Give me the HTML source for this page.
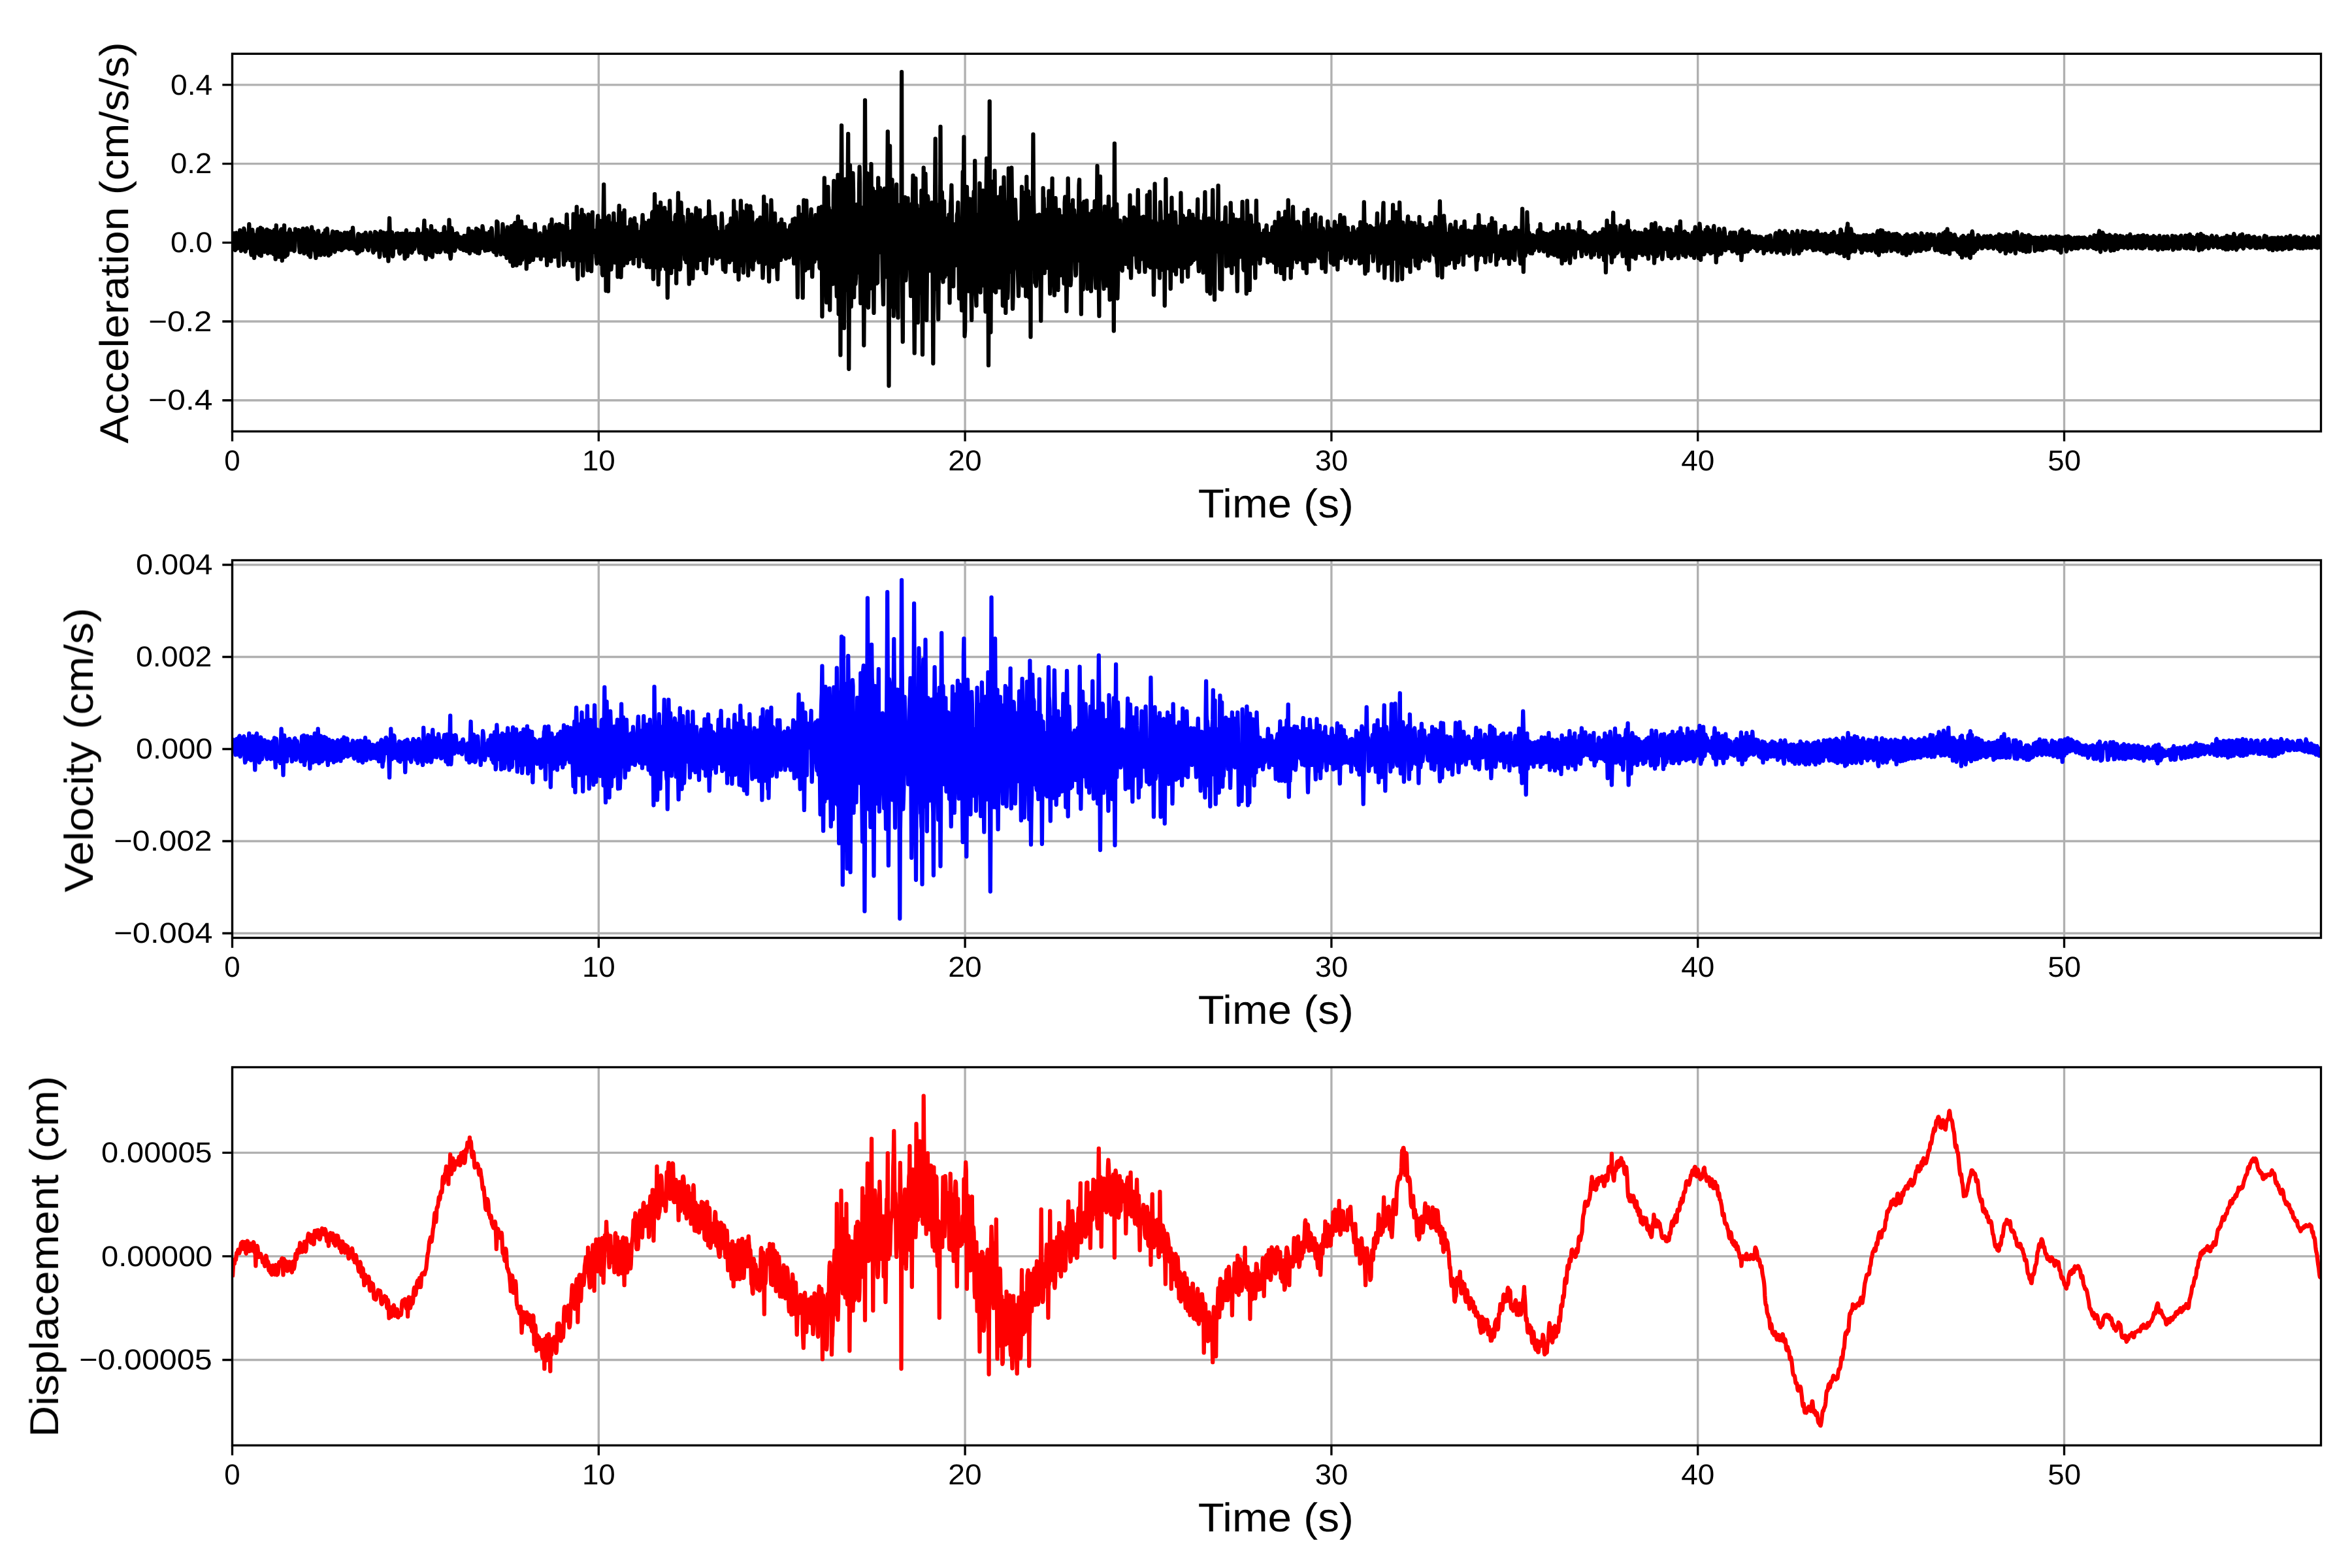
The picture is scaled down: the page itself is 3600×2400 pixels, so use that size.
<!DOCTYPE html>
<html><head><meta charset="utf-8"><title>Acceleration, Velocity, Displacement</title>
<style>html,body{margin:0;padding:0;background:#fff}body{width:3600px;height:2400px;overflow:hidden;font-family:"Liberation Sans",sans-serif}svg{display:block}</style></head>
<body>
<svg width="3600" height="2400" viewBox="0 0 3600 2400">
<rect width="3600" height="2400" fill="#fff"/>
<defs><clipPath id="c0"><rect x="355.5" y="82.3" width="3197.0" height="578.0"/></clipPath><clipPath id="c1"><rect x="355.5" y="857.5" width="3197.0" height="578.0"/></clipPath><clipPath id="c2"><rect x="355.5" y="1633.5" width="3197.0" height="578.8"/></clipPath></defs>
<g><path d="M355.50,82.30V660.30M916.30,82.30V660.30M1477.10,82.30V660.30M2037.90,82.30V660.30M2598.70,82.30V660.30M3159.50,82.30V660.30M355.50,129.86H3552.50M355.50,250.58H3552.50M355.50,371.30H3552.50M355.50,492.02H3552.50M355.50,612.74H3552.50" stroke="#b0b0b0" stroke-width="3.333" fill="none"/><path clip-path="url(#c0)" d="M355.5,376.9 356.1,379.9 356.6,376.3 357.2,365.4 357.7,362.8 358.3,357.2 358.9,363.3 359.4,377.6 360.0,383.0 360.5,381.5 361.1,359.9 361.7,356.3 362.2,365.7 362.8,380.5 363.4,379.1 363.9,376.9 364.5,379.7 365.0,378.0 365.6,364.1 366.2,360.0 366.7,359.6 367.3,352.4 367.8,358.7 368.4,378.7 369.0,384.1 369.5,377.1 370.1,358.3 370.6,357.3 371.2,372.2 371.8,381.0 372.3,380.0 372.9,358.0 373.4,349.7 374.0,351.8 374.6,376.7 375.1,384.0 375.7,384.9 376.2,375.1 376.8,357.3 377.4,365.6 377.9,380.4 378.5,379.2 379.1,364.2 379.6,361.2 380.2,366.3 380.7,362.0 381.3,343.2 381.9,355.2 382.4,362.7 383.0,365.0 383.5,368.4 384.1,386.6 384.7,390.3 385.2,384.3 385.8,354.2 386.3,351.6 386.9,357.2 387.5,362.2 388.0,361.8 388.6,378.9 389.1,394.8 389.7,388.1 390.3,382.1 390.8,386.8 391.4,387.7 392.0,374.6 392.5,359.3 393.1,358.7 393.6,358.4 394.2,354.4 394.8,351.0 395.3,352.4 395.9,370.7 396.4,388.7 397.0,390.1 397.6,385.5 398.1,365.8 398.7,348.7 399.2,383.5 399.8,391.5 400.4,377.4 400.9,353.3 401.5,350.3 402.0,353.2 402.6,366.5 403.2,378.8 403.7,379.9 404.3,383.6 404.9,385.6 405.4,383.3 406.0,380.7 406.5,380.1 407.1,365.6 407.7,352.9 408.2,351.4 408.8,351.3 409.3,381.9 409.9,387.8 410.5,381.4 411.0,373.5 411.6,368.6 412.1,359.2 412.7,353.3 413.3,358.1 413.8,382.8 414.4,386.6 414.9,382.5 415.5,382.9 416.1,384.9 416.6,366.8 417.2,354.3 417.7,363.0 418.3,388.7 418.9,389.1 419.4,364.2 420.0,351.9 420.6,355.1 421.1,380.2 421.7,396.7 422.2,360.1 422.8,345.0 423.4,357.1 423.9,378.5 424.5,387.4 425.0,382.8 425.6,360.2 426.2,359.2 426.7,386.7 427.3,393.1 427.8,391.2 428.4,374.7 429.0,357.2 429.5,353.8 430.1,351.4 430.6,350.9 431.2,354.9 431.8,398.9 432.3,388.0 432.9,383.7 433.5,374.7 434.0,373.9 434.6,367.9 435.1,345.0 435.7,379.7 436.3,393.0 436.8,375.7 437.4,360.0 437.9,357.9 438.5,374.2 439.1,388.2 439.6,390.5 440.2,389.1 440.7,378.1 441.3,356.7 441.9,356.6 442.4,358.3 443.0,353.2 443.5,351.3 444.1,355.4 444.7,375.0 445.2,382.4 445.8,381.3 446.3,375.8 446.9,364.3 447.5,357.5 448.0,358.3 448.6,369.5 449.2,379.1 449.7,383.4 450.3,384.1 450.8,383.4 451.4,376.5 452.0,350.6 452.5,364.3 453.1,365.0 453.6,360.0 454.2,356.7 454.8,359.2 455.3,366.5 455.9,366.0 456.4,356.9 457.0,352.1 457.6,353.5 458.1,377.2 458.7,386.0 459.2,386.1 459.8,382.4 460.4,356.9 460.9,353.5 461.5,360.6 462.1,375.8 462.6,375.6 463.2,364.5 463.7,349.8 464.3,373.3 464.9,376.1 465.4,387.8 466.0,373.6 466.5,366.1 467.1,374.4 467.7,383.3 468.2,385.8 468.8,378.7 469.3,352.8 469.9,349.4 470.5,351.3 471.0,364.6 471.6,384.3 472.1,389.9 472.7,390.2 473.3,381.1 473.8,363.8 474.4,376.6 475.0,393.3 475.5,385.6 476.1,367.2 476.6,353.5 477.2,347.6 477.8,356.9 478.3,364.9 478.9,364.2 479.4,358.6 480.0,354.7 480.6,357.4 481.1,376.8 481.7,383.5 482.2,383.3 482.8,388.2 483.4,394.8 483.9,382.3 484.5,369.0 485.0,386.9 485.6,390.5 486.2,363.2 486.7,353.5 487.3,353.4 487.8,367.3 488.4,380.0 489.0,362.4 489.5,360.1 490.1,377.8 490.7,390.4 491.2,371.4 491.8,374.1 492.3,386.4 492.9,387.8 493.5,382.0 494.0,368.4 494.6,360.1 495.1,357.5 495.7,367.5 496.3,388.3 496.8,389.9 497.4,376.5 497.9,352.5 498.5,353.1 499.1,372.0 499.6,378.4 500.2,356.8 500.7,349.8 501.3,356.1 501.9,372.8 502.4,380.8 503.0,391.1 503.6,379.9 504.1,374.6 504.7,376.4 505.2,386.6 505.8,388.9 506.4,385.3 506.9,365.1 507.5,361.2 508.0,362.8 508.6,357.3 509.2,354.2 509.7,356.8 510.3,366.1 510.8,375.0 511.4,378.8 512.0,384.1 512.5,385.6 513.1,382.8 513.6,361.6 514.2,355.4 514.8,360.1 515.3,375.2 515.9,364.9 516.4,355.0 517.0,366.2 517.6,381.1 518.1,381.4 518.7,373.5 519.3,361.3 519.8,365.3 520.4,375.5 520.9,365.0 521.5,357.5 522.1,358.9 522.6,383.0 523.2,382.2 523.7,382.1 524.3,373.3 524.9,360.4 525.4,373.0 526.0,380.2 526.5,377.8 527.1,362.6 527.7,356.1 528.2,359.6 528.8,367.9 529.3,378.1 529.9,378.6 530.5,372.2 531.0,359.1 531.6,356.4 532.2,357.5 532.7,364.3 533.3,377.2 533.8,380.4 534.4,381.2 535.0,377.6 535.5,373.4 536.1,368.7 536.6,359.3 537.2,354.6 537.8,361.3 538.3,379.7 538.9,380.3 539.4,359.0 540.0,348.7 540.6,355.8 541.1,368.4 541.7,368.3 542.2,372.9 542.8,380.7 543.4,382.6 543.9,380.6 544.5,379.0 545.1,376.9 545.6,374.0 546.2,377.3 546.7,387.8 547.3,364.6 547.9,358.9 548.4,357.9 549.0,363.2 549.5,383.5 550.1,385.2 550.7,377.5 551.2,359.7 551.8,359.8 552.3,366.4 552.9,374.8 553.5,378.2 554.0,381.2 554.6,383.0 555.1,375.3 555.7,361.6 556.3,359.3 556.8,361.8 557.4,373.9 557.9,376.8 558.5,369.3 559.1,362.3 559.6,356.1 560.2,360.4 560.8,375.9 561.3,378.7 561.9,372.4 562.4,375.3 563.0,381.9 563.6,383.0 564.1,379.1 564.7,371.9 565.2,368.6 565.8,363.9 566.4,357.9 566.9,356.0 567.5,357.1 568.0,365.5 568.6,376.8 569.2,366.5 569.7,361.0 570.3,372.4 570.8,384.8 571.4,386.5 572.0,384.0 572.5,379.4 573.1,381.9 573.7,383.2 574.2,355.0 574.8,362.5 575.3,361.5 575.9,359.3 576.5,356.7 577.0,358.3 577.6,370.5 578.1,382.1 578.7,373.6 579.3,361.6 579.8,365.5 580.4,386.6 580.9,393.3 581.5,389.0 582.1,364.1 582.6,354.2 583.2,357.6 583.7,369.8 584.3,369.7 584.9,360.2 585.4,363.6 586.0,382.1 586.5,377.8 587.1,356.0 587.7,357.2 588.2,385.3 588.8,391.6 589.4,390.8 589.9,386.6 590.5,374.4 591.0,358.6 591.6,357.1 592.2,358.0 592.7,356.5 593.3,362.1 593.8,386.7 594.4,399.6 595.0,384.3 595.5,357.6 596.1,334.0 596.6,352.5 597.2,355.8 597.8,367.7 598.3,386.3 598.9,386.8 599.4,363.8 600.0,355.6 600.6,381.3 601.1,392.4 601.7,390.3 602.3,375.1 602.8,367.5 603.4,374.6 603.9,364.2 604.5,362.0 605.1,378.3 605.6,378.7 606.2,359.6 606.7,357.6 607.3,366.9 607.9,376.8 608.4,365.0 609.0,357.2 609.5,359.8 610.1,364.4 610.7,380.6 611.2,386.7 611.8,388.2 612.3,381.3 612.9,359.7 613.5,358.0 614.0,369.3 614.6,385.2 615.2,374.6 615.7,357.6 616.3,357.7 616.8,372.6 617.4,384.1 618.0,378.1 618.5,373.2 619.1,382.6 619.6,395.9 620.2,387.1 620.8,375.5 621.3,356.0 621.9,352.4 622.4,358.1 623.0,388.2 623.6,392.3 624.1,387.4 624.7,368.0 625.2,363.4 625.8,366.8 626.4,367.9 626.9,362.7 627.5,358.3 628.0,357.5 628.6,361.0 629.2,379.0 629.7,386.4 630.3,386.7 630.9,385.2 631.4,379.1 632.0,363.1 632.5,357.9 633.1,365.7 633.7,380.2 634.2,381.1 634.8,378.2 635.3,375.1 635.9,366.5 636.5,359.9 637.0,357.7 637.6,361.1 638.1,364.7 638.7,356.5 639.3,350.8 639.8,351.6 640.4,358.1 640.9,375.6 641.5,383.0 642.1,386.7 642.6,384.6 643.2,384.6 643.8,384.4 644.3,380.2 644.9,364.9 645.4,358.6 646.0,357.4 646.6,361.8 647.1,382.4 647.7,387.5 648.2,364.5 648.8,349.4 649.4,337.7 649.9,354.2 650.5,362.5 651.0,383.1 651.6,396.7 652.2,391.0 652.7,362.8 653.3,352.2 653.8,357.3 654.4,365.5 655.0,363.9 655.5,374.1 656.1,387.2 656.6,388.7 657.2,386.0 657.8,388.7 658.3,390.6 658.9,386.8 659.5,365.9 660.0,346.1 660.6,352.6 661.1,377.9 661.7,393.3 662.3,385.3 662.8,356.0 663.4,354.5 663.9,370.0 664.5,379.1 665.1,362.9 665.6,353.6 666.2,353.4 666.7,358.5 667.3,363.5 667.9,374.6 668.4,385.6 669.0,385.8 669.5,368.8 670.1,357.2 670.7,359.8 671.2,364.7 671.8,370.1 672.4,375.6 672.9,380.1 673.5,386.0 674.0,385.1 674.6,383.8 675.2,372.6 675.7,358.0 676.3,360.2 676.8,364.6 677.4,364.7 678.0,376.4 678.5,380.4 679.1,363.5 679.6,348.3 680.2,347.5 680.8,361.6 681.3,381.1 681.9,384.9 682.4,382.4 683.0,380.2 683.6,372.6 684.1,362.8 684.7,358.6 685.3,355.4 685.8,369.2 686.4,385.8 686.9,372.9 687.5,336.6 688.1,350.3 688.6,381.8 689.2,393.2 689.7,395.9 690.3,390.6 690.9,362.9 691.4,349.2 692.0,352.6 692.5,376.2 693.1,377.9 693.7,360.7 694.2,358.0 694.8,365.3 695.3,379.1 695.9,383.8 696.5,382.3 697.0,364.0 697.6,357.9 698.1,373.0 698.7,378.2 699.3,364.5 699.8,357.2 700.4,359.8 701.0,363.5 701.5,371.4 702.1,369.8 702.6,363.2 703.2,362.7 703.8,377.5 704.3,380.6 704.9,380.8 705.4,366.4 706.0,363.6 706.6,374.2 707.1,370.0 707.7,363.5 708.2,363.6 708.8,366.7 709.4,383.0 709.9,368.3 710.5,360.9 711.0,363.4 711.6,374.3 712.2,374.3 712.7,376.8 713.3,383.8 713.9,384.1 714.4,373.6 715.0,360.5 715.5,369.6 716.1,375.8 716.7,356.9 717.2,349.8 717.8,361.4 718.3,386.3 718.9,387.8 719.5,379.2 720.0,354.5 720.6,356.3 721.1,367.9 721.7,360.5 722.3,354.2 722.8,365.4 723.4,383.2 723.9,381.7 724.5,368.2 725.1,359.0 725.6,355.9 726.2,357.2 726.7,376.0 727.3,385.2 727.9,383.6 728.4,358.9 729.0,349.9 729.6,354.6 730.1,382.7 730.7,387.1 731.2,380.2 731.8,351.7 732.4,353.0 732.9,379.4 733.5,387.8 734.0,382.0 734.6,367.9 735.2,360.6 735.7,370.6 736.3,379.4 736.8,379.8 737.4,374.5 738.0,359.4 738.5,346.1 739.1,350.2 739.6,354.0 740.2,364.4 740.8,364.5 741.3,365.5 741.9,380.7 742.5,383.8 743.0,382.4 743.6,373.9 744.1,357.2 744.7,361.2 745.3,375.5 745.8,383.0 746.4,369.5 746.9,361.6 747.5,378.4 748.1,382.9 748.6,374.4 749.2,354.9 749.7,356.8 750.3,377.7 750.9,381.3 751.4,366.9 752.0,351.0 752.5,349.2 753.1,353.6 753.7,362.7 754.2,372.9 754.8,380.5 755.4,385.1 755.9,385.6 756.5,382.5 757.0,377.2 757.6,373.4 758.2,374.4 758.7,378.1 759.3,382.4 759.8,390.4 760.4,338.8 761.0,339.9 761.5,340.1 762.1,351.6 762.6,382.8 763.2,384.7 763.8,383.9 764.3,383.8 764.9,379.8 765.4,362.7 766.0,371.7 766.6,389.3 767.1,383.2 767.7,373.6 768.2,365.7 768.8,357.3 769.4,343.2 769.9,348.1 770.5,353.6 771.1,362.6 771.6,367.8 772.2,382.7 772.7,389.0 773.3,384.1 773.9,357.7 774.4,362.9 775.0,387.7 775.5,394.8 776.1,356.5 776.7,347.7 777.2,351.6 777.8,375.5 778.3,385.6 778.9,369.1 779.5,352.4 780.0,356.1 780.6,392.8 781.1,400.4 781.7,394.8 782.3,356.9 782.8,346.1 783.4,358.9 784.0,367.5 784.5,392.7 785.1,407.0 785.6,390.5 786.2,346.6 786.8,344.0 787.3,362.6 787.9,360.3 788.4,341.1 789.0,345.4 789.6,394.8 790.1,400.4 790.7,406.2 791.2,393.6 791.8,383.7 792.4,351.6 792.9,331.4 793.5,379.7 794.0,390.7 794.6,378.4 795.2,355.9 795.7,383.4 796.3,403.4 796.8,399.3 797.4,344.9 798.0,338.8 798.5,353.2 799.1,397.5 799.7,383.5 800.2,347.4 800.8,351.4 801.3,386.9 801.9,393.3 802.5,389.8 803.0,392.6 803.6,379.8 804.1,352.7 804.7,347.6 805.3,383.6 805.8,411.4 806.4,394.7 806.9,363.0 807.5,355.5 808.1,353.8 808.6,352.8 809.2,358.2 809.7,391.5 810.3,401.2 810.9,400.2 811.4,393.2 812.0,367.0 812.6,353.1 813.1,353.9 813.7,367.0 814.2,367.3 814.8,353.7 815.4,353.9 815.9,397.8 816.5,392.6 817.0,392.7 817.6,383.1 818.2,356.9 818.7,343.2 819.3,351.3 819.8,353.3 820.4,358.6 821.0,375.4 821.5,386.5 822.1,390.3 822.6,391.3 823.2,384.9 823.8,362.5 824.3,360.6 824.9,379.3 825.5,388.4 826.0,363.3 826.6,357.2 827.1,370.3 827.7,396.7 828.3,387.8 828.8,384.7 829.4,385.3 829.9,385.7 830.5,377.8 831.1,360.8 831.6,368.4 832.2,391.1 832.7,373.9 833.3,347.6 833.9,352.6 834.4,359.6 835.0,363.3 835.5,357.8 836.1,359.4 836.7,394.2 837.2,405.9 837.8,388.8 838.3,354.6 838.9,372.8 839.5,395.1 840.0,387.4 840.6,354.1 841.2,346.4 841.7,344.2 842.3,346.1 842.8,362.3 843.4,399.6 844.0,366.4 844.5,335.8 845.1,379.8 845.6,390.4 846.2,388.6 846.8,373.1 847.3,357.7 847.9,380.1 848.4,390.3 849.0,393.0 849.6,383.2 850.1,363.2 850.7,347.5 851.2,343.9 851.8,348.4 852.4,362.6 852.9,357.3 853.5,353.6 854.1,386.1 854.6,398.4 855.2,407.0 855.7,362.0 856.3,343.2 856.9,382.6 857.4,382.3 858.0,359.1 858.5,361.8 859.1,381.3 859.7,368.9 860.2,350.4 860.8,345.7 861.3,349.9 861.9,374.6 862.5,392.6 863.0,405.1 863.6,386.8 864.1,356.6 864.7,360.0 865.3,394.2 865.8,398.6 866.4,381.5 866.9,344.3 867.5,328.4 868.1,345.4 868.6,352.0 869.2,368.1 869.8,392.1 870.3,395.2 870.9,384.8 871.4,370.8 872.0,388.8 872.6,398.1 873.1,395.1 873.7,366.3 874.2,354.4 874.8,357.9 875.4,353.4 875.9,393.5 876.5,407.7 877.0,381.1 877.6,327.7 878.2,384.9 878.7,397.8 879.3,394.2 879.8,382.1 880.4,362.0 881.0,351.3 881.5,347.9 882.1,341.2 882.7,316.6 883.2,340.5 883.8,409.6 884.3,427.3 884.9,385.6 885.5,331.2 886.0,334.9 886.6,362.2 887.1,391.7 887.7,397.0 888.3,398.6 888.8,394.9 889.4,382.4 889.9,350.6 890.5,321.1 891.1,345.8 891.6,395.3 892.2,421.7 892.7,409.4 893.3,346.8 893.9,329.1 894.4,333.2 895.0,365.8 895.6,387.8 896.1,378.1 896.7,373.2 897.2,382.0 897.8,389.5 898.4,391.7 898.9,395.8 899.5,413.6 900.0,378.1 900.6,328.4 901.2,350.8 901.7,387.6 902.3,374.2 902.8,342.1 903.4,336.8 904.0,350.7 904.5,405.4 905.1,415.1 905.6,399.7 906.2,339.4 906.8,324.8 907.3,360.1 907.9,382.2 908.4,362.1 909.0,360.8 909.6,381.7 910.1,385.9 910.7,365.9 911.3,352.8 911.8,370.2 912.4,393.1 912.9,397.7 913.5,403.3 914.1,355.4 914.6,337.5 915.2,330.3 915.7,343.3 916.3,366.7 916.9,390.1 917.4,394.8 918.0,374.8 918.5,338.1 919.1,361.1 919.7,403.9 920.2,396.4 920.8,343.1 921.3,382.5 921.9,419.2 922.5,421.3 923.0,384.3 923.6,326.2 924.2,282.4 924.7,331.0 925.3,334.6 925.8,331.9 926.4,334.3 927.0,355.0 927.5,445.0 928.1,408.1 928.6,399.7 929.2,381.8 929.8,385.4 930.3,398.9 930.9,445.7 931.4,391.6 932.0,330.3 932.6,347.1 933.1,342.5 933.7,341.2 934.2,353.8 934.8,404.5 935.4,412.5 935.9,405.5 936.5,383.6 937.0,343.7 937.6,343.9 938.2,358.1 938.7,354.5 939.3,326.6 939.9,342.0 940.4,384.2 941.0,401.9 941.5,395.0 942.1,386.1 942.7,383.8 943.2,367.6 943.8,353.2 944.3,342.7 944.9,348.8 945.5,423.6 946.0,409.7 946.6,374.3 947.1,337.0 947.7,314.8 948.3,357.7 948.8,391.3 949.4,406.5 949.9,406.8 950.5,424.3 951.1,396.1 951.6,390.0 952.2,340.8 952.8,326.1 953.3,329.1 953.9,391.9 954.4,406.3 955.0,362.4 955.6,321.8 956.1,364.3 956.7,397.1 957.2,392.4 957.8,379.4 958.4,357.1 958.9,354.0 959.5,377.8 960.0,402.6 960.6,356.1 961.2,347.8 961.7,357.3 962.3,382.4 962.8,393.9 963.4,396.8 964.0,387.5 964.5,339.3 965.1,335.7 965.7,342.9 966.2,376.2 966.8,386.4 967.3,388.0 967.9,385.6 968.5,377.8 969.0,383.6 969.6,403.3 970.1,390.4 970.7,347.5 971.3,334.0 971.8,353.0 972.4,392.0 972.9,383.9 973.5,346.2 974.1,343.5 974.6,354.8 975.2,374.2 975.7,368.3 976.3,373.1 976.9,387.5 977.4,393.6 978.0,407.7 978.5,397.1 979.1,380.4 979.7,355.0 980.2,382.8 980.8,392.4 981.4,381.3 981.9,350.9 982.5,344.8 983.0,343.7 983.6,329.2 984.2,345.7 984.7,366.5 985.3,391.4 985.8,399.6 986.4,387.5 987.0,350.0 987.5,340.7 988.1,343.2 988.6,357.6 989.2,385.1 989.8,408.8 990.3,392.8 990.9,374.8 991.4,355.6 992.0,362.4 992.6,371.0 993.1,337.7 993.7,378.4 994.3,405.0 994.8,409.0 995.4,393.1 995.9,345.3 996.5,348.5 997.1,390.0 997.6,362.6 998.2,325.6 998.7,324.6 999.3,397.5 999.9,427.3 1000.4,402.6 1001.0,361.6 1001.5,358.4 1002.1,297.1 1002.7,342.7 1003.2,399.6 1003.8,409.2 1004.3,384.5 1004.9,341.2 1005.5,322.2 1006.0,316.0 1006.6,327.6 1007.1,397.1 1007.7,435.4 1008.3,402.9 1008.8,388.9 1009.4,401.1 1010.0,412.3 1010.5,407.7 1011.1,310.0 1011.6,339.9 1012.2,332.5 1012.8,334.3 1013.3,345.7 1013.9,374.5 1014.4,382.6 1015.0,384.7 1015.6,396.2 1016.1,407.0 1016.7,349.7 1017.2,318.1 1017.8,345.4 1018.4,404.4 1018.9,411.8 1019.5,355.3 1020.0,324.9 1020.6,328.0 1021.2,404.4 1021.7,455.6 1022.3,422.5 1022.9,382.9 1023.4,352.3 1024.0,355.8 1024.5,343.2 1025.1,307.4 1025.7,334.8 1026.2,358.8 1026.8,396.3 1027.3,418.0 1027.9,399.6 1028.5,375.5 1029.0,341.3 1029.6,387.2 1030.1,400.8 1030.7,391.1 1031.3,387.1 1031.8,405.9 1032.4,408.8 1032.9,362.8 1033.5,331.4 1034.1,329.0 1034.6,352.8 1035.2,433.5 1035.8,338.6 1036.3,335.1 1036.9,354.7 1037.4,342.5 1038.0,295.3 1038.6,355.2 1039.1,381.1 1039.7,388.2 1040.2,409.1 1040.8,412.5 1041.4,408.4 1041.9,351.3 1042.5,310.0 1043.0,325.2 1043.6,364.7 1044.2,387.6 1044.7,347.2 1045.3,331.5 1045.8,341.1 1046.4,359.2 1047.0,364.4 1047.5,381.1 1048.1,397.0 1048.6,395.3 1049.2,376.6 1049.8,387.0 1050.3,401.3 1050.9,392.1 1051.5,357.3 1052.0,345.0 1052.6,336.2 1053.1,321.1 1053.7,345.9 1054.3,411.8 1054.8,434.6 1055.4,411.8 1055.9,393.9 1056.5,399.2 1057.1,398.6 1057.6,356.7 1058.2,337.6 1058.7,328.4 1059.3,343.3 1059.9,384.2 1060.4,426.2 1061.0,399.5 1061.5,381.2 1062.1,374.4 1062.7,392.4 1063.2,403.6 1063.8,406.2 1064.4,394.3 1064.9,336.2 1065.5,318.5 1066.0,329.5 1066.6,366.3 1067.2,410.7 1067.7,379.2 1068.3,347.0 1068.8,361.6 1069.4,391.9 1070.0,390.4 1070.5,366.9 1071.1,321.8 1071.6,393.5 1072.2,398.0 1072.8,375.2 1073.3,354.5 1073.9,385.1 1074.4,379.0 1075.0,340.1 1075.6,337.3 1076.1,348.9 1076.7,391.8 1077.2,412.5 1077.8,401.2 1078.4,388.9 1078.9,348.4 1079.5,334.0 1080.1,388.7 1080.6,418.0 1081.2,403.5 1081.7,396.8 1082.3,358.9 1082.9,332.1 1083.4,343.0 1084.0,391.7 1084.5,374.0 1085.1,308.2 1085.7,323.5 1086.2,341.9 1086.8,369.9 1087.3,381.1 1087.9,389.4 1088.5,382.9 1089.0,332.1 1089.6,367.2 1090.1,403.3 1090.7,394.6 1091.3,382.8 1091.8,360.7 1092.4,386.4 1093.0,391.9 1093.5,364.3 1094.1,331.4 1094.6,341.0 1095.2,359.4 1095.8,355.2 1096.3,348.3 1096.9,379.1 1097.4,395.9 1098.0,387.0 1098.6,356.8 1099.1,355.0 1099.7,368.3 1100.2,382.3 1100.8,392.7 1101.4,393.5 1101.9,378.7 1102.5,361.2 1103.0,373.7 1103.6,361.6 1104.2,341.6 1104.7,326.6 1105.3,337.8 1105.9,358.9 1106.4,401.3 1107.0,412.5 1107.5,393.1 1108.1,361.7 1108.7,354.8 1109.2,363.6 1109.8,393.4 1110.3,416.2 1110.9,402.1 1111.5,393.0 1112.0,362.0 1112.6,346.9 1113.1,356.1 1113.7,379.5 1114.3,370.9 1114.8,347.8 1115.4,344.7 1115.9,376.4 1116.5,401.5 1117.1,394.6 1117.6,382.0 1118.2,345.2 1118.7,334.3 1119.3,336.5 1119.9,366.2 1120.4,393.2 1121.0,397.6 1121.6,396.0 1122.1,390.8 1122.7,376.3 1123.2,307.4 1123.8,334.0 1124.4,354.0 1124.9,415.1 1125.5,389.2 1126.0,336.9 1126.6,324.8 1127.2,344.1 1127.7,393.7 1128.3,397.4 1128.8,366.0 1129.4,369.3 1130.0,403.8 1130.5,428.0 1131.1,395.0 1131.6,394.4 1132.2,406.9 1132.8,401.4 1133.3,337.6 1133.9,307.4 1134.5,330.2 1135.0,400.8 1135.6,394.6 1136.1,326.2 1136.7,323.3 1137.3,381.1 1137.8,417.3 1138.4,400.3 1138.9,360.9 1139.5,360.6 1140.1,373.3 1140.6,351.5 1141.2,361.5 1141.7,386.1 1142.3,354.6 1142.9,314.4 1143.4,334.2 1144.0,353.9 1144.5,393.3 1145.1,421.7 1145.7,394.3 1146.2,396.4 1146.8,407.1 1147.3,408.5 1147.9,390.9 1148.5,315.5 1149.0,332.1 1149.6,343.9 1150.2,345.3 1150.7,332.5 1151.3,324.8 1151.8,382.5 1152.4,412.5 1153.0,391.3 1153.5,374.1 1154.1,390.8 1154.6,398.6 1155.2,393.6 1155.8,384.6 1156.3,381.7 1156.9,363.0 1157.4,342.7 1158.0,339.7 1158.6,348.7 1159.1,348.5 1159.7,336.9 1160.2,344.4 1160.8,389.8 1161.4,401.5 1161.9,395.5 1162.5,366.5 1163.1,338.0 1163.6,332.9 1164.2,336.4 1164.7,347.1 1165.3,358.2 1165.9,362.1 1166.4,379.3 1167.0,405.6 1167.5,425.4 1168.1,409.6 1168.7,353.3 1169.2,300.8 1169.8,384.5 1170.3,404.1 1170.9,385.5 1171.5,342.7 1172.0,339.3 1172.6,339.5 1173.1,313.7 1173.7,338.6 1174.3,348.8 1174.8,367.1 1175.4,391.1 1176.0,400.8 1176.5,408.1 1177.1,430.9 1177.6,405.4 1178.2,388.8 1178.8,377.7 1179.3,377.3 1179.9,351.3 1180.4,306.3 1181.0,327.7 1181.6,332.2 1182.1,365.8 1182.7,407.7 1183.2,408.7 1183.8,385.6 1184.4,355.0 1184.9,363.2 1185.5,359.0 1186.0,326.6 1186.6,349.6 1187.2,351.3 1187.7,352.0 1188.3,376.2 1188.8,405.2 1189.4,413.8 1190.0,427.3 1190.5,407.7 1191.1,380.7 1191.7,355.7 1192.2,348.5 1192.8,342.2 1193.3,342.0 1193.9,353.7 1194.5,393.2 1195.0,397.9 1195.6,373.6 1196.1,335.8 1196.7,359.2 1197.3,390.6 1197.8,392.6 1198.4,386.3 1198.9,388.9 1199.5,386.5 1200.1,352.3 1200.6,342.8 1201.2,353.3 1201.7,392.9 1202.3,392.9 1202.9,395.9 1203.4,358.6 1204.0,353.7 1204.6,352.8 1205.1,356.2 1205.7,356.5 1206.2,354.9 1206.8,376.6 1207.4,392.2 1207.9,394.0 1208.5,384.7 1209.0,347.7 1209.6,344.9 1210.2,354.3 1210.7,381.1 1211.3,389.9 1211.8,389.1 1212.4,378.1 1213.0,354.4 1213.5,335.8 1214.1,354.0 1214.6,382.5 1215.2,403.3 1215.8,394.6 1216.3,351.5 1216.9,334.3 1217.4,335.3 1218.0,359.5 1218.6,385.2 1219.1,374.4 1219.7,386.9 1220.3,405.5 1220.8,454.9 1221.4,411.2 1221.9,392.1 1222.5,316.6 1223.1,376.2 1223.6,367.5 1224.2,336.8 1224.7,328.1 1225.3,331.6 1225.9,352.5 1226.4,382.2 1227.0,379.3 1227.5,380.5 1228.1,399.0 1228.7,455.6 1229.2,402.7 1229.8,351.6 1230.3,306.3 1230.9,339.4 1231.5,387.4 1232.0,412.1 1232.6,413.9 1233.2,397.8 1233.7,347.5 1234.3,307.1 1234.8,342.3 1235.4,350.9 1236.0,360.1 1236.5,377.9 1237.1,410.7 1237.6,379.4 1238.2,343.4 1238.8,339.7 1239.3,383.1 1239.9,402.5 1240.4,385.4 1241.0,329.7 1241.6,320.3 1242.1,349.1 1242.7,407.7 1243.2,423.6 1243.8,401.7 1244.4,373.4 1244.9,355.4 1245.5,380.0 1246.1,398.9 1246.6,400.8 1247.2,388.0 1247.7,341.6 1248.3,329.2 1248.9,333.6 1249.4,375.5 1250.0,382.9 1250.5,363.4 1251.1,380.3 1251.7,395.9 1252.2,378.4 1252.8,332.2 1253.3,318.1 1253.9,379.9 1254.5,409.5 1255.0,410.6 1255.6,368.8 1256.1,329.0 1256.7,317.5 1257.3,316.4 1257.8,365.6 1258.4,484.4 1258.9,431.3 1259.5,370.1 1260.1,397.6 1260.6,433.2 1261.2,394.0 1261.8,272.4 1262.3,312.4 1262.9,345.2 1263.4,341.4 1264.0,336.9 1264.6,431.7 1265.1,462.9 1265.7,459.3 1266.2,380.0 1266.8,306.8 1267.4,286.0 1267.9,323.9 1268.5,317.4 1269.0,322.8 1269.6,397.0 1270.2,474.5 1270.7,417.7 1271.3,389.6 1271.8,399.9 1272.4,382.5 1273.0,323.2 1273.5,345.7 1274.1,422.3 1274.7,434.6 1275.2,388.6 1275.8,298.7 1276.3,276.8 1276.9,330.8 1277.5,372.9 1278.0,332.9 1278.6,313.4 1279.1,312.3 1279.7,336.8 1280.3,430.9 1280.8,453.6 1281.4,435.7 1281.9,316.6 1282.5,267.6 1283.1,419.0 1283.6,480.7 1284.2,468.1 1284.7,437.7 1285.3,324.4 1285.9,324.1 1286.4,543.4 1287.0,412.6 1287.5,281.0 1288.1,192.0 1288.7,293.2 1289.2,383.5 1289.8,338.8 1290.4,291.7 1290.9,318.3 1291.5,453.4 1292.0,502.1 1292.6,442.6 1293.2,293.8 1293.7,274.3 1294.3,329.4 1294.8,442.3 1295.4,443.4 1296.0,431.5 1296.5,443.0 1297.1,396.1 1297.6,276.8 1298.2,204.9 1298.8,414.0 1299.3,564.8 1299.9,447.6 1300.4,308.4 1301.0,252.9 1301.6,294.2 1302.1,433.5 1302.7,469.5 1303.3,440.4 1303.8,352.3 1304.4,347.7 1304.9,316.4 1305.5,265.0 1306.1,294.7 1306.6,422.0 1307.2,454.9 1307.7,405.1 1308.3,330.7 1308.9,402.5 1309.4,434.5 1310.0,425.1 1310.5,349.2 1311.1,313.1 1311.7,327.6 1312.2,385.5 1312.8,394.0 1313.3,382.6 1313.9,414.9 1314.5,417.2 1315.0,288.8 1315.6,255.4 1316.2,279.6 1316.7,421.7 1317.3,464.1 1317.8,430.3 1318.4,352.0 1319.0,328.7 1319.5,403.1 1320.1,406.6 1320.6,317.7 1321.2,333.8 1321.8,448.8 1322.3,528.6 1322.9,432.1 1323.4,317.1 1324.0,153.3 1324.6,294.2 1325.1,320.3 1325.7,426.8 1326.2,466.9 1326.8,418.9 1327.4,266.2 1327.9,265.6 1328.5,422.6 1329.0,470.8 1329.6,437.8 1330.2,351.0 1330.7,310.5 1331.3,332.0 1331.9,439.5 1332.4,441.5 1333.0,315.3 1333.5,251.0 1334.1,381.3 1334.7,437.4 1335.2,373.7 1335.8,288.4 1336.3,301.7 1336.9,427.5 1337.5,478.9 1338.0,407.4 1338.6,302.1 1339.1,293.7 1339.7,310.0 1340.3,324.0 1340.8,365.4 1341.4,426.6 1341.9,433.9 1342.5,425.0 1343.1,432.8 1343.6,373.4 1344.2,272.4 1344.8,323.9 1345.3,386.5 1345.9,383.4 1346.4,299.5 1347.0,287.7 1347.6,311.8 1348.1,316.2 1348.7,294.5 1349.2,293.2 1349.8,321.2 1350.4,392.7 1350.9,428.2 1351.5,443.7 1352.0,466.0 1352.6,408.8 1353.2,290.3 1353.7,288.6 1354.3,353.0 1354.8,423.8 1355.4,423.0 1356.0,396.2 1356.5,393.2 1357.1,423.8 1357.6,396.2 1358.2,276.5 1358.8,201.3 1359.3,281.8 1359.9,416.4 1360.5,590.6 1361.0,441.1 1361.6,384.5 1362.1,223.4 1362.7,357.2 1363.3,455.7 1363.8,469.5 1364.4,446.4 1364.9,303.1 1365.5,275.0 1366.1,307.4 1366.6,402.6 1367.2,423.1 1367.7,483.7 1368.3,399.1 1368.9,324.7 1369.4,320.2 1370.0,365.6 1370.5,401.0 1371.1,339.1 1371.7,301.4 1372.2,282.4 1372.8,421.8 1373.4,470.6 1373.9,468.4 1374.5,486.2 1375.0,313.7 1375.6,314.8 1376.2,349.7 1376.7,388.7 1377.3,394.0 1377.8,361.8 1378.4,342.8 1379.0,354.1 1379.5,323.9 1380.1,110.2 1380.6,369.5 1381.2,452.1 1381.8,523.1 1382.3,420.8 1382.9,317.7 1383.4,307.6 1384.0,332.9 1384.6,317.1 1385.1,301.9 1385.7,387.7 1386.3,429.1 1386.8,422.6 1387.4,329.8 1387.9,316.7 1388.5,335.6 1389.1,347.2 1389.6,303.4 1390.2,382.5 1390.7,409.8 1391.3,392.6 1391.9,348.3 1392.4,368.2 1393.0,407.6 1393.5,422.9 1394.1,453.1 1394.7,401.6 1395.2,321.6 1395.8,312.0 1396.3,320.7 1396.9,315.8 1397.5,268.7 1398.0,339.0 1398.6,425.5 1399.1,463.2 1399.7,540.4 1400.3,452.2 1400.8,310.0 1401.4,273.1 1402.0,326.4 1402.5,363.3 1403.1,321.8 1403.6,314.3 1404.2,394.3 1404.8,493.6 1405.3,436.4 1405.9,345.8 1406.4,320.8 1407.0,322.1 1407.6,335.8 1408.1,394.7 1408.7,442.8 1409.2,448.1 1409.8,385.6 1410.4,291.6 1410.9,342.2 1411.5,446.5 1412.0,542.7 1412.6,439.2 1413.2,315.3 1413.7,256.6 1414.3,336.1 1414.9,451.7 1415.4,439.6 1416.0,330.8 1416.5,265.8 1417.1,306.3 1417.7,380.8 1418.2,489.9 1418.8,426.2 1419.3,324.1 1419.9,300.0 1420.5,304.5 1421.0,334.9 1421.6,387.0 1422.1,389.2 1422.7,400.3 1423.3,414.4 1423.8,404.1 1424.4,376.5 1424.9,339.3 1425.5,342.9 1426.1,344.4 1426.6,310.0 1427.2,362.0 1427.7,447.8 1428.3,556.3 1428.9,433.3 1429.4,405.8 1430.0,442.6 1430.6,425.6 1431.1,290.6 1431.7,212.3 1432.2,284.5 1432.8,343.4 1433.4,360.2 1433.9,313.1 1434.5,313.2 1435.0,420.2 1435.6,466.9 1436.2,488.8 1436.7,434.5 1437.3,315.9 1437.8,314.9 1438.4,353.0 1439.0,326.1 1439.5,193.9 1440.1,330.7 1440.6,425.5 1441.2,405.5 1441.8,294.0 1442.3,309.5 1442.9,421.1 1443.5,431.5 1444.0,406.4 1444.6,329.8 1445.1,308.2 1445.7,379.8 1446.3,423.6 1446.8,339.6 1447.4,334.4 1447.9,365.6 1448.5,376.0 1449.1,385.2 1449.6,408.8 1450.2,412.4 1450.7,415.7 1451.3,420.1 1451.9,386.3 1452.4,328.6 1453.0,344.7 1453.5,463.4 1454.1,407.4 1454.7,335.5 1455.2,310.5 1455.8,304.0 1456.4,283.5 1456.9,317.7 1457.5,418.1 1458.0,436.7 1458.6,431.7 1459.2,438.3 1459.7,397.6 1460.3,353.2 1460.8,343.4 1461.4,395.7 1462.0,406.4 1462.5,359.5 1463.1,354.3 1463.6,399.1 1464.2,366.6 1464.8,329.1 1465.3,326.6 1465.9,324.7 1466.4,310.0 1467.0,337.1 1467.6,419.7 1468.1,456.8 1468.7,421.2 1469.2,406.1 1469.8,364.3 1470.4,337.4 1470.9,389.8 1471.5,448.0 1472.1,475.2 1472.6,405.3 1473.2,326.4 1473.7,262.8 1474.3,313.3 1474.9,282.2 1475.4,209.7 1476.0,321.7 1476.5,514.6 1477.1,504.7 1477.7,433.6 1478.2,393.5 1478.8,390.6 1479.3,330.1 1479.9,286.0 1480.5,319.3 1481.0,402.3 1481.6,438.3 1482.1,445.6 1482.7,445.3 1483.3,434.6 1483.8,401.1 1484.4,325.4 1485.0,304.5 1485.5,305.3 1486.1,340.9 1486.6,446.9 1487.2,489.9 1487.8,402.3 1488.3,389.6 1488.9,431.5 1489.4,421.7 1490.0,318.5 1490.6,293.4 1491.1,309.7 1491.7,350.9 1492.2,246.2 1492.8,337.3 1493.4,443.9 1493.9,455.4 1494.5,467.8 1495.0,328.5 1495.6,376.9 1496.2,426.6 1496.7,404.3 1497.3,331.0 1497.8,384.7 1498.4,426.9 1499.0,362.0 1499.5,280.5 1500.1,333.7 1500.7,447.5 1501.2,404.6 1501.8,315.8 1502.3,322.2 1502.9,396.9 1503.5,400.7 1504.0,330.0 1504.6,291.6 1505.1,324.2 1505.7,427.9 1506.3,437.2 1506.8,334.1 1507.4,300.2 1507.9,422.8 1508.5,477.0 1509.1,443.7 1509.6,291.4 1510.2,242.5 1510.7,314.9 1511.3,399.4 1511.9,398.6 1512.4,414.0 1513.0,559.2 1513.6,421.6 1514.1,336.1 1514.7,155.2 1515.2,395.9 1515.8,451.6 1516.4,508.4 1516.9,414.2 1517.5,296.6 1518.0,277.8 1518.6,278.6 1519.2,291.2 1519.7,352.4 1520.3,439.9 1520.8,445.1 1521.4,425.0 1522.0,381.4 1522.5,261.3 1523.1,332.7 1523.6,403.9 1524.2,447.5 1524.8,417.9 1525.3,373.0 1525.9,332.6 1526.5,359.2 1527.0,400.3 1527.6,345.5 1528.1,301.6 1528.7,306.1 1529.3,400.4 1529.8,440.2 1530.4,436.9 1530.9,364.0 1531.5,306.9 1532.1,287.2 1532.6,336.5 1533.2,411.6 1533.7,416.7 1534.3,416.8 1534.9,467.8 1535.4,419.9 1536.0,336.7 1536.5,271.3 1537.1,304.0 1537.7,313.0 1538.2,318.2 1538.8,390.0 1539.3,478.9 1539.9,434.3 1540.5,330.5 1541.0,339.0 1541.6,441.0 1542.2,456.0 1542.7,444.8 1543.3,387.8 1543.8,257.7 1544.4,298.3 1545.0,317.9 1545.5,400.3 1546.1,415.9 1546.6,347.9 1547.2,302.8 1547.8,290.6 1548.3,256.6 1548.9,303.5 1549.4,408.2 1550.0,472.6 1550.6,452.1 1551.1,424.4 1551.7,387.4 1552.2,406.5 1552.8,404.4 1553.4,333.9 1553.9,305.6 1554.5,324.1 1555.1,341.1 1555.6,340.5 1556.2,340.4 1556.7,377.9 1557.3,409.7 1557.9,415.0 1558.4,431.3 1559.0,453.1 1559.5,422.3 1560.1,374.7 1560.7,375.4 1561.2,373.0 1561.8,339.0 1562.3,347.8 1562.9,387.6 1563.5,333.4 1564.0,286.0 1564.6,317.1 1565.1,420.1 1565.7,437.3 1566.3,418.9 1566.8,311.1 1567.4,295.0 1567.9,311.8 1568.5,341.0 1569.1,336.6 1569.6,401.3 1570.2,453.1 1570.8,424.6 1571.3,270.6 1571.9,417.3 1572.4,447.7 1573.0,422.4 1573.6,294.9 1574.1,292.9 1574.7,421.3 1575.2,455.3 1575.8,397.2 1576.4,302.8 1576.9,336.7 1577.5,515.7 1578.0,345.5 1578.6,318.2 1579.2,351.7 1579.7,396.3 1580.3,364.5 1580.8,330.2 1581.4,205.7 1582.0,301.5 1582.5,326.6 1583.1,330.8 1583.7,360.4 1584.2,432.8 1584.8,420.1 1585.3,434.5 1585.9,437.8 1586.5,423.2 1587.0,350.3 1587.6,330.9 1588.1,329.6 1588.7,341.3 1589.3,358.4 1589.8,347.3 1590.4,330.9 1590.9,328.5 1591.5,340.9 1592.1,393.5 1592.6,430.4 1593.2,491.0 1593.7,431.6 1594.3,400.9 1594.9,385.6 1595.4,405.6 1596.0,410.2 1596.6,287.9 1597.1,309.0 1597.7,303.3 1598.2,332.7 1598.8,418.0 1599.4,395.4 1599.9,326.6 1600.5,321.1 1601.0,364.6 1601.6,400.7 1602.2,409.2 1602.7,409.7 1603.3,408.3 1603.8,405.5 1604.4,353.7 1605.0,312.8 1605.5,292.3 1606.1,334.5 1606.6,411.2 1607.2,449.4 1607.8,414.0 1608.3,330.1 1608.9,311.9 1609.4,320.5 1610.0,328.5 1610.6,273.1 1611.1,393.7 1611.7,409.2 1612.3,365.9 1612.8,354.2 1613.4,427.8 1613.9,452.0 1614.5,424.1 1615.1,308.5 1615.6,303.2 1616.2,335.1 1616.7,402.5 1617.3,381.4 1617.9,358.9 1618.4,403.5 1619.0,421.8 1619.5,443.9 1620.1,370.1 1620.7,334.9 1621.2,321.1 1621.8,336.8 1622.3,362.7 1622.9,409.6 1623.5,421.3 1624.0,404.7 1624.6,340.0 1625.2,331.1 1625.7,362.2 1626.3,401.5 1626.8,364.0 1627.4,356.7 1628.0,418.1 1628.5,434.0 1629.1,398.8 1629.6,310.3 1630.2,301.4 1630.8,312.4 1631.3,351.7 1631.9,419.7 1632.4,476.3 1633.0,433.8 1633.6,411.1 1634.1,382.5 1634.7,273.1 1635.2,315.3 1635.8,311.8 1636.4,351.2 1636.9,412.8 1637.5,407.7 1638.0,417.1 1638.6,436.6 1639.2,428.4 1639.7,349.0 1640.3,329.9 1640.9,336.8 1641.4,329.2 1642.0,306.3 1642.5,343.8 1643.1,355.7 1643.7,331.8 1644.2,321.9 1644.8,333.7 1645.3,385.2 1645.9,412.4 1646.5,421.7 1647.0,419.9 1647.6,398.1 1648.1,360.8 1648.7,347.3 1649.3,333.3 1649.8,329.9 1650.4,336.8 1650.9,335.8 1651.5,283.5 1652.1,275.0 1652.6,363.3 1653.2,399.5 1653.8,378.3 1654.3,388.4 1654.9,480.7 1655.4,350.4 1656.0,311.8 1656.6,338.9 1657.1,436.1 1657.7,442.9 1658.2,424.9 1658.8,331.0 1659.4,308.6 1659.9,309.3 1660.5,328.0 1661.0,397.8 1661.6,419.1 1662.2,408.6 1662.7,356.3 1663.3,307.1 1663.8,381.2 1664.4,442.0 1665.0,418.1 1665.5,406.7 1666.1,399.7 1666.7,350.5 1667.2,327.5 1667.8,332.8 1668.3,343.6 1668.9,344.3 1669.5,384.2 1670.0,445.7 1670.6,412.2 1671.1,342.6 1671.7,323.2 1672.3,329.3 1672.8,379.7 1673.4,415.0 1673.9,412.2 1674.5,392.8 1675.1,344.9 1675.6,308.2 1676.2,333.9 1676.7,426.1 1677.3,440.6 1677.9,423.2 1678.4,326.6 1679.0,313.2 1679.5,254.0 1680.1,333.7 1680.7,360.0 1681.2,423.8 1681.8,437.9 1682.4,483.7 1682.9,340.7 1683.5,308.5 1684.0,270.2 1684.6,363.0 1685.2,396.6 1685.7,347.2 1686.3,327.2 1686.8,334.0 1687.4,354.3 1688.0,395.7 1688.5,421.6 1689.1,432.7 1689.6,442.0 1690.2,347.9 1690.8,316.2 1691.3,333.5 1691.9,363.8 1692.4,330.5 1693.0,317.8 1693.6,352.7 1694.1,425.7 1694.7,437.4 1695.3,430.8 1695.8,366.2 1696.4,320.4 1696.9,300.8 1697.5,330.8 1698.1,413.8 1698.6,458.6 1699.2,412.1 1699.7,342.6 1700.3,348.6 1700.9,397.1 1701.4,380.2 1702.0,328.9 1702.5,326.7 1703.1,332.2 1703.7,319.3 1704.2,332.6 1704.8,506.5 1705.3,376.7 1705.9,219.7 1706.5,333.3 1707.0,406.7 1707.6,426.6 1708.1,412.8 1708.7,328.5 1709.3,312.6 1709.8,358.8 1710.4,456.8 1711.0,431.1 1711.5,394.0 1712.1,338.3 1712.6,368.7 1713.2,388.1 1713.8,343.6 1714.3,337.7 1714.9,349.8 1715.4,352.7 1716.0,348.3 1716.6,367.4 1717.1,411.8 1717.7,414.4 1718.2,399.4 1718.8,359.1 1719.4,360.3 1719.9,384.7 1720.5,355.7 1721.0,333.1 1721.6,335.8 1722.2,385.9 1722.7,403.9 1723.3,397.3 1723.9,350.7 1724.4,335.8 1725.0,338.9 1725.5,341.2 1726.1,340.2 1726.7,350.8 1727.2,394.4 1727.8,409.6 1728.3,406.2 1728.9,366.4 1729.5,298.9 1730.0,385.9 1730.6,412.1 1731.1,425.4 1731.7,396.5 1732.3,353.8 1732.8,366.5 1733.4,390.3 1733.9,360.3 1734.5,335.6 1735.1,317.4 1735.6,332.0 1736.2,335.6 1736.8,346.5 1737.3,363.6 1737.9,381.8 1738.4,384.2 1739.0,387.5 1739.6,402.3 1740.1,409.5 1740.7,403.4 1741.2,345.1 1741.8,290.8 1742.4,329.8 1742.9,381.3 1743.5,416.2 1744.0,398.1 1744.6,367.5 1745.2,366.5 1745.7,392.1 1746.3,396.8 1746.8,364.4 1747.4,332.9 1748.0,336.3 1748.5,372.2 1749.1,364.0 1749.6,334.6 1750.2,331.6 1750.8,351.0 1751.3,392.9 1751.9,403.4 1752.5,416.2 1753.0,399.5 1753.6,368.5 1754.1,366.1 1754.7,396.7 1755.3,395.9 1755.8,298.9 1756.4,326.4 1756.9,329.7 1757.5,369.9 1758.1,406.9 1758.6,399.2 1759.2,347.5 1759.7,293.4 1760.3,377.8 1760.9,409.5 1761.4,408.8 1762.0,377.1 1762.5,338.6 1763.1,339.1 1763.7,350.7 1764.2,350.8 1764.8,354.0 1765.4,400.6 1765.9,451.2 1766.5,413.0 1767.0,362.8 1767.6,281.3 1768.2,336.6 1768.7,340.2 1769.3,340.7 1769.8,344.2 1770.4,354.5 1771.0,391.1 1771.5,408.7 1772.1,408.9 1772.6,389.5 1773.2,351.4 1773.8,363.8 1774.3,405.2 1774.9,425.4 1775.4,352.4 1776.0,309.3 1776.6,328.4 1777.1,348.7 1777.7,404.9 1778.2,413.0 1778.8,393.4 1779.4,339.3 1779.9,344.2 1780.5,380.4 1781.1,360.8 1781.6,344.6 1782.2,385.0 1782.7,467.8 1783.3,413.0 1783.9,368.5 1784.4,274.2 1785.0,341.6 1785.5,367.4 1786.1,354.6 1786.7,335.5 1787.2,347.9 1787.8,406.5 1788.3,410.5 1788.9,362.3 1789.5,329.8 1790.0,329.8 1790.6,348.0 1791.1,395.3 1791.7,442.0 1792.3,403.3 1792.8,381.3 1793.4,302.6 1794.0,374.0 1794.5,367.3 1795.1,364.3 1795.6,396.0 1796.2,413.0 1796.8,414.3 1797.3,399.8 1797.9,338.7 1798.4,325.2 1799.0,325.2 1799.6,341.6 1800.1,419.9 1800.7,375.6 1801.2,346.0 1801.8,357.9 1802.4,389.9 1802.9,393.1 1803.5,399.3 1804.0,407.1 1804.6,402.5 1805.2,397.5 1805.7,407.9 1806.3,404.6 1806.9,348.8 1807.4,295.3 1808.0,343.4 1808.5,391.5 1809.1,430.9 1809.7,349.4 1810.2,329.8 1810.8,330.4 1811.3,351.4 1811.9,397.3 1812.5,409.3 1813.0,409.6 1813.6,397.1 1814.1,368.7 1814.7,350.2 1815.3,337.6 1815.8,334.7 1816.4,350.2 1816.9,393.2 1817.5,401.1 1818.1,423.6 1818.6,401.5 1819.2,381.6 1819.7,338.1 1820.3,322.9 1820.9,338.2 1821.4,386.3 1822.0,403.9 1822.6,403.1 1823.1,400.6 1823.7,402.1 1824.2,397.3 1824.8,348.2 1825.4,328.7 1825.9,337.3 1826.5,396.0 1827.0,398.1 1827.6,348.4 1828.2,335.2 1828.7,348.0 1829.3,387.5 1829.8,390.8 1830.4,357.3 1831.0,361.1 1831.5,395.9 1832.1,380.3 1832.6,331.5 1833.2,305.2 1833.8,369.9 1834.3,404.5 1834.9,415.1 1835.5,399.2 1836.0,359.0 1836.6,342.2 1837.1,339.2 1837.7,341.5 1838.3,363.1 1838.8,392.1 1839.4,388.2 1839.9,367.0 1840.5,386.9 1841.1,406.5 1841.6,417.3 1842.2,385.8 1842.7,332.8 1843.3,327.7 1843.9,330.4 1844.4,294.2 1845.0,356.4 1845.5,389.1 1846.1,399.9 1846.7,402.2 1847.2,402.4 1847.8,445.7 1848.3,395.5 1848.9,355.2 1849.5,340.6 1850.0,338.8 1850.6,334.3 1851.2,337.3 1851.7,390.6 1852.3,449.4 1852.8,408.1 1853.4,382.7 1854.0,385.2 1854.5,397.1 1855.1,373.3 1855.6,335.3 1856.2,290.8 1856.8,335.3 1857.3,366.9 1857.9,402.6 1858.4,411.6 1859.0,458.6 1859.6,396.3 1860.1,343.9 1860.7,339.6 1861.2,361.1 1861.8,384.9 1862.4,376.6 1862.9,353.5 1863.5,338.9 1864.1,332.3 1864.6,284.2 1865.2,351.3 1865.7,370.1 1866.3,388.8 1866.9,408.2 1867.4,442.0 1868.0,365.6 1868.5,342.7 1869.1,398.9 1869.7,416.8 1870.2,443.1 1870.8,350.4 1871.3,340.8 1871.9,380.4 1872.5,381.4 1873.0,344.0 1873.6,341.2 1874.1,353.9 1874.7,350.7 1875.3,332.7 1875.8,317.4 1876.4,344.6 1877.0,407.5 1877.5,404.6 1878.1,349.1 1878.6,354.8 1879.2,405.4 1879.8,400.2 1880.3,345.7 1880.9,347.1 1881.4,397.5 1882.0,406.6 1882.6,399.8 1883.1,380.4 1883.7,310.7 1884.2,345.1 1884.8,400.2 1885.4,418.0 1885.9,379.3 1886.5,328.0 1887.0,328.5 1887.6,365.5 1888.2,403.0 1888.7,378.4 1889.3,339.4 1889.8,346.3 1890.4,394.9 1891.0,404.9 1891.5,373.4 1892.1,336.2 1892.7,348.1 1893.2,407.2 1893.8,445.7 1894.3,406.3 1894.9,381.7 1895.5,348.3 1896.0,337.0 1896.6,341.2 1897.1,377.5 1897.7,393.3 1898.3,359.7 1898.8,336.1 1899.4,340.4 1899.9,387.9 1900.5,392.6 1901.1,344.9 1901.6,308.9 1902.2,351.4 1902.7,393.4 1903.3,412.0 1903.9,413.4 1904.4,388.1 1905.0,340.5 1905.6,348.3 1906.1,354.9 1906.7,355.0 1907.2,394.8 1907.8,449.4 1908.4,373.4 1908.9,307.4 1909.5,337.6 1910.0,363.7 1910.6,384.1 1911.2,378.9 1911.7,393.6 1912.3,407.3 1912.8,443.9 1913.4,383.7 1914.0,334.1 1914.5,329.8 1915.1,340.5 1915.6,398.4 1916.2,403.3 1916.8,384.9 1917.3,359.0 1917.9,375.9 1918.4,394.3 1919.0,388.6 1919.6,347.7 1920.1,344.9 1920.7,391.8 1921.3,425.4 1921.8,388.5 1922.4,346.4 1922.9,307.1 1923.5,356.5 1924.1,391.8 1924.6,396.5 1925.2,376.3 1925.7,344.0 1926.3,343.2 1926.9,351.1 1927.4,379.8 1928.0,390.5 1928.5,403.3 1929.1,393.8 1929.7,377.7 1930.2,358.2 1930.8,372.8 1931.3,390.4 1931.9,391.0 1932.5,387.7 1933.0,384.5 1933.6,369.7 1934.2,356.6 1934.7,352.7 1935.3,353.9 1935.8,369.5 1936.4,391.6 1937.0,389.1 1937.5,357.7 1938.1,350.1 1938.6,345.0 1939.2,359.9 1939.8,383.8 1940.3,401.5 1940.9,391.6 1941.4,372.9 1942.0,357.5 1942.6,360.9 1943.1,380.8 1943.7,385.5 1944.2,378.4 1944.8,384.8 1945.4,397.9 1945.9,399.4 1946.5,382.3 1947.1,351.9 1947.6,347.8 1948.2,347.7 1948.7,352.8 1949.3,386.9 1949.9,402.2 1950.4,399.8 1951.0,370.0 1951.5,339.5 1952.1,356.0 1952.7,364.6 1953.2,416.2 1953.8,367.3 1954.3,354.7 1954.9,361.3 1955.5,401.2 1956.0,405.6 1956.6,380.7 1957.1,325.5 1957.7,346.3 1958.3,348.9 1958.8,347.9 1959.4,366.1 1959.9,402.1 1960.5,418.0 1961.1,405.8 1961.6,392.2 1962.2,353.1 1962.8,336.9 1963.3,334.1 1963.9,338.7 1964.4,357.6 1965.0,398.9 1965.6,427.3 1966.1,403.2 1966.7,365.0 1967.2,324.0 1967.8,387.2 1968.4,388.7 1968.9,352.0 1969.5,352.9 1970.0,399.1 1970.6,406.0 1971.2,364.0 1971.7,306.3 1972.3,336.2 1972.8,360.2 1973.4,367.2 1974.0,350.3 1974.5,347.6 1975.1,357.1 1975.7,425.4 1976.2,396.9 1976.8,408.4 1977.3,410.1 1977.9,395.9 1978.5,339.4 1979.0,316.6 1979.6,346.0 1980.1,389.3 1980.7,386.2 1981.3,346.4 1981.8,340.0 1982.4,356.1 1982.9,394.2 1983.5,396.8 1984.1,388.7 1984.6,386.1 1985.2,401.5 1985.7,387.7 1986.3,354.9 1986.9,339.5 1987.4,348.3 1988.0,359.5 1988.5,358.2 1989.1,346.7 1989.7,346.4 1990.2,379.9 1990.8,397.5 1991.4,394.8 1991.9,367.5 1992.5,358.5 1993.0,365.0 1993.6,376.2 1994.2,395.1 1994.7,410.7 1995.3,400.1 1995.8,379.7 1996.4,325.5 1997.0,339.1 1997.5,341.1 1998.1,351.4 1998.6,378.3 1999.2,395.8 1999.8,418.0 2000.3,381.4 2000.9,336.7 2001.4,321.1 2002.0,344.7 2002.6,386.3 2003.1,375.7 2003.7,343.9 2004.3,350.6 2004.8,394.0 2005.4,399.8 2005.9,385.8 2006.5,356.1 2007.1,382.8 2007.6,400.2 2008.2,399.5 2008.7,362.0 2009.3,334.2 2009.9,334.3 2010.4,346.8 2011.0,384.8 2011.5,393.7 2012.1,399.6 2012.7,350.9 2013.2,328.4 2013.8,373.6 2014.3,379.7 2014.9,355.3 2015.5,352.3 2016.0,368.2 2016.6,381.3 2017.2,388.3 2017.7,392.2 2018.3,386.8 2018.8,384.5 2019.4,394.5 2020.0,387.4 2020.5,341.7 2021.1,337.3 2021.6,332.9 2022.2,365.3 2022.8,395.9 2023.3,410.7 2023.9,388.0 2024.4,355.3 2025.0,349.7 2025.6,354.3 2026.1,370.1 2026.7,391.9 2027.2,396.4 2027.8,395.1 2028.4,400.1 2028.9,416.2 2029.5,399.3 2030.0,376.8 2030.6,359.3 2031.2,357.4 2031.7,354.2 2032.3,338.8 2032.9,348.0 2033.4,351.7 2034.0,363.7 2034.5,382.0 2035.1,361.7 2035.7,350.2 2036.2,359.7 2036.8,398.5 2037.3,402.1 2037.9,395.3 2038.5,362.9 2039.0,352.5 2039.6,354.8 2040.1,375.6 2040.7,393.9 2041.3,405.1 2041.8,381.8 2042.4,348.8 2042.9,339.5 2043.5,349.0 2044.1,361.0 2044.6,378.0 2045.2,378.7 2045.8,377.9 2046.3,390.7 2046.9,402.4 2047.4,412.5 2048.0,383.1 2048.6,345.4 2049.1,346.0 2049.7,354.3 2050.2,350.7 2050.8,342.1 2051.4,329.2 2051.9,368.5 2052.5,394.9 2053.0,390.6 2053.6,372.0 2054.2,376.9 2054.7,386.2 2055.3,385.8 2055.8,385.6 2056.4,387.3 2057.0,372.3 2057.5,332.9 2058.1,344.0 2058.6,363.4 2059.2,386.2 2059.8,397.8 2060.3,388.9 2060.9,358.8 2061.5,348.6 2062.0,351.4 2062.6,349.4 2063.1,349.0 2063.7,369.4 2064.3,392.6 2064.8,391.0 2065.4,368.2 2065.9,357.3 2066.5,365.7 2067.1,391.5 2067.6,402.6 2068.2,391.9 2068.7,374.8 2069.3,367.4 2069.9,373.6 2070.4,363.4 2071.0,347.6 2071.5,352.5 2072.1,352.8 2072.7,354.7 2073.2,371.6 2073.8,394.1 2074.4,395.7 2074.9,390.6 2075.5,377.0 2076.0,359.1 2076.6,361.6 2077.2,387.0 2077.7,390.3 2078.3,365.0 2078.8,350.7 2079.4,350.5 2080.0,359.5 2080.5,379.6 2081.1,403.3 2081.6,368.4 2082.2,340.2 2082.8,362.0 2083.3,393.5 2083.9,401.8 2084.4,401.4 2085.0,381.3 2085.6,341.3 2086.1,342.6 2086.7,366.6 2087.3,350.1 2087.8,309.3 2088.4,339.5 2088.9,402.0 2089.5,418.8 2090.1,402.6 2090.6,347.8 2091.2,343.9 2091.7,364.4 2092.3,376.7 2092.9,383.8 2093.4,414.4 2094.0,396.4 2094.5,363.3 2095.1,354.7 2095.7,387.0 2096.2,384.0 2096.8,348.2 2097.3,346.0 2097.9,349.5 2098.5,349.1 2099.0,347.6 2099.6,374.5 2100.1,379.5 2100.7,378.6 2101.3,389.9 2101.8,399.6 2102.4,393.9 2103.0,367.8 2103.5,349.8 2104.1,350.5 2104.6,355.7 2105.2,365.6 2105.8,383.7 2106.3,379.3 2106.9,351.1 2107.4,345.2 2108.0,326.6 2108.6,382.7 2109.1,399.7 2109.7,414.4 2110.2,403.3 2110.8,374.2 2111.4,353.8 2111.9,392.5 2112.5,403.1 2113.0,388.0 2113.6,353.0 2114.2,348.4 2114.7,343.9 2115.3,341.8 2115.9,344.6 2116.4,340.2 2117.0,321.1 2117.5,310.7 2118.1,359.9 2118.7,394.1 2119.2,425.4 2119.8,401.8 2120.3,395.4 2120.9,397.1 2121.5,384.8 2122.0,348.4 2122.6,346.2 2123.1,369.6 2123.7,397.4 2124.3,403.6 2124.8,402.1 2125.4,392.0 2125.9,360.0 2126.5,343.0 2127.1,339.9 2127.6,342.7 2128.2,341.6 2128.7,341.3 2129.3,363.3 2129.9,402.3 2130.4,428.4 2131.0,402.3 2131.6,358.5 2132.1,313.7 2132.7,350.9 2133.2,396.3 2133.8,394.6 2134.4,350.6 2134.9,346.1 2135.5,386.0 2136.0,394.3 2136.6,356.0 2137.2,324.8 2137.7,351.0 2138.3,395.5 2138.8,429.1 2139.4,392.6 2140.0,358.8 2140.5,387.9 2141.1,403.0 2141.6,385.4 2142.2,310.0 2142.8,338.6 2143.3,376.2 2143.9,372.1 2144.5,341.0 2145.0,351.0 2145.6,403.9 2146.1,427.3 2146.7,379.3 2147.3,340.5 2147.8,345.2 2148.4,374.5 2148.9,383.2 2149.5,361.9 2150.1,348.8 2150.6,346.2 2151.2,356.0 2151.7,392.9 2152.3,406.4 2152.9,407.2 2153.4,394.0 2154.0,346.5 2154.5,337.0 2155.1,331.4 2155.7,356.5 2156.2,390.2 2156.8,391.4 2157.4,388.4 2157.9,398.2 2158.5,416.2 2159.0,381.3 2159.6,341.9 2160.2,340.7 2160.7,360.0 2161.3,393.0 2161.8,382.7 2162.4,356.1 2163.0,363.5 2163.5,390.5 2164.1,389.2 2164.6,353.5 2165.2,341.4 2165.8,349.9 2166.3,400.8 2166.9,406.4 2167.4,399.4 2168.0,358.0 2168.6,347.1 2169.1,349.0 2169.7,347.4 2170.2,347.1 2170.8,370.9 2171.4,410.7 2171.9,379.9 2172.5,332.1 2173.1,387.2 2173.6,400.2 2174.2,399.2 2174.7,391.4 2175.3,380.7 2175.9,357.5 2176.4,345.8 2177.0,344.4 2177.5,350.4 2178.1,356.9 2178.7,352.9 2179.2,349.1 2179.8,353.9 2180.3,384.5 2180.9,396.9 2181.5,397.1 2182.0,388.4 2182.6,358.9 2183.1,350.1 2183.7,357.3 2184.3,388.0 2184.8,390.7 2185.4,363.0 2186.0,349.2 2186.5,355.9 2187.1,386.1 2187.6,398.9 2188.2,389.7 2188.8,376.3 2189.3,341.3 2189.9,355.2 2190.4,376.7 2191.0,384.6 2191.6,374.4 2192.1,352.4 2192.7,347.6 2193.2,350.1 2193.8,358.1 2194.4,378.6 2194.9,389.4 2195.5,390.1 2196.0,375.3 2196.6,345.6 2197.2,332.1 2197.7,341.7 2198.3,376.4 2198.8,396.5 2199.4,402.1 2200.0,405.1 2200.5,421.7 2201.1,357.1 2201.7,358.4 2202.2,388.8 2202.8,383.4 2203.3,343.4 2203.9,308.2 2204.5,342.0 2205.0,370.0 2205.6,379.5 2206.1,358.3 2206.7,375.7 2207.3,424.7 2207.8,399.6 2208.4,387.0 2208.9,380.2 2209.5,368.3 2210.1,330.3 2210.6,341.5 2211.2,343.0 2211.7,349.5 2212.3,374.9 2212.9,402.3 2213.4,405.5 2214.0,399.5 2214.6,383.3 2215.1,385.8 2215.7,383.3 2216.2,359.5 2216.8,357.8 2217.4,366.4 2217.9,403.3 2218.5,361.3 2219.0,351.6 2219.6,345.2 2220.2,343.9 2220.7,350.6 2221.3,387.0 2221.8,396.6 2222.4,393.5 2223.0,382.5 2223.5,370.8 2224.1,363.4 2224.6,352.0 2225.2,349.3 2225.8,382.7 2226.3,401.3 2226.9,409.9 2227.5,350.2 2228.0,339.5 2228.6,362.0 2229.1,368.0 2229.7,352.0 2230.3,352.9 2230.8,386.6 2231.4,399.5 2231.9,401.2 2232.5,399.5 2233.1,383.7 2233.6,355.0 2234.2,361.2 2234.7,388.1 2235.3,389.2 2235.9,361.8 2236.4,348.1 2237.0,347.3 2237.5,352.2 2238.1,360.6 2238.7,373.5 2239.2,379.8 2239.8,405.1 2240.3,384.6 2240.9,355.5 2241.5,338.8 2242.0,351.5 2242.6,380.7 2243.2,386.7 2243.7,384.4 2244.3,385.1 2244.8,386.5 2245.4,386.2 2246.0,383.9 2246.5,374.1 2247.1,356.2 2247.6,352.9 2248.2,355.0 2248.8,377.7 2249.3,391.5 2249.9,387.2 2250.4,366.3 2251.0,354.2 2251.6,363.2 2252.1,383.3 2252.7,389.3 2253.2,383.5 2253.8,373.4 2254.4,382.9 2254.9,387.1 2255.5,363.5 2256.1,353.7 2256.6,359.2 2257.2,367.5 2257.7,352.5 2258.3,347.0 2258.9,358.4 2259.4,398.0 2260.0,412.5 2260.5,399.0 2261.1,399.7 2261.7,396.9 2262.2,370.0 2262.8,346.3 2263.3,329.2 2263.9,346.9 2264.5,369.4 2265.0,390.2 2265.6,387.0 2266.1,370.0 2266.7,355.8 2267.3,348.6 2267.8,346.5 2268.4,348.9 2268.9,360.2 2269.5,383.5 2270.1,389.1 2270.6,390.9 2271.2,388.0 2271.8,367.5 2272.3,346.9 2272.9,384.7 2273.4,401.5 2274.0,393.8 2274.6,371.8 2275.1,352.9 2275.7,351.1 2276.2,355.1 2276.8,374.2 2277.4,388.0 2277.9,388.9 2278.5,373.3 2279.0,347.4 2279.6,343.9 2280.2,353.4 2280.7,388.3 2281.3,399.6 2281.8,391.7 2282.4,387.1 2283.0,369.4 2283.5,334.0 2284.1,362.7 2284.7,368.1 2285.2,382.2 2285.8,384.6 2286.3,354.9 2286.9,345.1 2287.5,347.0 2288.0,350.8 2288.6,340.6 2289.1,350.0 2289.7,363.4 2290.3,405.1 2290.8,383.3 2291.4,375.9 2291.9,389.7 2292.5,396.8 2293.1,395.7 2293.6,381.7 2294.2,361.8 2294.7,379.4 2295.3,389.3 2295.9,391.0 2296.4,388.6 2297.0,375.2 2297.6,354.8 2298.1,352.1 2298.7,358.4 2299.2,375.0 2299.8,365.2 2300.4,355.7 2300.9,359.3 2301.5,395.2 2302.0,366.1 2302.6,355.0 2303.2,346.1 2303.7,353.3 2304.3,362.3 2304.8,386.9 2305.4,392.9 2306.0,393.9 2306.5,391.2 2307.1,370.1 2307.6,355.8 2308.2,356.8 2308.8,367.9 2309.3,386.4 2309.9,404.0 2310.4,392.4 2311.0,369.1 2311.6,355.3 2312.1,358.4 2312.7,367.9 2313.3,361.4 2313.8,356.8 2314.4,364.3 2314.9,390.5 2315.5,394.8 2316.1,389.1 2316.6,355.4 2317.2,353.1 2317.7,376.9 2318.3,397.8 2318.9,381.0 2319.4,354.9 2320.0,348.7 2320.5,359.9 2321.1,375.7 2321.7,373.9 2322.2,362.9 2322.8,364.1 2323.3,364.4 2323.9,354.9 2324.5,353.3 2325.0,378.2 2325.6,391.7 2326.2,393.0 2326.7,394.0 2327.3,403.3 2327.8,388.9 2328.4,362.9 2329.0,355.3 2329.5,348.5 2330.1,319.6 2330.6,345.0 2331.2,385.2 2331.8,416.2 2332.3,391.9 2332.9,370.5 2333.4,368.6 2334.0,385.2 2334.6,391.4 2335.1,383.8 2335.7,364.2 2336.2,380.8 2336.8,385.9 2337.4,324.8 2337.9,341.9 2338.5,343.7 2339.0,363.9 2339.6,378.8 2340.2,358.5 2340.7,356.6 2341.3,368.6 2341.9,383.8 2342.4,387.6 2343.0,386.5 2343.5,379.2 2344.1,373.9 2344.7,382.7 2345.2,387.8 2345.8,365.6 2346.3,359.8 2346.9,362.0 2347.5,382.2 2348.0,383.1 2348.6,368.3 2349.1,361.5 2349.7,365.3 2350.3,375.8 2350.8,377.5 2351.4,375.8 2351.9,376.5 2352.5,378.7 2353.1,369.2 2353.6,353.8 2354.2,352.4 2354.8,360.8 2355.3,379.6 2355.9,384.1 2356.4,380.7 2357.0,373.4 2357.6,343.2 2358.1,359.0 2358.7,360.7 2359.2,359.4 2359.8,362.9 2360.4,364.2 2360.9,357.3 2361.5,355.9 2362.0,374.7 2362.6,384.5 2363.2,384.7 2363.7,373.2 2364.3,357.6 2364.8,363.7 2365.4,377.5 2366.0,380.5 2366.5,379.2 2367.1,365.2 2367.7,358.0 2368.2,358.7 2368.8,375.1 2369.3,391.5 2369.9,386.2 2370.5,377.2 2371.0,364.1 2371.6,364.3 2372.1,366.4 2372.7,363.1 2373.3,357.2 2373.8,370.5 2374.4,386.9 2374.9,388.3 2375.5,383.0 2376.1,362.5 2376.6,355.8 2377.2,354.6 2377.7,357.6 2378.3,380.3 2378.9,390.4 2379.4,388.6 2380.0,369.9 2380.5,359.6 2381.1,372.9 2381.7,387.6 2382.2,385.3 2382.8,356.3 2383.4,343.2 2383.9,367.3 2384.5,392.7 2385.0,384.9 2385.6,356.1 2386.2,366.9 2386.7,392.7 2387.3,387.9 2387.8,360.2 2388.4,355.0 2389.0,355.2 2389.5,360.1 2390.1,381.1 2390.6,403.3 2391.2,387.0 2391.8,360.6 2392.3,348.7 2392.9,362.0 2393.4,385.1 2394.0,373.3 2394.6,358.4 2395.1,381.1 2395.7,398.3 2396.3,398.1 2396.8,377.6 2397.4,354.3 2397.9,354.6 2398.5,360.3 2399.1,373.6 2399.6,376.1 2400.2,359.2 2400.7,343.9 2401.3,354.9 2401.9,374.9 2402.4,387.9 2403.0,402.6 2403.5,392.7 2404.1,391.7 2404.7,382.6 2405.2,359.8 2405.8,354.1 2406.3,354.8 2406.9,363.5 2407.5,386.0 2408.0,386.7 2408.6,363.8 2409.1,354.2 2409.7,363.7 2410.3,388.3 2410.8,394.1 2411.4,382.2 2412.0,380.0 2412.5,377.1 2413.1,363.9 2413.6,365.3 2414.2,380.6 2414.8,380.4 2415.3,360.0 2415.9,351.3 2416.4,350.6 2417.0,355.5 2417.6,340.2 2418.1,370.9 2418.7,376.4 2419.2,378.3 2419.8,382.6 2420.4,387.6 2420.9,392.2 2421.5,385.0 2422.0,360.9 2422.6,353.9 2423.2,355.0 2423.7,358.4 2424.3,368.6 2424.9,383.7 2425.4,383.8 2426.0,365.7 2426.5,356.1 2427.1,361.9 2427.7,381.6 2428.2,388.8 2428.8,386.2 2429.3,365.4 2429.9,360.3 2430.5,363.0 2431.0,376.1 2431.6,380.5 2432.1,373.2 2432.7,365.2 2433.3,362.7 2433.8,361.8 2434.4,366.4 2434.9,384.7 2435.5,394.1 2436.1,385.6 2436.6,382.2 2437.2,375.1 2437.8,361.4 2438.3,359.0 2438.9,365.8 2439.4,389.4 2440.0,389.7 2440.6,367.9 2441.1,356.1 2441.7,362.2 2442.2,376.9 2442.8,383.1 2443.4,382.2 2443.9,379.8 2444.5,375.5 2445.0,363.6 2445.6,359.0 2446.2,359.8 2446.7,374.4 2447.3,393.0 2447.8,382.6 2448.4,359.2 2449.0,356.1 2449.5,362.9 2450.1,380.5 2450.6,383.0 2451.2,386.8 2451.8,388.7 2452.3,378.8 2452.9,359.5 2453.5,350.6 2454.0,356.5 2454.6,385.8 2455.1,398.0 2455.7,394.8 2456.3,358.4 2456.8,356.2 2457.4,387.3 2457.9,416.9 2458.5,380.7 2459.1,356.4 2459.6,337.7 2460.2,356.0 2460.7,359.1 2461.3,355.7 2461.9,372.7 2462.4,385.3 2463.0,356.4 2463.5,345.9 2464.1,352.2 2464.7,387.9 2465.2,389.2 2465.8,377.1 2466.4,388.6 2466.9,401.5 2467.5,391.7 2468.0,361.2 2468.6,349.9 2469.2,325.5 2469.7,355.1 2470.3,383.3 2470.8,392.7 2471.4,390.1 2472.0,363.2 2472.5,347.4 2473.1,346.6 2473.6,360.3 2474.2,387.7 2474.8,387.5 2475.3,381.9 2475.9,383.9 2476.4,385.9 2477.0,381.3 2477.6,367.0 2478.1,365.8 2478.7,378.5 2479.2,376.4 2479.8,351.0 2480.4,345.3 2480.9,346.5 2481.5,356.9 2482.1,379.3 2482.6,382.5 2483.2,385.1 2483.7,392.2 2484.3,380.1 2484.9,347.6 2485.4,381.5 2486.0,388.2 2486.5,391.0 2487.1,390.4 2487.7,373.9 2488.2,348.7 2488.8,346.3 2489.3,358.0 2489.9,403.3 2490.5,387.7 2491.0,353.3 2491.6,338.4 2492.1,354.3 2492.7,389.2 2493.3,412.5 2493.8,366.5 2494.4,353.2 2495.0,364.5 2495.5,382.0 2496.1,365.7 2496.6,369.1 2497.2,389.2 2497.8,391.1 2498.3,391.7 2498.9,392.9 2499.4,378.3 2500.0,356.9 2500.6,360.2 2501.1,363.2 2501.7,355.2 2502.2,354.4 2502.8,377.3 2503.4,395.9 2503.9,391.0 2504.5,370.3 2505.0,358.7 2505.6,359.9 2506.2,376.2 2506.7,384.0 2507.3,366.4 2507.9,356.1 2508.4,363.4 2509.0,381.9 2509.5,387.1 2510.1,385.4 2510.7,377.4 2511.2,366.4 2511.8,361.0 2512.3,356.6 2512.9,357.8 2513.5,380.7 2514.0,390.4 2514.6,383.0 2515.1,372.0 2515.7,363.7 2516.3,363.4 2516.8,379.9 2517.4,385.2 2517.9,364.4 2518.5,351.4 2519.1,351.7 2519.6,377.8 2520.2,389.3 2520.7,384.8 2521.3,365.4 2521.9,370.3 2522.4,387.7 2523.0,395.9 2523.6,381.7 2524.1,355.0 2524.7,354.2 2525.2,361.5 2525.8,362.4 2526.4,368.1 2526.9,386.4 2527.5,384.8 2528.0,343.2 2528.6,345.4 2529.2,352.0 2529.7,388.6 2530.3,389.1 2530.8,367.6 2531.4,379.4 2532.0,402.6 2532.5,394.2 2533.1,360.0 2533.6,341.3 2534.2,349.6 2534.8,359.8 2535.3,378.5 2535.9,387.1 2536.5,391.9 2537.0,390.6 2537.6,382.5 2538.1,375.5 2538.7,376.2 2539.3,379.5 2539.8,371.9 2540.4,353.1 2540.9,348.5 2541.5,349.7 2542.1,353.6 2542.6,365.2 2543.2,387.2 2543.7,391.7 2544.3,396.7 2544.9,391.4 2545.4,386.1 2546.0,366.5 2546.5,357.7 2547.1,356.4 2547.7,357.9 2548.2,359.1 2548.8,357.2 2549.3,357.5 2549.9,363.3 2550.5,375.7 2551.0,381.1 2551.6,377.9 2552.2,350.6 2552.7,363.3 2553.3,385.6 2553.8,392.0 2554.4,391.1 2555.0,384.7 2555.5,366.2 2556.1,355.3 2556.6,351.7 2557.2,352.3 2557.8,363.9 2558.3,395.2 2558.9,385.6 2559.4,366.1 2560.0,357.9 2560.6,361.5 2561.1,378.5 2561.7,389.1 2562.2,391.0 2562.8,383.7 2563.4,363.5 2563.9,374.3 2564.5,384.7 2565.1,379.3 2565.6,353.9 2566.2,347.5 2566.7,348.3 2567.3,357.1 2567.9,380.9 2568.4,388.6 2569.0,395.2 2569.5,388.5 2570.1,376.6 2570.7,352.5 2571.2,348.9 2571.8,338.8 2572.3,352.8 2572.9,358.0 2573.5,379.9 2574.0,385.6 2574.6,379.0 2575.1,371.4 2575.7,384.0 2576.3,390.4 2576.8,390.1 2577.4,380.1 2578.0,357.3 2578.5,354.4 2579.1,355.5 2579.6,362.6 2580.2,393.0 2580.8,384.0 2581.3,364.5 2581.9,363.7 2582.4,376.5 2583.0,369.7 2583.6,357.9 2584.1,360.0 2584.7,376.4 2585.2,387.3 2585.8,379.0 2586.4,363.9 2586.9,377.8 2587.5,389.6 2588.0,390.6 2588.6,389.5 2589.2,388.0 2589.7,377.1 2590.3,358.2 2590.8,355.8 2591.4,356.9 2592.0,358.7 2592.5,368.3 2593.1,394.8 2593.7,369.9 2594.2,353.7 2594.8,347.6 2595.3,362.6 2595.9,382.3 2596.5,383.9 2597.0,384.1 2597.6,380.0 2598.1,360.8 2598.7,361.0 2599.3,389.2 2599.8,395.0 2600.4,393.2 2600.9,359.6 2601.5,342.5 2602.1,348.6 2602.6,373.1 2603.2,397.8 2603.7,359.6 2604.3,355.2 2604.9,358.7 2605.4,360.8 2606.0,358.4 2606.6,358.9 2607.1,376.2 2607.7,387.2 2608.2,389.3 2608.8,388.2 2609.4,384.8 2609.9,368.5 2610.5,351.9 2611.0,356.2 2611.6,382.0 2612.2,383.8 2612.7,362.4 2613.3,347.7 2613.8,348.0 2614.4,357.6 2615.0,384.9 2615.5,375.8 2616.1,358.6 2616.6,352.2 2617.2,359.3 2617.8,383.0 2618.3,387.9 2618.9,387.4 2619.4,382.5 2620.0,378.4 2620.6,382.2 2621.1,386.4 2621.7,380.6 2622.3,355.8 2622.8,349.4 2623.4,345.8 2623.9,355.4 2624.5,376.6 2625.1,377.6 2625.6,364.8 2626.2,381.2 2626.7,401.5 2627.3,387.6 2627.9,359.6 2628.4,358.2 2629.0,385.3 2629.5,390.7 2630.1,383.8 2630.7,356.7 2631.2,350.4 2631.8,350.7 2632.3,356.4 2632.9,369.3 2633.5,377.0 2634.0,380.0 2634.6,388.6 2635.2,381.2 2635.7,381.8 2636.3,383.1 2636.8,380.7 2637.4,366.9 2638.0,357.6 2638.5,354.6 2639.1,349.8 2639.6,353.7 2640.2,358.7 2640.8,376.4 2641.3,383.0 2641.9,379.4 2642.4,373.0 2643.0,370.5 2643.6,375.2 2644.1,371.0 2644.7,363.4 2645.2,367.0 2645.8,374.9 2646.4,378.5 2646.9,380.1 2647.5,373.2 2648.1,357.2 2648.6,355.9 2649.2,358.6 2649.7,373.4 2650.3,380.4 2650.9,381.3 2651.4,384.9 2652.0,381.1 2652.5,375.1 2653.1,356.1 2653.7,369.1 2654.2,378.8 2654.8,363.9 2655.3,356.0 2655.9,356.0 2656.5,365.2 2657.0,384.0 2657.6,381.7 2658.1,373.7 2658.7,381.9 2659.3,387.7 2659.8,387.4 2660.4,384.7 2660.9,378.3 2661.5,364.1 2662.1,361.3 2662.6,362.6 2663.2,358.4 2663.8,354.1 2664.3,355.4 2664.9,385.2 2665.4,398.1 2666.0,389.8 2666.6,351.3 2667.1,376.3 2667.7,385.2 2668.2,373.5 2668.8,357.3 2669.4,360.4 2669.9,382.9 2670.5,385.7 2671.0,368.8 2671.6,355.8 2672.2,357.7 2672.7,366.5 2673.3,366.2 2673.8,366.7 2674.4,380.5 2675.0,384.9 2675.5,380.6 2676.1,358.2 2676.7,354.2 2677.2,359.8 2677.8,378.1 2678.3,381.2 2678.9,380.6 2679.5,378.3 2680.0,373.7 2680.6,368.0 2681.1,364.7 2681.7,361.4 2682.3,363.3 2682.8,375.7 2683.4,378.0 2683.9,366.8 2684.5,361.9 2685.1,364.8 2685.6,376.1 2686.2,380.0 2686.7,380.1 2687.3,369.9 2687.9,361.6 2688.4,362.7 2689.0,380.2 2689.5,384.1 2690.1,381.1 2690.7,366.1 2691.2,364.7 2691.8,373.7 2692.4,380.5 2692.9,369.3 2693.5,362.4 2694.0,368.6 2694.6,379.8 2695.2,367.3 2695.7,363.0 2696.3,364.6 2696.8,379.4 2697.4,378.0 2698.0,365.3 2698.5,365.9 2699.1,380.9 2699.6,387.8 2700.2,384.6 2700.8,378.8 2701.3,370.6 2701.9,379.8 2702.4,381.9 2703.0,365.5 2703.6,362.5 2704.1,366.1 2704.7,383.1 2705.3,382.3 2705.8,377.5 2706.4,377.6 2706.9,369.9 2707.5,361.6 2708.1,368.9 2708.6,368.9 2709.2,362.0 2709.7,360.5 2710.3,363.0 2710.9,382.4 2711.4,385.6 2712.0,384.3 2712.5,379.0 2713.1,368.8 2713.7,375.3 2714.2,382.3 2714.8,380.9 2715.3,372.7 2715.9,369.1 2716.5,369.8 2717.0,362.9 2717.6,357.5 2718.2,356.7 2718.7,362.9 2719.3,383.2 2719.8,386.7 2720.4,383.3 2721.0,374.3 2721.5,365.9 2722.1,367.5 2722.6,363.5 2723.2,357.4 2723.8,353.5 2724.3,359.9 2724.9,376.8 2725.4,383.4 2726.0,383.4 2726.6,380.9 2727.1,381.0 2727.7,380.8 2728.2,363.5 2728.8,356.1 2729.4,362.9 2729.9,385.7 2730.5,388.6 2731.0,375.8 2731.6,358.6 2732.2,353.5 2732.7,359.9 2733.3,371.2 2733.9,379.9 2734.4,372.8 2735.0,359.1 2735.5,358.2 2736.1,373.0 2736.7,385.7 2737.2,386.9 2737.8,385.0 2738.3,381.4 2738.9,376.4 2739.5,365.6 2740.0,361.5 2740.6,361.9 2741.1,363.8 2741.7,365.5 2742.3,367.0 2742.8,361.5 2743.4,355.0 2743.9,357.0 2744.5,367.6 2745.1,383.4 2745.6,388.6 2746.2,382.0 2746.8,383.2 2747.3,385.6 2747.9,385.5 2748.4,380.9 2749.0,366.0 2749.6,359.3 2750.1,357.1 2750.7,356.9 2751.2,353.5 2751.8,359.5 2752.4,365.3 2752.9,381.2 2753.5,387.8 2754.0,377.1 2754.6,360.9 2755.2,361.8 2755.7,374.3 2756.3,379.5 2756.8,382.0 2757.4,383.0 2758.0,378.6 2758.5,357.6 2759.1,354.2 2759.6,368.8 2760.2,379.1 2760.8,363.2 2761.3,356.6 2761.9,364.8 2762.5,378.4 2763.0,373.7 2763.6,355.0 2764.1,367.7 2764.7,376.2 2765.3,379.2 2765.8,380.6 2766.4,379.6 2766.9,377.7 2767.5,378.9 2768.1,378.7 2768.6,366.3 2769.2,356.5 2769.7,356.1 2770.3,365.7 2770.9,377.9 2771.4,364.6 2772.0,355.6 2772.5,357.5 2773.1,375.5 2773.7,379.9 2774.2,378.2 2774.8,377.0 2775.4,383.0 2775.9,379.0 2776.5,369.8 2777.0,358.3 2777.6,356.8 2778.2,361.9 2778.7,378.9 2779.3,382.4 2779.8,381.5 2780.4,370.9 2781.0,356.9 2781.5,353.5 2782.1,361.9 2782.6,378.8 2783.2,378.0 2783.8,362.3 2784.3,359.1 2784.9,369.2 2785.4,381.6 2786.0,382.4 2786.6,382.0 2787.1,382.4 2787.7,378.1 2788.3,361.3 2788.8,358.7 2789.4,364.8 2789.9,378.3 2790.5,374.2 2791.1,363.0 2791.6,369.5 2792.2,384.8 2792.7,383.7 2793.3,362.5 2793.9,357.9 2794.4,358.8 2795.0,362.5 2795.5,380.4 2796.1,387.8 2796.7,382.9 2797.2,374.6 2797.8,369.8 2798.3,368.3 2798.9,363.1 2799.5,360.9 2800.0,367.0 2800.6,382.5 2801.1,385.2 2801.7,384.3 2802.3,377.3 2802.8,360.1 2803.4,357.9 2804.0,367.1 2804.5,384.2 2805.1,384.5 2805.6,373.5 2806.2,357.5 2806.8,355.2 2807.3,356.9 2807.9,366.6 2808.4,378.4 2809.0,379.7 2809.6,381.8 2810.1,381.9 2810.7,378.7 2811.2,381.7 2811.8,386.1 2812.4,384.4 2812.9,368.1 2813.5,361.2 2814.0,361.7 2814.6,360.7 2815.2,367.3 2815.7,387.8 2816.3,374.7 2816.9,354.9 2817.4,351.3 2818.0,352.4 2818.5,361.0 2819.1,380.9 2819.7,385.0 2820.2,386.9 2820.8,386.5 2821.3,373.8 2821.9,358.6 2822.5,376.7 2823.0,392.2 2823.6,388.4 2824.1,380.3 2824.7,375.1 2825.3,371.4 2825.8,361.2 2826.4,353.6 2826.9,348.7 2827.5,349.0 2828.1,342.5 2828.6,369.3 2829.2,395.2 2829.7,372.9 2830.3,369.0 2830.9,383.4 2831.4,386.7 2832.0,385.5 2832.6,357.8 2833.1,350.4 2833.7,354.3 2834.2,362.8 2834.8,375.7 2835.4,382.3 2835.9,384.2 2836.5,380.0 2837.0,362.5 2837.6,359.2 2838.2,359.8 2838.7,379.2 2839.3,384.9 2839.8,382.4 2840.4,366.4 2841.0,366.2 2841.5,379.0 2842.1,375.7 2842.6,362.7 2843.2,361.4 2843.8,365.5 2844.3,377.6 2844.9,374.1 2845.5,362.7 2846.0,361.8 2846.6,370.8 2847.1,381.2 2847.7,367.7 2848.3,361.9 2848.8,372.8 2849.4,386.7 2849.9,386.3 2850.5,381.5 2851.1,368.1 2851.6,364.3 2852.2,362.8 2852.7,359.8 2853.3,370.3 2853.9,371.9 2854.4,367.1 2855.0,376.5 2855.5,382.2 2856.1,373.9 2856.7,359.8 2857.2,360.2 2857.8,377.7 2858.4,383.4 2858.9,381.9 2859.5,369.5 2860.0,362.2 2860.6,363.8 2861.2,366.9 2861.7,363.3 2862.3,360.9 2862.8,364.7 2863.4,383.0 2864.0,383.0 2864.5,383.6 2865.1,381.5 2865.6,372.0 2866.2,361.4 2866.8,359.3 2867.3,359.7 2867.9,361.4 2868.4,366.5 2869.0,376.0 2869.6,372.0 2870.1,364.3 2870.7,375.6 2871.2,385.4 2871.8,386.5 2872.4,381.3 2872.9,362.1 2873.5,355.3 2874.1,353.8 2874.6,355.6 2875.2,375.6 2875.7,390.4 2876.3,384.5 2876.9,383.1 2877.4,384.8 2878.0,380.4 2878.5,352.4 2879.1,373.2 2879.7,380.7 2880.2,366.5 2880.8,353.8 2881.3,353.1 2881.9,378.2 2882.5,384.9 2883.0,381.0 2883.6,367.7 2884.1,367.2 2884.7,371.7 2885.3,362.7 2885.8,356.9 2886.4,359.5 2887.0,380.7 2887.5,384.4 2888.1,380.6 2888.6,361.5 2889.2,361.2 2889.8,366.9 2890.3,361.1 2890.9,356.7 2891.4,359.6 2892.0,377.4 2892.6,378.8 2893.1,364.9 2893.7,363.9 2894.2,379.8 2894.8,384.0 2895.4,383.6 2895.9,379.3 2896.5,363.4 2897.0,358.7 2897.6,362.5 2898.2,379.3 2898.7,380.1 2899.3,363.8 2899.8,358.4 2900.4,359.9 2901.0,373.6 2901.5,382.2 2902.1,382.1 2902.7,375.4 2903.2,357.9 2903.8,373.0 2904.3,381.7 2904.9,384.9 2905.5,377.3 2906.0,363.1 2906.6,359.9 2907.1,360.4 2907.7,363.0 2908.3,366.6 2908.8,369.8 2909.4,367.2 2909.9,363.2 2910.5,364.0 2911.1,381.0 2911.6,387.9 2912.2,388.1 2912.7,382.8 2913.3,368.9 2913.9,364.5 2914.4,363.3 2915.0,367.6 2915.6,368.1 2916.1,361.0 2916.7,361.2 2917.2,380.5 2917.8,390.4 2918.4,366.5 2918.9,358.7 2919.5,366.3 2920.0,384.3 2920.6,383.7 2921.2,365.5 2921.7,361.0 2922.3,369.4 2922.8,387.2 2923.4,387.5 2924.0,374.4 2924.5,361.4 2925.1,367.7 2925.6,384.1 2926.2,381.1 2926.8,361.8 2927.3,360.2 2927.9,366.3 2928.5,366.9 2929.0,364.2 2929.6,375.3 2930.1,377.5 2930.7,361.0 2931.3,358.4 2931.8,367.3 2932.4,384.8 2932.9,383.6 2933.5,365.7 2934.1,360.4 2934.6,364.7 2935.2,379.7 2935.7,383.7 2936.3,383.3 2936.9,379.9 2937.4,375.8 2938.0,373.4 2938.5,368.2 2939.1,370.5 2939.7,384.1 2940.2,368.9 2940.8,357.2 2941.3,357.4 2941.9,362.0 2942.5,381.1 2943.0,380.0 2943.6,363.6 2944.2,361.4 2944.7,368.6 2945.3,375.2 2945.8,372.0 2946.4,374.1 2947.0,378.1 2947.5,380.5 2948.1,382.2 2948.6,380.7 2949.2,362.1 2949.8,358.2 2950.3,359.2 2950.9,373.0 2951.4,380.4 2952.0,381.2 2952.6,380.8 2953.1,376.9 2953.7,367.8 2954.2,368.5 2954.8,375.7 2955.4,375.6 2955.9,358.7 2956.5,362.1 2957.1,364.6 2957.6,370.4 2958.2,370.2 2958.7,366.2 2959.3,362.9 2959.9,360.3 2960.4,359.9 2961.0,366.7 2961.5,380.9 2962.1,383.0 2962.7,376.3 2963.2,366.4 2963.8,365.7 2964.3,368.4 2964.9,378.1 2965.5,382.5 2966.0,382.6 2966.6,377.6 2967.1,363.2 2967.7,359.0 2968.3,358.7 2968.8,360.7 2969.4,363.7 2969.9,365.9 2970.5,377.9 2971.1,384.9 2971.6,385.5 2972.2,380.3 2972.8,366.6 2973.3,368.5 2973.9,369.2 2974.4,357.2 2975.0,361.5 2975.6,374.9 2976.1,386.7 2976.7,367.6 2977.2,355.2 2977.8,354.6 2978.4,369.9 2978.9,385.8 2979.5,385.8 2980.0,366.0 2980.6,350.6 2981.2,360.1 2981.7,380.2 2982.3,376.0 2982.8,365.6 2983.4,381.6 2984.0,388.6 2984.5,375.3 2985.1,357.7 2985.7,357.9 2986.2,367.3 2986.8,380.3 2987.3,380.7 2987.9,378.9 2988.5,380.1 2989.0,381.7 2989.6,380.3 2990.1,371.6 2990.7,361.9 2991.3,359.7 2991.8,359.3 2992.4,360.7 2992.9,367.3 2993.5,381.9 2994.1,374.4 2994.6,365.7 2995.2,365.3 2995.7,377.8 2996.3,384.5 2996.9,385.4 2997.4,382.9 2998.0,375.1 2998.6,366.5 2999.1,366.3 2999.7,380.4 3000.2,388.8 3000.8,385.7 3001.4,365.1 3001.9,363.3 3002.5,375.5 3003.0,394.1 3003.6,376.0 3004.2,362.2 3004.7,360.9 3005.3,361.5 3005.8,365.5 3006.4,378.1 3007.0,387.1 3007.5,387.4 3008.1,379.4 3008.6,382.8 3009.2,391.2 3009.8,390.0 3010.3,373.0 3010.9,363.4 3011.4,364.5 3012.0,367.0 3012.6,364.0 3013.1,360.5 3013.7,362.4 3014.3,385.2 3014.8,393.5 3015.4,392.6 3015.9,394.8 3016.5,367.1 3017.1,361.8 3017.6,359.2 3018.2,357.2 3018.7,354.2 3019.3,357.8 3019.9,376.3 3020.4,387.2 3021.0,383.1 3021.5,368.1 3022.1,375.9 3022.7,384.7 3023.2,383.8 3023.8,373.6 3024.3,365.0 3024.9,367.9 3025.5,376.6 3026.0,381.1 3026.6,381.2 3027.2,377.5 3027.7,359.8 3028.3,361.0 3028.8,361.6 3029.4,363.2 3030.0,365.9 3030.5,369.1 3031.1,367.4 3031.6,364.1 3032.2,366.0 3032.8,377.2 3033.3,380.2 3033.9,380.2 3034.4,379.3 3035.0,378.1 3035.6,374.9 3036.1,364.7 3036.7,361.6 3037.2,362.2 3037.8,366.8 3038.4,368.9 3038.9,365.9 3039.5,369.0 3040.0,377.7 3040.6,376.9 3041.2,365.9 3041.7,361.6 3042.3,376.9 3042.9,379.9 3043.4,377.8 3044.0,370.9 3044.5,375.8 3045.1,379.1 3045.7,376.6 3046.2,363.4 3046.8,361.0 3047.3,361.7 3047.9,366.6 3048.5,372.6 3049.0,366.6 3049.6,363.9 3050.1,370.2 3050.7,379.5 3051.3,380.4 3051.8,377.1 3052.4,374.0 3052.9,377.9 3053.5,375.7 3054.1,362.5 3054.6,362.1 3055.2,373.1 3055.8,375.4 3056.3,365.4 3056.9,364.1 3057.4,374.8 3058.0,380.8 3058.6,378.2 3059.1,362.3 3059.7,358.7 3060.2,364.3 3060.8,382.6 3061.4,384.5 3061.9,381.6 3062.5,365.0 3063.0,360.4 3063.6,360.5 3064.2,364.7 3064.7,378.2 3065.3,381.7 3065.8,379.3 3066.4,377.9 3067.0,380.8 3067.5,376.4 3068.1,361.9 3068.7,360.4 3069.2,366.5 3069.8,387.8 3070.3,372.5 3070.9,358.7 3071.5,363.9 3072.0,378.3 3072.6,383.9 3073.1,383.6 3073.7,378.6 3074.3,364.9 3074.8,361.6 3075.4,361.1 3075.9,359.7 3076.5,361.8 3077.1,379.7 3077.6,384.9 3078.2,382.8 3078.7,382.2 3079.3,380.5 3079.9,368.8 3080.4,365.2 3081.0,376.3 3081.5,378.0 3082.1,361.9 3082.7,356.7 3083.2,358.0 3083.8,377.5 3084.4,384.3 3084.9,387.8 3085.5,370.7 3086.0,365.9 3086.6,359.7 3087.2,355.0 3087.7,358.9 3088.3,366.6 3088.8,375.0 3089.4,377.3 3090.0,379.9 3090.5,381.3 3091.1,381.9 3091.6,382.4 3092.2,381.2 3092.8,380.7 3093.3,382.2 3093.9,377.7 3094.4,360.9 3095.0,358.7 3095.6,360.7 3096.1,377.6 3096.7,384.1 3097.3,382.0 3097.8,368.1 3098.4,362.3 3098.9,361.2 3099.5,361.2 3100.1,364.0 3100.6,378.4 3101.2,385.6 3101.7,382.8 3102.3,375.8 3102.9,369.2 3103.4,377.1 3104.0,378.0 3104.5,364.9 3105.1,359.8 3105.7,377.2 3106.2,385.1 3106.8,384.1 3107.3,367.4 3107.9,361.9 3108.5,363.4 3109.0,368.6 3109.6,370.2 3110.1,365.1 3110.7,363.9 3111.3,367.3 3111.8,372.2 3112.4,366.9 3113.0,364.0 3113.5,366.8 3114.1,381.8 3114.6,384.1 3115.2,379.7 3115.8,363.5 3116.3,365.1 3116.9,381.0 3117.4,382.2 3118.0,371.9 3118.6,364.2 3119.1,364.8 3119.7,365.7 3120.2,364.3 3120.8,366.9 3121.4,380.8 3121.9,382.1 3122.5,373.2 3123.0,365.2 3123.6,370.1 3124.2,379.4 3124.7,370.7 3125.3,362.4 3125.9,366.1 3126.4,383.0 3127.0,380.2 3127.5,368.8 3128.1,365.7 3128.7,373.4 3129.2,379.3 3129.8,374.2 3130.3,363.2 3130.9,362.5 3131.5,368.2 3132.0,380.6 3132.6,380.0 3133.1,374.6 3133.7,375.1 3134.3,377.0 3134.8,372.4 3135.4,368.7 3135.9,376.7 3136.5,379.0 3137.1,369.8 3137.6,362.3 3138.2,362.0 3138.8,365.8 3139.3,377.8 3139.9,379.1 3140.4,376.9 3141.0,371.5 3141.6,365.9 3142.1,363.3 3142.7,363.9 3143.2,375.4 3143.8,380.4 3144.4,378.4 3144.9,371.4 3145.5,376.3 3146.0,380.0 3146.6,376.7 3147.2,365.2 3147.7,361.6 3148.3,363.6 3148.8,364.8 3149.4,374.7 3150.0,382.3 3150.5,380.3 3151.1,364.6 3151.6,362.5 3152.2,366.3 3152.8,381.0 3153.3,384.0 3153.9,383.2 3154.5,386.7 3155.0,372.8 3155.6,364.8 3156.1,363.7 3156.7,365.7 3157.3,369.1 3157.8,374.3 3158.4,370.0 3158.9,364.4 3159.5,364.5 3160.1,376.6 3160.6,372.8 3161.2,362.4 3161.7,363.6 3162.3,382.8 3162.9,384.9 3163.4,382.6 3164.0,380.8 3164.5,381.1 3165.1,375.2 3165.7,361.6 3166.2,366.5 3166.8,375.4 3167.4,373.8 3167.9,367.4 3168.5,365.3 3169.0,363.4 3169.6,364.4 3170.2,376.8 3170.7,381.6 3171.3,381.3 3171.8,378.3 3172.4,370.9 3173.0,367.9 3173.5,367.7 3174.1,368.8 3174.6,367.0 3175.2,363.9 3175.8,364.1 3176.3,373.1 3176.9,380.0 3177.4,379.8 3178.0,372.6 3178.6,364.3 3179.1,363.8 3179.7,366.8 3180.2,377.2 3180.8,380.4 3181.4,378.2 3181.9,369.4 3182.5,363.5 3183.1,373.2 3183.6,377.9 3184.2,376.0 3184.7,371.7 3185.3,376.2 3185.9,376.7 3186.4,366.3 3187.0,363.9 3187.5,366.5 3188.1,377.0 3188.7,378.9 3189.2,377.0 3189.8,366.1 3190.3,363.5 3190.9,364.7 3191.5,370.5 3192.0,372.2 3192.6,365.9 3193.1,365.2 3193.7,372.8 3194.3,378.5 3194.8,379.4 3195.4,378.6 3196.0,379.3 3196.5,369.1 3197.1,373.1 3197.6,369.6 3198.2,365.0 3198.8,364.2 3199.3,362.4 3199.9,366.1 3200.4,365.5 3201.0,368.6 3201.6,377.8 3202.1,378.0 3202.7,369.6 3203.2,369.5 3203.8,379.1 3204.4,379.7 3204.9,365.9 3205.5,360.1 3206.0,360.8 3206.6,372.1 3207.2,379.6 3207.7,380.6 3208.3,381.3 3208.9,380.9 3209.4,372.8 3210.0,360.7 3210.5,362.1 3211.1,374.6 3211.7,375.3 3212.2,360.5 3212.8,355.7 3213.3,353.5 3213.9,373.8 3214.5,383.6 3215.0,385.6 3215.6,381.0 3216.1,378.0 3216.7,379.8 3217.3,379.9 3217.8,364.3 3218.4,356.1 3218.9,358.0 3219.5,372.4 3220.1,372.7 3220.6,359.7 3221.2,360.0 3221.7,377.3 3222.3,382.6 3222.9,382.1 3223.4,381.3 3224.0,379.3 3224.6,366.5 3225.1,360.8 3225.7,362.6 3226.2,367.6 3226.8,369.6 3227.4,365.6 3227.9,362.1 3228.5,360.2 3229.0,359.6 3229.6,363.8 3230.2,381.5 3230.7,383.7 3231.3,383.4 3231.8,373.1 3232.4,361.8 3233.0,365.3 3233.5,375.6 3234.1,376.9 3234.6,375.7 3235.2,376.2 3235.8,383.0 3236.3,374.2 3236.9,366.5 3237.5,366.7 3238.0,359.8 3238.6,361.8 3239.1,360.4 3239.7,361.4 3240.3,366.8 3240.8,378.4 3241.4,381.2 3241.9,380.9 3242.5,377.2 3243.1,374.3 3243.6,378.4 3244.2,378.2 3244.7,364.7 3245.3,360.9 3245.9,362.9 3246.4,374.3 3247.0,378.1 3247.5,377.1 3248.1,369.6 3248.7,362.7 3249.2,362.1 3249.8,368.6 3250.3,378.5 3250.9,379.2 3251.5,378.5 3252.0,377.5 3252.6,374.1 3253.2,366.8 3253.7,367.4 3254.3,370.1 3254.8,364.9 3255.4,361.5 3256.0,365.4 3256.5,379.0 3257.1,380.0 3257.6,376.8 3258.2,363.5 3258.8,360.8 3259.3,360.6 3259.9,361.7 3260.4,358.7 3261.0,374.1 3261.6,376.1 3262.1,377.7 3262.7,379.3 3263.2,376.0 3263.8,371.6 3264.4,365.7 3264.9,363.1 3265.5,364.0 3266.1,371.8 3266.6,374.3 3267.2,367.0 3267.7,362.4 3268.3,366.0 3268.9,378.6 3269.4,379.8 3270.0,378.2 3270.5,364.9 3271.1,363.2 3271.7,363.8 3272.2,360.9 3272.8,360.9 3273.3,368.1 3273.9,375.7 3274.5,370.3 3275.0,366.2 3275.6,375.9 3276.1,379.6 3276.7,378.7 3277.3,365.8 3277.8,361.1 3278.4,364.9 3279.0,378.0 3279.5,380.4 3280.1,374.1 3280.6,359.8 3281.2,363.4 3281.8,374.6 3282.3,378.9 3282.9,378.7 3283.4,372.5 3284.0,362.0 3284.6,362.2 3285.1,373.4 3285.7,375.0 3286.2,362.7 3286.8,361.1 3287.4,365.0 3287.9,373.3 3288.5,370.3 3289.0,368.1 3289.6,376.0 3290.2,380.0 3290.7,379.8 3291.3,373.8 3291.8,363.8 3292.4,363.2 3293.0,370.8 3293.5,379.7 3294.1,380.5 3294.7,378.2 3295.2,367.9 3295.8,362.0 3296.3,361.3 3296.9,366.4 3297.5,378.9 3298.0,376.8 3298.6,363.8 3299.1,363.1 3299.7,374.2 3300.3,379.5 3300.8,377.3 3301.4,366.9 3301.9,366.2 3302.5,377.5 3303.1,382.3 3303.6,379.5 3304.2,369.2 3304.7,363.8 3305.3,360.9 3305.9,364.6 3306.4,367.3 3307.0,367.0 3307.6,364.7 3308.1,365.5 3308.7,375.1 3309.2,380.1 3309.8,381.2 3310.4,381.4 3310.9,379.4 3311.5,366.4 3312.0,362.0 3312.6,362.0 3313.2,363.7 3313.7,367.4 3314.3,375.1 3314.8,378.8 3315.4,380.1 3316.0,378.5 3316.5,368.7 3317.1,363.0 3317.6,361.8 3318.2,363.8 3318.8,376.6 3319.3,380.4 3319.9,377.5 3320.4,370.0 3321.0,374.1 3321.6,373.8 3322.1,366.4 3322.7,367.9 3323.3,377.2 3323.8,377.0 3324.4,366.2 3324.9,360.9 3325.5,370.3 3326.1,382.3 3326.6,381.4 3327.2,381.1 3327.7,376.7 3328.3,364.4 3328.9,363.7 3329.4,364.2 3330.0,361.8 3330.5,362.0 3331.1,367.9 3331.7,373.1 3332.2,369.5 3332.8,377.2 3333.3,380.7 3333.9,379.2 3334.5,366.7 3335.0,363.3 3335.6,373.6 3336.2,380.6 3336.7,380.2 3337.3,369.9 3337.8,361.4 3338.4,360.7 3339.0,363.4 3339.5,372.5 3340.1,374.5 3340.6,369.6 3341.2,366.1 3341.8,365.6 3342.3,367.6 3342.9,375.4 3343.4,379.2 3344.0,379.4 3344.6,371.1 3345.1,360.6 3345.7,361.7 3346.2,377.4 3346.8,380.2 3347.4,378.6 3347.9,373.3 3348.5,363.1 3349.1,360.8 3349.6,366.3 3350.2,378.1 3350.7,376.5 3351.3,361.5 3351.9,358.7 3352.4,366.5 3353.0,380.4 3353.5,375.9 3354.1,370.6 3354.7,376.9 3355.2,375.7 3355.8,362.7 3356.3,364.0 3356.9,379.1 3357.5,381.0 3358.0,378.9 3358.6,369.8 3359.1,365.6 3359.7,365.2 3360.3,363.9 3360.8,363.6 3361.4,366.8 3361.9,373.0 3362.5,366.4 3363.1,360.2 3363.6,359.4 3364.2,363.4 3364.8,377.0 3365.3,381.3 3365.9,383.0 3366.4,379.2 3367.0,374.7 3367.6,373.6 3368.1,367.0 3368.7,357.9 3369.2,359.6 3369.8,366.6 3370.4,380.9 3370.9,381.7 3371.5,376.1 3372.0,361.5 3372.6,360.8 3373.2,367.4 3373.7,377.9 3374.3,378.6 3374.8,376.1 3375.4,371.9 3376.0,366.6 3376.5,363.4 3377.1,362.7 3377.7,364.8 3378.2,365.3 3378.8,363.3 3379.3,366.1 3379.9,378.2 3380.5,380.1 3381.0,379.5 3381.6,375.7 3382.1,367.8 3382.7,366.6 3383.3,368.2 3383.8,372.2 3384.4,367.3 3384.9,361.6 3385.5,360.8 3386.1,363.4 3386.6,374.2 3387.2,376.9 3387.7,378.2 3388.3,376.9 3388.9,376.5 3389.4,374.9 3390.0,366.7 3390.5,364.4 3391.1,369.2 3391.7,374.4 3392.2,365.9 3392.8,361.6 3393.4,363.7 3393.9,377.3 3394.5,378.9 3395.0,376.2 3395.6,366.5 3396.2,365.5 3396.7,374.0 3397.3,378.2 3397.8,376.7 3398.4,367.4 3399.0,365.9 3399.5,368.1 3400.1,366.8 3400.6,364.3 3401.2,367.2 3401.8,378.4 3402.3,380.3 3402.9,379.2 3403.4,372.2 3404.0,364.7 3404.6,363.9 3405.1,364.4 3405.7,366.2 3406.3,373.0 3406.8,381.9 3407.4,367.9 3407.9,363.5 3408.5,360.9 3409.1,366.4 3409.6,378.7 3410.2,381.7 3410.7,381.3 3411.3,373.6 3411.9,362.3 3412.4,362.5 3413.0,372.2 3413.5,377.4 3414.1,369.3 3414.7,362.8 3415.2,364.6 3415.8,376.8 3416.3,380.6 3416.9,380.8 3417.5,378.6 3418.0,369.9 3418.6,361.6 3419.2,357.9 3419.7,359.3 3420.3,363.7 3420.8,370.3 3421.4,368.3 3422.0,374.0 3422.5,380.6 3423.1,382.3 3423.6,376.6 3424.2,364.5 3424.8,373.3 3425.3,379.2 3425.9,377.3 3426.4,368.9 3427.0,364.9 3427.6,362.7 3428.1,361.0 3428.7,360.2 3429.2,362.4 3429.8,373.9 3430.4,377.2 3430.9,374.2 3431.5,364.1 3432.0,358.7 3432.6,374.3 3433.2,379.6 3433.7,380.4 3434.3,379.1 3434.9,376.7 3435.4,368.8 3436.0,363.8 3436.5,365.0 3437.1,372.0 3437.7,367.2 3438.2,361.5 3438.8,361.4 3439.3,366.4 3439.9,375.0 3440.5,376.8 3441.0,376.0 3441.6,365.1 3442.1,361.1 3442.7,363.8 3443.3,378.0 3443.8,378.9 3444.4,376.9 3444.9,377.2 3445.5,378.4 3446.1,377.7 3446.6,374.7 3447.2,366.5 3447.8,363.4 3448.3,363.9 3448.9,367.2 3449.4,372.1 3450.0,368.7 3450.6,362.4 3451.1,364.6 3451.7,369.8 3452.2,379.3 3452.8,364.6 3453.4,366.6 3453.9,378.5 3454.5,379.7 3455.0,378.9 3455.6,370.8 3456.2,364.5 3456.7,364.4 3457.3,365.2 3457.8,364.2 3458.4,363.7 3459.0,370.0 3459.5,378.9 3460.1,378.6 3460.6,371.8 3461.2,372.2 3461.8,378.2 3462.3,377.4 3462.9,368.9 3463.5,372.2 3464.0,378.6 3464.6,378.0 3465.1,367.3 3465.7,362.3 3466.3,360.9 3466.8,363.7 3467.4,376.1 3467.9,377.1 3468.5,364.6 3469.1,362.1 3469.6,365.9 3470.2,378.7 3470.7,379.2 3471.3,373.3 3471.9,372.0 3472.4,379.5 3473.0,381.5 3473.5,381.0 3474.1,377.6 3474.7,368.1 3475.2,364.6 3475.8,364.7 3476.4,366.3 3476.9,365.2 3477.5,364.3 3478.0,368.9 3478.6,383.0 3479.2,368.9 3479.7,364.3 3480.3,368.6 3480.8,377.8 3481.4,367.5 3482.0,364.3 3482.5,367.5 3483.1,373.2 3483.6,369.3 3484.2,376.3 3484.8,381.8 3485.3,382.0 3485.9,376.9 3486.4,365.9 3487.0,363.5 3487.6,370.5 3488.1,380.0 3488.7,380.4 3489.3,376.6 3489.8,369.2 3490.4,367.3 3490.9,365.5 3491.5,364.0 3492.1,363.7 3492.6,365.4 3493.2,375.8 3493.7,381.9 3494.3,380.6 3494.9,376.0 3495.4,366.6 3496.0,365.5 3496.5,370.2 3497.1,379.0 3497.7,379.9 3498.2,374.4 3498.8,364.0 3499.3,362.6 3499.9,363.4 3500.5,367.8 3501.0,375.6 3501.6,376.1 3502.1,374.6 3502.7,375.0 3503.3,377.8 3503.8,381.2 3504.4,372.8 3505.0,361.9 3505.5,360.9 3506.1,368.7 3506.6,380.0 3507.2,380.3 3507.8,375.8 3508.3,366.1 3508.9,368.7 3509.4,377.4 3510.0,377.6 3510.6,373.2 3511.1,366.1 3511.7,363.3 3512.2,363.7 3512.8,371.7 3513.4,377.8 3513.9,375.2 3514.5,366.5 3515.0,362.4 3515.6,365.0 3516.2,376.6 3516.7,379.6 3517.3,374.3 3517.9,364.0 3518.4,363.8 3519.0,365.4 3519.5,368.1 3520.1,377.3 3520.7,380.1 3521.2,379.6 3521.8,376.2 3522.3,374.7 3522.9,372.5 3523.5,364.9 3524.0,364.7 3524.6,375.9 3525.1,380.4 3525.7,375.9 3526.3,364.8 3526.8,361.6 3527.4,363.5 3527.9,366.8 3528.5,367.7 3529.1,368.3 3529.6,377.3 3530.2,379.2 3530.7,374.8 3531.3,366.1 3531.9,366.5 3532.4,368.6 3533.0,368.0 3533.6,363.5 3534.1,367.3 3534.7,377.1 3535.2,379.2 3535.8,377.5 3536.4,368.2 3536.9,365.8 3537.5,372.3 3538.0,378.5 3538.6,379.2 3539.2,376.8 3539.7,366.1 3540.3,363.4 3540.8,363.4 3541.4,364.9 3542.0,368.7 3542.5,369.6 3543.1,367.2 3543.6,373.4 3544.2,378.4 3544.8,377.6 3545.3,367.1 3545.9,366.3 3546.5,376.5 3547.0,379.3 3547.6,369.9 3548.1,361.6 3548.7,363.3 3549.3,366.5 3549.8,370.7 3550.4,375.6 3550.9,378.7 3551.5,379.0 3552.1,374.3" stroke="#000000" stroke-width="6.25" stroke-linejoin="round" fill="none"/><path d="M355.50,660.30v15.18M916.30,660.30v15.18M1477.10,660.30v15.18M2037.90,660.30v15.18M2598.70,660.30v15.18M3159.50,660.30v15.18M355.50,129.86h-15.18M355.50,250.58h-15.18M355.50,371.30h-15.18M355.50,492.02h-15.18M355.50,612.74h-15.18" stroke="#000" stroke-width="3.333" fill="none"/><rect x="355.50" y="82.30" width="3197.00" height="578.00" fill="none" stroke="#000" stroke-width="3.333"/></g>
<g><path d="M355.50,857.50V1435.50M916.30,857.50V1435.50M1477.10,857.50V1435.50M2037.90,857.50V1435.50M2598.70,857.50V1435.50M3159.50,857.50V1435.50M355.50,864.50H3552.50M355.50,1005.50H3552.50M355.50,1146.50H3552.50M355.50,1287.50H3552.50M355.50,1428.50H3552.50" stroke="#b0b0b0" stroke-width="3.333" fill="none"/><path clip-path="url(#c1)" d="M355.5,1143.2 356.1,1142.1 356.6,1137.6 357.2,1133.1 357.7,1132.5 358.3,1135.8 358.9,1141.4 359.4,1143.5 360.0,1151.0 360.5,1155.4 361.1,1152.8 361.7,1138.8 362.2,1131.1 362.8,1138.8 363.4,1152.6 363.9,1154.9 364.5,1153.1 365.0,1135.1 365.6,1128.7 366.2,1128.8 366.7,1126.3 367.3,1152.3 367.8,1158.0 368.4,1155.2 369.0,1150.0 369.5,1149.7 370.1,1145.1 370.6,1135.4 371.2,1135.6 371.8,1142.8 372.3,1136.6 372.9,1127.7 373.4,1127.1 374.0,1137.2 374.6,1161.6 375.1,1167.2 375.7,1165.8 376.2,1157.0 376.8,1136.6 377.4,1134.9 377.9,1133.7 378.5,1131.4 379.1,1141.6 379.6,1161.6 380.2,1161.0 380.7,1134.6 381.3,1122.6 381.9,1134.6 382.4,1143.5 383.0,1133.1 383.5,1155.0 384.1,1163.6 384.7,1162.8 385.2,1160.3 385.8,1151.9 386.3,1133.5 386.9,1127.0 387.5,1128.3 388.0,1142.0 388.6,1157.5 389.1,1158.3 389.7,1163.2 390.3,1178.3 390.8,1162.4 391.4,1131.0 392.0,1125.5 392.5,1127.4 393.1,1122.6 393.6,1134.6 394.2,1151.2 394.8,1152.9 395.3,1157.2 395.9,1160.5 396.4,1162.0 397.0,1167.2 397.6,1163.5 398.1,1156.0 398.7,1131.9 399.2,1128.5 399.8,1131.4 400.4,1153.0 400.9,1162.1 401.5,1159.3 402.0,1146.6 402.6,1141.4 403.2,1145.6 403.7,1144.4 404.3,1136.9 404.9,1132.9 405.4,1136.9 406.0,1144.7 406.5,1151.8 407.1,1151.6 407.7,1155.0 408.2,1159.1 408.8,1161.7 409.3,1158.8 409.9,1142.0 410.5,1135.0 411.0,1135.3 411.6,1139.2 412.1,1142.8 412.7,1146.8 413.3,1156.1 413.8,1159.7 414.4,1161.7 414.9,1156.1 415.5,1152.3 416.1,1141.2 416.6,1136.2 417.2,1134.8 417.7,1140.6 418.3,1159.0 418.9,1161.4 419.4,1138.6 420.0,1129.3 420.6,1131.4 421.1,1161.1 421.7,1174.6 422.2,1160.6 422.8,1130.5 423.4,1133.2 423.9,1155.4 424.5,1161.6 425.0,1156.5 425.6,1146.0 426.2,1154.7 426.7,1164.2 427.3,1165.3 427.8,1157.8 428.4,1157.2 429.0,1168.0 429.5,1157.2 430.1,1131.1 430.6,1115.6 431.2,1126.5 431.8,1128.1 432.3,1133.9 432.9,1166.5 433.5,1186.4 434.0,1166.5 434.6,1136.0 435.1,1125.6 435.7,1136.0 436.3,1165.5 436.8,1161.4 437.4,1137.7 437.9,1139.3 438.5,1162.8 439.1,1165.4 439.6,1149.4 440.2,1132.5 440.7,1138.2 441.3,1156.4 441.9,1154.0 442.4,1135.2 443.0,1130.8 443.5,1133.0 444.1,1136.8 444.7,1135.7 445.2,1134.6 445.8,1140.3 446.3,1157.4 446.9,1165.4 447.5,1162.9 448.0,1160.8 448.6,1157.9 449.2,1156.6 449.7,1152.0 450.3,1136.6 450.8,1130.9 451.4,1130.0 452.0,1133.6 452.5,1157.3 453.1,1162.9 453.6,1158.7 454.2,1139.7 454.8,1134.3 455.3,1139.3 455.9,1155.7 456.4,1156.0 457.0,1144.1 457.6,1143.9 458.1,1153.3 458.7,1155.5 459.2,1158.0 459.8,1161.8 460.4,1165.4 460.9,1162.9 461.5,1140.1 462.1,1127.3 462.6,1126.9 463.2,1132.0 463.7,1137.9 464.3,1134.0 464.9,1125.6 465.4,1158.7 466.0,1170.9 466.5,1164.9 467.1,1165.0 467.7,1161.3 468.2,1158.4 468.8,1161.2 469.3,1158.0 469.9,1132.9 470.5,1126.7 471.0,1130.5 471.6,1140.1 472.1,1140.2 472.7,1141.1 473.3,1154.9 473.8,1161.5 474.4,1176.5 475.0,1161.5 475.5,1130.3 476.1,1128.2 476.6,1128.5 477.2,1131.3 477.8,1152.0 478.3,1165.4 478.9,1167.0 479.4,1165.5 480.0,1162.1 480.6,1153.8 481.1,1133.6 481.7,1122.6 482.2,1133.5 482.8,1155.9 483.4,1165.4 483.9,1155.9 484.5,1133.0 485.0,1134.1 485.6,1138.5 486.2,1131.1 486.7,1115.6 487.3,1131.1 487.8,1165.4 488.4,1168.3 489.0,1160.4 489.5,1144.7 490.1,1137.0 490.7,1130.5 491.2,1126.5 491.8,1128.7 492.3,1154.0 492.9,1165.4 493.5,1164.4 494.0,1160.1 494.6,1159.5 495.1,1153.4 495.7,1131.1 496.3,1127.9 496.8,1141.0 497.4,1161.3 497.9,1154.6 498.5,1132.1 499.1,1129.4 499.6,1134.7 500.2,1153.7 500.7,1160.2 501.3,1163.9 501.9,1170.9 502.4,1160.8 503.0,1137.1 503.6,1132.2 504.1,1138.6 504.7,1158.6 505.2,1163.5 505.8,1153.1 506.4,1137.5 506.9,1140.3 507.5,1156.9 508.0,1154.5 508.6,1137.6 509.2,1133.9 509.7,1135.7 510.3,1157.8 510.8,1166.8 511.4,1164.9 512.0,1154.3 512.5,1141.2 513.1,1137.5 513.6,1136.1 514.2,1139.6 514.8,1159.2 515.3,1164.5 515.9,1158.0 516.4,1135.1 517.0,1132.9 517.6,1136.7 518.1,1155.8 518.7,1159.1 519.3,1155.3 519.8,1151.2 520.4,1148.6 520.9,1155.6 521.5,1164.7 522.1,1155.6 522.6,1134.0 523.2,1132.3 523.7,1140.4 524.3,1156.7 524.9,1159.5 525.4,1159.6 526.0,1137.5 526.5,1128.5 527.1,1135.0 527.7,1156.4 528.2,1157.0 528.8,1145.8 529.3,1150.0 529.9,1153.7 530.5,1135.9 531.0,1130.4 531.6,1130.9 532.2,1152.3 532.7,1158.0 533.3,1155.0 533.8,1141.5 534.4,1138.8 535.0,1149.6 535.5,1154.9 536.1,1155.7 536.6,1154.8 537.2,1151.3 537.8,1147.1 538.3,1151.0 538.9,1149.6 539.4,1136.3 540.0,1133.7 540.6,1136.0 541.1,1153.6 541.7,1160.3 542.2,1161.1 542.8,1160.1 543.4,1156.7 543.9,1151.3 544.5,1148.8 545.1,1149.2 545.6,1144.2 546.2,1138.3 546.7,1134.6 547.3,1134.2 547.9,1155.6 548.4,1164.7 549.0,1157.3 549.5,1149.6 550.1,1143.8 550.7,1140.2 551.2,1136.3 551.8,1133.7 552.3,1140.0 552.9,1153.0 553.5,1161.1 554.0,1165.6 554.6,1166.5 555.1,1167.2 555.7,1156.9 556.3,1134.7 556.8,1135.4 557.4,1143.6 557.9,1143.3 558.5,1135.1 559.1,1129.2 559.6,1137.9 560.2,1160.7 560.8,1163.7 561.3,1158.1 561.9,1142.5 562.4,1143.2 563.0,1149.0 563.6,1140.2 564.1,1134.9 564.7,1134.8 565.2,1138.4 565.8,1142.6 566.4,1143.7 566.9,1156.3 567.5,1161.7 568.0,1159.1 568.6,1155.9 569.2,1157.6 569.7,1151.7 570.3,1139.9 570.8,1140.3 571.4,1143.4 572.0,1160.2 572.5,1156.9 573.1,1143.0 573.7,1140.9 574.2,1142.5 574.8,1152.2 575.3,1153.0 575.9,1154.6 576.5,1160.9 577.0,1158.1 577.6,1141.1 578.1,1137.8 578.7,1139.7 579.3,1157.1 579.8,1165.4 580.4,1165.2 580.9,1156.2 581.5,1139.0 582.1,1137.3 582.6,1139.7 583.2,1133.7 583.7,1132.4 584.3,1133.4 584.9,1160.0 585.4,1173.5 586.0,1166.6 586.5,1166.1 587.1,1163.1 587.7,1155.1 588.2,1144.9 588.8,1151.4 589.4,1153.6 589.9,1137.3 590.5,1129.1 591.0,1129.0 591.6,1131.0 592.2,1131.3 592.7,1134.0 593.3,1140.1 593.8,1136.2 594.4,1132.4 595.0,1152.9 595.5,1168.3 596.1,1190.1 596.6,1168.3 597.2,1151.3 597.8,1131.1 598.3,1115.6 598.9,1131.1 599.4,1159.5 600.0,1162.0 600.6,1153.0 601.1,1150.7 601.7,1153.0 602.3,1133.4 602.8,1125.7 603.4,1126.4 603.9,1132.9 604.5,1154.2 605.1,1159.9 605.6,1157.9 606.2,1149.4 606.7,1140.1 607.3,1140.3 607.9,1144.5 608.4,1154.7 609.0,1161.6 609.5,1164.1 610.1,1154.4 610.7,1135.7 611.2,1134.8 611.8,1140.6 612.3,1166.0 612.9,1153.3 613.5,1136.0 614.0,1137.3 614.6,1154.4 615.2,1162.1 615.7,1161.4 616.3,1159.1 616.8,1157.5 617.4,1156.7 618.0,1147.5 618.5,1136.1 619.1,1134.8 619.6,1164.2 620.2,1182.0 620.8,1164.2 621.3,1133.6 621.9,1137.6 622.4,1153.0 623.0,1139.3 623.6,1132.2 624.1,1136.1 624.7,1139.7 625.2,1152.1 625.8,1161.1 626.4,1160.5 626.9,1143.7 627.5,1137.3 628.0,1144.3 628.6,1164.2 629.2,1166.2 629.7,1161.7 630.3,1155.8 630.9,1148.5 631.4,1140.2 632.0,1134.5 632.5,1131.1 633.1,1138.1 633.7,1138.3 634.2,1134.2 634.8,1134.0 635.3,1139.8 635.9,1157.5 636.5,1162.9 637.0,1161.5 637.6,1150.3 638.1,1145.7 638.7,1162.5 639.3,1168.0 639.8,1157.2 640.4,1132.7 640.9,1131.1 641.5,1133.6 642.1,1136.7 642.6,1149.8 643.2,1161.9 643.8,1160.0 644.3,1142.8 644.9,1144.2 645.4,1163.2 646.0,1166.9 646.6,1164.8 647.1,1170.9 647.7,1158.7 648.2,1113.8 648.8,1128.9 649.4,1138.6 649.9,1143.7 650.5,1132.3 651.0,1130.2 651.6,1142.8 652.2,1160.1 652.7,1163.0 653.3,1165.4 653.8,1165.9 654.4,1156.7 655.0,1128.7 655.5,1125.0 656.1,1127.9 656.6,1134.3 657.2,1140.8 657.8,1152.2 658.3,1154.8 658.9,1154.3 659.5,1159.0 660.0,1166.5 660.6,1163.6 661.1,1149.1 661.7,1125.4 662.3,1117.1 662.8,1128.7 663.4,1139.8 663.9,1153.8 664.5,1158.3 665.1,1157.8 665.6,1145.1 666.2,1130.0 666.7,1135.0 667.3,1155.7 667.9,1158.9 668.4,1159.1 669.0,1152.8 669.5,1136.6 670.1,1134.7 670.7,1129.4 671.2,1123.7 671.8,1129.3 672.4,1140.8 672.9,1142.6 673.5,1133.4 674.0,1135.7 674.6,1155.8 675.2,1160.8 675.7,1160.8 676.3,1159.9 676.8,1158.7 677.4,1152.2 678.0,1138.8 678.5,1136.4 679.1,1133.0 679.6,1128.7 680.2,1124.8 680.8,1127.6 681.3,1134.1 681.9,1158.4 682.4,1165.6 683.0,1162.8 683.6,1132.0 684.1,1124.2 684.7,1133.9 685.3,1162.7 685.8,1169.8 686.4,1158.2 686.9,1158.6 687.5,1164.4 688.1,1154.1 688.6,1120.9 689.2,1095.3 689.7,1158.2 690.3,1169.8 690.9,1161.9 691.4,1139.1 692.0,1127.1 692.5,1125.8 693.1,1129.6 693.7,1134.4 694.2,1138.3 694.8,1150.7 695.3,1153.5 695.9,1151.6 696.5,1138.4 697.0,1125.2 697.6,1125.5 698.1,1130.0 698.7,1138.2 699.3,1150.4 699.8,1149.6 700.4,1149.6 701.0,1150.5 701.5,1151.8 702.1,1150.9 702.6,1147.3 703.2,1138.1 703.8,1137.8 704.3,1138.5 704.9,1136.6 705.4,1139.5 706.0,1151.9 706.6,1153.7 707.1,1154.3 707.7,1150.4 708.2,1132.0 708.8,1131.8 709.4,1136.4 709.9,1139.1 710.5,1139.7 711.0,1141.4 711.6,1141.5 712.2,1142.2 712.7,1141.2 713.3,1140.4 713.9,1156.9 714.4,1162.5 715.0,1161.1 715.5,1148.6 716.1,1138.0 716.7,1140.6 717.2,1147.2 717.8,1156.9 718.3,1167.2 718.9,1160.7 719.5,1138.0 720.0,1123.9 720.6,1104.5 721.1,1125.5 721.7,1138.1 722.3,1159.0 722.8,1164.7 723.4,1164.4 723.9,1155.9 724.5,1130.7 725.1,1124.4 725.6,1126.3 726.2,1130.6 726.7,1156.5 727.3,1166.5 727.9,1164.9 728.4,1161.8 729.0,1146.2 729.6,1136.4 730.1,1134.4 730.7,1128.6 731.2,1126.9 731.8,1135.0 732.4,1156.8 732.9,1158.6 733.5,1152.6 734.0,1152.7 734.6,1157.1 735.2,1160.2 735.7,1170.9 736.3,1160.7 736.8,1151.5 737.4,1156.0 738.0,1161.0 738.5,1132.7 739.1,1118.9 739.6,1122.3 740.2,1129.5 740.8,1155.6 741.3,1162.2 741.9,1163.2 742.5,1160.6 743.0,1149.9 743.6,1138.9 744.1,1138.9 744.7,1138.7 745.3,1144.5 745.8,1155.1 746.4,1153.2 746.9,1138.0 747.5,1132.9 748.1,1151.3 748.6,1156.2 749.2,1151.3 749.7,1131.9 750.3,1140.3 750.9,1130.6 751.4,1125.7 752.0,1137.5 752.5,1162.3 753.1,1162.7 753.7,1150.8 754.2,1154.4 754.8,1166.5 755.4,1167.4 755.9,1153.4 756.5,1126.4 757.0,1120.7 757.6,1123.5 758.2,1162.0 758.7,1177.6 759.3,1173.5 759.8,1128.1 760.4,1109.7 761.0,1121.7 761.5,1141.7 762.1,1162.1 762.6,1159.1 763.2,1153.4 763.8,1142.3 764.3,1130.3 764.9,1126.3 765.4,1128.5 766.0,1136.1 766.6,1163.3 767.1,1177.6 767.7,1167.9 768.2,1134.2 768.8,1122.6 769.4,1134.6 769.9,1143.2 770.5,1124.8 771.1,1128.5 771.6,1169.5 772.2,1175.9 772.7,1169.0 773.3,1132.6 773.9,1124.6 774.4,1132.1 775.0,1159.0 775.5,1167.0 776.1,1151.9 776.7,1120.8 777.2,1114.5 777.8,1129.5 778.3,1157.5 778.9,1167.4 779.5,1178.3 780.0,1173.0 780.6,1143.9 781.1,1123.6 781.7,1126.3 782.3,1132.1 782.8,1156.2 783.4,1174.2 784.0,1171.7 784.5,1126.0 785.1,1113.4 785.6,1129.9 786.2,1160.8 786.8,1134.7 787.3,1122.4 787.9,1126.0 788.4,1138.6 789.0,1132.4 789.6,1125.2 790.1,1116.3 790.7,1131.4 791.2,1165.2 791.8,1181.2 792.4,1171.0 792.9,1170.2 793.5,1170.3 794.0,1171.2 794.6,1162.0 795.2,1132.2 795.7,1124.7 796.3,1122.9 796.8,1122.1 797.4,1123.0 798.0,1129.4 798.5,1164.8 799.1,1183.1 799.7,1174.4 800.2,1159.4 800.8,1125.5 801.3,1116.3 801.9,1131.4 802.5,1170.4 803.0,1167.2 803.6,1151.9 804.1,1133.6 804.7,1142.8 805.3,1167.8 805.8,1163.1 806.4,1122.6 806.9,1111.6 807.5,1165.2 808.1,1183.8 808.6,1168.4 809.2,1125.3 809.7,1118.0 810.3,1120.9 810.9,1139.5 811.4,1163.0 812.0,1161.2 812.6,1163.3 813.1,1180.1 813.7,1163.3 814.2,1120.0 814.8,1172.0 815.4,1197.5 815.9,1172.2 816.5,1136.9 817.0,1130.5 817.6,1131.7 818.2,1132.2 818.7,1132.2 819.3,1136.0 819.8,1161.9 820.4,1166.0 821.0,1144.2 821.5,1157.8 822.1,1169.1 822.6,1157.8 823.2,1134.8 823.8,1140.6 824.3,1159.1 824.9,1145.7 825.5,1137.8 826.0,1132.3 826.6,1132.9 827.1,1162.6 827.7,1175.3 828.3,1174.5 828.8,1164.7 829.4,1143.8 829.9,1134.1 830.5,1131.5 831.1,1140.3 831.6,1161.4 832.2,1136.9 832.7,1119.9 833.3,1119.1 833.9,1112.3 834.4,1169.8 835.0,1193.0 835.5,1169.8 836.1,1154.4 836.7,1159.3 837.2,1166.4 837.8,1161.6 838.3,1128.1 838.9,1117.4 839.5,1111.9 840.0,1129.2 840.6,1151.9 841.2,1143.3 841.7,1139.2 842.3,1175.7 842.8,1204.8 843.4,1175.7 844.0,1127.5 844.5,1122.6 845.1,1134.6 845.6,1155.8 846.2,1167.7 846.8,1176.7 847.3,1175.6 847.9,1145.3 848.4,1132.5 849.0,1135.3 849.6,1134.1 850.1,1129.3 850.7,1128.9 851.2,1134.3 851.8,1155.2 852.4,1165.4 852.9,1178.3 853.5,1162.4 854.1,1123.7 854.6,1135.1 855.2,1168.7 855.7,1169.0 856.3,1157.8 856.9,1130.6 857.4,1122.0 858.0,1120.0 858.5,1125.0 859.1,1160.5 859.7,1164.4 860.2,1142.6 860.8,1160.6 861.3,1174.6 861.9,1160.6 862.5,1124.8 863.0,1110.1 863.6,1128.3 864.1,1169.3 864.7,1164.6 865.3,1132.9 865.8,1147.7 866.4,1162.3 866.9,1160.9 867.5,1156.5 868.1,1129.6 868.6,1112.7 869.2,1129.6 869.8,1159.0 870.3,1138.2 870.9,1117.2 871.4,1156.5 872.0,1166.5 872.6,1156.5 873.1,1115.2 873.7,1114.3 874.2,1136.1 874.8,1167.1 875.4,1160.1 875.9,1150.9 876.5,1168.9 877.0,1183.4 877.6,1203.4 878.2,1174.9 878.7,1120.8 879.3,1104.5 879.8,1179.5 880.4,1212.6 881.0,1179.5 881.5,1109.6 882.1,1083.2 882.7,1102.1 883.2,1122.5 883.8,1175.3 884.3,1183.0 884.9,1166.1 885.5,1135.9 886.0,1166.3 886.6,1186.5 887.1,1184.2 887.7,1137.2 888.3,1108.5 888.8,1114.3 889.4,1140.1 889.9,1118.5 890.5,1090.5 891.1,1118.5 891.6,1183.2 892.2,1211.5 892.7,1186.0 893.3,1184.6 893.9,1177.3 894.4,1123.2 895.0,1103.5 895.6,1112.0 896.1,1165.2 896.7,1183.8 897.2,1165.2 897.8,1120.0 898.4,1105.1 898.9,1080.6 899.5,1113.5 900.0,1169.4 900.6,1182.0 901.2,1185.0 901.7,1207.1 902.3,1184.8 902.8,1151.9 903.4,1107.0 904.0,1101.9 904.5,1118.4 905.1,1174.8 905.6,1178.7 906.2,1131.7 906.8,1112.9 907.3,1147.9 907.9,1182.0 908.4,1201.2 909.0,1173.8 909.6,1108.0 910.1,1079.5 910.7,1113.0 911.3,1163.5 911.8,1178.9 912.4,1196.7 912.9,1178.5 913.5,1151.5 914.1,1119.4 914.6,1116.9 915.2,1124.4 915.7,1132.3 916.3,1118.2 916.9,1132.1 917.4,1158.8 918.0,1184.6 918.5,1187.8 919.1,1183.8 919.7,1172.8 920.2,1128.4 920.8,1104.3 921.3,1101.6 921.9,1116.3 922.5,1156.4 923.0,1174.4 923.6,1202.3 924.2,1174.4 924.7,1099.2 925.3,1051.8 925.8,1099.2 926.4,1189.1 927.0,1228.1 927.5,1187.6 928.1,1110.2 928.6,1073.9 929.2,1110.2 929.8,1120.7 930.3,1130.8 930.9,1143.9 931.4,1170.2 932.0,1190.6 932.6,1220.7 933.1,1183.6 933.7,1106.0 934.2,1088.7 934.8,1107.1 935.4,1174.9 935.9,1203.4 936.5,1174.9 937.0,1125.0 937.6,1126.0 938.2,1163.3 938.7,1188.3 939.3,1188.4 939.9,1132.9 940.4,1112.0 941.0,1126.9 941.5,1174.0 942.1,1183.0 942.7,1175.4 943.2,1142.2 943.8,1123.1 944.3,1112.8 944.9,1101.6 945.5,1176.8 946.0,1207.1 946.6,1176.8 947.1,1106.6 947.7,1115.9 948.3,1184.4 948.8,1206.7 949.4,1190.3 949.9,1172.0 950.5,1112.1 951.1,1077.6 951.6,1112.1 952.2,1168.7 952.8,1173.0 953.3,1110.0 953.9,1097.8 954.4,1107.6 955.0,1137.3 955.6,1132.6 956.1,1168.3 956.7,1190.1 957.2,1178.9 957.8,1171.6 958.4,1124.0 958.9,1101.6 959.5,1124.0 960.0,1130.2 960.6,1129.1 961.2,1133.4 961.7,1162.4 962.3,1178.3 962.8,1167.8 963.4,1157.9 964.0,1135.3 964.5,1128.1 965.1,1123.6 965.7,1122.8 966.2,1148.1 966.8,1168.2 967.3,1168.8 967.9,1158.5 968.5,1126.8 969.0,1112.7 969.6,1123.0 970.1,1126.4 970.7,1140.6 971.3,1158.7 971.8,1170.9 972.4,1158.7 972.9,1131.2 973.5,1138.4 974.1,1160.6 974.6,1163.9 975.2,1157.5 975.7,1124.4 976.3,1107.3 976.9,1096.8 977.4,1112.9 978.0,1155.6 978.5,1166.2 979.1,1167.5 979.7,1165.7 980.2,1159.4 980.8,1149.8 981.4,1128.4 981.9,1118.3 982.5,1161.1 983.0,1175.7 983.6,1163.6 984.2,1133.0 984.7,1113.2 985.3,1096.1 985.8,1121.3 986.4,1160.3 987.0,1163.3 987.5,1162.0 988.1,1168.7 988.6,1168.7 989.2,1135.3 989.8,1109.4 990.3,1109.2 990.9,1119.2 991.4,1147.8 992.0,1162.4 992.6,1178.3 993.1,1162.4 993.7,1125.5 994.3,1118.8 994.8,1101.6 995.4,1124.0 995.9,1179.6 996.5,1184.7 997.1,1167.7 997.6,1176.0 998.2,1182.2 998.7,1136.5 999.3,1123.9 999.9,1189.5 1000.4,1232.5 1001.0,1189.5 1001.5,1051.1 1002.1,1096.5 1002.7,1160.8 1003.2,1189.9 1003.8,1180.0 1004.3,1123.8 1004.9,1106.6 1005.5,1185.4 1006.0,1224.4 1006.6,1187.8 1007.1,1167.4 1007.7,1130.5 1008.3,1108.7 1008.8,1093.1 1009.4,1119.8 1010.0,1176.8 1010.5,1207.1 1011.1,1179.2 1011.6,1173.7 1012.2,1174.7 1012.8,1164.8 1013.3,1121.3 1013.9,1112.5 1014.4,1147.1 1015.0,1177.4 1015.6,1169.3 1016.1,1106.3 1016.7,1071.0 1017.2,1101.8 1017.8,1130.9 1018.4,1154.3 1018.9,1152.7 1019.5,1167.0 1020.0,1187.5 1020.6,1193.1 1021.2,1194.2 1021.7,1238.4 1022.3,1192.4 1022.9,1103.6 1023.4,1071.0 1024.0,1108.8 1024.5,1180.2 1025.1,1169.4 1025.7,1110.2 1026.2,1091.6 1026.8,1117.5 1027.3,1167.0 1027.9,1187.5 1028.5,1171.9 1029.0,1157.3 1029.6,1157.2 1030.1,1166.5 1030.7,1171.0 1031.3,1168.8 1031.8,1143.7 1032.4,1108.6 1032.9,1099.5 1033.5,1104.6 1034.1,1159.4 1034.6,1188.7 1035.2,1180.5 1035.8,1125.9 1036.3,1107.6 1036.9,1120.7 1037.4,1174.9 1038.0,1190.8 1038.6,1223.6 1039.1,1192.0 1039.7,1170.0 1040.2,1115.2 1040.8,1083.9 1041.4,1110.4 1041.9,1113.2 1042.5,1119.9 1043.0,1177.1 1043.6,1207.8 1044.2,1177.1 1044.7,1121.3 1045.3,1096.1 1045.8,1116.1 1046.4,1177.9 1047.0,1198.6 1047.5,1190.6 1048.1,1170.3 1048.6,1115.2 1049.2,1115.5 1049.8,1131.1 1050.3,1118.0 1050.9,1112.4 1051.5,1140.4 1052.0,1118.0 1052.6,1089.4 1053.1,1114.9 1053.7,1166.3 1054.3,1166.2 1054.8,1150.2 1055.4,1168.3 1055.9,1190.1 1056.5,1170.0 1057.1,1119.0 1057.6,1110.1 1058.2,1147.8 1058.7,1177.1 1059.3,1178.8 1059.9,1118.0 1060.4,1089.4 1061.0,1118.0 1061.5,1135.6 1062.1,1117.7 1062.7,1114.0 1063.2,1127.8 1063.8,1168.1 1064.4,1182.0 1064.9,1164.9 1065.5,1119.5 1066.0,1112.7 1066.6,1127.6 1067.2,1168.7 1067.7,1165.3 1068.3,1129.7 1068.8,1136.9 1069.4,1176.7 1070.0,1193.8 1070.5,1170.1 1071.1,1141.3 1071.6,1146.3 1072.2,1137.6 1072.8,1121.1 1073.3,1116.6 1073.9,1130.7 1074.4,1171.1 1075.0,1170.3 1075.6,1136.7 1076.1,1143.5 1076.7,1176.2 1077.2,1176.0 1077.8,1123.7 1078.4,1100.9 1078.9,1112.9 1079.5,1167.0 1080.1,1187.5 1080.6,1182.9 1081.2,1181.0 1081.7,1167.1 1082.3,1130.8 1082.9,1117.7 1083.4,1112.6 1084.0,1093.5 1084.5,1115.2 1085.1,1178.4 1085.7,1210.4 1086.2,1190.9 1086.8,1186.6 1087.3,1130.7 1087.9,1110.5 1088.5,1134.2 1089.0,1176.9 1089.6,1162.7 1090.1,1129.0 1090.7,1126.9 1091.3,1122.9 1091.8,1120.8 1092.4,1126.0 1093.0,1139.1 1093.5,1152.1 1094.1,1131.4 1094.6,1137.9 1095.2,1175.7 1095.8,1182.7 1096.3,1169.7 1096.9,1123.9 1097.4,1127.2 1098.0,1163.1 1098.6,1162.9 1099.1,1122.6 1099.7,1101.6 1100.2,1119.8 1100.8,1162.6 1101.4,1168.4 1101.9,1141.6 1102.5,1108.3 1103.0,1104.3 1103.6,1088.0 1104.2,1117.2 1104.7,1164.4 1105.3,1180.1 1105.9,1167.6 1106.4,1155.2 1107.0,1167.5 1107.5,1178.0 1108.1,1176.7 1108.7,1150.3 1109.2,1116.7 1109.8,1117.6 1110.3,1123.0 1110.9,1131.0 1111.5,1135.6 1112.0,1118.6 1112.6,1172.5 1113.1,1198.6 1113.7,1172.5 1114.3,1113.0 1114.8,1101.6 1115.4,1124.0 1115.9,1185.6 1116.5,1184.4 1117.1,1146.4 1117.6,1118.3 1118.2,1127.6 1118.7,1153.7 1119.3,1151.0 1119.9,1173.4 1120.4,1199.7 1121.0,1181.2 1121.6,1154.2 1122.1,1168.3 1122.7,1178.8 1123.2,1137.7 1123.8,1105.1 1124.4,1094.2 1124.9,1120.4 1125.5,1185.8 1126.0,1183.1 1126.6,1130.6 1127.2,1107.1 1127.7,1107.8 1128.3,1114.9 1128.8,1131.7 1129.4,1163.5 1130.0,1158.2 1130.5,1126.4 1131.1,1173.8 1131.6,1201.2 1132.2,1182.2 1132.8,1113.4 1133.3,1080.2 1133.9,1113.4 1134.5,1183.7 1135.0,1202.3 1135.6,1174.4 1136.1,1118.5 1136.7,1103.4 1137.3,1123.8 1137.8,1164.8 1138.4,1193.1 1138.9,1209.6 1139.5,1178.1 1140.1,1120.2 1140.6,1113.5 1141.2,1113.5 1141.7,1116.8 1142.3,1134.3 1142.9,1182.7 1143.4,1215.2 1144.0,1187.1 1144.5,1155.8 1145.1,1127.4 1145.7,1143.4 1146.2,1162.9 1146.8,1119.8 1147.3,1093.1 1147.9,1117.3 1148.5,1165.9 1149.0,1167.1 1149.6,1130.3 1150.2,1134.3 1150.7,1177.8 1151.3,1192.3 1151.8,1169.4 1152.4,1133.1 1153.0,1159.6 1153.5,1155.2 1154.1,1120.4 1154.6,1114.5 1155.2,1130.5 1155.8,1182.9 1156.3,1189.4 1156.9,1171.3 1157.4,1154.6 1158.0,1144.3 1158.6,1137.1 1159.1,1128.9 1159.7,1120.7 1160.2,1118.0 1160.8,1126.3 1161.4,1175.6 1161.9,1195.4 1162.5,1195.1 1163.1,1181.4 1163.6,1151.5 1164.2,1119.4 1164.7,1097.9 1165.3,1119.1 1165.9,1185.4 1166.4,1224.4 1167.0,1185.4 1167.5,1085.7 1168.1,1114.1 1168.7,1165.0 1169.2,1182.5 1169.8,1188.6 1170.3,1195.0 1170.9,1184.8 1171.5,1113.2 1172.0,1106.0 1172.6,1139.9 1173.1,1154.1 1173.7,1113.5 1174.3,1088.7 1174.8,1177.1 1175.4,1207.8 1176.0,1185.7 1176.5,1221.4 1177.1,1184.0 1177.6,1132.8 1178.2,1108.9 1178.8,1111.8 1179.3,1115.2 1179.9,1103.3 1180.4,1083.2 1181.0,1167.0 1181.6,1187.5 1182.1,1185.2 1182.7,1167.9 1183.2,1112.9 1183.8,1114.8 1184.4,1139.6 1184.9,1131.2 1185.5,1119.8 1186.0,1140.2 1186.6,1166.8 1187.2,1161.3 1187.7,1149.3 1188.3,1167.6 1188.8,1188.6 1189.4,1167.6 1190.0,1102.3 1190.5,1112.6 1191.1,1112.4 1191.7,1128.2 1192.2,1147.6 1192.8,1123.1 1193.3,1102.3 1193.9,1124.4 1194.5,1175.6 1195.0,1178.2 1195.6,1164.6 1196.1,1130.5 1196.7,1155.0 1197.3,1169.5 1197.8,1162.5 1198.4,1131.0 1198.9,1122.9 1199.5,1123.1 1200.1,1120.4 1200.6,1119.7 1201.2,1162.4 1201.7,1178.3 1202.3,1166.2 1202.9,1157.9 1203.4,1139.6 1204.0,1138.1 1204.6,1166.3 1205.1,1171.7 1205.7,1130.5 1206.2,1114.5 1206.8,1130.5 1207.4,1157.6 1207.9,1131.0 1208.5,1122.5 1209.0,1141.2 1209.6,1174.6 1210.2,1178.6 1210.7,1171.2 1211.3,1130.2 1211.8,1119.0 1212.4,1126.5 1213.0,1132.6 1213.5,1118.1 1214.1,1102.3 1214.6,1116.0 1215.2,1168.9 1215.8,1191.2 1216.3,1185.4 1216.9,1178.9 1217.4,1148.1 1218.0,1109.9 1218.6,1106.0 1219.1,1121.4 1219.7,1164.9 1220.3,1184.1 1220.8,1188.5 1221.4,1164.6 1221.9,1102.7 1222.5,1062.9 1223.1,1104.7 1223.6,1132.8 1224.2,1177.1 1224.7,1207.8 1225.3,1177.1 1225.9,1148.3 1226.4,1172.7 1227.0,1179.7 1227.5,1111.7 1228.1,1076.9 1228.7,1104.8 1229.2,1120.8 1229.8,1152.7 1230.3,1193.2 1230.9,1239.9 1231.5,1193.2 1232.0,1118.5 1232.6,1090.5 1233.2,1110.2 1233.7,1173.4 1234.3,1182.0 1234.8,1186.5 1235.4,1140.1 1236.0,1107.4 1236.5,1119.6 1237.1,1142.6 1237.6,1132.2 1238.2,1122.2 1238.8,1122.5 1239.3,1136.0 1239.9,1143.9 1240.4,1119.3 1241.0,1108.1 1241.6,1088.0 1242.1,1171.6 1242.7,1196.7 1243.2,1176.6 1243.8,1162.6 1244.4,1167.0 1244.9,1152.5 1245.5,1117.7 1246.1,1121.7 1246.6,1151.8 1247.2,1133.2 1247.7,1108.9 1248.3,1105.4 1248.9,1109.7 1249.4,1131.2 1250.0,1174.5 1250.5,1179.1 1251.1,1124.6 1251.7,1102.7 1252.2,1166.1 1252.8,1185.7 1253.3,1166.7 1253.9,1135.0 1254.5,1153.0 1255.0,1196.5 1255.6,1246.5 1256.1,1196.5 1256.7,1095.9 1257.3,1073.0 1257.8,1061.2 1258.4,1019.4 1258.9,1082.9 1259.5,1223.7 1260.1,1271.6 1260.6,1209.5 1261.2,1192.9 1261.8,1226.6 1262.3,1227.0 1262.9,1098.8 1263.4,1051.1 1264.0,1072.1 1264.6,1094.3 1265.1,1183.5 1265.7,1221.6 1266.2,1198.6 1266.8,1118.5 1267.4,1105.9 1267.9,1159.3 1268.5,1212.9 1269.0,1100.1 1269.6,1053.7 1270.2,1074.9 1270.7,1096.7 1271.3,1220.8 1271.8,1264.9 1272.4,1205.7 1273.0,1086.1 1273.5,1091.7 1274.1,1200.2 1274.7,1253.9 1275.2,1200.2 1275.8,1095.5 1276.3,1051.8 1276.9,1087.1 1277.5,1110.3 1278.0,1141.3 1278.6,1205.0 1279.1,1229.6 1279.7,1204.6 1280.3,1084.4 1280.8,1022.3 1281.4,1084.4 1281.9,1215.0 1282.5,1232.3 1283.1,1211.9 1283.6,1235.9 1284.2,1290.7 1284.7,1223.1 1285.3,1070.1 1285.9,1059.4 1286.4,1099.7 1287.0,1105.3 1287.5,1053.4 1288.1,974.4 1288.7,1033.6 1289.2,1250.3 1289.8,1354.2 1290.4,1250.3 1290.9,976.3 1291.5,1202.0 1292.0,1257.6 1292.6,1226.7 1293.2,1136.1 1293.7,1134.7 1294.3,1210.8 1294.8,1148.9 1295.4,1046.6 1296.0,1238.0 1296.5,1329.5 1297.1,1274.7 1297.6,1075.2 1298.2,1003.9 1298.8,1062.2 1299.3,1112.6 1299.9,1089.6 1300.4,1071.7 1301.0,1240.7 1301.6,1335.0 1302.1,1252.5 1302.7,1107.0 1303.3,1087.3 1303.8,1105.7 1304.4,1078.8 1304.9,1040.8 1305.5,1050.0 1306.1,1195.2 1306.6,1243.9 1307.2,1195.2 1307.7,1181.4 1308.3,1176.2 1308.9,1154.8 1309.4,1179.0 1310.0,1206.6 1310.5,1228.1 1311.1,1188.7 1311.7,1106.2 1312.2,1067.8 1312.8,1075.8 1313.3,1130.6 1313.9,1113.3 1314.5,1074.3 1315.0,1110.6 1315.6,1187.0 1316.2,1198.6 1316.7,1172.5 1317.3,1030.4 1317.8,1084.9 1318.4,1160.8 1319.0,1200.9 1319.5,1239.2 1320.1,1288.2 1320.6,1217.3 1321.2,1025.1 1321.8,1018.7 1322.3,1084.1 1322.9,1270.6 1323.4,1394.7 1324.0,1270.6 1324.6,1116.6 1325.1,1077.5 1325.7,1090.0 1326.2,1185.7 1326.8,1175.2 1327.4,1031.0 1327.9,915.4 1328.5,1031.0 1329.0,1116.1 1329.6,1200.1 1330.2,1239.0 1330.7,1230.2 1331.3,1206.0 1331.9,1215.5 1332.4,1266.0 1333.0,1214.7 1333.5,1066.5 1334.1,986.6 1334.7,1037.7 1335.2,1045.8 1335.8,1068.0 1336.3,1178.4 1336.9,1255.8 1337.5,1340.5 1338.0,1244.8 1338.6,1190.1 1339.1,1097.0 1339.7,1050.0 1340.3,1068.3 1340.8,1103.6 1341.4,1132.5 1341.9,1097.5 1342.5,1188.2 1343.1,1229.9 1343.6,1218.3 1344.2,1085.3 1344.8,1024.2 1345.3,1194.3 1345.9,1242.1 1346.4,1216.4 1347.0,1159.3 1347.6,1112.2 1348.1,1127.2 1348.7,1166.3 1349.2,1176.5 1349.8,1134.4 1350.4,1104.3 1350.9,1091.6 1351.5,1101.6 1352.0,1108.9 1352.6,1214.2 1353.2,1237.2 1353.7,1212.9 1354.3,1130.8 1354.8,1149.6 1355.4,1218.6 1356.0,1268.6 1356.5,1228.0 1357.1,1092.8 1357.6,1026.4 1358.2,906.2 1358.8,1026.4 1359.3,1235.6 1359.9,1324.7 1360.5,1235.6 1361.0,1039.7 1361.6,1044.7 1362.1,1181.7 1362.7,1206.1 1363.3,1113.1 1363.8,1055.8 1364.4,1068.6 1364.9,1170.9 1365.5,1201.9 1366.1,1224.4 1366.6,1202.5 1367.2,1159.4 1367.7,1059.5 1368.3,978.1 1368.9,1060.1 1369.4,1206.6 1370.0,1266.8 1370.5,1206.6 1371.1,1075.5 1371.7,1123.2 1372.2,1216.3 1372.8,1209.6 1373.4,1178.1 1373.9,1055.5 1374.5,1071.2 1375.0,1168.0 1375.6,1124.0 1376.2,1114.7 1376.7,1276.3 1377.3,1406.1 1377.8,1276.3 1378.4,1236.3 1379.0,1196.2 1379.5,1017.1 1380.1,887.8 1380.6,1017.1 1381.2,1080.0 1381.8,1184.0 1382.3,1238.5 1382.9,1222.5 1383.4,1203.8 1384.0,1075.0 1384.6,1066.6 1385.1,1086.5 1385.7,1111.1 1386.3,1112.0 1386.8,1114.0 1387.4,1161.7 1387.9,1183.9 1388.5,1180.6 1389.1,1170.8 1389.6,1179.8 1390.2,1200.4 1390.7,1183.9 1391.3,1161.9 1391.9,1088.1 1392.4,1070.1 1393.0,1063.9 1393.5,1037.8 1394.1,1069.5 1394.7,1229.7 1395.2,1312.9 1395.8,1244.7 1396.3,1142.9 1396.9,1058.4 1397.5,1066.3 1398.0,1158.4 1398.6,1035.0 1399.1,923.5 1399.7,1035.0 1400.3,1211.8 1400.8,1230.6 1401.4,1256.0 1402.0,1346.8 1402.5,1255.1 1403.1,1206.5 1403.6,1081.7 1404.2,1054.8 1404.8,1105.8 1405.3,1190.5 1405.9,1069.3 1406.4,992.1 1407.0,1029.9 1407.6,1053.9 1408.1,1081.1 1408.7,1195.6 1409.2,1244.7 1409.8,1241.2 1410.4,1264.7 1410.9,1269.6 1411.5,1353.4 1412.0,1250.0 1412.6,1078.0 1413.2,1009.4 1413.7,1057.1 1414.3,1072.8 1414.9,1207.1 1415.4,1234.4 1416.0,1062.9 1416.5,979.2 1417.1,1060.0 1417.7,1147.1 1418.2,1209.4 1418.8,1272.3 1419.3,1209.4 1419.9,1080.0 1420.5,1068.4 1421.0,1101.6 1421.6,1116.5 1422.1,1136.1 1422.7,1202.2 1423.3,1225.3 1423.8,1222.8 1424.4,1187.2 1424.9,1094.2 1425.5,1077.3 1426.1,1070.6 1426.6,1070.8 1427.2,1186.4 1427.7,1226.2 1428.3,1243.1 1428.9,1339.8 1429.4,1243.1 1430.0,1083.9 1430.6,1021.2 1431.1,1067.4 1431.7,1097.3 1432.2,1162.9 1432.8,1169.0 1433.4,1104.7 1433.9,1062.9 1434.5,1103.4 1435.0,1136.5 1435.6,1225.3 1436.2,1254.8 1436.7,1240.1 1437.3,1105.4 1437.8,1052.7 1438.4,1092.6 1439.0,1253.7 1439.5,1325.8 1440.1,1236.1 1440.6,1057.7 1441.2,968.9 1441.8,1057.2 1442.3,1065.7 1442.9,1052.2 1443.5,1049.8 1444.0,1095.3 1444.6,1180.9 1445.1,1200.4 1445.7,1184.9 1446.3,1176.7 1446.8,1107.5 1447.4,1068.4 1447.9,1179.0 1448.5,1211.5 1449.1,1180.5 1449.6,1105.3 1450.2,1091.9 1450.7,1096.3 1451.3,1090.5 1451.9,1118.5 1452.4,1182.9 1453.0,1222.7 1453.5,1214.7 1454.1,1135.9 1454.7,1142.0 1455.2,1220.9 1455.8,1264.9 1456.4,1205.7 1456.9,1112.1 1457.5,1096.2 1458.0,1050.7 1458.6,1098.6 1459.2,1179.6 1459.7,1163.5 1460.3,1195.2 1460.8,1243.9 1461.4,1195.2 1462.0,1071.1 1462.5,1062.8 1463.1,1106.2 1463.6,1198.1 1464.2,1198.1 1464.8,1183.0 1465.3,1094.2 1465.9,1041.9 1466.4,1094.2 1467.0,1197.0 1467.6,1222.5 1468.1,1184.5 1468.7,1047.7 1469.2,1053.6 1469.8,1122.2 1470.4,1201.8 1470.9,1206.3 1471.5,1146.1 1472.1,1055.9 1472.6,1196.5 1473.2,1246.5 1473.7,1288.9 1474.3,1217.7 1474.9,1002.1 1475.4,977.4 1476.0,1061.9 1476.5,1244.3 1477.1,1213.2 1477.7,1085.2 1478.2,1064.0 1478.8,1228.8 1479.3,1311.0 1479.9,1228.8 1480.5,1050.8 1481.0,1040.4 1481.6,1071.3 1482.1,1184.8 1482.7,1227.6 1483.3,1237.2 1483.8,1228.5 1484.4,1192.4 1485.0,1196.5 1485.5,1246.5 1486.1,1196.5 1486.6,1088.8 1487.2,1059.2 1487.8,1075.3 1488.3,1102.2 1488.9,1177.3 1489.4,1185.9 1490.0,1174.4 1490.6,1195.1 1491.1,1218.1 1491.7,1218.1 1492.2,1184.5 1492.8,1116.0 1493.4,1193.7 1493.9,1241.0 1494.5,1193.7 1495.0,1096.8 1495.6,1052.6 1496.2,1093.0 1496.7,1181.6 1497.3,1181.0 1497.8,1095.9 1498.4,1078.5 1499.0,1100.4 1499.5,1175.2 1500.1,1206.4 1500.7,1220.4 1501.2,1249.1 1501.8,1204.2 1502.3,1093.2 1502.9,1044.5 1503.5,1074.0 1504.0,1118.0 1504.6,1194.4 1505.1,1221.5 1505.7,1231.7 1506.3,1273.4 1506.8,1210.0 1507.4,1095.4 1507.9,1073.0 1508.5,1066.5 1509.1,1070.0 1509.6,1112.4 1510.2,1221.7 1510.7,1223.5 1511.3,1151.4 1511.9,1087.7 1512.4,1029.0 1513.0,1087.7 1513.6,1134.7 1514.1,1154.7 1514.7,1212.7 1515.2,1256.5 1515.8,1364.5 1516.4,1263.5 1516.9,1030.4 1517.5,914.3 1518.0,1030.4 1518.6,1045.2 1519.2,1050.2 1519.7,1072.4 1520.3,1086.0 1520.8,1191.0 1521.4,1235.4 1522.0,1191.0 1522.5,1061.9 1523.1,977.4 1523.6,1061.9 1524.2,1189.4 1524.8,1235.9 1525.3,1217.4 1525.9,1061.2 1526.5,1055.9 1527.0,1207.9 1527.6,1269.4 1528.1,1224.7 1528.7,1199.8 1529.3,1199.5 1529.8,1168.6 1530.4,1095.5 1530.9,1066.6 1531.5,1106.5 1532.1,1198.9 1532.6,1177.7 1533.2,1088.5 1533.7,1079.7 1534.3,1188.2 1534.9,1229.9 1535.4,1188.2 1536.0,1118.5 1536.5,1141.5 1537.1,1201.3 1537.7,1198.1 1538.2,1097.5 1538.8,1050.0 1539.3,1075.4 1539.9,1190.4 1540.5,1234.3 1541.0,1212.5 1541.6,1172.6 1542.2,1128.8 1542.7,1139.8 1543.3,1100.1 1543.8,1053.7 1544.4,1092.7 1545.0,1166.3 1545.5,1141.3 1546.1,1083.8 1546.6,1023.1 1547.2,1191.9 1547.8,1237.3 1548.3,1191.9 1548.9,1189.1 1549.4,1208.4 1550.0,1188.0 1550.6,1097.1 1551.1,1074.2 1551.7,1074.8 1552.2,1087.1 1552.8,1139.8 1553.4,1207.0 1553.9,1229.9 1554.5,1201.0 1555.1,1119.1 1555.6,1091.6 1556.2,1119.1 1556.7,1189.2 1557.3,1195.8 1557.9,1172.7 1558.4,1154.1 1559.0,1164.0 1559.5,1102.3 1560.1,1058.1 1560.7,1088.5 1561.2,1072.5 1561.8,1075.5 1562.3,1201.1 1562.9,1255.7 1563.5,1214.4 1564.0,1092.7 1564.6,1038.9 1565.1,1072.3 1565.7,1103.4 1566.3,1181.3 1566.8,1205.8 1567.4,1216.7 1567.9,1251.3 1568.5,1224.5 1569.1,1144.2 1569.6,1080.6 1570.2,1105.5 1570.8,1127.6 1571.3,1077.6 1571.9,1043.4 1572.4,1094.9 1573.0,1214.8 1573.6,1156.2 1574.1,1086.4 1574.7,1200.2 1575.2,1253.9 1575.8,1200.2 1576.4,1011.3 1576.9,1078.9 1577.5,1237.3 1578.0,1292.6 1578.6,1238.8 1579.2,1216.8 1579.7,1089.6 1580.3,1032.7 1580.8,1068.3 1581.4,1076.3 1582.0,1070.6 1582.5,1073.5 1583.1,1173.5 1583.7,1200.4 1584.2,1173.5 1584.8,1090.5 1585.3,1116.6 1585.9,1185.8 1586.5,1207.2 1587.0,1209.1 1587.6,1182.1 1588.1,1121.2 1588.7,1170.5 1589.3,1223.2 1589.8,1211.5 1590.4,1087.6 1590.9,1039.7 1591.5,1090.8 1592.1,1187.7 1592.6,1155.3 1593.2,1095.2 1593.7,1123.0 1594.3,1219.2 1594.9,1291.8 1595.4,1219.2 1596.0,1105.3 1596.6,1104.6 1597.1,1130.5 1597.7,1216.1 1598.2,1216.1 1598.8,1171.2 1599.4,1121.9 1599.9,1132.0 1600.5,1170.7 1601.0,1158.3 1601.6,1133.8 1602.2,1190.9 1602.7,1218.9 1603.3,1211.2 1603.8,1110.8 1604.4,1055.2 1605.0,1021.2 1605.5,1065.5 1606.1,1071.8 1606.6,1084.6 1607.2,1201.5 1607.8,1256.5 1608.3,1211.2 1608.9,1183.4 1609.4,1170.5 1610.0,1135.2 1610.6,1098.2 1611.1,1152.0 1611.7,1216.6 1612.3,1221.3 1612.8,1188.3 1613.4,1073.2 1613.9,1026.0 1614.5,1066.4 1615.1,1110.5 1615.6,1162.4 1616.2,1189.1 1616.7,1231.8 1617.3,1205.5 1617.9,1200.4 1618.4,1157.4 1619.0,1113.5 1619.5,1088.7 1620.1,1181.8 1620.7,1217.0 1621.2,1181.8 1621.8,1110.2 1622.3,1100.0 1622.9,1128.0 1623.5,1175.9 1624.0,1187.6 1624.6,1191.4 1625.2,1211.5 1625.7,1179.0 1626.3,1109.3 1626.8,1104.3 1627.4,1062.2 1628.0,1072.8 1628.5,1075.8 1629.1,1162.5 1629.6,1199.0 1630.2,1190.9 1630.8,1198.0 1631.3,1235.4 1631.9,1216.5 1632.4,1086.6 1633.0,1026.8 1633.6,1074.3 1634.1,1198.0 1634.7,1249.5 1635.2,1198.0 1635.8,1097.7 1636.4,1081.3 1636.9,1093.6 1637.5,1121.4 1638.0,1194.6 1638.6,1206.5 1639.2,1187.4 1639.7,1136.3 1640.3,1175.3 1640.9,1204.1 1641.4,1175.3 1642.0,1122.4 1642.5,1123.8 1643.1,1175.4 1643.7,1193.6 1644.2,1132.3 1644.8,1118.2 1645.3,1120.6 1645.9,1182.0 1646.5,1193.8 1647.0,1177.1 1647.6,1139.2 1648.1,1127.8 1648.7,1125.2 1649.3,1123.4 1649.8,1114.4 1650.4,1179.9 1650.9,1213.3 1651.5,1206.5 1652.1,1083.5 1652.6,1020.5 1653.2,1083.5 1653.8,1192.3 1654.3,1238.0 1654.9,1200.8 1655.4,1176.3 1656.0,1095.3 1656.6,1061.0 1657.1,1058.6 1657.7,1087.1 1658.2,1170.4 1658.8,1185.2 1659.4,1185.3 1659.9,1188.3 1660.5,1179.2 1661.0,1112.1 1661.6,1077.6 1662.2,1112.1 1662.7,1192.5 1663.3,1204.1 1663.8,1179.3 1664.4,1130.0 1665.0,1125.1 1665.5,1118.4 1666.1,1104.8 1666.7,1179.9 1667.2,1213.3 1667.8,1179.9 1668.3,1097.3 1668.9,1081.3 1669.5,1113.9 1670.0,1194.1 1670.6,1196.8 1671.1,1170.3 1671.7,1094.6 1672.3,1042.6 1672.8,1094.6 1673.4,1191.3 1673.9,1222.5 1674.5,1187.0 1675.1,1107.3 1675.6,1095.4 1676.2,1113.1 1676.7,1184.1 1677.3,1189.4 1677.9,1107.1 1678.4,1088.7 1679.0,1108.8 1679.5,1207.2 1680.1,1229.9 1680.7,1203.4 1681.2,1074.8 1681.8,1003.2 1682.4,1074.8 1682.9,1124.2 1683.5,1223.8 1684.0,1301.1 1684.6,1223.8 1685.2,1078.7 1685.7,1089.8 1686.3,1196.8 1686.8,1161.8 1687.4,1076.8 1688.0,1078.4 1688.5,1112.4 1689.1,1213.4 1689.6,1116.0 1690.2,1102.1 1690.8,1189.0 1691.3,1205.9 1691.9,1177.9 1692.4,1160.7 1693.0,1177.1 1693.6,1167.4 1694.1,1107.1 1694.7,1101.8 1695.3,1174.5 1695.8,1207.0 1696.4,1241.0 1696.9,1193.7 1697.5,1064.0 1698.1,1096.1 1698.6,1128.9 1699.2,1121.0 1699.7,1091.4 1700.3,1092.5 1700.9,1137.8 1701.4,1204.3 1702.0,1217.8 1702.5,1223.2 1703.1,1214.1 1703.7,1146.1 1704.2,1087.7 1704.8,1068.4 1705.3,1086.6 1705.9,1220.1 1706.5,1293.7 1707.0,1220.1 1707.6,1081.7 1708.1,1016.8 1708.7,1167.9 1709.3,1189.4 1709.8,1167.9 1710.4,1087.1 1711.0,1075.1 1711.5,1091.2 1712.1,1157.1 1712.6,1151.3 1713.2,1130.8 1713.8,1162.8 1714.3,1170.4 1714.9,1169.6 1715.4,1174.6 1716.0,1168.9 1716.6,1153.6 1717.1,1124.9 1717.7,1116.3 1718.2,1119.2 1718.8,1120.4 1719.4,1119.9 1719.9,1124.7 1720.5,1150.3 1721.0,1163.4 1721.6,1166.9 1722.2,1177.8 1722.7,1207.8 1723.3,1179.3 1723.9,1132.4 1724.4,1115.8 1725.0,1128.2 1725.5,1107.8 1726.1,1069.2 1726.7,1107.8 1727.2,1193.7 1727.8,1205.6 1728.3,1189.4 1728.9,1111.1 1729.5,1093.6 1730.0,1078.4 1730.6,1105.5 1731.1,1167.8 1731.7,1188.6 1732.3,1186.3 1732.8,1189.9 1733.4,1227.0 1733.9,1186.7 1734.5,1111.6 1735.1,1098.0 1735.6,1104.9 1736.2,1167.0 1736.8,1187.5 1737.3,1167.0 1737.9,1147.1 1738.4,1115.2 1739.0,1105.1 1739.6,1083.9 1740.1,1110.9 1740.7,1124.9 1741.2,1141.1 1741.8,1157.2 1742.4,1184.6 1742.9,1220.7 1743.5,1183.6 1744.0,1132.5 1744.6,1174.7 1745.2,1200.0 1745.7,1204.3 1746.3,1196.6 1746.8,1117.6 1747.4,1088.7 1748.0,1104.3 1748.5,1120.7 1749.1,1118.1 1749.6,1115.1 1750.2,1132.3 1750.8,1166.0 1751.3,1173.6 1751.9,1165.4 1752.5,1119.6 1753.0,1097.9 1753.6,1081.3 1754.1,1113.9 1754.7,1178.5 1755.3,1196.7 1755.8,1171.6 1756.4,1172.7 1756.9,1183.5 1757.5,1171.9 1758.1,1133.5 1758.6,1172.5 1759.2,1200.6 1759.7,1200.0 1760.3,1157.2 1760.9,1091.8 1761.4,1037.1 1762.0,1090.9 1762.5,1106.2 1763.1,1167.4 1763.7,1180.5 1764.2,1129.4 1764.8,1110.5 1765.4,1198.3 1765.9,1250.2 1766.5,1198.3 1767.0,1114.5 1767.6,1082.4 1768.2,1114.5 1768.7,1192.1 1769.3,1188.8 1769.8,1142.9 1770.4,1106.0 1771.0,1098.6 1771.5,1098.0 1772.1,1109.0 1772.6,1164.1 1773.2,1180.0 1773.8,1182.0 1774.3,1164.2 1774.9,1091.3 1775.4,1118.9 1776.0,1198.3 1776.6,1250.2 1777.1,1198.3 1777.7,1126.6 1778.2,1117.0 1778.8,1119.2 1779.4,1130.6 1779.9,1118.7 1780.5,1101.3 1781.1,1100.4 1781.6,1133.4 1782.2,1203.5 1782.7,1260.5 1783.3,1203.5 1783.9,1167.5 1784.4,1133.2 1785.0,1142.4 1785.5,1179.2 1786.1,1153.3 1786.7,1106.0 1787.2,1090.5 1787.8,1118.5 1788.3,1194.5 1788.9,1200.0 1789.5,1198.9 1790.0,1188.9 1790.6,1130.5 1791.1,1099.7 1791.7,1096.2 1792.3,1108.6 1792.8,1136.5 1793.4,1148.2 1794.0,1188.2 1794.5,1229.9 1795.1,1188.2 1795.6,1077.6 1796.2,1108.5 1796.8,1126.5 1797.3,1140.6 1797.9,1129.0 1798.4,1111.6 1799.0,1129.0 1799.6,1187.9 1800.1,1193.4 1800.7,1186.3 1801.2,1156.4 1801.8,1137.5 1802.4,1168.9 1802.9,1191.2 1803.5,1168.9 1804.0,1112.7 1804.6,1105.6 1805.2,1106.5 1805.7,1120.5 1806.3,1164.9 1806.9,1181.5 1807.4,1179.9 1808.0,1157.6 1808.5,1174.4 1809.1,1202.3 1809.7,1174.4 1810.2,1084.3 1810.8,1100.5 1811.3,1113.4 1811.9,1168.1 1812.5,1175.4 1813.0,1138.9 1813.6,1119.5 1814.1,1165.6 1814.7,1186.6 1815.3,1186.0 1815.8,1117.6 1816.4,1088.7 1816.9,1106.9 1817.5,1167.9 1818.1,1189.4 1818.6,1167.9 1819.2,1116.6 1819.7,1151.0 1820.3,1159.7 1820.9,1131.2 1821.4,1136.9 1822.0,1160.0 1822.6,1130.5 1823.1,1114.5 1823.7,1158.7 1824.2,1170.9 1824.8,1163.3 1825.4,1160.6 1825.9,1161.2 1826.5,1155.7 1827.0,1122.5 1827.6,1114.8 1828.2,1115.6 1828.7,1127.7 1829.3,1155.1 1829.8,1167.3 1830.4,1173.8 1831.0,1189.4 1831.5,1168.6 1832.1,1160.6 1832.6,1134.3 1833.2,1116.0 1833.8,1099.8 1834.3,1123.1 1834.9,1172.3 1835.5,1140.5 1836.0,1120.0 1836.6,1131.2 1837.1,1182.6 1837.7,1210.4 1838.3,1178.4 1838.8,1131.9 1839.4,1120.0 1839.9,1133.0 1840.5,1162.4 1841.1,1173.7 1841.6,1179.7 1842.2,1184.3 1842.7,1174.8 1843.3,1169.4 1843.9,1187.9 1844.4,1220.7 1845.0,1183.6 1845.5,1094.6 1846.1,1042.6 1846.7,1094.6 1847.2,1104.7 1847.8,1103.4 1848.3,1111.4 1848.9,1115.0 1849.5,1162.8 1850.0,1201.8 1850.6,1202.9 1851.2,1179.0 1851.7,1190.4 1852.3,1234.3 1852.8,1190.4 1853.4,1115.9 1854.0,1116.5 1854.5,1138.5 1855.1,1121.4 1855.6,1111.7 1856.2,1101.4 1856.8,1056.3 1857.3,1101.4 1857.9,1182.8 1858.4,1185.8 1859.0,1102.9 1859.6,1072.1 1860.1,1188.6 1860.7,1230.6 1861.2,1188.6 1861.8,1116.1 1862.4,1136.6 1862.9,1189.7 1863.5,1193.0 1864.1,1173.4 1864.6,1129.9 1865.2,1179.9 1865.7,1213.3 1866.3,1179.9 1866.9,1097.5 1867.4,1064.7 1868.0,1093.2 1868.5,1172.9 1869.1,1182.1 1869.7,1110.8 1870.2,1075.1 1870.8,1175.3 1871.3,1204.1 1871.9,1175.3 1872.5,1167.0 1873.0,1187.5 1873.6,1167.0 1874.1,1144.6 1874.7,1159.2 1875.3,1164.9 1875.8,1111.1 1876.4,1098.4 1877.0,1102.7 1877.5,1132.9 1878.1,1163.9 1878.6,1150.1 1879.2,1158.1 1879.8,1177.1 1880.3,1124.0 1880.9,1101.6 1881.4,1124.0 1882.0,1161.4 1882.6,1185.4 1883.1,1205.9 1883.7,1180.5 1884.2,1158.5 1884.8,1128.1 1885.4,1111.9 1885.9,1090.5 1886.5,1118.5 1887.0,1172.1 1887.6,1172.3 1888.2,1122.5 1888.7,1099.7 1889.3,1110.2 1889.8,1168.7 1890.4,1174.6 1891.0,1162.3 1891.5,1129.6 1892.1,1142.9 1892.7,1169.8 1893.2,1139.1 1893.8,1106.4 1894.3,1090.5 1894.9,1115.5 1895.5,1189.1 1896.0,1231.8 1896.6,1189.1 1897.1,1149.2 1897.7,1171.0 1898.3,1186.2 1898.8,1188.5 1899.4,1196.5 1899.9,1200.9 1900.5,1226.2 1901.1,1186.4 1901.6,1085.7 1902.2,1110.0 1902.7,1126.5 1903.3,1110.4 1903.9,1113.1 1904.4,1153.9 1905.0,1153.6 1905.6,1117.7 1906.1,1128.6 1906.7,1191.9 1907.2,1200.1 1907.8,1113.9 1908.4,1081.3 1908.9,1098.6 1909.5,1189.5 1910.0,1232.5 1910.6,1189.5 1911.2,1120.2 1911.7,1187.3 1912.3,1228.1 1912.8,1187.3 1913.4,1092.4 1914.0,1119.4 1914.5,1161.4 1915.1,1126.9 1915.6,1121.7 1916.2,1174.4 1916.8,1186.8 1917.3,1123.0 1917.9,1100.8 1918.4,1102.9 1919.0,1174.4 1919.6,1202.3 1920.1,1179.8 1920.7,1138.6 1921.3,1133.3 1921.8,1175.9 1922.4,1182.3 1922.9,1118.5 1923.5,1090.5 1924.1,1110.8 1924.6,1119.1 1925.2,1136.4 1925.7,1146.2 1926.3,1159.6 1926.9,1172.8 1927.4,1159.6 1928.0,1134.5 1928.5,1129.2 1929.1,1134.2 1929.7,1142.1 1930.2,1160.1 1930.8,1154.1 1931.3,1138.9 1931.9,1142.2 1932.5,1164.6 1933.0,1177.6 1933.6,1171.4 1934.2,1147.2 1934.7,1132.7 1935.3,1155.8 1935.8,1166.4 1936.4,1158.5 1937.0,1139.4 1937.5,1136.2 1938.1,1134.9 1938.6,1136.3 1939.2,1149.1 1939.8,1149.3 1940.3,1128.0 1940.9,1115.6 1941.4,1126.9 1942.0,1160.6 1942.6,1174.6 1943.1,1165.9 1943.7,1163.6 1944.2,1160.9 1944.8,1143.7 1945.4,1130.7 1945.9,1126.3 1946.5,1132.6 1947.1,1148.6 1947.6,1161.9 1948.2,1170.9 1948.7,1165.1 1949.3,1152.2 1949.9,1134.8 1950.4,1134.8 1951.0,1145.0 1951.5,1160.2 1952.1,1169.4 1952.7,1192.3 1953.2,1169.4 1953.8,1136.8 1954.3,1130.8 1954.9,1128.7 1955.5,1123.7 1956.0,1131.6 1956.6,1156.9 1957.1,1173.2 1957.7,1194.9 1958.3,1176.9 1958.8,1125.3 1959.4,1104.2 1959.9,1125.3 1960.5,1158.3 1961.1,1173.6 1961.6,1194.9 1962.2,1170.7 1962.8,1136.4 1963.3,1136.8 1963.9,1127.2 1964.4,1115.4 1965.0,1114.8 1965.6,1131.0 1966.1,1176.9 1966.7,1191.1 1967.2,1195.7 1967.8,1191.9 1968.4,1164.4 1968.9,1121.0 1969.5,1102.7 1970.0,1108.9 1970.6,1105.0 1971.2,1110.0 1971.7,1078.4 1972.3,1183.0 1972.8,1219.6 1973.4,1183.0 1974.0,1174.8 1974.5,1194.9 1975.1,1172.5 1975.7,1118.6 1976.2,1115.5 1976.8,1169.0 1977.3,1176.5 1977.9,1143.4 1978.5,1120.3 1979.0,1152.4 1979.6,1166.8 1980.1,1143.8 1980.7,1116.2 1981.3,1111.9 1981.8,1115.9 1982.4,1162.4 1982.9,1178.3 1983.5,1173.1 1984.1,1162.1 1984.6,1129.6 1985.2,1112.7 1985.7,1129.6 1986.3,1156.6 1986.9,1158.8 1987.4,1139.6 1988.0,1121.3 1988.5,1119.1 1989.1,1129.4 1989.7,1152.9 1990.2,1159.4 1990.8,1161.4 1991.4,1159.6 1991.9,1158.9 1992.5,1164.9 1993.0,1170.2 1993.6,1158.3 1994.2,1108.6 1994.7,1099.0 1995.3,1117.5 1995.8,1150.7 1996.4,1169.0 1997.0,1171.5 1997.5,1158.5 1998.1,1131.8 1998.6,1129.7 1999.2,1130.1 1999.8,1120.3 2000.3,1116.0 2000.9,1136.7 2001.4,1191.0 2002.0,1212.6 2002.6,1186.3 2003.1,1174.1 2003.7,1162.1 2004.3,1124.0 2004.8,1101.6 2005.4,1112.1 2005.9,1117.3 2006.5,1130.0 2007.1,1153.3 2007.6,1163.2 2008.2,1170.9 2008.7,1159.1 2009.3,1148.4 2009.9,1143.6 2010.4,1128.3 2011.0,1119.2 2011.5,1121.1 2012.1,1137.1 2012.7,1168.1 2013.2,1175.4 2013.8,1193.0 2014.3,1174.7 2014.9,1123.5 2015.5,1100.5 2016.0,1121.2 2016.6,1167.9 2017.2,1179.6 2017.7,1157.9 2018.3,1117.1 2018.8,1114.5 2019.4,1118.7 2020.0,1110.8 2020.5,1168.9 2021.1,1191.2 2021.6,1168.9 2022.2,1174.4 2022.8,1175.3 2023.3,1160.8 2023.9,1135.5 2024.4,1151.9 2025.0,1163.4 2025.6,1137.0 2026.1,1120.9 2026.7,1120.0 2027.2,1125.0 2027.8,1129.6 2028.4,1112.7 2028.9,1129.6 2029.5,1166.3 2030.0,1173.1 2030.6,1179.0 2031.2,1170.0 2031.7,1143.4 2032.3,1127.5 2032.9,1130.7 2033.4,1139.2 2034.0,1141.4 2034.5,1138.3 2035.1,1139.4 2035.7,1154.9 2036.2,1166.9 2036.8,1168.0 2037.3,1140.4 2037.9,1121.2 2038.5,1115.2 2039.0,1124.5 2039.6,1138.1 2040.1,1162.6 2040.7,1177.6 2041.3,1166.7 2041.8,1136.8 2042.4,1126.5 2042.9,1135.8 2043.5,1161.3 2044.1,1164.8 2044.6,1167.7 2045.2,1175.9 2045.8,1169.7 2046.3,1122.9 2046.9,1107.1 2047.4,1116.5 2048.0,1131.9 2048.6,1165.0 2049.1,1167.9 2049.7,1166.3 2050.2,1174.4 2050.8,1199.3 2051.4,1172.9 2051.9,1129.0 2052.5,1111.6 2053.0,1129.0 2053.6,1169.1 2054.2,1137.5 2054.7,1127.4 2055.3,1148.8 2055.8,1150.5 2056.4,1126.3 2057.0,1117.5 2057.5,1156.9 2058.1,1167.2 2058.6,1159.5 2059.2,1128.7 2059.8,1127.7 2060.3,1141.2 2060.9,1153.6 2061.5,1156.9 2062.0,1166.5 2062.6,1167.0 2063.1,1146.3 2063.7,1141.9 2064.3,1166.2 2064.8,1167.6 2065.4,1141.5 2065.9,1135.7 2066.5,1132.2 2067.1,1139.2 2067.6,1164.2 2068.2,1181.2 2068.7,1163.9 2069.3,1130.8 2069.9,1133.8 2070.4,1160.5 2071.0,1166.9 2071.5,1159.7 2072.1,1139.6 2072.7,1133.2 2073.2,1133.7 2073.8,1137.4 2074.4,1157.1 2074.9,1171.3 2075.5,1132.7 2076.0,1118.9 2076.6,1132.7 2077.2,1177.7 2077.7,1177.1 2078.3,1139.9 2078.8,1122.1 2079.4,1123.5 2080.0,1166.1 2080.5,1185.7 2081.1,1166.1 2081.6,1129.2 2082.2,1131.7 2082.8,1157.9 2083.3,1165.1 2083.9,1129.0 2084.4,1111.6 2085.0,1117.3 2085.6,1139.8 2086.1,1188.6 2086.7,1230.6 2087.3,1193.6 2087.8,1169.9 2088.4,1117.3 2088.9,1115.0 2089.5,1121.9 2090.1,1129.8 2090.6,1129.0 2091.2,1114.5 2091.7,1082.4 2092.3,1114.5 2092.9,1130.0 2093.4,1132.7 2094.0,1129.2 2094.5,1163.3 2095.1,1180.1 2095.7,1172.9 2096.2,1161.3 2096.8,1145.2 2097.3,1145.1 2097.9,1146.9 2098.5,1162.8 2099.0,1171.4 2099.6,1168.4 2100.1,1135.7 2100.7,1124.8 2101.3,1124.4 2101.8,1138.6 2102.4,1162.8 2103.0,1128.3 2103.5,1110.1 2104.1,1128.3 2104.6,1159.7 2105.2,1172.3 2105.8,1181.2 2106.3,1163.9 2106.9,1131.2 2107.4,1121.9 2108.0,1116.0 2108.6,1102.3 2109.1,1122.9 2109.7,1176.9 2110.2,1197.5 2110.8,1172.0 2111.4,1115.8 2111.9,1160.7 2112.5,1177.5 2113.0,1145.3 2113.6,1126.5 2114.2,1173.9 2114.7,1189.3 2115.3,1184.4 2115.9,1139.5 2116.4,1115.5 2117.0,1127.4 2117.5,1149.7 2118.1,1113.0 2118.7,1079.5 2119.2,1113.0 2119.8,1189.6 2120.3,1210.4 2120.9,1178.4 2121.5,1118.3 2122.0,1112.7 2122.6,1119.1 2123.1,1121.0 2123.7,1135.4 2124.3,1165.0 2124.8,1164.8 2125.4,1162.6 2125.9,1160.1 2126.5,1141.7 2127.1,1139.5 2127.6,1167.6 2128.2,1180.9 2128.7,1167.0 2129.3,1112.1 2129.9,1077.6 2130.4,1112.1 2131.0,1172.4 2131.6,1173.6 2132.1,1156.8 2132.7,1133.1 2133.2,1156.6 2133.8,1161.7 2134.4,1140.0 2134.9,1109.7 2135.5,1076.9 2136.0,1110.0 2136.6,1123.8 2137.2,1136.6 2137.7,1161.0 2138.3,1170.7 2138.8,1171.8 2139.4,1167.7 2140.0,1154.3 2140.5,1120.3 2141.1,1109.9 2141.6,1109.3 2142.2,1103.8 2142.8,1061.0 2143.3,1165.2 2143.9,1183.8 2144.5,1173.9 2145.0,1167.9 2145.6,1158.7 2146.1,1144.9 2146.7,1121.1 2147.3,1105.3 2147.8,1113.8 2148.4,1171.6 2148.9,1196.7 2149.5,1182.7 2150.1,1152.0 2150.6,1124.2 2151.2,1128.4 2151.7,1145.7 2152.3,1132.8 2152.9,1114.3 2153.4,1114.6 2154.0,1139.2 2154.5,1134.1 2155.1,1111.2 2155.7,1116.9 2156.2,1170.1 2156.8,1192.3 2157.4,1169.4 2157.9,1093.5 2158.5,1120.0 2159.0,1174.9 2159.6,1177.3 2160.2,1172.8 2160.7,1169.1 2161.3,1169.3 2161.8,1163.3 2162.4,1141.5 2163.0,1132.2 2163.5,1129.7 2164.1,1120.6 2164.6,1116.2 2165.2,1114.5 2165.8,1123.7 2166.3,1146.5 2166.9,1161.8 2167.4,1169.1 2168.0,1157.8 2168.6,1143.3 2169.1,1156.3 2169.7,1140.9 2170.2,1131.8 2170.8,1172.5 2171.4,1198.6 2171.9,1172.5 2172.5,1119.6 2173.1,1119.8 2173.6,1149.5 2174.2,1174.6 2174.7,1170.9 2175.3,1127.2 2175.9,1107.9 2176.4,1127.2 2177.0,1162.8 2177.5,1165.1 2178.1,1156.2 2178.7,1151.3 2179.2,1128.0 2179.8,1118.2 2180.3,1125.6 2180.9,1127.5 2181.5,1131.9 2182.0,1146.7 2182.6,1151.7 2183.1,1147.4 2183.7,1131.9 2184.3,1133.7 2184.8,1157.2 2185.4,1163.1 2186.0,1163.9 2186.5,1159.8 2187.1,1133.2 2187.6,1125.6 2188.2,1135.4 2188.8,1149.4 2189.3,1133.0 2189.9,1130.7 2190.4,1161.5 2191.0,1176.5 2191.6,1161.5 2192.1,1112.7 2192.7,1123.9 2193.2,1131.5 2193.8,1140.1 2194.4,1154.7 2194.9,1169.1 2195.5,1178.3 2196.0,1172.0 2196.6,1131.4 2197.2,1116.3 2197.7,1127.5 2198.3,1138.6 2198.8,1140.3 2199.4,1152.3 2200.0,1166.5 2200.5,1155.8 2201.1,1123.5 2201.7,1118.9 2202.2,1125.2 2202.8,1159.9 2203.3,1179.9 2203.9,1196.0 2204.5,1172.7 2205.0,1126.4 2205.6,1106.4 2206.1,1126.4 2206.7,1173.2 2207.3,1190.1 2207.8,1168.3 2208.4,1124.9 2208.9,1107.1 2209.5,1126.8 2210.1,1172.5 2210.6,1162.3 2211.2,1135.3 2211.7,1134.3 2212.3,1144.7 2212.9,1161.0 2213.4,1156.1 2214.0,1131.9 2214.6,1127.2 2215.1,1131.1 2215.7,1159.1 2216.2,1176.5 2216.8,1177.2 2217.4,1170.2 2217.9,1160.1 2218.5,1137.9 2219.0,1129.2 2219.6,1130.3 2220.2,1128.2 2220.7,1131.7 2221.3,1148.8 2221.8,1160.6 2222.4,1168.6 2223.0,1185.7 2223.5,1175.3 2224.1,1160.4 2224.6,1134.4 2225.2,1132.9 2225.8,1147.0 2226.3,1162.2 2226.9,1153.7 2227.5,1123.9 2228.0,1106.4 2228.6,1117.6 2229.1,1126.1 2229.7,1151.8 2230.3,1166.8 2230.8,1167.2 2231.4,1160.5 2231.9,1164.5 2232.5,1182.0 2233.1,1169.2 2233.6,1125.9 2234.2,1105.3 2234.7,1116.3 2235.3,1125.4 2235.9,1150.0 2236.4,1164.6 2237.0,1167.5 2237.5,1164.6 2238.1,1160.7 2238.7,1161.2 2239.2,1156.7 2239.8,1131.5 2240.3,1120.0 2240.9,1129.1 2241.5,1132.6 2242.0,1128.5 2242.6,1129.5 2243.2,1158.3 2243.7,1170.2 2244.3,1164.2 2244.8,1161.8 2245.4,1161.3 2246.0,1157.5 2246.5,1141.5 2247.1,1133.3 2247.6,1127.4 2248.2,1137.0 2248.8,1160.3 2249.3,1153.1 2249.9,1135.5 2250.4,1134.2 2251.0,1139.4 2251.6,1138.3 2252.1,1135.1 2252.7,1140.4 2253.2,1151.4 2253.8,1161.5 2254.4,1168.6 2254.9,1168.0 2255.5,1151.6 2256.1,1131.1 2256.6,1139.3 2257.2,1161.3 2257.7,1175.3 2258.3,1160.9 2258.9,1124.8 2259.4,1113.8 2260.0,1121.0 2260.5,1126.1 2261.1,1140.0 2261.7,1156.6 2262.2,1157.0 2262.8,1155.9 2263.3,1164.4 2263.9,1177.6 2264.5,1170.8 2265.0,1132.3 2265.6,1118.2 2266.1,1131.9 2266.7,1142.2 2267.3,1157.6 2267.8,1157.2 2268.4,1137.2 2268.9,1137.2 2269.5,1159.3 2270.1,1157.5 2270.6,1141.8 2271.2,1155.8 2271.8,1157.3 2272.3,1131.5 2272.9,1124.5 2273.4,1134.4 2274.0,1149.2 2274.6,1133.6 2275.1,1161.5 2275.7,1176.5 2276.2,1175.3 2276.8,1173.1 2277.4,1142.2 2277.9,1128.5 2278.5,1150.4 2279.0,1170.7 2279.6,1160.3 2280.2,1126.5 2280.7,1110.8 2281.3,1122.0 2281.8,1168.9 2282.4,1191.2 2283.0,1175.4 2283.5,1129.9 2284.1,1113.4 2284.7,1129.9 2285.2,1165.0 2285.8,1142.3 2286.3,1123.0 2286.9,1120.9 2287.5,1116.3 2288.0,1131.4 2288.6,1165.1 2289.1,1173.9 2289.7,1167.3 2290.3,1159.5 2290.8,1150.0 2291.4,1141.6 2291.9,1132.0 2292.5,1128.9 2293.1,1139.9 2293.6,1161.1 2294.2,1160.1 2294.7,1142.1 2295.3,1137.4 2295.9,1156.8 2296.4,1164.4 2297.0,1152.1 2297.6,1126.4 2298.1,1124.7 2298.7,1129.0 2299.2,1151.2 2299.8,1157.8 2300.4,1134.6 2300.9,1122.6 2301.5,1134.6 2302.0,1165.7 2302.6,1174.6 2303.2,1163.8 2303.7,1136.8 2304.3,1128.5 2304.8,1131.7 2305.4,1159.5 2306.0,1166.7 2306.5,1141.9 2307.1,1127.2 2307.6,1128.2 2308.2,1152.5 2308.8,1164.0 2309.3,1155.6 2309.9,1163.0 2310.4,1179.4 2311.0,1163.0 2311.6,1122.6 2312.1,1133.2 2312.7,1139.2 2313.3,1154.1 2313.8,1156.6 2314.4,1152.2 2314.9,1150.7 2315.5,1149.3 2316.1,1147.1 2316.6,1159.1 2317.2,1171.7 2317.7,1159.1 2318.3,1136.5 2318.9,1129.7 2319.4,1126.3 2320.0,1135.4 2320.5,1163.6 2321.1,1170.2 2321.7,1170.3 2322.2,1160.1 2322.8,1133.1 2323.3,1130.8 2323.9,1132.8 2324.5,1127.8 2325.0,1115.2 2325.6,1130.9 2326.2,1158.0 2326.7,1165.3 2327.3,1182.0 2327.8,1164.2 2328.4,1144.0 2329.0,1172.5 2329.5,1198.6 2330.1,1180.4 2330.6,1117.6 2331.2,1088.7 2331.8,1111.5 2332.3,1130.0 2332.9,1158.6 2333.4,1164.1 2334.0,1165.2 2334.6,1157.5 2335.1,1181.4 2335.7,1216.3 2336.2,1181.4 2336.8,1128.6 2337.4,1122.6 2337.9,1161.5 2338.5,1176.5 2339.0,1163.6 2339.6,1155.0 2340.2,1142.7 2340.7,1134.9 2341.3,1135.4 2341.9,1144.7 2342.4,1164.9 2343.0,1167.8 2343.5,1168.6 2344.1,1163.2 2344.7,1141.9 2345.2,1137.4 2345.8,1141.9 2346.3,1148.1 2346.9,1160.0 2347.5,1173.5 2348.0,1160.0 2348.6,1136.8 2349.1,1136.4 2349.7,1142.3 2350.3,1162.4 2350.8,1160.3 2351.4,1156.3 2351.9,1164.6 2352.5,1166.7 2353.1,1150.9 2353.6,1135.4 2354.2,1134.5 2354.8,1138.2 2355.3,1154.7 2355.9,1159.6 2356.4,1154.1 2357.0,1151.5 2357.6,1160.2 2358.1,1173.9 2358.7,1160.2 2359.2,1135.1 2359.8,1128.5 2360.4,1136.3 2360.9,1163.8 2361.5,1169.1 2362.0,1165.2 2362.6,1153.7 2363.2,1148.9 2363.7,1139.9 2364.3,1130.8 2364.8,1129.0 2365.4,1135.8 2366.0,1164.0 2366.5,1166.7 2367.1,1156.0 2367.7,1135.3 2368.2,1133.2 2368.8,1152.1 2369.3,1164.2 2369.9,1134.2 2370.5,1121.9 2371.0,1134.2 2371.6,1162.4 2372.1,1178.3 2372.7,1162.4 2373.3,1156.6 2373.8,1155.9 2374.4,1144.7 2374.9,1136.7 2375.5,1132.9 2376.1,1132.0 2376.6,1140.7 2377.2,1173.2 2377.7,1174.3 2378.3,1145.5 2378.9,1133.7 2379.4,1163.0 2380.0,1179.4 2380.5,1163.0 2381.1,1139.7 2381.7,1138.7 2382.2,1139.3 2382.8,1139.1 2383.4,1132.2 2383.9,1137.8 2384.5,1144.0 2385.0,1165.9 2385.6,1173.3 2386.2,1176.1 2386.7,1175.3 2387.3,1160.4 2387.8,1136.8 2388.4,1137.0 2389.0,1165.7 2389.5,1184.9 2390.1,1165.7 2390.6,1125.6 2391.2,1134.6 2391.8,1158.8 2392.3,1169.4 2392.9,1163.2 2393.4,1137.9 2394.0,1132.0 2394.6,1141.1 2395.1,1169.3 2395.7,1167.5 2396.3,1137.9 2396.8,1130.1 2397.4,1131.4 2397.9,1133.7 2398.5,1138.6 2399.1,1162.5 2399.6,1170.1 2400.2,1175.3 2400.7,1162.8 2401.3,1142.4 2401.9,1129.3 2402.4,1118.9 2403.0,1127.8 2403.5,1138.4 2404.1,1161.9 2404.7,1164.7 2405.2,1151.7 2405.8,1140.4 2406.3,1165.8 2406.9,1171.7 2407.5,1163.3 2408.0,1130.7 2408.6,1128.3 2409.1,1130.7 2409.7,1131.3 2410.3,1122.6 2410.8,1162.0 2411.4,1177.6 2412.0,1162.0 2412.5,1163.0 2413.1,1167.8 2413.6,1164.4 2414.2,1150.5 2414.8,1134.4 2415.3,1135.4 2415.9,1156.1 2416.4,1161.2 2417.0,1142.8 2417.6,1126.4 2418.1,1132.4 2418.7,1160.0 2419.2,1169.1 2419.8,1158.0 2420.4,1126.6 2420.9,1114.5 2421.5,1122.6 2422.0,1137.0 2422.6,1155.4 2423.2,1157.2 2423.7,1156.4 2424.3,1153.9 2424.9,1147.3 2425.4,1136.1 2426.0,1133.6 2426.5,1120.8 2427.1,1133.6 2427.7,1148.1 2428.2,1152.7 2428.8,1155.4 2429.3,1151.0 2429.9,1140.3 2430.5,1136.3 2431.0,1150.1 2431.6,1155.8 2432.1,1153.7 2432.7,1130.6 2433.3,1125.6 2433.8,1128.7 2434.4,1152.9 2434.9,1161.7 2435.5,1162.3 2436.1,1155.4 2436.6,1136.7 2437.2,1132.6 2437.8,1132.0 2438.3,1133.3 2438.9,1134.2 2439.4,1121.9 2440.0,1159.1 2440.6,1171.7 2441.1,1159.1 2441.7,1150.3 2442.2,1163.7 2442.8,1165.9 2443.4,1161.0 2443.9,1139.4 2444.5,1141.2 2445.0,1159.4 2445.6,1161.0 2446.2,1142.7 2446.7,1130.7 2447.3,1129.2 2447.8,1134.4 2448.4,1142.5 2449.0,1144.6 2449.5,1150.2 2450.1,1158.1 2450.6,1160.9 2451.2,1159.4 2451.8,1152.9 2452.3,1140.5 2452.9,1134.6 2453.5,1133.0 2454.0,1138.1 2454.6,1154.7 2455.1,1162.8 2455.7,1154.7 2456.3,1122.6 2456.8,1134.6 2457.4,1165.1 2457.9,1152.1 2458.5,1128.2 2459.1,1126.6 2459.6,1135.6 2460.2,1168.9 2460.7,1191.2 2461.3,1168.9 2461.9,1144.0 2462.4,1148.1 2463.0,1151.4 2463.5,1134.4 2464.1,1126.1 2464.7,1120.0 2465.2,1129.1 2465.8,1154.1 2466.4,1174.0 2466.9,1201.5 2467.5,1175.4 2468.0,1160.2 2468.6,1137.8 2469.2,1140.5 2469.7,1151.8 2470.3,1163.4 2470.8,1167.2 2471.4,1130.9 2472.0,1115.2 2472.5,1130.9 2473.1,1156.9 2473.6,1167.2 2474.2,1156.9 2474.8,1128.8 2475.3,1126.3 2475.9,1131.5 2476.4,1157.8 2477.0,1165.2 2477.6,1160.1 2478.1,1134.9 2478.7,1126.3 2479.2,1132.4 2479.8,1155.9 2480.4,1168.6 2480.9,1169.4 2481.5,1162.9 2482.1,1139.9 2482.6,1131.5 2483.2,1134.5 2483.7,1166.0 2484.3,1178.3 2484.9,1170.3 2485.4,1137.5 2486.0,1130.1 2486.5,1140.5 2487.1,1160.7 2487.7,1138.8 2488.2,1123.1 2488.8,1117.1 2489.3,1131.8 2489.9,1151.0 2490.5,1128.2 2491.0,1123.9 2491.6,1107.1 2492.1,1174.0 2492.7,1201.5 2493.3,1174.2 2493.8,1158.5 2494.4,1132.4 2495.0,1133.6 2495.5,1148.2 2496.1,1165.2 2496.6,1183.8 2497.2,1165.2 2497.8,1126.0 2498.3,1121.8 2498.9,1125.5 2499.4,1153.5 2500.0,1169.2 2500.6,1167.1 2501.1,1147.3 2501.7,1138.3 2502.2,1155.8 2502.8,1160.2 2503.4,1137.5 2503.9,1128.5 2504.5,1136.0 2505.0,1150.6 2505.6,1163.4 2506.2,1170.9 2506.7,1160.9 2507.3,1138.8 2507.9,1131.1 2508.4,1138.8 2509.0,1162.8 2509.5,1163.2 2510.1,1145.4 2510.7,1135.8 2511.2,1135.6 2511.8,1139.6 2512.3,1142.1 2512.9,1139.5 2513.5,1139.6 2514.0,1152.3 2514.6,1163.3 2515.1,1169.1 2515.7,1157.8 2516.3,1136.6 2516.8,1134.3 2517.4,1139.3 2517.9,1162.8 2518.5,1166.9 2519.1,1160.8 2519.6,1136.9 2520.2,1131.1 2520.7,1138.8 2521.3,1150.3 2521.9,1140.4 2522.4,1132.5 2523.0,1128.9 2523.6,1130.3 2524.1,1151.8 2524.7,1160.5 2525.2,1151.3 2525.8,1156.3 2526.4,1166.9 2526.9,1171.7 2527.5,1159.1 2528.0,1118.2 2528.6,1132.3 2529.2,1156.3 2529.7,1152.8 2530.3,1132.9 2530.8,1124.6 2531.4,1126.0 2532.0,1153.8 2532.5,1168.6 2533.1,1176.5 2533.6,1161.5 2534.2,1132.7 2534.8,1118.9 2535.3,1124.6 2535.9,1142.4 2536.5,1167.8 2537.0,1170.3 2537.6,1168.2 2538.1,1157.8 2538.7,1138.1 2539.3,1137.9 2539.8,1141.0 2540.4,1141.1 2540.9,1148.8 2541.5,1137.2 2542.1,1125.3 2542.6,1124.4 2543.2,1131.7 2543.7,1156.7 2544.3,1156.1 2544.9,1156.2 2545.4,1163.8 2546.0,1177.2 2546.5,1161.8 2547.1,1123.7 2547.7,1135.1 2548.2,1171.2 2548.8,1165.3 2549.3,1130.9 2549.9,1131.5 2550.5,1163.0 2551.0,1166.6 2551.6,1155.2 2552.2,1141.2 2552.7,1137.9 2553.3,1130.2 2553.8,1126.9 2554.4,1131.6 2555.0,1155.5 2555.5,1159.8 2556.1,1135.6 2556.6,1125.2 2557.2,1128.7 2557.8,1160.2 2558.3,1167.4 2558.9,1166.2 2559.4,1133.3 2560.0,1120.0 2560.6,1157.2 2561.1,1168.0 2561.7,1157.2 2562.2,1135.4 2562.8,1136.2 2563.4,1143.9 2563.9,1157.2 2564.5,1164.1 2565.1,1163.8 2565.6,1144.2 2566.2,1124.4 2566.7,1128.3 2567.3,1145.9 2567.9,1131.2 2568.4,1120.8 2569.0,1125.0 2569.5,1159.4 2570.1,1168.3 2570.7,1160.6 2571.2,1147.3 2571.8,1127.8 2572.3,1114.5 2572.9,1130.5 2573.5,1162.3 2574.0,1161.8 2574.6,1135.7 2575.1,1123.4 2575.7,1140.0 2576.3,1160.2 2576.8,1160.7 2577.4,1151.1 2578.0,1127.7 2578.5,1129.9 2579.1,1136.8 2579.6,1134.4 2580.2,1155.0 2580.8,1163.6 2581.3,1155.0 2581.9,1134.4 2582.4,1126.0 2583.0,1115.2 2583.6,1126.2 2584.1,1135.8 2584.7,1158.4 2585.2,1161.5 2585.8,1157.1 2586.4,1149.8 2586.9,1154.4 2587.5,1141.6 2588.0,1121.3 2588.6,1120.8 2589.2,1139.5 2589.7,1160.7 2590.3,1133.3 2590.8,1120.0 2591.4,1133.3 2592.0,1160.3 2592.5,1165.4 2593.1,1155.9 2593.7,1156.1 2594.2,1160.4 2594.8,1155.9 2595.3,1146.3 2595.9,1153.1 2596.5,1144.7 2597.0,1125.0 2597.6,1120.0 2598.1,1128.5 2598.7,1152.2 2599.3,1156.0 2599.8,1152.6 2600.4,1138.6 2600.9,1126.4 2601.5,1110.8 2602.1,1123.8 2602.6,1157.8 2603.2,1169.1 2603.7,1165.7 2604.3,1153.5 2604.9,1152.5 2605.4,1162.8 2606.0,1158.4 2606.6,1126.0 2607.1,1112.7 2607.7,1129.6 2608.2,1149.4 2608.8,1154.9 2609.4,1156.7 2609.9,1148.5 2610.5,1124.4 2611.0,1127.2 2611.6,1140.0 2612.2,1135.0 2612.7,1129.3 2613.3,1131.9 2613.8,1147.7 2614.4,1148.8 2615.0,1148.5 2615.5,1148.4 2616.1,1140.6 2616.6,1134.8 2617.2,1139.4 2617.8,1148.7 2618.3,1151.0 2618.9,1151.3 2619.4,1152.7 2620.0,1152.8 2620.6,1138.6 2621.1,1128.9 2621.7,1137.3 2622.3,1158.4 2622.8,1160.6 2623.4,1151.7 2623.9,1120.4 2624.5,1114.5 2625.1,1124.4 2625.6,1153.5 2626.2,1162.9 2626.7,1170.2 2627.3,1162.5 2627.9,1155.9 2628.4,1142.0 2629.0,1135.1 2629.5,1131.8 2630.1,1122.6 2630.7,1132.1 2631.2,1133.8 2631.8,1140.7 2632.3,1155.7 2632.9,1160.1 2633.5,1159.1 2634.0,1156.8 2634.6,1153.3 2635.2,1136.3 2635.7,1127.1 2636.3,1126.5 2636.8,1140.3 2637.4,1164.1 2638.0,1168.0 2638.5,1160.1 2639.1,1155.0 2639.6,1153.1 2640.2,1143.1 2640.8,1132.1 2641.3,1123.7 2641.9,1135.1 2642.4,1157.2 2643.0,1160.1 2643.6,1159.4 2644.1,1156.7 2644.7,1148.1 2645.2,1135.0 2645.8,1133.0 2646.4,1136.3 2646.9,1151.5 2647.5,1152.0 2648.1,1137.6 2648.6,1134.8 2649.2,1140.6 2649.7,1154.1 2650.3,1154.7 2650.9,1153.6 2651.4,1153.0 2652.0,1148.9 2652.5,1140.6 2653.1,1151.3 2653.7,1156.2 2654.2,1156.6 2654.8,1146.8 2655.3,1134.9 2655.9,1135.1 2656.5,1144.2 2657.0,1145.3 2657.6,1135.0 2658.1,1131.1 2658.7,1135.2 2659.3,1139.3 2659.8,1149.7 2660.4,1159.3 2660.9,1163.0 2661.5,1162.8 2662.1,1154.5 2662.6,1135.2 2663.2,1136.6 2663.8,1143.3 2664.3,1133.5 2664.9,1121.1 2665.4,1130.2 2666.0,1158.2 2666.6,1169.8 2667.1,1164.0 2667.7,1158.9 2668.2,1149.9 2668.8,1138.4 2669.4,1133.3 2669.9,1129.7 2670.5,1128.5 2671.0,1154.7 2671.6,1162.8 2672.2,1160.3 2672.7,1133.1 2673.3,1121.9 2673.8,1130.6 2674.4,1148.8 2675.0,1156.2 2675.5,1156.5 2676.1,1154.0 2676.7,1155.1 2677.2,1155.0 2677.8,1143.2 2678.3,1127.8 2678.9,1128.1 2679.5,1147.6 2680.0,1153.4 2680.6,1148.2 2681.1,1130.9 2681.7,1126.4 2682.3,1120.0 2682.8,1127.7 2683.4,1150.7 2683.9,1155.1 2684.5,1154.8 2685.1,1154.3 2685.6,1150.6 2686.2,1150.3 2686.7,1149.0 2687.3,1137.6 2687.9,1132.0 2688.4,1133.3 2689.0,1144.1 2689.5,1151.6 2690.1,1138.9 2690.7,1132.9 2691.2,1137.9 2691.8,1156.1 2692.4,1157.8 2692.9,1150.3 2693.5,1137.8 2694.0,1140.6 2694.6,1156.4 2695.2,1159.6 2695.7,1157.4 2696.3,1151.2 2696.8,1140.6 2697.4,1134.8 2698.0,1156.9 2698.5,1167.2 2699.1,1157.0 2699.6,1139.3 2700.2,1136.0 2700.8,1136.0 2701.3,1138.1 2701.9,1146.7 2702.4,1156.4 2703.0,1145.6 2703.6,1139.6 2704.1,1152.7 2704.7,1161.9 2705.3,1160.1 2705.8,1153.6 2706.4,1156.0 2706.9,1156.2 2707.5,1146.9 2708.1,1141.9 2708.6,1142.1 2709.2,1138.9 2709.7,1137.9 2710.3,1152.3 2710.9,1158.1 2711.4,1155.7 2712.0,1139.0 2712.5,1134.8 2713.1,1137.4 2713.7,1141.6 2714.2,1149.9 2714.8,1156.9 2715.3,1157.8 2715.9,1144.9 2716.5,1136.5 2717.0,1138.2 2717.6,1150.1 2718.2,1151.2 2718.7,1143.2 2719.3,1144.5 2719.8,1153.3 2720.4,1158.3 2721.0,1163.1 2721.5,1159.8 2722.1,1148.6 2722.6,1138.9 2723.2,1144.3 2723.8,1159.8 2724.3,1159.2 2724.9,1140.2 2725.4,1133.4 2726.0,1136.0 2726.6,1139.3 2727.1,1139.0 2727.7,1137.1 2728.2,1139.6 2728.8,1154.2 2729.4,1161.4 2729.9,1165.1 2730.5,1168.8 2731.0,1166.3 2731.6,1140.3 2732.2,1133.2 2732.7,1136.5 2733.3,1154.2 2733.9,1158.2 2734.4,1142.4 2735.0,1140.8 2735.5,1152.6 2736.1,1152.8 2736.7,1141.0 2737.2,1142.1 2737.8,1158.5 2738.3,1163.5 2738.9,1162.0 2739.5,1157.8 2740.0,1144.4 2740.6,1139.8 2741.1,1139.6 2741.7,1142.1 2742.3,1151.5 2742.8,1162.4 2743.4,1165.9 2743.9,1164.8 2744.5,1151.3 2745.1,1141.5 2745.6,1139.7 2746.2,1144.0 2746.8,1159.7 2747.3,1169.0 2747.9,1159.1 2748.4,1144.8 2749.0,1143.3 2749.6,1147.8 2750.1,1163.8 2750.7,1164.8 2751.2,1144.8 2751.8,1140.3 2752.4,1141.6 2752.9,1145.1 2753.5,1160.3 2754.0,1169.0 2754.6,1166.0 2755.2,1142.2 2755.7,1134.8 2756.3,1142.3 2756.8,1148.0 2757.4,1139.6 2758.0,1138.2 2758.5,1139.5 2759.1,1138.7 2759.6,1140.4 2760.2,1160.6 2760.8,1167.4 2761.3,1161.2 2761.9,1142.3 2762.5,1146.0 2763.0,1165.5 2763.6,1170.2 2764.1,1161.7 2764.7,1139.5 2765.3,1136.3 2765.8,1140.0 2766.4,1154.1 2766.9,1143.4 2767.5,1137.6 2768.1,1147.0 2768.6,1168.9 2769.2,1169.4 2769.7,1162.7 2770.3,1149.4 2770.9,1145.7 2771.4,1143.9 2772.0,1144.2 2772.5,1144.1 2773.1,1140.2 2773.7,1143.1 2774.2,1164.5 2774.8,1161.5 2775.4,1137.7 2775.9,1142.4 2776.5,1166.9 2777.0,1155.3 2777.6,1136.6 2778.2,1160.1 2778.7,1170.2 2779.3,1160.0 2779.8,1144.3 2780.4,1146.6 2781.0,1156.7 2781.5,1154.6 2782.1,1141.8 2782.6,1135.8 2783.2,1134.6 2783.8,1139.2 2784.3,1165.0 2784.9,1167.6 2785.4,1165.9 2786.0,1155.1 2786.6,1146.6 2787.1,1146.3 2787.7,1141.3 2788.3,1139.1 2788.8,1139.7 2789.4,1145.7 2789.9,1161.0 2790.5,1164.6 2791.1,1156.9 2791.6,1133.1 2792.2,1140.4 2792.7,1156.1 2793.3,1158.1 2793.9,1156.5 2794.4,1156.5 2795.0,1157.6 2795.5,1149.7 2796.1,1135.7 2796.7,1133.4 2797.2,1135.9 2797.8,1148.1 2798.3,1158.3 2798.9,1159.0 2799.5,1163.0 2800.0,1164.1 2800.6,1143.0 2801.1,1132.0 2801.7,1134.4 2802.3,1155.5 2802.8,1159.8 2803.4,1152.0 2804.0,1143.1 2804.5,1148.1 2805.1,1160.2 2805.6,1164.0 2806.2,1158.6 2806.8,1136.9 2807.3,1133.2 2807.9,1138.9 2808.4,1160.1 2809.0,1165.7 2809.6,1163.1 2810.1,1140.0 2810.7,1130.7 2811.2,1131.1 2811.8,1151.0 2812.4,1167.8 2812.9,1167.6 2813.5,1151.7 2814.0,1133.7 2814.6,1137.9 2815.2,1158.7 2815.7,1155.2 2816.3,1137.8 2816.9,1141.2 2817.4,1156.7 2818.0,1158.0 2818.5,1162.3 2819.1,1166.5 2819.7,1161.6 2820.2,1136.9 2820.8,1129.4 2821.3,1129.4 2821.9,1133.1 2822.5,1136.2 2823.0,1143.6 2823.6,1167.6 2824.1,1172.4 2824.7,1168.8 2825.3,1142.2 2825.8,1136.6 2826.4,1161.1 2826.9,1170.3 2827.5,1161.0 2828.1,1131.9 2828.6,1121.9 2829.2,1129.1 2829.7,1155.4 2830.3,1159.5 2830.9,1136.9 2831.4,1140.8 2832.0,1166.2 2832.6,1164.1 2833.1,1129.9 2833.7,1131.4 2834.2,1165.4 2834.8,1167.9 2835.4,1159.2 2835.9,1148.9 2836.5,1152.7 2837.0,1149.2 2837.6,1136.9 2838.2,1129.6 2838.7,1126.8 2839.3,1129.0 2839.8,1147.5 2840.4,1165.4 2841.0,1167.6 2841.5,1164.0 2842.1,1138.6 2842.6,1128.2 2843.2,1131.5 2843.8,1156.1 2844.3,1160.3 2844.9,1152.3 2845.5,1151.4 2846.0,1144.7 2846.6,1134.1 2847.1,1139.4 2847.7,1164.7 2848.3,1167.3 2848.8,1163.3 2849.4,1168.0 2849.9,1157.9 2850.5,1135.3 2851.1,1131.3 2851.6,1130.2 2852.2,1133.0 2852.7,1152.3 2853.3,1160.2 2853.9,1154.9 2854.4,1140.1 2855.0,1136.3 2855.5,1140.5 2856.1,1154.9 2856.7,1156.1 2857.2,1155.2 2857.8,1161.7 2858.4,1163.9 2858.9,1158.5 2859.5,1135.0 2860.0,1132.3 2860.6,1136.8 2861.2,1157.2 2861.7,1160.5 2862.3,1155.3 2862.8,1138.7 2863.4,1134.2 2864.0,1133.2 2864.5,1140.3 2865.1,1153.3 2865.6,1150.8 2866.2,1144.5 2866.8,1154.4 2867.3,1161.4 2867.9,1163.5 2868.4,1160.4 2869.0,1137.5 2869.6,1133.4 2870.1,1136.6 2870.7,1140.0 2871.2,1136.5 2871.8,1129.3 2872.4,1138.3 2872.9,1143.3 2873.5,1142.6 2874.1,1161.9 2874.6,1170.4 2875.2,1172.8 2875.7,1160.0 2876.3,1137.6 2876.9,1158.9 2877.4,1163.0 2878.0,1153.5 2878.5,1144.4 2879.1,1154.0 2879.7,1141.8 2880.2,1130.5 2880.8,1130.0 2881.3,1143.6 2881.9,1167.5 2882.5,1163.5 2883.0,1145.3 2883.6,1139.6 2884.1,1142.9 2884.7,1159.2 2885.3,1161.0 2885.8,1138.9 2886.4,1132.5 2887.0,1139.4 2887.5,1165.0 2888.1,1167.0 2888.6,1161.7 2889.2,1141.6 2889.8,1135.2 2890.3,1136.6 2890.9,1152.2 2891.4,1161.2 2892.0,1158.8 2892.6,1143.8 2893.1,1135.6 2893.7,1133.0 2894.2,1132.6 2894.8,1135.5 2895.4,1150.7 2895.9,1157.3 2896.5,1150.9 2897.0,1141.5 2897.6,1152.9 2898.2,1161.3 2898.7,1162.3 2899.3,1160.3 2899.8,1150.9 2900.4,1134.8 2901.0,1132.1 2901.5,1154.1 2902.1,1161.5 2902.7,1169.9 2903.2,1158.2 2903.8,1137.9 2904.3,1137.8 2904.9,1135.3 2905.5,1133.8 2906.0,1137.1 2906.6,1158.5 2907.1,1162.7 2907.7,1153.2 2908.3,1156.5 2908.8,1165.3 2909.4,1162.3 2909.9,1140.0 2910.5,1134.7 2911.1,1137.1 2911.6,1151.8 2912.2,1163.1 2912.7,1164.6 2913.3,1156.4 2913.9,1134.7 2914.4,1129.3 2915.0,1131.5 2915.6,1138.7 2916.1,1159.6 2916.7,1163.4 2917.2,1158.1 2917.8,1138.7 2918.4,1133.6 2918.9,1134.7 2919.5,1141.2 2920.0,1156.0 2920.6,1161.7 2921.2,1161.6 2921.7,1152.0 2922.3,1137.4 2922.8,1140.3 2923.4,1155.1 2924.0,1157.8 2924.5,1142.3 2925.1,1131.5 2925.6,1131.4 2926.2,1147.6 2926.8,1160.8 2927.3,1157.6 2927.9,1140.2 2928.5,1134.4 2929.0,1134.2 2929.6,1139.4 2930.1,1156.8 2930.7,1160.8 2931.3,1158.7 2931.8,1145.0 2932.4,1135.2 2932.9,1135.2 2933.5,1139.8 2934.1,1151.7 2934.6,1158.3 2935.2,1159.0 2935.7,1146.9 2936.3,1132.3 2936.9,1132.2 2937.4,1131.5 2938.0,1138.2 2938.5,1139.1 2939.1,1152.2 2939.7,1159.6 2940.2,1155.8 2940.8,1148.8 2941.3,1148.8 2941.9,1149.3 2942.5,1137.4 2943.0,1132.6 2943.6,1137.5 2944.2,1155.8 2944.7,1156.4 2945.3,1136.7 2945.8,1129.5 2946.4,1130.9 2947.0,1145.0 2947.5,1153.8 2948.1,1150.6 2948.6,1138.3 2949.2,1141.6 2949.8,1155.0 2950.3,1157.6 2950.9,1155.5 2951.4,1145.4 2952.0,1131.6 2952.6,1131.2 2953.1,1150.0 2953.7,1155.8 2954.2,1134.4 2954.8,1124.9 2955.4,1125.5 2955.9,1151.3 2956.5,1158.7 2957.1,1151.2 2957.6,1134.7 2958.2,1125.6 2958.7,1134.6 2959.3,1147.4 2959.9,1152.6 2960.4,1156.7 2961.0,1158.3 2961.5,1154.9 2962.1,1132.8 2962.7,1134.1 2963.2,1151.6 2963.8,1149.6 2964.3,1132.3 2964.9,1128.0 2965.5,1132.5 2966.0,1150.6 2966.6,1152.5 2967.1,1127.0 2967.7,1120.4 2968.3,1123.3 2968.8,1147.5 2969.4,1149.2 2969.9,1143.8 2970.5,1152.1 2971.1,1156.5 2971.6,1155.3 2972.2,1151.8 2972.8,1153.7 2973.3,1155.4 2973.9,1146.0 2974.4,1121.1 2975.0,1118.4 2975.6,1120.8 2976.1,1139.3 2976.7,1156.1 2977.2,1155.9 2977.8,1149.2 2978.4,1146.5 2978.9,1152.3 2979.5,1154.2 2980.0,1150.5 2980.6,1134.2 2981.2,1124.7 2981.7,1120.7 2982.3,1113.8 2982.8,1128.7 2983.4,1152.3 2984.0,1157.1 2984.5,1157.0 2985.1,1155.5 2985.7,1155.3 2986.2,1153.4 2986.8,1136.5 2987.3,1129.6 2987.9,1141.6 2988.5,1156.5 2989.0,1164.2 2989.6,1154.4 2990.1,1129.3 2990.7,1131.4 2991.3,1131.7 2991.8,1132.2 2992.4,1136.6 2992.9,1149.2 2993.5,1158.6 2994.1,1164.4 2994.6,1166.0 2995.2,1163.3 2995.7,1149.6 2996.3,1139.3 2996.9,1143.4 2997.4,1140.3 2998.0,1134.0 2998.6,1134.4 2999.1,1151.3 2999.7,1158.5 3000.2,1134.8 3000.8,1128.0 3001.4,1159.0 3001.9,1172.7 3002.5,1159.0 3003.0,1126.0 3003.6,1147.1 3004.2,1158.1 3004.7,1132.9 3005.3,1136.8 3005.8,1161.2 3006.4,1155.1 3007.0,1135.1 3007.5,1143.1 3008.1,1167.0 3008.6,1170.1 3009.2,1163.6 3009.8,1135.4 3010.3,1138.7 3010.9,1161.7 3011.4,1162.4 3012.0,1139.8 3012.6,1126.1 3013.1,1125.5 3013.7,1134.6 3014.3,1156.3 3014.8,1149.7 3015.4,1123.2 3015.9,1119.2 3016.5,1132.7 3017.1,1165.2 3017.6,1154.9 3018.2,1125.1 3018.7,1132.1 3019.3,1161.7 3019.9,1161.4 3020.4,1138.7 3021.0,1132.3 3021.5,1143.7 3022.1,1155.1 3022.7,1159.9 3023.2,1162.3 3023.8,1159.8 3024.3,1138.1 3024.9,1129.7 3025.5,1133.7 3026.0,1154.1 3026.6,1161.6 3027.2,1154.1 3027.7,1133.8 3028.3,1130.7 3028.8,1132.8 3029.4,1150.2 3030.0,1157.2 3030.5,1154.6 3031.1,1154.2 3031.6,1159.5 3032.2,1157.3 3032.8,1140.2 3033.3,1133.4 3033.9,1136.5 3034.4,1141.2 3035.0,1143.7 3035.6,1139.3 3036.1,1139.0 3036.7,1150.5 3037.2,1157.0 3037.8,1154.5 3038.4,1139.3 3038.9,1138.0 3039.5,1154.4 3040.0,1159.0 3040.6,1156.1 3041.2,1155.9 3041.7,1158.1 3042.3,1155.5 3042.9,1143.5 3043.4,1137.5 3044.0,1136.1 3044.5,1138.1 3045.1,1155.0 3045.7,1155.4 3046.2,1143.2 3046.8,1144.8 3047.3,1152.8 3047.9,1153.7 3048.5,1155.7 3049.0,1142.3 3049.6,1137.1 3050.1,1140.8 3050.7,1155.2 3051.3,1162.8 3051.8,1155.1 3052.4,1140.4 3052.9,1136.3 3053.5,1138.8 3054.1,1157.7 3054.6,1160.5 3055.2,1155.2 3055.8,1144.5 3056.3,1143.5 3056.9,1138.7 3057.4,1133.7 3058.0,1133.6 3058.6,1146.6 3059.1,1159.1 3059.7,1159.1 3060.2,1151.8 3060.8,1139.4 3061.4,1152.6 3061.9,1159.3 3062.5,1156.8 3063.0,1133.4 3063.6,1127.8 3064.2,1129.3 3064.7,1150.7 3065.3,1158.9 3065.8,1157.4 3066.4,1143.3 3067.0,1133.1 3067.5,1123.7 3068.1,1134.0 3068.7,1149.8 3069.2,1151.6 3069.8,1141.5 3070.3,1153.6 3070.9,1159.9 3071.5,1158.5 3072.0,1157.4 3072.6,1150.2 3073.1,1135.9 3073.7,1131.6 3074.3,1131.3 3074.8,1135.1 3075.4,1156.6 3075.9,1159.6 3076.5,1156.0 3077.1,1145.6 3077.6,1141.8 3078.2,1141.3 3078.7,1144.6 3079.3,1150.1 3079.9,1143.0 3080.4,1140.4 3081.0,1144.6 3081.5,1139.8 3082.1,1133.3 3082.7,1133.6 3083.2,1154.8 3083.8,1160.9 3084.4,1161.0 3084.9,1140.5 3085.5,1133.2 3086.0,1140.6 3086.6,1144.2 3087.2,1154.7 3087.7,1161.5 3088.3,1156.6 3088.8,1140.9 3089.4,1137.4 3090.0,1142.4 3090.5,1154.7 3091.1,1152.3 3091.6,1137.4 3092.2,1135.6 3092.8,1137.0 3093.3,1151.0 3093.9,1158.2 3094.4,1157.8 3095.0,1155.3 3095.6,1146.8 3096.1,1145.8 3096.7,1157.7 3097.3,1160.7 3097.8,1155.5 3098.4,1144.6 3098.9,1150.3 3099.5,1156.7 3100.1,1153.4 3100.6,1142.4 3101.2,1141.0 3101.7,1155.5 3102.3,1162.9 3102.9,1161.0 3103.4,1143.6 3104.0,1140.9 3104.5,1141.1 3105.1,1155.5 3105.7,1163.0 3106.2,1155.5 3106.8,1143.3 3107.3,1147.5 3107.9,1157.3 3108.5,1159.8 3109.0,1159.8 3109.6,1156.0 3110.1,1145.1 3110.7,1148.0 3111.3,1158.2 3111.8,1158.4 3112.4,1144.6 3113.0,1138.3 3113.5,1138.9 3114.1,1144.6 3114.6,1149.0 3115.2,1139.7 3115.8,1136.6 3116.3,1138.1 3116.9,1148.1 3117.4,1154.4 3118.0,1155.8 3118.6,1155.0 3119.1,1144.7 3119.7,1135.2 3120.2,1136.7 3120.8,1153.3 3121.4,1139.3 3121.9,1131.7 3122.5,1139.2 3123.0,1152.0 3123.6,1152.6 3124.2,1151.1 3124.7,1152.7 3125.3,1155.6 3125.9,1154.9 3126.4,1151.8 3127.0,1140.5 3127.5,1135.2 3128.1,1133.6 3128.7,1134.7 3129.2,1139.8 3129.8,1139.4 3130.3,1133.7 3130.9,1133.7 3131.5,1148.7 3132.0,1154.8 3132.6,1150.4 3133.1,1137.7 3133.7,1143.3 3134.3,1153.9 3134.8,1153.2 3135.4,1147.6 3135.9,1148.3 3136.5,1153.9 3137.1,1155.4 3137.6,1152.5 3138.2,1142.4 3138.8,1140.8 3139.3,1143.0 3139.9,1141.2 3140.4,1136.4 3141.0,1133.5 3141.6,1135.3 3142.1,1151.5 3142.7,1157.5 3143.2,1157.3 3143.8,1151.4 3144.4,1139.0 3144.9,1136.1 3145.5,1136.0 3146.0,1139.5 3146.6,1146.2 3147.2,1141.2 3147.7,1137.5 3148.3,1142.4 3148.8,1157.5 3149.4,1159.1 3150.0,1154.1 3150.5,1150.2 3151.1,1157.5 3151.6,1156.0 3152.2,1134.8 3152.8,1133.2 3153.3,1139.4 3153.9,1158.8 3154.5,1139.0 3155.0,1133.2 3155.6,1139.0 3156.1,1155.5 3156.7,1166.1 3157.3,1155.4 3157.8,1139.0 3158.4,1138.8 3158.9,1155.2 3159.5,1156.6 3160.1,1135.6 3160.6,1131.7 3161.2,1133.5 3161.7,1146.6 3162.3,1151.4 3162.9,1153.0 3163.4,1152.9 3164.0,1149.2 3164.5,1137.3 3165.1,1129.9 3165.7,1137.3 3166.2,1147.0 3166.8,1147.7 3167.4,1147.9 3167.9,1150.1 3168.5,1149.8 3169.0,1147.8 3169.6,1133.4 3170.2,1131.9 3170.7,1139.7 3171.3,1148.7 3171.8,1140.5 3172.4,1133.8 3173.0,1138.0 3173.5,1147.9 3174.1,1147.1 3174.6,1140.8 3175.2,1138.3 3175.8,1136.6 3176.3,1140.4 3176.9,1150.7 3177.4,1151.5 3178.0,1150.0 3178.6,1140.6 3179.1,1135.6 3179.7,1140.7 3180.2,1143.1 3180.8,1143.5 3181.4,1139.9 3181.9,1137.6 3182.5,1142.2 3183.1,1153.0 3183.6,1153.0 3184.2,1143.7 3184.7,1140.5 3185.3,1142.8 3185.9,1141.3 3186.4,1141.3 3187.0,1152.2 3187.5,1155.1 3188.1,1151.6 3188.7,1141.6 3189.2,1142.1 3189.8,1146.7 3190.3,1153.1 3190.9,1155.3 3191.5,1152.7 3192.0,1142.0 3192.6,1140.7 3193.1,1141.7 3193.7,1143.9 3194.3,1144.8 3194.8,1150.0 3195.4,1156.5 3196.0,1160.0 3196.5,1155.5 3197.1,1156.6 3197.6,1156.8 3198.2,1145.3 3198.8,1142.3 3199.3,1145.5 3199.9,1154.6 3200.4,1143.7 3201.0,1142.0 3201.6,1144.1 3202.1,1145.3 3202.7,1141.5 3203.2,1140.8 3203.8,1147.4 3204.4,1161.1 3204.9,1161.6 3205.5,1156.7 3206.0,1145.0 3206.6,1142.8 3207.2,1143.3 3207.7,1151.0 3208.3,1160.2 3208.9,1161.5 3209.4,1157.5 3210.0,1146.3 3210.5,1140.5 3211.1,1138.3 3211.7,1140.0 3212.2,1153.7 3212.8,1157.7 3213.3,1142.3 3213.9,1135.0 3214.5,1142.3 3215.0,1159.3 3215.6,1164.4 3216.1,1160.2 3216.7,1162.8 3217.3,1163.0 3217.8,1159.0 3218.4,1148.2 3218.9,1144.3 3219.5,1142.4 3220.1,1140.9 3220.6,1141.7 3221.2,1143.8 3221.7,1142.2 3222.3,1138.0 3222.9,1137.0 3223.4,1140.2 3224.0,1145.2 3224.6,1144.2 3225.1,1146.1 3225.7,1159.0 3226.2,1163.0 3226.8,1162.8 3227.4,1157.8 3227.9,1147.5 3228.5,1155.6 3229.0,1156.7 3229.6,1140.5 3230.2,1136.1 3230.7,1138.1 3231.3,1152.1 3231.8,1155.4 3232.4,1149.0 3233.0,1145.4 3233.5,1145.9 3234.1,1142.8 3234.6,1135.9 3235.2,1155.9 3235.8,1162.1 3236.3,1161.6 3236.9,1161.8 3237.5,1157.7 3238.0,1146.4 3238.6,1144.6 3239.1,1141.3 3239.7,1138.7 3240.3,1138.9 3240.8,1140.5 3241.4,1143.0 3241.9,1147.2 3242.5,1154.3 3243.1,1159.1 3243.6,1161.0 3244.2,1158.5 3244.7,1151.2 3245.3,1155.9 3245.9,1158.3 3246.4,1150.3 3247.0,1142.2 3247.5,1141.5 3248.1,1143.2 3248.7,1157.1 3249.2,1161.5 3249.8,1158.1 3250.3,1140.5 3250.9,1138.9 3251.5,1142.5 3252.0,1150.1 3252.6,1156.0 3253.2,1161.9 3253.7,1156.1 3254.3,1147.4 3254.8,1141.6 3255.4,1141.8 3256.0,1152.7 3256.5,1159.3 3257.1,1158.7 3257.6,1146.3 3258.2,1140.3 3258.8,1141.5 3259.3,1157.0 3259.9,1159.7 3260.4,1153.7 3261.0,1146.2 3261.6,1156.4 3262.1,1160.2 3262.7,1158.6 3263.2,1145.3 3263.8,1142.1 3264.4,1147.4 3264.9,1157.2 3265.5,1153.9 3266.1,1142.6 3266.6,1140.9 3267.2,1142.5 3267.7,1154.4 3268.3,1159.0 3268.9,1157.6 3269.4,1149.1 3270.0,1145.8 3270.5,1148.4 3271.1,1156.3 3271.7,1160.3 3272.2,1155.7 3272.8,1141.1 3273.3,1144.2 3273.9,1158.7 3274.5,1161.2 3275.0,1154.8 3275.6,1143.3 3276.1,1143.9 3276.7,1148.1 3277.3,1149.9 3277.8,1147.5 3278.4,1144.8 3279.0,1143.2 3279.5,1143.6 3280.1,1150.5 3280.6,1162.3 3281.2,1164.3 3281.8,1161.4 3282.3,1161.5 3282.9,1159.7 3283.4,1148.5 3284.0,1146.3 3284.6,1151.3 3285.1,1157.5 3285.7,1158.7 3286.2,1156.2 3286.8,1145.3 3287.4,1143.6 3287.9,1143.6 3288.5,1146.1 3289.0,1147.0 3289.6,1156.4 3290.2,1161.0 3290.7,1156.7 3291.3,1148.8 3291.8,1147.7 3292.4,1154.4 3293.0,1158.7 3293.5,1159.2 3294.1,1159.4 3294.7,1160.2 3295.2,1155.9 3295.8,1143.7 3296.3,1143.0 3296.9,1152.5 3297.5,1160.0 3298.0,1154.6 3298.6,1142.3 3299.1,1141.0 3299.7,1143.8 3300.3,1159.4 3300.8,1164.2 3301.4,1160.6 3301.9,1160.3 3302.5,1168.3 3303.1,1160.4 3303.6,1146.0 3304.2,1139.7 3304.7,1145.8 3305.3,1147.7 3305.9,1149.5 3306.4,1159.0 3307.0,1163.8 3307.6,1162.5 3308.1,1148.4 3308.7,1145.5 3309.2,1147.4 3309.8,1156.3 3310.4,1158.2 3310.9,1152.1 3311.5,1148.6 3312.0,1148.7 3312.6,1150.7 3313.2,1155.1 3313.7,1156.9 3314.3,1156.7 3314.8,1156.4 3315.4,1152.4 3316.0,1151.4 3316.5,1151.2 3317.1,1150.8 3317.6,1151.7 3318.2,1155.9 3318.8,1153.1 3319.3,1148.7 3319.9,1148.0 3320.4,1149.3 3321.0,1153.8 3321.6,1157.0 3322.1,1159.8 3322.7,1162.9 3323.3,1160.8 3323.8,1154.2 3324.4,1146.4 3324.9,1146.4 3325.5,1149.5 3326.1,1148.1 3326.6,1143.9 3327.2,1142.0 3327.7,1157.5 3328.3,1162.8 3328.9,1157.5 3329.4,1161.9 3330.0,1162.4 3330.5,1159.8 3331.1,1150.0 3331.7,1148.3 3332.2,1146.9 3332.8,1145.1 3333.3,1146.3 3333.9,1149.8 3334.5,1153.0 3335.0,1151.5 3335.6,1148.4 3336.2,1145.8 3336.7,1144.5 3337.3,1145.2 3337.8,1154.2 3338.4,1160.6 3339.0,1161.2 3339.5,1159.7 3340.1,1154.8 3340.6,1150.9 3341.2,1149.7 3341.8,1146.4 3342.3,1143.9 3342.9,1143.4 3343.4,1143.1 3344.0,1146.9 3344.6,1157.5 3345.1,1160.2 3345.7,1155.7 3346.2,1149.6 3346.8,1147.3 3347.4,1146.6 3347.9,1147.2 3348.5,1154.3 3349.1,1158.7 3349.6,1158.8 3350.2,1151.4 3350.7,1143.1 3351.3,1144.6 3351.9,1146.2 3352.4,1142.3 3353.0,1141.2 3353.5,1145.8 3354.1,1157.4 3354.7,1158.2 3355.2,1155.0 3355.8,1145.0 3356.3,1146.9 3356.9,1155.0 3357.5,1155.3 3358.0,1145.1 3358.6,1140.8 3359.1,1148.0 3359.7,1156.2 3360.3,1151.5 3360.8,1140.2 3361.4,1137.5 3361.9,1140.6 3362.5,1140.0 3363.1,1143.8 3363.6,1153.4 3364.2,1157.3 3364.8,1154.6 3365.3,1154.5 3365.9,1153.2 3366.4,1143.6 3367.0,1139.8 3367.6,1144.0 3368.1,1154.9 3368.7,1154.5 3369.2,1143.2 3369.8,1140.4 3370.4,1144.9 3370.9,1153.1 3371.5,1150.4 3372.0,1141.5 3372.6,1141.1 3373.2,1146.4 3373.7,1153.6 3374.3,1154.2 3374.8,1153.3 3375.4,1152.5 3376.0,1152.4 3376.5,1150.4 3377.1,1143.8 3377.7,1142.4 3378.2,1142.7 3378.8,1142.5 3379.3,1142.2 3379.9,1142.6 3380.5,1144.7 3381.0,1151.1 3381.6,1151.3 3382.1,1152.2 3382.7,1154.0 3383.3,1151.9 3383.8,1150.1 3384.4,1147.7 3384.9,1145.7 3385.5,1141.4 3386.1,1139.3 3386.6,1143.1 3387.2,1151.3 3387.7,1146.8 3388.3,1144.4 3388.9,1153.8 3389.4,1155.2 3390.0,1151.9 3390.5,1146.3 3391.1,1149.4 3391.7,1138.4 3392.2,1131.7 3392.8,1131.1 3393.4,1151.5 3393.9,1156.9 3394.5,1152.2 3395.0,1148.0 3395.6,1151.2 3396.2,1154.4 3396.7,1153.9 3397.3,1143.8 3397.8,1135.5 3398.4,1136.9 3399.0,1143.1 3399.5,1150.1 3400.1,1155.3 3400.6,1156.4 3401.2,1152.7 3401.8,1150.2 3402.3,1149.5 3402.9,1137.4 3403.4,1133.8 3404.0,1134.3 3404.6,1136.5 3405.1,1148.3 3405.7,1156.0 3406.3,1154.6 3406.8,1139.1 3407.4,1134.8 3407.9,1137.2 3408.5,1140.7 3409.1,1139.2 3409.6,1152.4 3410.2,1159.5 3410.7,1158.6 3411.3,1139.2 3411.9,1133.3 3412.4,1139.2 3413.0,1151.3 3413.5,1137.3 3414.1,1135.3 3414.7,1148.4 3415.2,1157.6 3415.8,1155.1 3416.3,1137.3 3416.9,1134.0 3417.5,1135.1 3418.0,1139.9 3418.6,1153.4 3419.2,1156.6 3419.7,1152.7 3420.3,1140.8 3420.8,1146.2 3421.4,1152.9 3422.0,1151.5 3422.5,1140.5 3423.1,1133.8 3423.6,1132.7 3424.2,1137.5 3424.8,1153.2 3425.3,1154.3 3425.9,1144.0 3426.4,1134.3 3427.0,1133.2 3427.6,1137.0 3428.1,1152.2 3428.7,1156.7 3429.2,1156.8 3429.8,1154.2 3430.4,1147.0 3430.9,1143.5 3431.5,1143.1 3432.0,1134.9 3432.6,1131.1 3433.2,1150.7 3433.7,1156.9 3434.3,1150.6 3434.9,1138.4 3435.4,1142.7 3436.0,1143.2 3436.5,1136.5 3437.1,1132.7 3437.7,1132.5 3438.2,1142.3 3438.8,1155.4 3439.3,1155.2 3439.9,1146.6 3440.5,1136.7 3441.0,1141.3 3441.6,1150.6 3442.1,1150.1 3442.7,1140.8 3443.3,1140.1 3443.8,1151.2 3444.4,1152.0 3444.9,1137.4 3445.5,1132.9 3446.1,1133.7 3446.6,1136.5 3447.2,1142.6 3447.8,1150.5 3448.3,1152.2 3448.9,1152.5 3449.4,1152.6 3450.0,1152.0 3450.6,1149.7 3451.1,1146.7 3451.7,1145.3 3452.2,1138.3 3452.8,1134.2 3453.4,1134.7 3453.9,1140.6 3454.5,1140.9 3455.0,1135.2 3455.6,1133.6 3456.2,1148.8 3456.7,1153.7 3457.3,1148.8 3457.8,1141.9 3458.4,1151.3 3459.0,1154.2 3459.5,1153.4 3460.1,1147.2 3460.6,1139.4 3461.2,1140.0 3461.8,1141.6 3462.3,1138.2 3462.9,1135.0 3463.5,1136.9 3464.0,1151.6 3464.6,1153.3 3465.1,1138.4 3465.7,1133.2 3466.3,1133.9 3466.8,1146.7 3467.4,1153.8 3467.9,1152.1 3468.5,1146.7 3469.1,1144.2 3469.6,1149.1 3470.2,1151.7 3470.7,1147.9 3471.3,1138.2 3471.9,1137.0 3472.4,1141.3 3473.0,1153.9 3473.5,1156.9 3474.1,1155.9 3474.7,1139.8 3475.2,1133.4 3475.8,1132.3 3476.4,1134.6 3476.9,1138.4 3477.5,1151.4 3478.0,1157.6 3478.6,1150.4 3479.2,1136.9 3479.7,1139.2 3480.3,1138.5 3480.8,1134.6 3481.4,1137.6 3482.0,1154.0 3482.5,1156.8 3483.1,1149.9 3483.6,1137.4 3484.2,1138.9 3484.8,1137.8 3485.3,1134.4 3485.9,1135.3 3486.4,1144.8 3487.0,1152.1 3487.6,1153.8 3488.1,1152.7 3488.7,1144.9 3489.3,1137.7 3489.8,1140.4 3490.4,1137.8 3490.9,1133.2 3491.5,1131.1 3492.1,1132.2 3492.6,1135.7 3493.2,1147.1 3493.7,1151.8 3494.3,1151.1 3494.9,1148.3 3495.4,1137.3 3496.0,1136.9 3496.5,1143.1 3497.1,1143.8 3497.7,1139.3 3498.2,1139.7 3498.8,1146.0 3499.3,1146.4 3499.9,1135.9 3500.5,1132.9 3501.0,1134.8 3501.6,1146.6 3502.1,1148.2 3502.7,1142.9 3503.3,1135.0 3503.8,1138.0 3504.4,1147.9 3505.0,1148.5 3505.5,1146.1 3506.1,1138.8 3506.6,1139.7 3507.2,1146.0 3507.8,1145.0 3508.3,1135.7 3508.9,1135.0 3509.4,1136.0 3510.0,1137.6 3510.6,1137.3 3511.1,1144.8 3511.7,1147.9 3512.2,1144.8 3512.8,1140.6 3513.4,1144.4 3513.9,1146.2 3514.5,1146.1 3515.0,1146.7 3515.6,1147.8 3516.2,1147.2 3516.7,1137.7 3517.3,1133.8 3517.9,1135.4 3518.4,1145.2 3519.0,1147.1 3519.5,1144.3 3520.1,1135.6 3520.7,1133.8 3521.2,1134.2 3521.8,1135.6 3522.3,1137.9 3522.9,1145.5 3523.5,1148.4 3524.0,1147.9 3524.6,1142.1 3525.1,1145.0 3525.7,1149.2 3526.3,1148.9 3526.8,1139.3 3527.4,1146.9 3527.9,1150.5 3528.5,1147.1 3529.1,1134.0 3529.6,1131.5 3530.2,1134.8 3530.7,1137.1 3531.3,1136.3 3531.9,1138.1 3532.4,1147.0 3533.0,1150.5 3533.6,1151.4 3534.1,1150.4 3534.7,1142.2 3535.2,1140.6 3535.8,1150.1 3536.4,1151.6 3536.9,1145.7 3537.5,1138.1 3538.0,1138.6 3538.6,1140.0 3539.2,1142.4 3539.7,1150.3 3540.3,1152.3 3540.8,1150.1 3541.4,1143.6 3542.0,1141.8 3542.5,1141.2 3543.1,1141.9 3543.6,1149.1 3544.2,1154.5 3544.8,1155.1 3545.3,1151.6 3545.9,1142.6 3546.5,1142.1 3547.0,1143.9 3547.6,1148.8 3548.1,1146.2 3548.7,1152.2 3549.3,1156.7 3549.8,1156.8 3550.4,1156.1 3550.9,1148.0 3551.5,1145.7 3552.1,1145.6" stroke="#0000ff" stroke-width="6.25" stroke-linejoin="round" fill="none"/><path d="M355.50,1435.50v15.18M916.30,1435.50v15.18M1477.10,1435.50v15.18M2037.90,1435.50v15.18M2598.70,1435.50v15.18M3159.50,1435.50v15.18M355.50,864.50h-15.18M355.50,1005.50h-15.18M355.50,1146.50h-15.18M355.50,1287.50h-15.18M355.50,1428.50h-15.18" stroke="#000" stroke-width="3.333" fill="none"/><rect x="355.50" y="857.50" width="3197.00" height="578.00" fill="none" stroke="#000" stroke-width="3.333"/></g>
<g><path d="M355.50,1633.50V2212.30M916.30,1633.50V2212.30M1477.10,1633.50V2212.30M2037.90,1633.50V2212.30M2598.70,1633.50V2212.30M3159.50,1633.50V2212.30M355.50,1764.30H3552.50M355.50,1922.90H3552.50M355.50,2081.50H3552.50" stroke="#b0b0b0" stroke-width="3.333" fill="none"/><path clip-path="url(#c2)" d="M355.5,1953.9 356.1,1952.8 356.6,1943.9 357.2,1934.5 357.7,1933.3 358.3,1934.7 358.9,1934.2 359.4,1929.5 360.0,1926.7 360.5,1928.5 361.1,1928.1 361.7,1922.3 362.2,1917.8 362.8,1917.2 363.4,1917.7 363.9,1915.7 364.5,1912.7 365.0,1914.4 365.6,1918.3 366.2,1918.3 366.7,1916.6 367.3,1915.4 367.8,1913.3 368.4,1907.7 369.0,1902.9 369.5,1902.9 370.1,1903.1 370.6,1900.9 371.2,1900.7 371.8,1904.6 372.3,1910.0 372.9,1911.8 373.4,1910.4 374.0,1905.8 374.6,1901.2 375.1,1901.3 375.7,1909.0 376.2,1917.6 376.8,1918.7 377.4,1915.8 377.9,1902.8 378.5,1899.5 379.1,1900.0 379.6,1904.1 380.2,1908.1 380.7,1909.8 381.3,1913.1 381.9,1915.0 382.4,1912.6 383.0,1905.3 383.5,1903.4 384.1,1908.7 384.7,1911.2 385.2,1909.4 385.8,1910.8 386.3,1914.3 386.9,1911.7 387.5,1902.6 388.0,1901.1 388.6,1902.8 389.1,1908.2 389.7,1914.6 390.3,1918.0 390.8,1920.1 391.4,1937.7 392.0,1919.4 392.5,1912.2 393.1,1907.4 393.6,1907.0 394.2,1908.5 394.8,1913.8 395.3,1921.6 395.9,1924.1 396.4,1921.6 397.0,1918.9 397.6,1920.0 398.1,1921.0 398.7,1919.7 399.2,1919.2 399.8,1922.3 400.4,1925.3 400.9,1925.7 401.5,1928.4 402.0,1932.1 402.6,1932.1 403.2,1928.2 403.7,1928.1 404.3,1932.8 404.9,1936.6 405.4,1938.1 406.0,1934.9 406.5,1923.5 407.1,1922.1 407.7,1923.1 408.2,1927.4 408.8,1936.9 409.3,1935.8 409.9,1930.7 410.5,1932.1 411.0,1941.1 411.6,1944.6 412.1,1939.3 412.7,1936.6 413.3,1942.6 413.8,1947.9 414.4,1948.2 414.9,1948.4 415.5,1950.2 416.1,1951.0 416.6,1947.8 417.2,1939.4 417.7,1936.8 418.3,1940.0 418.9,1945.3 419.4,1946.5 420.0,1948.2 420.6,1950.8 421.1,1947.8 421.7,1938.4 422.2,1936.3 422.8,1937.8 423.4,1947.2 423.9,1951.3 424.5,1950.1 425.0,1950.6 425.6,1948.6 426.2,1943.5 426.7,1934.6 427.3,1931.9 427.8,1934.8 428.4,1937.3 429.0,1934.4 429.5,1930.9 430.1,1930.2 430.6,1929.5 431.2,1926.6 431.8,1926.0 432.3,1934.2 432.9,1941.5 433.5,1951.3 434.0,1933.6 434.6,1926.8 435.1,1929.0 435.7,1937.1 436.3,1941.4 436.8,1941.4 437.4,1936.3 437.9,1930.6 438.5,1932.0 439.1,1940.5 439.6,1945.3 440.2,1945.1 440.7,1940.2 441.3,1934.3 441.9,1931.8 442.4,1931.3 443.0,1931.3 443.5,1932.0 444.1,1933.6 444.7,1935.1 445.2,1936.2 445.8,1940.0 446.3,1946.1 446.9,1947.5 447.5,1941.2 448.0,1931.2 448.6,1930.9 449.2,1940.4 449.7,1942.5 450.3,1940.6 450.8,1937.6 451.4,1932.0 452.0,1922.8 452.5,1919.1 453.1,1922.5 453.6,1927.4 454.2,1925.7 454.8,1918.2 455.3,1913.2 455.9,1912.9 456.4,1912.5 457.0,1912.7 457.6,1917.2 458.1,1917.3 458.7,1907.0 459.2,1902.3 459.8,1905.1 460.4,1910.7 460.9,1906.9 461.5,1905.3 462.1,1912.8 462.6,1916.3 463.2,1910.0 463.7,1904.8 464.3,1907.6 464.9,1910.7 465.4,1906.1 466.0,1900.7 466.5,1901.8 467.1,1913.2 467.7,1915.8 468.2,1914.6 468.8,1910.9 469.3,1901.3 469.9,1898.4 470.5,1898.8 471.0,1894.8 471.6,1889.8 472.1,1888.3 472.7,1890.6 473.3,1894.8 473.8,1893.1 474.4,1889.9 475.0,1893.3 475.5,1901.1 476.1,1902.2 476.6,1896.7 477.2,1892.1 477.8,1893.6 478.3,1892.8 478.9,1890.3 479.4,1897.1 480.0,1904.5 480.6,1904.3 481.1,1893.2 481.7,1884.0 482.2,1884.8 482.8,1891.9 483.4,1894.0 483.9,1888.2 484.5,1883.5 485.0,1883.6 485.6,1886.1 486.2,1884.9 486.7,1882.9 487.3,1885.9 487.8,1891.8 488.4,1895.3 489.0,1896.9 489.5,1897.0 490.1,1895.1 490.7,1891.3 491.2,1889.7 491.8,1888.1 492.3,1883.5 492.9,1880.2 493.5,1880.5 494.0,1882.8 494.6,1883.8 495.1,1884.5 495.7,1888.0 496.3,1889.5 496.8,1884.6 497.4,1881.2 497.9,1881.9 498.5,1884.2 499.1,1887.6 499.6,1895.0 500.2,1899.6 500.7,1899.5 501.3,1897.3 501.9,1897.7 502.4,1900.3 503.0,1907.1 503.6,1899.3 504.1,1893.2 504.7,1888.8 505.2,1887.6 505.8,1887.3 506.4,1887.9 506.9,1890.6 507.5,1896.2 508.0,1898.0 508.6,1892.0 509.2,1887.9 509.7,1889.4 510.3,1897.1 510.8,1902.6 511.4,1902.6 512.0,1902.1 512.5,1905.0 513.1,1906.6 513.6,1903.7 514.2,1893.8 514.8,1891.3 515.3,1892.8 515.9,1892.6 516.4,1891.3 517.0,1891.7 517.6,1894.3 518.1,1897.5 518.7,1901.2 519.3,1907.5 519.8,1910.7 520.4,1907.4 520.9,1899.9 521.5,1904.7 522.1,1915.1 522.6,1917.1 523.2,1915.2 523.7,1901.8 524.3,1900.1 524.9,1906.2 525.4,1912.1 526.0,1908.8 526.5,1904.5 527.1,1905.1 527.7,1912.1 528.2,1917.5 528.8,1913.1 529.3,1905.9 529.9,1906.1 530.5,1911.0 531.0,1912.5 531.6,1908.7 532.2,1908.1 532.7,1915.5 533.3,1924.9 533.8,1926.4 534.4,1925.1 535.0,1917.4 535.5,1912.8 536.1,1914.5 536.6,1916.8 537.2,1916.7 537.8,1914.4 538.3,1911.6 538.9,1910.8 539.4,1912.6 540.0,1919.2 540.6,1926.5 541.1,1927.7 541.7,1925.5 542.2,1927.7 542.8,1932.1 543.4,1931.8 543.9,1925.0 544.5,1920.9 545.1,1922.1 545.6,1926.8 546.2,1932.5 546.7,1935.0 547.3,1934.9 547.9,1937.2 548.4,1942.5 549.0,1945.7 549.5,1946.4 550.1,1940.6 550.7,1931.8 551.2,1931.5 551.8,1933.5 552.3,1938.8 552.9,1947.8 553.5,1953.8 554.0,1953.6 554.6,1945.8 555.1,1941.1 555.7,1942.3 556.3,1949.7 556.8,1958.2 557.4,1967.2 557.9,1958.8 558.5,1952.9 559.1,1951.3 559.6,1957.1 560.2,1962.8 560.8,1963.7 561.3,1960.1 561.9,1955.0 562.4,1955.2 563.0,1957.1 563.6,1955.5 564.1,1953.9 564.7,1955.8 565.2,1963.8 565.8,1973.0 566.4,1975.6 566.9,1974.0 567.5,1965.8 568.0,1963.0 568.6,1967.3 569.2,1972.9 569.7,1971.4 570.3,1965.7 570.8,1965.3 571.4,1970.0 572.0,1982.8 572.5,1987.7 573.1,1988.1 573.7,1985.8 574.2,1984.4 574.8,1987.0 575.3,1989.2 575.9,1987.5 576.5,1983.4 577.0,1982.1 577.6,1981.2 578.1,1977.2 578.7,1974.6 579.3,1975.5 579.8,1977.2 580.4,1976.3 580.9,1975.4 581.5,1975.6 582.1,1976.3 582.6,1980.4 583.2,1990.4 583.7,1995.2 584.3,1996.1 584.9,1995.4 585.4,1991.3 586.0,1988.4 586.5,1990.7 587.1,1992.1 587.7,1989.0 588.2,1984.7 588.8,1983.9 589.4,1986.7 589.9,1990.2 590.5,1987.6 591.0,1985.1 591.6,1989.7 592.2,2000.9 592.7,2002.3 593.3,1993.0 593.8,1989.9 594.4,1993.5 595.0,2006.8 595.5,2017.7 596.1,2012.1 596.6,2004.1 597.2,2000.5 597.8,2007.2 598.3,2014.2 598.9,2015.2 599.4,2012.4 600.0,2006.6 600.6,2003.4 601.1,2003.8 601.7,2002.5 602.3,1998.5 602.8,1997.8 603.4,2001.3 603.9,2010.9 604.5,2014.0 605.1,2012.1 605.6,2009.7 606.2,2008.6 606.7,2007.5 607.3,2005.1 607.9,2004.0 608.4,2008.9 609.0,2016.2 609.5,2016.4 610.1,2012.8 610.7,2010.5 611.2,2011.0 611.8,2012.4 612.3,2013.2 612.9,2012.9 613.5,2012.9 614.0,2011.9 614.6,2005.5 615.2,1995.3 615.7,1991.6 616.3,1990.6 616.8,1991.6 617.4,1995.2 618.0,1997.0 618.5,1995.5 619.1,1991.4 619.6,1988.3 620.2,1988.8 620.8,1994.4 621.3,2000.7 621.9,2002.5 622.4,2001.2 623.0,1999.0 623.6,2000.4 624.1,2015.1 624.7,1998.2 625.2,1987.7 625.8,1985.4 626.4,1988.3 626.9,1997.3 627.5,2001.6 628.0,2002.0 628.6,1999.0 629.2,1990.3 629.7,1986.4 630.3,1989.9 630.9,1994.9 631.4,1995.3 632.0,1992.9 632.5,1986.8 633.1,1977.6 633.7,1972.5 634.2,1970.8 634.8,1972.0 635.3,1978.4 635.9,1982.1 636.5,1980.1 637.0,1974.5 637.6,1968.8 638.1,1964.6 638.7,1961.4 639.3,1960.0 639.8,1962.8 640.4,1969.2 640.9,1970.2 641.5,1964.9 642.1,1956.1 642.6,1958.5 643.2,1968.3 643.8,1970.1 644.3,1967.4 644.9,1956.9 645.4,1951.1 646.0,1949.7 646.6,1948.9 647.1,1949.1 647.7,1949.9 648.2,1948.4 648.8,1947.8 649.4,1950.1 649.9,1950.5 650.5,1947.9 651.0,1945.4 651.6,1944.2 652.2,1942.1 652.7,1937.7 653.3,1931.6 653.8,1925.8 654.4,1921.1 655.0,1918.1 655.5,1916.3 656.1,1912.5 656.6,1905.6 657.2,1900.5 657.8,1898.2 658.3,1896.6 658.9,1894.0 659.5,1894.8 660.0,1900.8 660.6,1900.6 661.1,1897.4 661.7,1892.3 662.3,1885.9 662.8,1880.8 663.4,1878.5 663.9,1875.0 664.5,1866.7 665.1,1859.2 665.6,1856.3 666.2,1859.1 666.7,1870.6 667.3,1870.4 667.9,1863.9 668.4,1850.4 669.0,1847.6 669.5,1848.3 670.1,1846.5 670.7,1842.4 671.2,1837.3 671.8,1832.3 672.4,1831.8 672.9,1836.3 673.5,1834.4 674.0,1828.8 674.6,1825.2 675.2,1823.4 675.7,1824.3 676.3,1825.2 676.8,1820.4 677.4,1806.1 678.0,1801.2 678.5,1801.8 679.1,1809.7 679.6,1810.5 680.2,1804.8 680.8,1798.2 681.3,1796.0 681.9,1795.2 682.4,1790.1 683.0,1785.4 683.6,1785.7 684.1,1789.7 684.7,1794.9 685.3,1797.0 685.8,1795.5 686.4,1812.4 686.9,1788.8 687.5,1790.9 688.1,1790.5 688.6,1783.9 689.2,1767.0 689.7,1782.2 690.3,1794.2 690.9,1797.2 691.4,1794.7 692.0,1781.8 692.5,1774.1 693.1,1773.0 693.7,1775.8 694.2,1784.9 694.8,1790.2 695.3,1790.4 695.9,1786.8 696.5,1778.6 697.0,1777.8 697.6,1780.2 698.1,1780.0 698.7,1778.6 699.3,1777.2 699.8,1777.3 700.4,1780.5 701.0,1782.5 701.5,1778.6 702.1,1772.7 702.6,1770.9 703.2,1774.7 703.8,1782.4 704.3,1783.7 704.9,1778.0 705.4,1768.3 706.0,1764.9 706.6,1765.1 707.1,1769.2 707.7,1776.5 708.2,1779.0 708.8,1772.5 709.4,1763.2 709.9,1762.7 710.5,1775.2 711.0,1780.1 711.6,1778.2 712.2,1772.1 712.7,1760.9 713.3,1759.2 713.9,1763.6 714.4,1762.5 715.0,1753.6 715.5,1748.9 716.1,1752.2 716.7,1755.9 717.2,1753.9 717.8,1751.3 718.3,1750.5 718.9,1741.2 719.5,1753.4 720.0,1751.5 720.6,1746.9 721.1,1749.8 721.7,1761.0 722.3,1768.7 722.8,1771.1 723.4,1765.3 723.9,1762.6 724.5,1764.0 725.1,1766.5 725.6,1774.3 726.2,1784.5 726.7,1787.2 727.3,1785.0 727.9,1781.1 728.4,1782.1 729.0,1785.0 729.6,1784.1 730.1,1781.9 730.7,1781.4 731.2,1782.2 731.8,1784.3 732.4,1789.0 732.9,1795.7 733.5,1798.2 734.0,1798.2 734.6,1793.3 735.2,1790.1 735.7,1794.1 736.3,1798.7 736.8,1801.7 737.4,1805.6 738.0,1811.2 738.5,1817.5 739.1,1820.3 739.6,1817.7 740.2,1817.3 740.8,1821.5 741.3,1828.4 741.9,1833.9 742.5,1841.5 743.0,1848.6 743.6,1851.2 744.1,1851.9 744.7,1846.5 745.3,1836.7 745.8,1835.2 746.4,1836.2 746.9,1838.3 747.5,1843.9 748.1,1854.4 748.6,1858.8 749.2,1858.7 749.7,1860.6 750.3,1864.3 750.9,1864.1 751.4,1860.6 752.0,1863.0 752.5,1870.5 753.1,1873.9 753.7,1874.6 754.2,1876.3 754.8,1878.2 755.4,1879.5 755.9,1878.9 756.5,1874.8 757.0,1870.4 757.6,1869.7 758.2,1872.0 758.7,1881.5 759.3,1894.0 759.8,1911.9 760.4,1897.6 761.0,1892.2 761.5,1883.5 762.1,1880.7 762.6,1881.9 763.2,1886.1 763.8,1888.5 764.3,1887.3 764.9,1888.5 765.4,1892.7 766.0,1895.1 766.6,1894.3 767.1,1889.1 767.7,1886.8 768.2,1890.8 768.8,1905.8 769.4,1917.5 769.9,1918.8 770.5,1912.1 771.1,1911.9 771.6,1921.7 772.2,1928.4 772.7,1929.8 773.3,1921.3 773.9,1911.2 774.4,1912.0 775.0,1916.7 775.5,1930.8 776.1,1940.1 776.7,1942.2 777.2,1941.8 777.8,1943.1 778.3,1946.2 778.9,1947.6 779.5,1948.9 780.0,1954.0 780.6,1961.0 781.1,1966.4 781.7,1976.4 782.3,1966.9 782.8,1959.3 783.4,1953.7 784.0,1952.3 784.5,1955.7 785.1,1972.4 785.6,1978.7 786.2,1978.8 786.8,1974.9 787.3,1965.1 787.9,1962.4 788.4,1961.6 789.0,1961.0 789.6,1965.5 790.1,1976.5 790.7,1992.4 791.2,1997.5 791.8,1999.1 792.4,2002.9 792.9,2002.5 793.5,1999.5 794.0,2002.2 794.6,2008.1 795.2,2010.1 795.7,2008.0 796.3,2003.0 796.8,1999.8 797.4,2007.4 798.0,2025.2 798.5,2039.8 799.1,2030.3 799.7,2016.7 800.2,2008.0 800.8,2011.8 801.3,2022.9 801.9,2024.3 802.5,2013.5 803.0,2008.8 803.6,2012.5 804.1,2022.5 804.7,2023.2 805.3,2015.3 805.8,2008.8 806.4,2008.7 806.9,2016.2 807.5,2024.7 808.1,2026.6 808.6,2023.8 809.2,2017.0 809.7,2012.3 810.3,2013.2 810.9,2015.0 811.4,2018.0 812.0,2027.0 812.6,2031.1 813.1,2027.1 813.7,2029.7 814.2,2037.2 814.8,2038.0 815.4,2032.4 815.9,2013.4 816.5,2015.0 817.0,2032.5 817.6,2057.5 818.2,2037.5 818.7,2028.1 819.3,2028.5 819.8,2032.9 820.4,2055.4 821.0,2067.5 821.5,2064.9 822.1,2049.7 822.6,2043.9 823.2,2049.9 823.8,2056.3 824.3,2051.9 824.9,2046.9 825.5,2053.2 826.0,2064.8 826.6,2063.9 827.1,2054.0 827.7,2050.9 828.3,2053.8 828.8,2058.2 829.4,2066.5 829.9,2075.7 830.5,2078.6 831.1,2073.3 831.6,2052.7 832.2,2050.7 832.7,2064.3 833.3,2095.1 833.9,2052.4 834.4,2048.9 835.0,2060.9 835.5,2082.2 836.1,2082.3 836.7,2064.3 837.2,2044.2 837.8,2053.5 838.3,2072.1 838.9,2065.3 839.5,2043.4 840.0,2042.1 840.6,2058.3 841.2,2074.4 841.7,2079.0 842.3,2098.8 842.8,2056.6 843.4,2060.2 844.0,2073.6 844.5,2069.7 845.1,2054.8 845.6,2049.5 846.2,2050.7 846.8,2052.1 847.3,2050.8 847.9,2047.9 848.4,2046.5 849.0,2048.0 849.6,2049.8 850.1,2054.9 850.7,2066.7 851.2,2070.8 851.8,2067.8 852.4,2053.9 852.9,2027.6 853.5,2025.9 854.1,2036.4 854.6,2042.9 855.2,2029.5 855.7,2025.6 856.3,2032.2 856.9,2035.9 857.4,2038.1 858.0,2048.0 858.5,2052.4 859.1,2048.8 859.7,2038.5 860.2,2029.3 860.8,2033.5 861.3,2044.9 861.9,2047.0 862.5,2038.1 863.0,2014.9 863.6,2002.5 864.1,2000.1 864.7,2002.6 865.3,2011.7 865.8,2020.5 866.4,2021.3 866.9,2018.3 867.5,2017.1 868.1,2014.4 868.6,2008.4 869.2,2001.1 869.8,1998.5 870.3,2009.3 870.9,2027.4 871.4,2031.9 872.0,2030.5 872.6,2024.9 873.1,2010.1 873.7,1996.5 874.2,1992.1 874.8,1984.3 875.4,1972.0 875.9,1967.2 876.5,1973.6 877.0,1992.2 877.6,1996.6 878.2,1989.9 878.7,1989.7 879.3,1999.3 879.8,2003.3 880.4,1997.7 881.0,1987.9 881.5,1975.1 882.1,1962.2 882.7,1957.8 883.2,1959.4 883.8,1975.1 884.3,2023.6 884.9,1995.3 885.5,1989.9 886.0,1971.9 886.6,1952.4 887.1,1951.2 887.7,1973.1 888.3,1989.9 888.8,1991.3 889.4,1987.2 889.9,1970.3 890.5,1953.6 891.1,1951.8 891.6,1954.7 892.2,1958.1 892.7,1963.8 893.3,1967.0 893.9,1962.5 894.4,1949.2 895.0,1937.9 895.6,1934.4 896.1,1930.2 896.7,1924.5 897.2,1924.8 897.8,1934.9 898.4,1944.9 898.9,1947.4 899.5,1945.7 900.0,1909.7 900.6,1946.2 901.2,1953.9 901.7,1957.1 902.3,1964.7 902.8,1970.6 903.4,1969.9 904.0,1956.4 904.5,1924.3 905.1,1917.8 905.6,1930.1 906.2,1931.9 906.8,1914.7 907.3,1905.7 907.9,1905.6 908.4,1917.2 909.0,1941.9 909.6,1975.7 910.1,1939.1 910.7,1936.1 911.3,1938.2 911.8,1920.1 912.4,1897.1 912.9,1908.4 913.5,1933.3 914.1,1940.4 914.6,1939.8 915.2,1945.9 915.7,1944.0 916.3,1922.2 916.9,1901.5 917.4,1896.5 918.0,1899.4 918.5,1914.7 919.1,1936.6 919.7,1947.7 920.2,1951.0 920.8,1942.3 921.3,1907.9 921.9,1895.0 922.5,1913.4 923.0,1941.9 923.6,1963.5 924.2,1942.2 924.7,1933.7 925.3,1908.7 925.8,1890.9 926.4,1891.6 927.0,1894.9 927.5,1891.6 928.1,1870.2 928.6,1885.5 929.2,1887.4 929.8,1892.9 930.3,1900.7 930.9,1906.3 931.4,1913.6 932.0,1930.4 932.6,1939.7 933.1,1932.7 933.7,1903.3 934.2,1891.5 934.8,1906.1 935.4,1930.3 935.9,1928.9 936.5,1919.2 937.0,1926.5 937.6,1932.0 938.2,1921.3 938.7,1908.7 939.3,1915.2 939.9,1938.8 940.4,1947.4 941.0,1932.0 941.5,1890.6 942.1,1887.3 942.7,1906.3 943.2,1934.0 943.8,1924.0 944.3,1899.4 944.9,1893.5 945.5,1907.5 946.0,1941.1 946.6,1950.6 947.1,1948.7 947.7,1941.5 948.3,1932.1 948.8,1917.6 949.4,1902.5 949.9,1900.6 950.5,1919.8 951.1,1944.9 951.6,1948.8 952.2,1938.6 952.8,1912.2 953.3,1895.1 953.9,1894.1 954.4,1909.5 955.0,1937.8 955.6,1967.2 956.1,1934.3 956.7,1929.9 957.2,1924.5 957.8,1906.8 958.4,1895.3 958.9,1898.6 959.5,1929.6 960.0,1947.7 960.6,1943.8 961.2,1935.0 961.7,1928.1 962.3,1916.4 962.8,1905.5 963.4,1906.3 964.0,1922.1 964.5,1938.5 965.1,1941.6 965.7,1935.8 966.2,1922.1 966.8,1909.4 967.3,1901.5 967.9,1897.0 968.5,1892.8 969.0,1879.8 969.6,1867.7 970.1,1867.5 970.7,1884.2 971.3,1891.4 971.8,1867.8 972.4,1857.0 972.9,1860.4 973.5,1889.4 974.1,1910.6 974.6,1912.0 975.2,1909.0 975.7,1910.1 976.3,1911.8 976.9,1906.2 977.4,1886.2 978.0,1872.5 978.5,1867.6 979.1,1857.5 979.7,1853.0 980.2,1863.4 980.8,1882.8 981.4,1886.6 981.9,1886.4 982.5,1893.4 983.0,1894.0 983.6,1877.4 984.2,1852.5 984.7,1842.4 985.3,1841.1 985.8,1847.3 986.4,1858.5 987.0,1862.6 987.5,1867.4 988.1,1876.7 988.6,1873.2 989.2,1859.2 989.8,1862.2 990.3,1875.7 990.9,1868.6 991.4,1846.5 992.0,1846.3 992.6,1879.0 993.1,1893.4 993.7,1892.2 994.3,1875.7 994.8,1841.1 995.4,1831.2 995.9,1837.9 996.5,1860.9 997.1,1876.1 997.6,1873.3 998.2,1842.4 998.7,1821.3 999.3,1821.3 999.9,1848.2 1000.4,1899.0 1001.0,1866.9 1001.5,1852.1 1002.1,1843.8 1002.7,1841.9 1003.2,1845.2 1003.8,1850.0 1004.3,1845.2 1004.9,1827.7 1005.5,1785.4 1006.0,1823.6 1006.6,1847.7 1007.1,1862.8 1007.7,1864.6 1008.3,1860.6 1008.8,1856.1 1009.4,1855.2 1010.0,1848.7 1010.5,1821.9 1011.1,1802.3 1011.6,1799.1 1012.2,1800.7 1012.8,1807.5 1013.3,1820.6 1013.9,1832.0 1014.4,1831.2 1015.0,1827.6 1015.6,1834.8 1016.1,1845.2 1016.7,1844.8 1017.2,1833.5 1017.8,1831.5 1018.4,1848.1 1018.9,1853.7 1019.5,1844.6 1020.0,1810.7 1020.6,1794.2 1021.2,1798.4 1021.7,1811.9 1022.3,1804.0 1022.9,1785.0 1023.4,1779.9 1024.0,1792.5 1024.5,1817.3 1025.1,1831.7 1025.7,1835.1 1026.2,1832.5 1026.8,1822.3 1027.3,1812.7 1027.9,1817.7 1028.5,1817.9 1029.0,1792.1 1029.6,1780.5 1030.1,1781.6 1030.7,1802.8 1031.3,1838.9 1031.8,1840.1 1032.4,1823.3 1032.9,1815.8 1033.5,1816.7 1034.1,1807.9 1034.6,1805.9 1035.2,1824.1 1035.8,1840.1 1036.3,1836.2 1036.9,1818.3 1037.4,1815.7 1038.0,1842.2 1038.6,1867.7 1039.1,1845.9 1039.7,1811.4 1040.2,1809.2 1040.8,1838.7 1041.4,1853.9 1041.9,1849.5 1042.5,1838.2 1043.0,1831.7 1043.6,1826.4 1044.2,1817.9 1044.7,1806.7 1045.3,1800.9 1045.8,1800.7 1046.4,1803.7 1047.0,1815.0 1047.5,1843.0 1048.1,1856.5 1048.6,1847.4 1049.2,1824.7 1049.8,1828.9 1050.3,1856.3 1050.9,1865.0 1051.5,1860.1 1052.0,1839.2 1052.6,1821.6 1053.1,1815.4 1053.7,1817.3 1054.3,1838.9 1054.8,1861.6 1055.4,1856.5 1055.9,1830.7 1056.5,1826.9 1057.1,1844.1 1057.6,1873.2 1058.2,1850.6 1058.7,1840.3 1059.3,1841.0 1059.9,1854.7 1060.4,1848.7 1061.0,1817.2 1061.5,1814.0 1062.1,1822.7 1062.7,1876.0 1063.2,1883.6 1063.8,1872.1 1064.4,1840.5 1064.9,1842.6 1065.5,1872.0 1066.0,1884.4 1066.6,1879.2 1067.2,1858.4 1067.7,1845.3 1068.3,1847.3 1068.8,1862.3 1069.4,1880.1 1070.0,1886.5 1070.5,1880.2 1071.1,1864.1 1071.6,1864.5 1072.2,1880.9 1072.8,1876.8 1073.3,1847.6 1073.9,1839.6 1074.4,1845.8 1075.0,1849.9 1075.6,1844.3 1076.1,1841.0 1076.7,1843.2 1077.2,1855.9 1077.8,1881.1 1078.4,1894.9 1078.9,1896.9 1079.5,1896.3 1080.1,1897.9 1080.6,1896.1 1081.2,1881.1 1081.7,1863.9 1082.3,1839.6 1082.9,1867.2 1083.4,1877.5 1084.0,1906.4 1084.5,1890.7 1085.1,1863.6 1085.7,1848.8 1086.2,1852.3 1086.8,1889.8 1087.3,1909.9 1087.9,1905.0 1088.5,1882.4 1089.0,1872.9 1089.6,1885.7 1090.1,1899.6 1090.7,1901.3 1091.3,1897.9 1091.8,1896.5 1092.4,1895.1 1093.0,1889.6 1093.5,1877.5 1094.1,1861.4 1094.6,1855.0 1095.2,1857.3 1095.8,1881.1 1096.3,1906.6 1096.9,1893.4 1097.4,1870.0 1098.0,1871.4 1098.6,1892.5 1099.1,1908.9 1099.7,1914.1 1100.2,1919.0 1100.8,1923.0 1101.4,1923.8 1101.9,1921.2 1102.5,1909.7 1103.0,1883.6 1103.6,1871.3 1104.2,1874.0 1104.7,1877.8 1105.3,1874.5 1105.9,1877.5 1106.4,1897.3 1107.0,1910.3 1107.5,1895.0 1108.1,1875.6 1108.7,1878.8 1109.2,1900.1 1109.8,1919.3 1110.3,1924.2 1110.9,1922.4 1111.5,1916.0 1112.0,1896.1 1112.6,1883.7 1113.1,1891.6 1113.7,1928.3 1114.3,1944.4 1114.8,1942.4 1115.4,1922.9 1115.9,1904.0 1116.5,1909.2 1117.1,1926.4 1117.6,1921.0 1118.2,1904.8 1118.7,1916.4 1119.3,1952.4 1119.9,1957.3 1120.4,1926.6 1121.0,1900.1 1121.6,1905.8 1122.1,1937.8 1122.7,1969.0 1123.2,1945.8 1123.8,1938.6 1124.4,1923.4 1124.9,1908.6 1125.5,1906.0 1126.0,1913.1 1126.6,1936.9 1127.2,1956.1 1127.7,1957.8 1128.3,1948.0 1128.8,1919.6 1129.4,1907.8 1130.0,1903.0 1130.5,1898.7 1131.1,1905.5 1131.6,1928.2 1132.2,1958.0 1132.8,1914.4 1133.3,1908.0 1133.9,1918.2 1134.5,1926.7 1135.0,1918.5 1135.6,1902.2 1136.1,1896.2 1136.7,1906.1 1137.3,1944.5 1137.8,1956.2 1138.4,1955.8 1138.9,1947.8 1139.5,1921.1 1140.1,1910.3 1140.6,1922.3 1141.2,1927.4 1141.7,1911.3 1142.3,1900.2 1142.9,1911.4 1143.4,1933.6 1144.0,1938.3 1144.5,1925.3 1145.1,1905.8 1145.7,1892.3 1146.2,1901.3 1146.8,1907.0 1147.3,1914.1 1147.9,1915.3 1148.5,1913.5 1149.0,1923.1 1149.6,1951.1 1150.2,1965.0 1150.7,1964.7 1151.3,1969.3 1151.8,1978.7 1152.4,1980.2 1153.0,1957.7 1153.5,1926.6 1154.1,1928.4 1154.6,1950.2 1155.2,1963.2 1155.8,1948.1 1156.3,1935.3 1156.9,1938.7 1157.4,1945.8 1158.0,1948.0 1158.6,1958.4 1159.1,1972.7 1159.7,1972.8 1160.2,1956.2 1160.8,1944.4 1161.4,1958.1 1161.9,1973.5 1162.5,1975.3 1163.1,1972.1 1163.6,1965.4 1164.2,1934.4 1164.7,1912.0 1165.3,1910.1 1165.9,1917.2 1166.4,1947.4 1167.0,1948.1 1167.5,1923.7 1168.1,1917.0 1168.7,1935.9 1169.2,1960.3 1169.8,2011.4 1170.3,1955.9 1170.9,1959.6 1171.5,1964.4 1172.0,1959.1 1172.6,1940.9 1173.1,1931.4 1173.7,1932.7 1174.3,1925.2 1174.8,1913.4 1175.4,1920.6 1176.0,1928.4 1176.5,1934.3 1177.1,1932.2 1177.6,1915.2 1178.2,1903.8 1178.8,1906.1 1179.3,1929.3 1179.9,1959.8 1180.4,1965.4 1181.0,1958.9 1181.6,1955.2 1182.1,1964.3 1182.7,1967.0 1183.2,1904.5 1183.8,1927.3 1184.4,1923.0 1184.9,1928.1 1185.5,1923.1 1186.0,1914.3 1186.6,1917.1 1187.2,1952.0 1187.7,1976.3 1188.3,1970.9 1188.8,1930.8 1189.4,1918.4 1190.0,1932.5 1190.5,1958.0 1191.1,1955.3 1191.7,1931.8 1192.2,1923.6 1192.8,1935.1 1193.3,1969.2 1193.9,1984.5 1194.5,1981.6 1195.0,1955.5 1195.6,1941.4 1196.1,1957.4 1196.7,1977.6 1197.3,1984.8 1197.8,1984.4 1198.4,1969.4 1198.9,1942.5 1199.5,1936.7 1200.1,1947.4 1200.6,1959.7 1201.2,1962.6 1201.7,1974.2 1202.3,1987.3 1202.9,1983.9 1203.4,1963.8 1204.0,1945.8 1204.6,1940.2 1205.1,1942.1 1205.7,1949.1 1206.2,1960.1 1206.8,1980.6 1207.4,2001.3 1207.9,2007.3 1208.5,2005.7 1209.0,1998.6 1209.6,1985.7 1210.2,1981.8 1210.7,1999.5 1211.3,2012.2 1211.8,2003.4 1212.4,1961.8 1213.0,1950.6 1213.5,1954.9 1214.1,1984.1 1214.6,2009.9 1215.2,2010.8 1215.8,2008.5 1216.3,2006.7 1216.9,1986.1 1217.4,1964.1 1218.0,1963.1 1218.6,1979.6 1219.1,2008.2 1219.7,2042.8 1220.3,2020.2 1220.8,2010.0 1221.4,2006.4 1221.9,2009.7 1222.5,1997.4 1223.1,1985.5 1223.6,1997.4 1224.2,2009.7 1224.7,1992.4 1225.3,1982.0 1225.9,1994.9 1226.4,2009.8 1227.0,1996.9 1227.5,1984.7 1228.1,1994.7 1228.7,2034.9 1229.2,2049.6 1229.8,2063.1 1230.3,2042.4 1230.9,2001.8 1231.5,1980.1 1232.0,1978.7 1232.6,1989.1 1233.2,2019.1 1233.7,2038.3 1234.3,2038.7 1234.8,2021.6 1235.4,1999.6 1236.0,2003.0 1236.5,2022.2 1237.1,2024.5 1237.6,2004.3 1238.2,1988.9 1238.8,1988.9 1239.3,1990.7 1239.9,1991.3 1240.4,2006.5 1241.0,2025.4 1241.6,2013.4 1242.1,1985.7 1242.7,1986.0 1243.2,2022.0 1243.8,2024.3 1244.4,2042.0 1244.9,2034.3 1245.5,2021.0 1246.1,1996.0 1246.6,1979.6 1247.2,1980.3 1247.7,1994.5 1248.3,2010.1 1248.9,2020.5 1249.4,2025.1 1250.0,2009.4 1250.5,1988.9 1251.1,2007.4 1251.7,2043.3 1252.2,2046.0 1252.8,2025.5 1253.3,1976.4 1253.9,1968.9 1254.5,1971.6 1255.0,1992.9 1255.6,2031.7 1256.1,2036.1 1256.7,1999.2 1257.3,1972.9 1257.8,1982.6 1258.4,2008.7 1258.9,2080.4 1259.5,1991.1 1260.1,1982.8 1260.6,1988.7 1261.2,2015.5 1261.8,2047.8 1262.3,2053.4 1262.9,2027.9 1263.4,1993.5 1264.0,2001.2 1264.6,2044.5 1265.1,2065.5 1265.7,2059.2 1266.2,2020.2 1266.8,1980.7 1267.4,1980.0 1267.9,1993.5 1268.5,1987.0 1269.0,1959.4 1269.6,1937.7 1270.2,1932.5 1270.7,1941.3 1271.3,1957.4 1271.8,1969.7 1272.4,1993.4 1273.0,2073.4 1273.5,2047.0 1274.1,2043.8 1274.7,2025.4 1275.2,2005.2 1275.8,1986.7 1276.3,1953.2 1276.9,1924.0 1277.5,1914.2 1278.0,1926.8 1278.6,1982.2 1279.1,2011.3 1279.7,1983.3 1280.3,1932.3 1280.8,1842.6 1281.4,1971.9 1281.9,2015.1 1282.5,2020.2 1283.1,1997.9 1283.6,1923.1 1284.2,1887.9 1284.7,1888.3 1285.3,1908.2 1285.9,1930.4 1286.4,1935.0 1287.0,1916.5 1287.5,1822.3 1288.1,1894.3 1288.7,1928.6 1289.2,1967.5 1289.8,1979.6 1290.4,1969.2 1290.9,1910.9 1291.5,1866.0 1292.0,1870.8 1292.6,1925.2 1293.2,1976.5 1293.7,1986.0 1294.3,1968.1 1294.8,1919.9 1295.4,1842.6 1296.0,1915.7 1296.5,1978.7 1297.1,1996.5 1297.6,1952.2 1298.2,1891.3 1298.8,1892.0 1299.3,1947.8 1299.9,1997.1 1300.4,2067.5 1301.0,1993.9 1301.6,1978.6 1302.1,1947.5 1302.7,1930.6 1303.3,1918.9 1303.8,1900.0 1304.4,1905.0 1304.9,1972.3 1305.5,2006.1 1306.1,1983.1 1306.6,1943.5 1307.2,1961.9 1307.7,1990.1 1308.3,1987.9 1308.9,1946.9 1309.4,1890.4 1310.0,1877.1 1310.5,1892.3 1311.1,1912.1 1311.7,1890.9 1312.2,1870.3 1312.8,1870.0 1313.3,1899.8 1313.9,1966.8 1314.5,1990.5 1315.0,1989.6 1315.6,1976.2 1316.2,1932.4 1316.7,1878.8 1317.3,1873.5 1317.8,1918.6 1318.4,1954.5 1319.0,1944.1 1319.5,1889.2 1320.1,1818.6 1320.6,1862.0 1321.2,1897.7 1321.8,1922.5 1322.3,1923.6 1322.9,1915.9 1323.4,1919.7 1324.0,2020.7 1324.6,1875.6 1325.1,1831.5 1325.7,1837.5 1326.2,1890.3 1326.8,1891.8 1327.4,1827.3 1327.9,1780.6 1328.5,1857.1 1329.0,1926.0 1329.6,1930.0 1330.2,1898.8 1330.7,1854.5 1331.3,1859.8 1331.9,1899.0 1332.4,1890.5 1333.0,1819.2 1333.5,1802.5 1334.1,1743.0 1334.7,1901.3 1335.2,1927.8 1335.8,1919.3 1336.3,2005.9 1336.9,1870.1 1337.5,1877.3 1338.0,1873.2 1338.6,1841.7 1339.1,1822.1 1339.7,1829.4 1340.3,1855.2 1340.8,1857.6 1341.4,1839.0 1341.9,1848.6 1342.5,1914.2 1343.1,1951.0 1343.6,1954.8 1344.2,1945.0 1344.8,1920.7 1345.3,1891.5 1345.9,1846.5 1346.4,1808.7 1347.0,1835.9 1347.6,1883.6 1348.1,1918.4 1348.7,1914.4 1349.2,1918.5 1349.8,1927.0 1350.4,1902.1 1350.9,1862.9 1351.5,1861.7 1352.0,1910.2 1352.6,1953.7 1353.2,1936.5 1353.7,1873.7 1354.3,1861.6 1354.8,1916.4 1355.4,1993.0 1356.0,1955.4 1356.5,1878.5 1357.1,1835.9 1357.6,1836.6 1358.2,1852.8 1358.8,1765.2 1359.3,1920.5 1359.9,1926.9 1360.5,1902.6 1361.0,1891.9 1361.6,1915.0 1362.1,1920.3 1362.7,1900.0 1363.3,1876.2 1363.8,1868.6 1364.4,1861.5 1364.9,1856.0 1365.5,1855.4 1366.1,1849.2 1366.6,1823.7 1367.2,1786.1 1367.7,1771.1 1368.3,1731.2 1368.9,1785.8 1369.4,1849.3 1370.0,1862.3 1370.5,1826.8 1371.1,1848.0 1371.7,1912.1 1372.2,1923.8 1372.8,1910.3 1373.4,1884.1 1373.9,1889.6 1374.5,1893.8 1375.0,1883.5 1375.6,1872.8 1376.2,1860.2 1376.7,1851.8 1377.3,1842.7 1377.8,1779.9 1378.4,1824.8 1379.0,1877.7 1379.5,2095.1 1380.1,1925.2 1380.6,1920.4 1381.2,1908.8 1381.8,1860.5 1382.3,1845.6 1382.9,1897.7 1383.4,1933.3 1384.0,1895.3 1384.6,1833.0 1385.1,1820.7 1385.7,1845.7 1386.3,1926.4 1386.8,1941.9 1387.4,1916.4 1387.9,1864.2 1388.5,1854.4 1389.1,1857.4 1389.6,1848.1 1390.2,1838.4 1390.7,1821.3 1391.3,1801.1 1391.9,1796.2 1392.4,1754.1 1393.0,1890.3 1393.5,1913.7 1394.1,1903.4 1394.7,1872.6 1395.2,1867.4 1395.8,1969.8 1396.3,1873.5 1396.9,1822.0 1397.5,1790.0 1398.0,1811.7 1398.6,1859.4 1399.1,1859.7 1399.7,1827.7 1400.3,1825.5 1400.8,1872.0 1401.4,1893.7 1402.0,1874.3 1402.5,1720.2 1403.1,1751.1 1403.6,1759.7 1404.2,1841.5 1404.8,1867.1 1405.3,1831.0 1405.9,1805.6 1406.4,1811.3 1407.0,1796.6 1407.6,1746.7 1408.1,1773.0 1408.7,1811.8 1409.2,1854.8 1409.8,1860.9 1410.4,1823.4 1410.9,1780.5 1411.5,1810.2 1412.0,1868.8 1412.6,1873.1 1413.2,1817.3 1413.7,1677.4 1414.3,1749.4 1414.9,1801.4 1415.4,1855.9 1416.0,1837.0 1416.5,1813.9 1417.1,1860.3 1417.7,1888.7 1418.2,1881.4 1418.8,1838.3 1419.3,1810.7 1419.9,1765.2 1420.5,1820.0 1421.0,1822.5 1421.6,1797.8 1422.1,1785.8 1422.7,1824.2 1423.3,1881.9 1423.8,1859.6 1424.4,1791.7 1424.9,1784.0 1425.5,1812.5 1426.1,1861.4 1426.6,1885.6 1427.2,1900.8 1427.7,1908.4 1428.3,1892.8 1428.9,1846.7 1429.4,1786.5 1430.0,1886.1 1430.6,1914.5 1431.1,1900.7 1431.7,1850.8 1432.2,1811.8 1432.8,1800.5 1433.4,1802.6 1433.9,1838.0 1434.5,1926.0 1435.0,1937.7 1435.6,1904.1 1436.2,1869.1 1436.7,1898.6 1437.3,1938.2 1437.8,2017.0 1438.4,1910.2 1439.0,1871.3 1439.5,1879.4 1440.1,1905.6 1440.6,1897.3 1441.2,1878.2 1441.8,1899.5 1442.3,1908.8 1442.9,1849.0 1443.5,1801.9 1444.0,1816.8 1444.6,1803.0 1445.1,1856.1 1445.7,1892.5 1446.3,1861.8 1446.8,1800.2 1447.4,1810.6 1447.9,1846.1 1448.5,1859.5 1449.1,1840.5 1449.6,1836.3 1450.2,1855.4 1450.7,1852.9 1451.3,1826.1 1451.9,1830.4 1452.4,1879.2 1453.0,1909.6 1453.5,1912.0 1454.1,1877.5 1454.7,1796.5 1455.2,1819.3 1455.8,1881.6 1456.4,1913.7 1456.9,1897.1 1457.5,1845.9 1458.0,1828.0 1458.6,1850.9 1459.2,1905.9 1459.7,1930.1 1460.3,1919.7 1460.8,1885.9 1461.4,1856.3 1462.0,1817.6 1462.5,1808.4 1463.1,1810.7 1463.6,1831.9 1464.2,1910.0 1464.8,1969.0 1465.3,1924.9 1465.9,1905.6 1466.4,1835.2 1467.0,1895.7 1467.6,1900.4 1468.1,1897.4 1468.7,1891.9 1469.2,1897.7 1469.8,1907.0 1470.4,1905.5 1470.9,1898.5 1471.5,1899.8 1472.1,1904.4 1472.6,1891.2 1473.2,1861.8 1473.7,1868.6 1474.3,1899.9 1474.9,1888.1 1475.4,1805.0 1476.0,1818.6 1476.5,1856.5 1477.1,1850.2 1477.7,1796.7 1478.2,1779.2 1478.8,1792.0 1479.3,1845.4 1479.9,1972.7 1480.5,1926.2 1481.0,1865.4 1481.6,1830.3 1482.1,1851.4 1482.7,1887.8 1483.3,1904.3 1483.8,1912.2 1484.4,1922.8 1485.0,1937.6 1485.5,1944.5 1486.1,1937.3 1486.6,1919.5 1487.2,1901.2 1487.8,1831.5 1488.3,1877.7 1488.9,1888.0 1489.4,1886.4 1490.0,1878.4 1490.6,1886.6 1491.1,1927.8 1491.7,1976.1 1492.2,1985.6 1492.8,1970.7 1493.4,1951.4 1493.9,1918.3 1494.5,1901.3 1495.0,1935.7 1495.6,2006.6 1496.2,2003.7 1496.7,1939.9 1497.3,1920.7 1497.8,1933.6 1498.4,1974.5 1499.0,2022.2 1499.5,2068.6 1500.1,2000.8 1500.7,1961.3 1501.2,1967.4 1501.8,1985.4 1502.3,1959.4 1502.9,1916.2 1503.5,1921.8 1504.0,1917.8 1504.6,1985.0 1505.1,2030.8 1505.7,2036.8 1506.3,2031.4 1506.8,2014.5 1507.4,1990.0 1507.9,1961.2 1508.5,1930.7 1509.1,1924.3 1509.6,1944.9 1510.2,1962.7 1510.7,1946.3 1511.3,1915.8 1511.9,1912.7 1512.4,1973.6 1513.0,2026.1 1513.6,2103.6 1514.1,1996.4 1514.7,1956.9 1515.2,1959.0 1515.8,1965.0 1516.4,1942.6 1516.9,1908.0 1517.5,1877.6 1518.0,1900.3 1518.6,1901.8 1519.2,1913.3 1519.7,1955.4 1520.3,1995.3 1520.8,2002.2 1521.4,1983.2 1522.0,1951.4 1522.5,1945.5 1523.1,1960.8 1523.6,1956.1 1524.2,1917.3 1524.8,1866.5 1525.3,1915.3 1525.9,1997.0 1526.5,2079.6 1527.0,2025.7 1527.6,1971.6 1528.1,1995.0 1528.7,2052.3 1529.3,2059.6 1529.8,1996.8 1530.4,1941.6 1530.9,1943.6 1531.5,1976.8 1532.1,2020.8 1532.6,1995.5 1533.2,1984.4 1533.7,2049.2 1534.3,2087.8 1534.9,2085.0 1535.4,2036.3 1536.0,1990.9 1536.5,1995.3 1537.1,2005.0 1537.7,2006.8 1538.2,2012.5 1538.8,2035.6 1539.3,2058.0 1539.9,2027.9 1540.5,1976.8 1541.0,1986.6 1541.6,2056.0 1542.2,2053.8 1542.7,2040.8 1543.3,2030.8 1543.8,2046.8 1544.4,2023.1 1545.0,1984.7 1545.5,1982.8 1546.1,2015.5 1546.6,2065.1 1547.2,2074.0 1547.8,2044.0 1548.3,2033.5 1548.9,2077.5 1549.4,2094.5 1550.0,2071.8 1550.6,1998.1 1551.1,1983.6 1551.7,2007.7 1552.2,2067.1 1552.8,2072.5 1553.4,2022.0 1553.9,1997.4 1554.5,2014.5 1555.1,2044.9 1555.6,2062.2 1556.2,2084.9 1556.7,2102.5 1557.3,2077.3 1557.9,2057.0 1558.4,2036.0 1559.0,2001.1 1559.5,1985.9 1560.1,1986.9 1560.7,2004.2 1561.2,2052.3 1561.8,2079.2 1562.3,2075.6 1562.9,2033.5 1563.5,1980.8 1564.0,1944.0 1564.6,1988.9 1565.1,2031.1 1565.7,2042.2 1566.3,2011.3 1566.8,1979.0 1567.4,1988.5 1567.9,2027.6 1568.5,2038.6 1569.1,2026.7 1569.6,2015.9 1570.2,2022.7 1570.8,2034.0 1571.3,2031.7 1571.9,1998.8 1572.4,1952.6 1573.0,1948.8 1573.6,1944.3 1574.1,1971.3 1574.7,2017.3 1575.2,2090.7 1575.8,2030.3 1576.4,2006.9 1576.9,1962.9 1577.5,1949.7 1578.0,1960.3 1578.6,1990.8 1579.2,2006.8 1579.7,1990.3 1580.3,1967.6 1580.8,1972.4 1581.4,1976.1 1582.0,1960.3 1582.5,1944.0 1583.1,1941.8 1583.7,1966.6 1584.2,1997.2 1584.8,1989.2 1585.3,1952.8 1585.9,1941.4 1586.5,1939.9 1587.0,1930.3 1587.6,1935.4 1588.1,1974.4 1588.7,1996.6 1589.3,1993.9 1589.8,1983.3 1590.4,1977.1 1590.9,1974.2 1591.5,1973.0 1592.1,1968.6 1592.6,1943.6 1593.2,1917.0 1593.7,1851.1 1594.3,1919.2 1594.9,1950.4 1595.4,1981.9 1596.0,1992.8 1596.6,1990.0 1597.1,1964.5 1597.7,1936.0 1598.2,1935.3 1598.8,1942.5 1599.4,1953.8 1599.9,1968.3 1600.5,1968.7 1601.0,1943.4 1601.6,1913.3 1602.2,1905.0 1602.7,1910.1 1603.3,1941.2 1603.8,1972.0 1604.4,2017.0 1605.0,1968.0 1605.5,1966.4 1606.1,1959.7 1606.6,1933.8 1607.2,1853.6 1607.8,1921.5 1608.3,1930.0 1608.9,1914.7 1609.4,1899.6 1610.0,1901.4 1610.6,1930.0 1611.1,1959.4 1611.7,1951.5 1612.3,1912.9 1612.8,1900.5 1613.4,1929.1 1613.9,1967.8 1614.5,1971.4 1615.1,1961.3 1615.6,1942.4 1616.2,1936.9 1616.7,1929.0 1617.3,1907.3 1617.9,1893.7 1618.4,1898.5 1619.0,1924.9 1619.5,1944.0 1620.1,1935.2 1620.7,1899.1 1621.2,1872.1 1621.8,1878.7 1622.3,1893.5 1622.9,1930.6 1623.5,1951.7 1624.0,1953.8 1624.6,1939.6 1625.2,1902.3 1625.7,1885.8 1626.3,1891.4 1626.8,1911.9 1627.4,1921.3 1628.0,1905.1 1628.5,1892.3 1629.1,1909.1 1629.6,1936.4 1630.2,1944.7 1630.8,1942.6 1631.3,1927.4 1631.9,1895.8 1632.4,1878.4 1633.0,1879.7 1633.6,1886.8 1634.1,1881.6 1634.7,1868.7 1635.2,1838.9 1635.8,1870.1 1636.4,1873.5 1636.9,1870.3 1637.5,1885.4 1638.0,1922.2 1638.6,1931.0 1639.2,1923.6 1639.7,1915.0 1640.3,1903.4 1640.9,1868.0 1641.4,1853.7 1642.0,1865.1 1642.5,1909.6 1643.1,1920.5 1643.7,1910.2 1644.2,1899.8 1644.8,1892.8 1645.3,1880.8 1645.9,1874.0 1646.5,1882.1 1647.0,1901.2 1647.6,1918.1 1648.1,1925.4 1648.7,1925.0 1649.3,1915.3 1649.8,1886.5 1650.4,1856.5 1650.9,1849.6 1651.5,1856.0 1652.1,1857.4 1652.6,1847.6 1653.2,1848.4 1653.8,1811.2 1654.3,1895.1 1654.9,1901.5 1655.4,1892.9 1656.0,1875.6 1656.6,1870.1 1657.1,1874.1 1657.7,1874.4 1658.2,1873.5 1658.8,1871.6 1659.4,1862.1 1659.9,1856.2 1660.5,1871.6 1661.0,1891.1 1661.6,1893.0 1662.2,1876.0 1662.7,1830.5 1663.3,1810.4 1663.8,1814.9 1664.4,1810.0 1665.0,1859.7 1665.5,1888.0 1666.1,1883.6 1666.7,1858.2 1667.2,1839.8 1667.8,1847.3 1668.3,1866.8 1668.9,1910.1 1669.5,1871.2 1670.0,1845.8 1670.6,1825.4 1671.1,1838.4 1671.7,1867.1 1672.3,1865.6 1672.8,1838.7 1673.4,1805.7 1673.9,1850.9 1674.5,1858.0 1675.1,1827.5 1675.6,1807.6 1676.2,1813.1 1676.7,1839.9 1677.3,1848.7 1677.9,1841.6 1678.4,1844.3 1679.0,1860.9 1679.5,1876.6 1680.1,1880.3 1680.7,1866.1 1681.2,1806.1 1681.8,1757.8 1682.4,1808.1 1682.9,1858.2 1683.5,1855.1 1684.0,1811.2 1684.6,1801.9 1685.2,1828.1 1685.7,1908.2 1686.3,1847.7 1686.8,1815.1 1687.4,1821.5 1688.0,1852.5 1688.5,1850.5 1689.1,1820.8 1689.6,1803.9 1690.2,1835.6 1690.8,1843.0 1691.3,1831.4 1691.9,1820.3 1692.4,1828.0 1693.0,1847.0 1693.6,1855.6 1694.1,1854.1 1694.7,1841.7 1695.3,1809.9 1695.8,1785.9 1696.4,1775.5 1696.9,1782.5 1697.5,1797.8 1698.1,1822.7 1698.6,1820.6 1699.2,1809.0 1699.7,1833.3 1700.3,1858.1 1700.9,1859.0 1701.4,1833.6 1702.0,1801.3 1702.5,1814.6 1703.1,1835.4 1703.7,1823.8 1704.2,1797.6 1704.8,1806.4 1705.3,1820.1 1705.9,1924.8 1706.5,1808.7 1707.0,1796.0 1707.6,1791.7 1708.1,1795.9 1708.7,1809.1 1709.3,1824.8 1709.8,1841.8 1710.4,1855.9 1711.0,1861.6 1711.5,1863.2 1712.1,1863.7 1712.6,1857.3 1713.2,1820.3 1713.8,1800.1 1714.3,1815.7 1714.9,1853.4 1715.4,1852.2 1716.0,1820.6 1716.6,1807.9 1717.1,1820.2 1717.7,1836.4 1718.2,1827.8 1718.8,1812.8 1719.4,1813.7 1719.9,1828.1 1720.5,1839.1 1721.0,1835.1 1721.6,1826.6 1722.2,1833.1 1722.7,1854.0 1723.3,1887.9 1723.9,1857.7 1724.4,1829.3 1725.0,1809.4 1725.5,1805.0 1726.1,1802.4 1726.7,1804.3 1727.2,1821.1 1727.8,1848.6 1728.3,1858.3 1728.9,1856.1 1729.5,1840.1 1730.0,1818.0 1730.6,1794.7 1731.1,1820.4 1731.7,1848.0 1732.3,1861.8 1732.8,1860.1 1733.4,1845.5 1733.9,1828.7 1734.5,1823.9 1735.1,1827.0 1735.6,1835.5 1736.2,1852.6 1736.8,1868.3 1737.3,1872.9 1737.9,1869.9 1738.4,1859.5 1739.0,1838.1 1739.6,1820.9 1740.1,1805.7 1740.7,1833.5 1741.2,1874.6 1741.8,1875.7 1742.4,1841.8 1742.9,1830.0 1743.5,1846.1 1744.0,1881.7 1744.6,1913.7 1745.2,1873.7 1745.7,1853.6 1746.3,1857.3 1746.8,1872.1 1747.4,1872.3 1748.0,1865.2 1748.5,1869.4 1749.1,1869.9 1749.6,1852.7 1750.2,1844.1 1750.8,1849.5 1751.3,1864.6 1751.9,1881.5 1752.5,1890.6 1753.0,1893.3 1753.6,1894.9 1754.1,1891.1 1754.7,1869.9 1755.3,1850.0 1755.8,1847.1 1756.4,1855.5 1756.9,1884.7 1757.5,1905.0 1758.1,1906.7 1758.6,1889.2 1759.2,1858.8 1759.7,1857.4 1760.3,1876.7 1760.9,1896.1 1761.4,1935.9 1762.0,1891.4 1762.5,1875.8 1763.1,1862.4 1763.7,1827.8 1764.2,1861.4 1764.8,1879.4 1765.4,1904.2 1765.9,1909.1 1766.5,1892.1 1767.0,1868.0 1767.6,1869.8 1768.2,1888.0 1768.7,1891.8 1769.3,1884.7 1769.8,1892.0 1770.4,1905.6 1771.0,1901.7 1771.5,1875.5 1772.1,1866.6 1772.6,1893.1 1773.2,1922.5 1773.8,1924.0 1774.3,1907.5 1774.9,1871.7 1775.4,1824.1 1776.0,1870.3 1776.6,1880.9 1777.1,1901.5 1777.7,1915.5 1778.2,1913.6 1778.8,1894.0 1779.4,1877.1 1779.9,1875.8 1780.5,1880.6 1781.1,1882.2 1781.6,1882.5 1782.2,1894.1 1782.7,1919.1 1783.3,1931.0 1783.9,1965.4 1784.4,1931.6 1785.0,1926.1 1785.5,1909.8 1786.1,1892.2 1786.7,1888.5 1787.2,1891.6 1787.8,1895.5 1788.3,1899.6 1788.9,1907.0 1789.5,1916.7 1790.0,1926.0 1790.6,1931.5 1791.1,1922.1 1791.7,1910.6 1792.3,1929.5 1792.8,1972.7 1793.4,1945.7 1794.0,1918.3 1794.5,1932.6 1795.1,1958.5 1795.6,1955.1 1796.2,1930.2 1796.8,1930.8 1797.3,1946.4 1797.9,1945.4 1798.4,1931.4 1799.0,1921.8 1799.6,1919.3 1800.1,1928.7 1800.7,1960.6 1801.2,1968.6 1801.8,1940.5 1802.4,1924.0 1802.9,1928.0 1803.5,1944.4 1804.0,1959.9 1804.6,1987.5 1805.2,1953.8 1805.7,1947.0 1806.3,1958.0 1806.9,1983.8 1807.4,1992.1 1808.0,1988.3 1808.5,1961.1 1809.1,1950.9 1809.7,1968.6 1810.2,1985.9 1810.8,1988.5 1811.3,1983.2 1811.9,1966.2 1812.5,1949.7 1813.0,1948.5 1813.6,1962.0 1814.1,1990.9 1814.7,2002.0 1815.3,1994.7 1815.8,1966.4 1816.4,1956.6 1816.9,1964.0 1817.5,1991.6 1818.1,2006.4 1818.6,1996.3 1819.2,1972.4 1819.7,1971.0 1820.3,1989.0 1820.9,2006.6 1821.4,2013.0 1822.0,2011.4 1822.6,1998.4 1823.1,1981.2 1823.7,1977.4 1824.2,1981.0 1824.8,1974.5 1825.4,1964.7 1825.9,1965.0 1826.5,1988.3 1827.0,2017.8 1827.6,2018.5 1828.2,2002.1 1828.7,1984.7 1829.3,1984.1 1829.8,1993.5 1830.4,2006.2 1831.0,2016.9 1831.5,2020.1 1832.1,2006.3 1832.6,1976.9 1833.2,1972.6 1833.8,1992.4 1834.3,2023.3 1834.9,2026.5 1835.5,2013.9 1836.0,1993.5 1836.6,1995.7 1837.1,2012.6 1837.7,2020.9 1838.3,2013.9 1838.8,1992.2 1839.4,1980.8 1839.9,1980.8 1840.5,1987.1 1841.1,1997.3 1841.6,2008.1 1842.2,2022.3 1842.7,2070.4 1843.3,2027.1 1843.9,2008.6 1844.4,1995.5 1845.0,1996.6 1845.5,2016.0 1846.1,2037.3 1846.7,2034.1 1847.2,2016.9 1847.8,2026.2 1848.3,2049.7 1848.9,2052.8 1849.5,2036.6 1850.0,2010.7 1850.6,2008.7 1851.2,2020.5 1851.7,2041.3 1852.3,2050.5 1852.8,2043.6 1853.4,2025.0 1854.0,2016.6 1854.5,2019.0 1855.1,2032.0 1855.6,2053.0 1856.2,2085.2 1856.8,2047.8 1857.3,2012.7 1857.9,2000.3 1858.4,2002.1 1859.0,2017.0 1859.6,2021.0 1860.1,2015.6 1860.7,2020.1 1861.2,2076.0 1861.8,2023.2 1862.4,2016.6 1862.9,2015.1 1863.5,2007.8 1864.1,1984.4 1864.6,1971.7 1865.2,1981.6 1865.7,2014.0 1866.3,2016.3 1866.9,1997.2 1867.4,1962.8 1868.0,1957.4 1868.5,1960.2 1869.1,1975.6 1869.7,1997.7 1870.2,2003.0 1870.8,1997.8 1871.3,1989.9 1871.9,1985.0 1872.5,1975.7 1873.0,1964.3 1873.6,1962.0 1874.1,1968.8 1874.7,1979.5 1875.3,1989.3 1875.8,1990.0 1876.4,1970.2 1877.0,1946.3 1877.5,1943.9 1878.1,1960.2 1878.6,1987.0 1879.2,1990.1 1879.8,1971.5 1880.3,1943.3 1880.9,1938.9 1881.4,1944.8 1882.0,1963.9 1882.6,1977.1 1883.1,1980.8 1883.7,1979.5 1884.2,1973.9 1884.8,1970.1 1885.4,1975.5 1885.9,2013.3 1886.5,1973.6 1887.0,1959.7 1887.6,1957.1 1888.2,1961.8 1888.7,1957.4 1889.3,1941.7 1889.8,1933.7 1890.4,1937.0 1891.0,1957.5 1891.5,1968.1 1892.1,1969.8 1892.7,1977.9 1893.2,1977.0 1893.8,1952.8 1894.3,1921.8 1894.9,1949.4 1895.5,1979.0 1896.0,1982.1 1896.6,1964.7 1897.1,1930.4 1897.7,1927.2 1898.3,1930.2 1898.8,1933.6 1899.4,1944.8 1899.9,1967.6 1900.5,1975.5 1901.1,1971.5 1901.6,1951.8 1902.2,1934.9 1902.7,1934.0 1903.3,1941.9 1903.9,1951.7 1904.4,1950.4 1905.0,1936.9 1905.6,1909.7 1906.1,1945.8 1906.7,1958.2 1907.2,1964.0 1907.8,1970.1 1908.4,1969.2 1908.9,1950.4 1909.5,1939.4 1910.0,1954.7 1910.6,1974.1 1911.2,1971.5 1911.7,1952.9 1912.3,1948.4 1912.8,1963.9 1913.4,2018.8 1914.0,1972.8 1914.5,1954.6 1915.1,1950.9 1915.6,1964.7 1916.2,1986.8 1916.8,1988.5 1917.3,1971.0 1917.9,1950.9 1918.4,1949.8 1919.0,1967.4 1919.6,1980.2 1920.1,1978.7 1920.7,1982.5 1921.3,1987.4 1921.8,1979.2 1922.4,1944.6 1922.9,1934.3 1923.5,1934.7 1924.1,1942.4 1924.6,1947.5 1925.2,1944.3 1925.7,1951.7 1926.3,1970.2 1926.9,1974.0 1927.4,1965.8 1928.0,1963.6 1928.5,1971.7 1929.1,1973.1 1929.7,1964.6 1930.2,1954.3 1930.8,1955.9 1931.3,1960.3 1931.9,1949.0 1932.5,1929.2 1933.0,1925.6 1933.6,1940.7 1934.2,1966.3 1934.7,1983.8 1935.3,1958.7 1935.8,1944.3 1936.4,1946.9 1937.0,1951.0 1937.5,1936.7 1938.1,1922.0 1938.6,1921.3 1939.2,1932.5 1939.8,1949.0 1940.3,1955.2 1940.9,1945.1 1941.4,1920.4 1942.0,1913.3 1942.6,1916.7 1943.1,1928.3 1943.7,1942.2 1944.2,1955.5 1944.8,1959.2 1945.4,1955.1 1945.9,1927.0 1946.5,1909.1 1947.1,1912.6 1947.6,1933.8 1948.2,1940.9 1948.7,1930.6 1949.3,1918.9 1949.9,1913.4 1950.4,1914.3 1951.0,1929.2 1951.5,1946.3 1952.1,1949.2 1952.7,1945.2 1953.2,1929.1 1953.8,1914.1 1954.3,1910.1 1954.9,1909.0 1955.5,1911.9 1956.0,1917.5 1956.6,1920.3 1957.1,1928.6 1957.7,1943.2 1958.3,1939.8 1958.8,1917.4 1959.4,1916.3 1959.9,1937.9 1960.5,1956.1 1961.1,1948.3 1961.6,1943.9 1962.2,1956.9 1962.8,1961.5 1963.3,1950.9 1963.9,1935.4 1964.4,1929.2 1965.0,1934.2 1965.6,1962.8 1966.1,1974.1 1966.7,1971.7 1967.2,1963.4 1967.8,1945.9 1968.4,1924.8 1968.9,1913.3 1969.5,1909.3 1970.0,1910.0 1970.6,1913.4 1971.2,1916.1 1971.7,1919.8 1972.3,1926.2 1972.8,1935.9 1973.4,1967.2 1974.0,1940.9 1974.5,1930.9 1975.1,1926.2 1975.7,1930.5 1976.2,1930.2 1976.8,1924.2 1977.3,1925.9 1977.9,1934.9 1978.5,1938.6 1979.0,1937.6 1979.6,1929.1 1980.1,1906.2 1980.7,1894.9 1981.3,1895.5 1981.8,1912.7 1982.4,1930.6 1982.9,1922.8 1983.5,1900.9 1984.1,1898.8 1984.6,1914.1 1985.2,1921.8 1985.7,1907.5 1986.3,1893.4 1986.9,1892.5 1987.4,1907.1 1988.0,1934.2 1988.5,1939.1 1989.1,1936.9 1989.7,1927.0 1990.2,1913.6 1990.8,1903.9 1991.4,1902.9 1991.9,1914.1 1992.5,1926.4 1993.0,1922.1 1993.6,1906.9 1994.2,1901.3 1994.7,1911.5 1995.3,1916.7 1995.8,1909.2 1996.4,1895.4 1997.0,1882.7 1997.5,1870.8 1998.1,1867.6 1998.6,1880.3 1999.2,1906.9 1999.8,1908.1 2000.3,1901.2 2000.9,1884.9 2001.4,1874.1 2002.0,1874.9 2002.6,1889.1 2003.1,1909.2 2003.7,1914.3 2004.3,1904.0 2004.8,1886.5 2005.4,1887.2 2005.9,1890.4 2006.5,1888.4 2007.1,1897.4 2007.6,1913.0 2008.2,1909.6 2008.7,1894.9 2009.3,1895.2 2009.9,1907.4 2010.4,1913.5 2011.0,1910.4 2011.5,1902.1 2012.1,1895.4 2012.7,1902.1 2013.2,1922.3 2013.8,1926.4 2014.3,1913.8 2014.9,1903.6 2015.5,1909.2 2016.0,1923.5 2016.6,1935.9 2017.2,1940.8 2017.7,1937.2 2018.3,1915.1 2018.8,1907.7 2019.4,1908.7 2020.0,1913.8 2020.5,1931.1 2021.1,1951.3 2021.6,1942.2 2022.2,1922.0 2022.8,1904.5 2023.3,1905.6 2023.9,1919.2 2024.4,1919.1 2025.0,1900.7 2025.6,1890.5 2026.1,1890.8 2026.7,1903.9 2027.2,1907.3 2027.8,1896.4 2028.4,1869.5 2028.9,1891.3 2029.5,1895.1 2030.0,1901.1 2030.6,1907.2 2031.2,1907.7 2031.7,1890.3 2032.3,1874.3 2032.9,1878.7 2033.4,1892.1 2034.0,1896.6 2034.5,1893.7 2035.1,1893.8 2035.7,1900.0 2036.2,1906.7 2036.8,1906.2 2037.3,1895.6 2037.9,1877.0 2038.5,1876.0 2039.0,1889.2 2039.6,1890.6 2040.1,1871.2 2040.7,1855.5 2041.3,1864.7 2041.8,1865.6 2042.4,1882.6 2042.9,1867.7 2043.5,1851.4 2044.1,1851.6 2044.6,1870.7 2045.2,1884.0 2045.8,1880.9 2046.3,1870.9 2046.9,1860.8 2047.4,1861.2 2048.0,1869.0 2048.6,1872.4 2049.1,1865.3 2049.7,1838.2 2050.2,1860.3 2050.8,1879.4 2051.4,1889.8 2051.9,1889.1 2052.5,1878.5 2053.0,1863.4 2053.6,1855.0 2054.2,1853.4 2054.7,1855.2 2055.3,1855.5 2055.8,1854.2 2056.4,1861.4 2057.0,1879.0 2057.5,1882.1 2058.1,1874.3 2058.6,1871.3 2059.2,1876.5 2059.8,1877.7 2060.3,1874.5 2060.9,1875.2 2061.5,1881.6 2062.0,1883.0 2062.6,1871.2 2063.1,1852.2 2063.7,1852.9 2064.3,1867.4 2064.8,1873.0 2065.4,1862.8 2065.9,1849.9 2066.5,1855.5 2067.1,1847.2 2067.6,1856.0 2068.2,1870.3 2068.7,1874.8 2069.3,1872.9 2069.9,1875.4 2070.4,1881.7 2071.0,1884.5 2071.5,1885.2 2072.1,1893.2 2072.7,1901.5 2073.2,1891.4 2073.8,1873.4 2074.4,1873.4 2074.9,1883.8 2075.5,1916.3 2076.0,1920.5 2076.6,1918.3 2077.2,1901.1 2077.7,1897.8 2078.3,1907.0 2078.8,1909.2 2079.4,1903.4 2080.0,1900.3 2080.5,1902.1 2081.1,1913.8 2081.6,1934.1 2082.2,1934.0 2082.8,1921.8 2083.3,1900.0 2083.9,1895.4 2084.4,1899.3 2085.0,1917.2 2085.6,1922.1 2086.1,1917.8 2086.7,1909.8 2087.3,1910.9 2087.8,1922.1 2088.4,1930.2 2088.9,1934.9 2089.5,1946.1 2090.1,1967.2 2090.6,1952.8 2091.2,1938.2 2091.7,1918.1 2092.3,1910.7 2092.9,1917.9 2093.4,1934.7 2094.0,1934.1 2094.5,1924.7 2095.1,1923.6 2095.7,1923.6 2096.2,1923.4 2096.8,1936.0 2097.3,1959.3 2097.9,1958.0 2098.5,1954.4 2099.0,1931.6 2099.6,1918.5 2100.1,1913.7 2100.7,1916.8 2101.3,1928.8 2101.8,1927.4 2102.4,1909.0 2103.0,1895.6 2103.5,1895.1 2104.1,1905.8 2104.6,1910.8 2105.2,1904.6 2105.8,1892.7 2106.3,1887.1 2106.9,1894.4 2107.4,1902.4 2108.0,1902.2 2108.6,1897.6 2109.1,1886.8 2109.7,1868.1 2110.2,1859.0 2110.8,1867.6 2111.4,1864.7 2111.9,1881.2 2112.5,1886.4 2113.0,1886.5 2113.6,1890.2 2114.2,1887.5 2114.7,1875.3 2115.3,1869.8 2115.9,1879.2 2116.4,1885.7 2117.0,1878.0 2117.5,1854.7 2118.1,1832.6 2118.7,1853.7 2119.2,1870.2 2119.8,1875.9 2120.3,1876.5 2120.9,1872.0 2121.5,1859.7 2122.0,1850.6 2122.6,1849.5 2123.1,1854.3 2123.7,1862.5 2124.3,1860.3 2124.8,1851.1 2125.4,1846.9 2125.9,1851.9 2126.5,1870.5 2127.1,1881.7 2127.6,1880.4 2128.2,1871.3 2128.7,1873.7 2129.3,1884.6 2129.9,1890.2 2130.4,1893.5 2131.0,1883.7 2131.6,1871.8 2132.1,1852.1 2132.7,1839.2 2133.2,1836.6 2133.8,1847.8 2134.4,1852.4 2134.9,1842.8 2135.5,1844.9 2136.0,1857.6 2136.6,1858.3 2137.2,1845.6 2137.7,1825.4 2138.3,1817.7 2138.8,1813.0 2139.4,1808.6 2140.0,1806.8 2140.5,1806.1 2141.1,1802.6 2141.6,1801.0 2142.2,1804.3 2142.8,1804.4 2143.3,1800.5 2143.9,1798.0 2144.5,1794.9 2145.0,1786.7 2145.6,1770.1 2146.1,1761.1 2146.7,1761.1 2147.3,1760.0 2147.8,1757.0 2148.4,1756.9 2148.9,1761.4 2149.5,1774.1 2150.1,1791.5 2150.6,1798.4 2151.2,1796.2 2151.7,1772.4 2152.3,1764.8 2152.9,1766.7 2153.4,1780.2 2154.0,1800.1 2154.5,1806.8 2155.1,1807.7 2155.7,1804.3 2156.2,1801.8 2156.8,1803.4 2157.4,1804.8 2157.9,1808.0 2158.5,1817.6 2159.0,1832.2 2159.6,1842.3 2160.2,1845.9 2160.7,1846.9 2161.3,1848.0 2161.8,1844.4 2162.4,1833.2 2163.0,1830.3 2163.5,1839.5 2164.1,1858.5 2164.6,1863.4 2165.2,1855.8 2165.8,1851.7 2166.3,1858.2 2166.9,1861.7 2167.4,1859.1 2168.0,1867.3 2168.6,1885.8 2169.1,1891.2 2169.7,1885.8 2170.2,1866.9 2170.8,1869.5 2171.4,1891.7 2171.9,1897.2 2172.5,1893.9 2173.1,1868.7 2173.6,1864.6 2174.2,1865.7 2174.7,1881.2 2175.3,1883.2 2175.9,1866.5 2176.4,1862.2 2177.0,1876.2 2177.5,1886.5 2178.1,1883.6 2178.7,1875.0 2179.2,1871.0 2179.8,1869.9 2180.3,1860.8 2180.9,1847.4 2181.5,1841.8 2182.0,1850.3 2182.6,1854.6 2183.1,1855.7 2183.7,1863.6 2184.3,1870.6 2184.8,1865.2 2185.4,1847.8 2186.0,1847.7 2186.5,1860.9 2187.1,1872.4 2187.6,1864.4 2188.2,1856.3 2188.8,1858.3 2189.3,1867.2 2189.9,1876.0 2190.4,1879.5 2191.0,1876.1 2191.6,1865.6 2192.1,1858.9 2192.7,1848.1 2193.2,1878.2 2193.8,1878.4 2194.4,1874.4 2194.9,1865.9 2195.5,1863.2 2196.0,1864.0 2196.6,1856.1 2197.2,1851.8 2197.7,1859.3 2198.3,1880.5 2198.8,1883.9 2199.4,1862.7 2200.0,1852.7 2200.5,1853.8 2201.1,1861.0 2201.7,1872.5 2202.2,1870.9 2202.8,1877.4 2203.3,1887.5 2203.9,1890.7 2204.5,1884.6 2205.0,1877.4 2205.6,1887.7 2206.1,1902.4 2206.7,1901.0 2207.3,1882.7 2207.8,1880.4 2208.4,1890.7 2208.9,1913.7 2209.5,1916.2 2210.1,1906.8 2210.6,1887.7 2211.2,1887.1 2211.7,1900.1 2212.3,1912.1 2212.9,1908.7 2213.4,1899.1 2214.0,1898.3 2214.6,1900.5 2215.1,1900.5 2215.7,1903.0 2216.2,1909.4 2216.8,1913.7 2217.4,1915.6 2217.9,1923.4 2218.5,1935.1 2219.0,1940.6 2219.6,1939.4 2220.2,1944.6 2220.7,1956.4 2221.3,1964.2 2221.8,1968.0 2222.4,1967.6 2223.0,1959.6 2223.5,1957.1 2224.1,1960.0 2224.6,1964.0 2225.2,1969.1 2225.8,1983.7 2226.3,1991.2 2226.9,1992.2 2227.5,1986.9 2228.0,1984.5 2228.6,1983.7 2229.1,1972.2 2229.7,1958.8 2230.3,1955.8 2230.8,1961.6 2231.4,1967.6 2231.9,1962.3 2232.5,1955.9 2233.1,1955.7 2233.6,1955.8 2234.2,1952.7 2234.7,1946.5 2235.3,1957.8 2235.9,1970.2 2236.4,1979.0 2237.0,1979.8 2237.5,1968.2 2238.1,1961.4 2238.7,1964.1 2239.2,1973.7 2239.8,1978.0 2240.3,1973.8 2240.9,1965.6 2241.5,1965.3 2242.0,1976.6 2242.6,1987.0 2243.2,1990.5 2243.7,1992.6 2244.3,1991.7 2244.8,1979.0 2245.4,1974.6 2246.0,1977.0 2246.5,1985.9 2247.1,1993.6 2247.6,1991.5 2248.2,1991.4 2248.8,1999.0 2249.3,2003.4 2249.9,1999.3 2250.4,1989.7 2251.0,1987.0 2251.6,1988.2 2252.1,1991.9 2252.7,1997.6 2253.2,2000.4 2253.8,1997.0 2254.4,1992.1 2254.9,1993.1 2255.5,2002.1 2256.1,2008.0 2256.6,2007.9 2257.2,2002.6 2257.7,2000.4 2258.3,2007.8 2258.9,2013.6 2259.4,2013.4 2260.0,2010.7 2260.5,2008.6 2261.1,2008.7 2261.7,2012.5 2262.2,2016.3 2262.8,2014.9 2263.3,2014.1 2263.9,2018.8 2264.5,2028.7 2265.0,2031.8 2265.6,2031.3 2266.1,2037.0 2266.7,2040.0 2267.3,2038.1 2267.8,2021.3 2268.4,2015.5 2268.9,2017.8 2269.5,2030.7 2270.1,2038.2 2270.6,2037.6 2271.2,2028.0 2271.8,2019.3 2272.3,2020.1 2272.9,2028.2 2273.4,2033.8 2274.0,2033.1 2274.6,2033.7 2275.1,2032.9 2275.7,2023.6 2276.2,2020.1 2276.8,2023.0 2277.4,2036.8 2277.9,2042.3 2278.5,2036.0 2279.0,2030.6 2279.6,2034.9 2280.2,2042.3 2280.7,2044.5 2281.3,2045.7 2281.8,2052.0 2282.4,2051.5 2283.0,2051.8 2283.5,2049.9 2284.1,2045.0 2284.7,2039.1 2285.2,2035.2 2285.8,2034.5 2286.3,2040.9 2286.9,2046.1 2287.5,2040.8 2288.0,2028.7 2288.6,2023.6 2289.1,2022.5 2289.7,2020.8 2290.3,2019.5 2290.8,2020.4 2291.4,2025.1 2291.9,2033.3 2292.5,2034.9 2293.1,2032.5 2293.6,2022.6 2294.2,2011.3 2294.7,2011.7 2295.3,2011.0 2295.9,2001.3 2296.4,1996.1 2297.0,1996.6 2297.6,2002.7 2298.1,2004.4 2298.7,2004.5 2299.2,2005.5 2299.8,2003.4 2300.4,1994.8 2300.9,1984.2 2301.5,1981.4 2302.0,1984.5 2302.6,1990.5 2303.2,1992.5 2303.7,1988.3 2304.3,1982.3 2304.8,1982.9 2305.4,1988.8 2306.0,1991.5 2306.5,1989.4 2307.1,1981.5 2307.6,1972.8 2308.2,1970.9 2308.8,1976.7 2309.3,1989.3 2309.9,1991.2 2310.4,1983.3 2311.0,1974.8 2311.6,1977.0 2312.1,1989.4 2312.7,2000.6 2313.3,2002.9 2313.8,2001.8 2314.4,2000.5 2314.9,2001.3 2315.5,2004.5 2316.1,2006.2 2316.6,2003.3 2317.2,1998.2 2317.7,1996.6 2318.3,1997.3 2318.9,1995.5 2319.4,1991.4 2320.0,1990.1 2320.5,1992.2 2321.1,2004.5 2321.7,2012.3 2322.2,2008.9 2322.8,1999.0 2323.3,2001.8 2323.9,2011.4 2324.5,2012.7 2325.0,2006.0 2325.6,1997.4 2326.2,1995.2 2326.7,1998.0 2327.3,2007.2 2327.8,2012.1 2328.4,2010.9 2329.0,2006.1 2329.5,2003.5 2330.1,2003.3 2330.6,1998.1 2331.2,1989.7 2331.8,1985.4 2332.3,1980.9 2332.9,1969.8 2333.4,1980.4 2334.0,1987.5 2334.6,1997.3 2335.1,2011.3 2335.7,2020.6 2336.2,2021.6 2336.8,2018.2 2337.4,2024.6 2337.9,2036.0 2338.5,2039.5 2339.0,2038.2 2339.6,2034.8 2340.2,2032.6 2340.7,2028.9 2341.3,2028.6 2341.9,2035.3 2342.4,2040.9 2343.0,2034.6 2343.5,2031.8 2344.1,2038.4 2344.7,2051.8 2345.2,2055.3 2345.8,2053.0 2346.3,2041.8 2346.9,2038.0 2347.5,2039.9 2348.0,2047.0 2348.6,2056.6 2349.1,2060.7 2349.7,2063.0 2350.3,2065.3 2350.8,2066.0 2351.4,2061.2 2351.9,2053.4 2352.5,2051.6 2353.1,2055.1 2353.6,2064.7 2354.2,2069.7 2354.8,2069.6 2355.3,2064.8 2355.9,2056.5 2356.4,2053.6 2357.0,2056.4 2357.6,2060.5 2358.1,2060.0 2358.7,2056.1 2359.2,2054.9 2359.8,2058.6 2360.4,2059.3 2360.9,2050.4 2361.5,2043.0 2362.0,2044.1 2362.6,2048.0 2363.2,2059.4 2363.7,2070.5 2364.3,2073.2 2364.8,2068.0 2365.4,2058.3 2366.0,2059.9 2366.5,2070.9 2367.1,2068.6 2367.7,2070.0 2368.2,2060.4 2368.8,2055.9 2369.3,2054.3 2369.9,2048.5 2370.5,2038.8 2371.0,2030.7 2371.6,2025.1 2372.1,2030.4 2372.7,2035.7 2373.3,2036.9 2373.8,2032.5 2374.4,2032.1 2374.9,2037.6 2375.5,2052.6 2376.1,2054.7 2376.6,2050.0 2377.2,2040.0 2377.7,2043.3 2378.3,2047.8 2378.9,2042.1 2379.4,2030.8 2380.0,2029.4 2380.5,2033.2 2381.1,2043.4 2381.7,2045.8 2382.2,2041.4 2382.8,2036.5 2383.4,2035.0 2383.9,2036.9 2384.5,2039.1 2385.0,2038.4 2385.6,2033.5 2386.2,2022.0 2386.7,2016.1 2387.3,2020.4 2387.8,2022.0 2388.4,2015.6 2389.0,2004.2 2389.5,1998.2 2390.1,1997.0 2390.6,1999.9 2391.2,1999.4 2391.8,1992.4 2392.3,1984.0 2392.9,1982.8 2393.4,1985.9 2394.0,1982.2 2394.6,1970.6 2395.1,1962.0 2395.7,1957.5 2396.3,1956.4 2396.8,1964.2 2397.4,1963.3 2397.9,1958.7 2398.5,1947.5 2399.1,1939.4 2399.6,1937.0 2400.2,1939.3 2400.7,1942.2 2401.3,1939.2 2401.9,1932.7 2402.4,1927.7 2403.0,1926.8 2403.5,1929.9 2404.1,1930.5 2404.7,1926.0 2405.2,1916.5 2405.8,1912.8 2406.3,1912.6 2406.9,1915.2 2407.5,1920.0 2408.0,1922.1 2408.6,1919.5 2409.1,1916.1 2409.7,1915.8 2410.3,1916.6 2410.8,1919.5 2411.4,1924.0 2412.0,1922.9 2412.5,1915.6 2413.1,1911.6 2413.6,1914.8 2414.2,1917.2 2414.8,1916.1 2415.3,1912.8 2415.9,1903.8 2416.4,1896.1 2417.0,1893.2 2417.6,1892.5 2418.1,1896.0 2418.7,1898.5 2419.2,1896.7 2419.8,1892.9 2420.4,1890.1 2420.9,1888.5 2421.5,1885.1 2422.0,1877.8 2422.6,1867.2 2423.2,1861.3 2423.7,1859.0 2424.3,1857.7 2424.9,1853.2 2425.4,1846.5 2426.0,1841.8 2426.5,1839.4 2427.1,1840.4 2427.7,1844.7 2428.2,1845.9 2428.8,1845.2 2429.3,1845.1 2429.9,1845.0 2430.5,1843.5 2431.0,1840.3 2431.6,1837.6 2432.1,1837.0 2432.7,1835.7 2433.3,1832.5 2433.8,1828.7 2434.4,1823.8 2434.9,1817.2 2435.5,1811.5 2436.1,1807.1 2436.6,1801.3 2437.2,1805.8 2437.8,1810.1 2438.3,1814.9 2438.9,1818.3 2439.4,1819.7 2440.0,1816.8 2440.6,1811.2 2441.1,1809.5 2441.7,1812.4 2442.2,1820.1 2442.8,1821.3 2443.4,1820.0 2443.9,1810.9 2444.5,1804.9 2445.0,1808.4 2445.6,1813.6 2446.2,1809.8 2446.7,1803.5 2447.3,1803.0 2447.8,1805.4 2448.4,1805.7 2449.0,1803.9 2449.5,1803.8 2450.1,1806.4 2450.6,1807.5 2451.2,1805.6 2451.8,1802.3 2452.3,1800.7 2452.9,1801.0 2453.5,1802.4 2454.0,1805.5 2454.6,1811.9 2455.1,1815.4 2455.7,1815.3 2456.3,1810.2 2456.8,1803.8 2457.4,1800.8 2457.9,1799.4 2458.5,1801.0 2459.1,1805.4 2459.6,1807.1 2460.2,1806.8 2460.7,1804.9 2461.3,1797.3 2461.9,1788.5 2462.4,1786.0 2463.0,1785.7 2463.5,1790.4 2464.1,1792.7 2464.7,1790.7 2465.2,1788.6 2465.8,1787.3 2466.4,1785.2 2466.9,1765.9 2467.5,1787.7 2468.0,1794.6 2468.6,1798.1 2469.2,1800.1 2469.7,1805.1 2470.3,1807.1 2470.8,1802.1 2471.4,1792.7 2472.0,1788.6 2472.5,1788.3 2473.1,1791.9 2473.6,1790.6 2474.2,1784.4 2474.8,1779.5 2475.3,1778.2 2475.9,1781.6 2476.4,1786.5 2477.0,1786.3 2477.6,1781.8 2478.1,1776.7 2478.7,1777.6 2479.2,1782.6 2479.8,1784.0 2480.4,1783.2 2480.9,1779.0 2481.5,1772.5 2482.1,1776.8 2482.6,1781.8 2483.2,1782.7 2483.7,1779.3 2484.3,1778.8 2484.9,1780.6 2485.4,1784.5 2486.0,1792.0 2486.5,1795.7 2487.1,1797.0 2487.7,1796.9 2488.2,1793.8 2488.8,1786.0 2489.3,1787.0 2489.9,1793.7 2490.5,1801.8 2491.0,1812.3 2491.6,1824.4 2492.1,1831.4 2492.7,1832.9 2493.3,1833.6 2493.8,1835.3 2494.4,1838.5 2495.0,1838.6 2495.5,1832.9 2496.1,1829.5 2496.6,1833.6 2497.2,1838.6 2497.8,1838.9 2498.3,1836.1 2498.9,1832.4 2499.4,1830.4 2500.0,1830.3 2500.6,1832.4 2501.1,1837.0 2501.7,1841.0 2502.2,1844.1 2502.8,1847.0 2503.4,1848.2 2503.9,1844.2 2504.5,1838.5 2505.0,1839.5 2505.6,1846.0 2506.2,1853.8 2506.7,1852.9 2507.3,1849.3 2507.9,1853.4 2508.4,1859.7 2509.0,1858.4 2509.5,1852.3 2510.1,1853.0 2510.7,1861.8 2511.2,1869.9 2511.8,1871.2 2512.3,1866.7 2512.9,1862.9 2513.5,1866.9 2514.0,1873.2 2514.6,1874.1 2515.1,1869.7 2515.7,1864.7 2516.3,1863.9 2516.8,1864.6 2517.4,1865.5 2517.9,1868.0 2518.5,1869.2 2519.1,1866.0 2519.6,1864.7 2520.2,1868.0 2520.7,1876.5 2521.3,1881.3 2521.9,1882.2 2522.4,1878.0 2523.0,1876.0 2523.6,1880.3 2524.1,1884.2 2524.7,1885.1 2525.2,1887.1 2525.8,1889.6 2526.4,1890.2 2526.9,1891.0 2527.5,1893.5 2528.0,1892.9 2528.6,1887.0 2529.2,1877.3 2529.7,1873.8 2530.3,1872.7 2530.8,1868.8 2531.4,1859.2 2532.0,1864.2 2532.5,1870.2 2533.1,1876.2 2533.6,1877.0 2534.2,1874.3 2534.8,1868.2 2535.3,1867.8 2535.9,1873.3 2536.5,1877.4 2537.0,1876.2 2537.6,1870.2 2538.1,1869.3 2538.7,1872.5 2539.3,1873.7 2539.8,1872.1 2540.4,1872.8 2540.9,1876.5 2541.5,1880.7 2542.1,1882.4 2542.6,1885.8 2543.2,1890.6 2543.7,1893.1 2544.3,1894.5 2544.9,1895.1 2545.4,1894.8 2546.0,1893.4 2546.5,1893.5 2547.1,1894.4 2547.7,1893.2 2548.2,1892.4 2548.8,1893.5 2549.3,1897.2 2549.9,1899.5 2550.5,1897.9 2551.0,1897.7 2551.6,1900.0 2552.2,1899.1 2552.7,1894.8 2553.3,1893.9 2553.8,1897.9 2554.4,1898.3 2555.0,1894.6 2555.5,1886.7 2556.1,1886.4 2556.6,1888.6 2557.2,1885.2 2557.8,1878.3 2558.3,1874.0 2558.9,1871.3 2559.4,1869.3 2560.0,1869.4 2560.6,1874.4 2561.1,1875.9 2561.7,1872.6 2562.2,1866.5 2562.8,1864.9 2563.4,1864.9 2563.9,1861.9 2564.5,1860.0 2565.1,1865.4 2565.6,1870.6 2566.2,1870.0 2566.7,1865.9 2567.3,1854.3 2567.9,1851.4 2568.4,1852.0 2569.0,1853.6 2569.5,1852.9 2570.1,1852.9 2570.7,1851.3 2571.2,1845.1 2571.8,1840.3 2572.3,1841.7 2572.9,1842.7 2573.5,1837.8 2574.0,1834.3 2574.6,1836.7 2575.1,1839.9 2575.7,1838.5 2576.3,1833.7 2576.8,1828.3 2577.4,1825.3 2578.0,1824.1 2578.5,1824.5 2579.1,1824.6 2579.6,1821.3 2580.2,1814.5 2580.8,1810.1 2581.3,1808.2 2581.9,1807.9 2582.4,1810.4 2583.0,1812.6 2583.6,1811.6 2584.1,1811.0 2584.7,1813.0 2585.2,1813.3 2585.8,1811.6 2586.4,1808.6 2586.9,1806.2 2587.5,1802.5 2588.0,1798.9 2588.6,1798.9 2589.2,1798.3 2589.7,1794.0 2590.3,1791.7 2590.8,1794.4 2591.4,1798.2 2592.0,1798.4 2592.5,1796.1 2593.1,1790.7 2593.7,1787.1 2594.2,1786.0 2594.8,1786.2 2595.3,1788.4 2595.9,1795.1 2596.5,1799.4 2597.0,1800.6 2597.6,1798.9 2598.1,1792.4 2598.7,1790.1 2599.3,1791.7 2599.8,1796.6 2600.4,1800.0 2600.9,1799.4 2601.5,1800.3 2602.1,1804.1 2602.6,1805.0 2603.2,1802.7 2603.7,1801.4 2604.3,1803.2 2604.9,1803.0 2605.4,1799.3 2606.0,1795.5 2606.6,1796.2 2607.1,1795.3 2607.7,1789.0 2608.2,1788.0 2608.8,1787.3 2609.4,1794.4 2609.9,1797.8 2610.5,1797.3 2611.0,1799.3 2611.6,1804.5 2612.2,1807.5 2612.7,1806.9 2613.3,1805.3 2613.8,1806.1 2614.4,1806.2 2615.0,1803.5 2615.5,1801.9 2616.1,1802.6 2616.6,1807.1 2617.2,1813.5 2617.8,1815.2 2618.3,1814.2 2618.9,1810.0 2619.4,1806.0 2620.0,1805.0 2620.6,1806.4 2621.1,1811.5 2621.7,1816.5 2622.3,1818.2 2622.8,1818.7 2623.4,1818.5 2623.9,1816.2 2624.5,1810.8 2625.1,1809.0 2625.6,1810.5 2626.2,1815.5 2626.7,1819.1 2627.3,1818.0 2627.9,1814.7 2628.4,1814.9 2629.0,1821.6 2629.5,1828.3 2630.1,1830.4 2630.7,1828.6 2631.2,1826.3 2631.8,1830.9 2632.3,1836.2 2632.9,1836.7 2633.5,1837.0 2634.0,1840.0 2634.6,1843.1 2635.2,1846.0 2635.7,1850.5 2636.3,1856.8 2636.8,1860.4 2637.4,1860.5 2638.0,1857.7 2638.5,1858.0 2639.1,1862.4 2639.6,1868.5 2640.2,1872.0 2640.8,1873.3 2641.3,1872.7 2641.9,1872.4 2642.4,1873.4 2643.0,1874.7 2643.6,1876.7 2644.1,1879.7 2644.7,1881.6 2645.2,1883.0 2645.8,1887.1 2646.4,1892.2 2646.9,1894.7 2647.5,1895.5 2648.1,1892.0 2648.6,1886.0 2649.2,1886.2 2649.7,1887.4 2650.3,1891.7 2650.9,1901.1 2651.4,1901.9 2652.0,1900.1 2652.5,1902.6 2653.1,1905.1 2653.7,1903.4 2654.2,1899.6 2654.8,1902.1 2655.3,1907.3 2655.9,1907.9 2656.5,1903.7 2657.0,1902.4 2657.6,1907.3 2658.1,1912.1 2658.7,1911.0 2659.3,1907.3 2659.8,1908.2 2660.4,1911.8 2660.9,1915.3 2661.5,1916.9 2662.1,1919.3 2662.6,1923.5 2663.2,1924.9 2663.8,1922.6 2664.3,1924.0 2664.9,1930.3 2665.4,1937.7 2666.0,1931.7 2666.6,1926.2 2667.1,1923.6 2667.7,1922.8 2668.2,1923.0 2668.8,1925.4 2669.4,1925.8 2669.9,1924.3 2670.5,1924.0 2671.0,1926.2 2671.6,1927.2 2672.2,1925.4 2672.7,1919.7 2673.3,1919.0 2673.8,1925.2 2674.4,1927.6 2675.0,1925.8 2675.5,1922.7 2676.1,1924.3 2676.7,1925.2 2677.2,1922.8 2677.8,1923.4 2678.3,1927.3 2678.9,1926.6 2679.5,1921.7 2680.0,1920.9 2680.6,1923.2 2681.1,1926.1 2681.7,1924.8 2682.3,1922.0 2682.8,1921.3 2683.4,1924.3 2683.9,1927.1 2684.5,1926.5 2685.1,1924.9 2685.6,1921.6 2686.2,1912.0 2686.7,1909.3 2687.3,1910.1 2687.9,1912.4 2688.4,1913.5 2689.0,1914.9 2689.5,1919.6 2690.1,1926.3 2690.7,1928.9 2691.2,1928.9 2691.8,1927.3 2692.4,1927.4 2692.9,1928.6 2693.5,1931.0 2694.0,1935.0 2694.6,1938.4 2695.2,1939.6 2695.7,1937.9 2696.3,1937.8 2696.8,1942.1 2697.4,1948.4 2698.0,1951.7 2698.5,1954.2 2699.1,1957.1 2699.6,1960.0 2700.2,1964.5 2700.8,1971.6 2701.3,1982.9 2701.9,1990.8 2702.4,1995.5 2703.0,1997.5 2703.6,1997.9 2704.1,2002.3 2704.7,2008.7 2705.3,2011.0 2705.8,2011.2 2706.4,2013.5 2706.9,2015.9 2707.5,2016.3 2708.1,2017.4 2708.6,2023.0 2709.2,2030.7 2709.7,2033.4 2710.3,2033.4 2710.9,2026.3 2711.4,2027.6 2712.0,2031.1 2712.5,2038.2 2713.1,2040.5 2713.7,2039.5 2714.2,2039.4 2714.8,2041.5 2715.3,2043.5 2715.9,2042.9 2716.5,2039.8 2717.0,2038.7 2717.6,2040.4 2718.2,2042.9 2718.7,2045.7 2719.3,2048.7 2719.8,2050.3 2720.4,2050.2 2721.0,2046.2 2721.5,2043.0 2722.1,2043.0 2722.6,2044.7 2723.2,2049.0 2723.8,2051.4 2724.3,2050.1 2724.9,2047.8 2725.4,2047.5 2726.0,2049.9 2726.6,2051.4 2727.1,2049.7 2727.7,2044.8 2728.2,2042.1 2728.8,2042.4 2729.4,2045.7 2729.9,2050.6 2730.5,2053.2 2731.0,2053.8 2731.6,2051.5 2732.2,2049.8 2732.7,2050.9 2733.3,2055.4 2733.9,2063.4 2734.4,2065.9 2735.0,2066.6 2735.5,2063.7 2736.1,2061.4 2736.7,2064.4 2737.2,2067.3 2737.8,2067.0 2738.3,2068.0 2738.9,2073.5 2739.5,2079.7 2740.0,2080.6 2740.6,2077.1 2741.1,2077.6 2741.7,2080.2 2742.3,2083.4 2742.8,2087.6 2743.4,2093.4 2743.9,2099.2 2744.5,2102.8 2745.1,2104.7 2745.6,2104.9 2746.2,2105.2 2746.8,2106.0 2747.3,2108.1 2747.9,2112.8 2748.4,2116.7 2749.0,2117.4 2749.6,2116.7 2750.1,2117.1 2750.7,2119.7 2751.2,2124.7 2751.8,2127.9 2752.4,2128.5 2752.9,2126.0 2753.5,2123.0 2754.0,2122.2 2754.6,2122.9 2755.2,2122.7 2755.7,2122.5 2756.3,2124.5 2756.8,2128.4 2757.4,2133.7 2758.0,2138.3 2758.5,2144.8 2759.1,2149.5 2759.6,2152.3 2760.2,2152.1 2760.8,2148.7 2761.3,2152.7 2761.9,2160.1 2762.5,2162.0 2763.0,2160.3 2763.6,2160.5 2764.1,2162.1 2764.7,2162.4 2765.3,2161.3 2765.8,2158.9 2766.4,2155.9 2766.9,2155.1 2767.5,2156.1 2768.1,2154.6 2768.6,2152.9 2769.2,2154.4 2769.7,2157.1 2770.3,2157.0 2770.9,2157.5 2771.4,2159.8 2772.0,2159.8 2772.5,2157.6 2773.1,2149.4 2773.7,2144.8 2774.2,2144.9 2774.8,2150.4 2775.4,2157.3 2775.9,2160.4 2776.5,2162.0 2777.0,2161.1 2777.6,2159.3 2778.2,2159.9 2778.7,2162.6 2779.3,2165.9 2779.8,2166.2 2780.4,2163.5 2781.0,2162.7 2781.5,2164.5 2782.1,2169.3 2782.6,2174.3 2783.2,2177.2 2783.8,2178.4 2784.3,2178.5 2784.9,2178.9 2785.4,2180.3 2786.0,2181.8 2786.6,2182.1 2787.1,2180.3 2787.7,2177.0 2788.3,2173.0 2788.8,2167.7 2789.4,2162.5 2789.9,2159.5 2790.5,2158.7 2791.1,2159.0 2791.6,2156.8 2792.2,2154.6 2792.7,2154.3 2793.3,2152.8 2793.9,2150.0 2794.4,2145.8 2795.0,2137.7 2795.5,2132.0 2796.1,2129.2 2796.7,2128.2 2797.2,2128.6 2797.8,2126.9 2798.3,2122.2 2798.9,2119.2 2799.5,2118.3 2800.0,2120.2 2800.6,2124.1 2801.1,2123.2 2801.7,2118.4 2802.3,2114.7 2802.8,2115.9 2803.4,2115.9 2804.0,2114.3 2804.5,2112.4 2805.1,2109.9 2805.6,2107.2 2806.2,2105.7 2806.8,2106.0 2807.3,2107.8 2807.9,2109.3 2808.4,2108.9 2809.0,2108.4 2809.6,2109.8 2810.1,2111.6 2810.7,2110.2 2811.2,2107.6 2811.8,2108.2 2812.4,2109.8 2812.9,2107.2 2813.5,2101.8 2814.0,2097.9 2814.6,2095.5 2815.2,2095.4 2815.7,2095.7 2816.3,2094.2 2816.9,2091.9 2817.4,2087.9 2818.0,2080.8 2818.5,2077.7 2819.1,2078.4 2819.7,2080.8 2820.2,2078.7 2820.8,2073.7 2821.3,2067.5 2821.9,2064.8 2822.5,2064.1 2823.0,2060.4 2823.6,2051.8 2824.1,2045.1 2824.7,2041.1 2825.3,2039.5 2825.8,2041.5 2826.4,2042.1 2826.9,2040.1 2827.5,2037.0 2828.1,2036.1 2828.6,2037.9 2829.2,2036.7 2829.7,2031.5 2830.3,2021.2 2830.9,2013.7 2831.4,2010.4 2832.0,2011.1 2832.6,2010.5 2833.1,2007.6 2833.7,2006.1 2834.2,2006.3 2834.8,2005.4 2835.4,2001.8 2835.9,1996.4 2836.5,1996.6 2837.0,1999.4 2837.6,2001.8 2838.2,2001.2 2838.7,2000.1 2839.3,2001.0 2839.8,2002.2 2840.4,2001.5 2841.0,1999.9 2841.5,1997.5 2842.1,1996.6 2842.6,1997.0 2843.2,1996.2 2843.8,1995.1 2844.3,1995.5 2844.9,1996.9 2845.5,1998.0 2846.0,1996.3 2846.6,1993.5 2847.1,1991.2 2847.7,1988.4 2848.3,1986.2 2848.8,1988.3 2849.4,1991.5 2849.9,1992.9 2850.5,1994.3 2851.1,1990.5 2851.6,1986.3 2852.2,1983.9 2852.7,1979.6 2853.3,1973.1 2853.9,1967.7 2854.4,1964.1 2855.0,1961.8 2855.5,1959.9 2856.1,1956.9 2856.7,1953.6 2857.2,1951.4 2857.8,1951.3 2858.4,1951.5 2858.9,1950.4 2859.5,1949.7 2860.0,1950.7 2860.6,1950.4 2861.2,1948.4 2861.7,1942.0 2862.3,1937.7 2862.8,1937.4 2863.4,1935.1 2864.0,1929.1 2864.5,1925.3 2865.1,1924.3 2865.6,1921.8 2866.2,1917.8 2866.8,1915.6 2867.3,1915.1 2867.9,1914.7 2868.4,1913.0 2869.0,1911.1 2869.6,1911.8 2870.1,1914.6 2870.7,1914.3 2871.2,1911.2 2871.8,1904.5 2872.4,1902.3 2872.9,1904.3 2873.5,1904.9 2874.1,1900.8 2874.6,1895.0 2875.2,1892.0 2875.7,1890.1 2876.3,1887.0 2876.9,1886.1 2877.4,1888.6 2878.0,1890.5 2878.5,1892.0 2879.1,1894.3 2879.7,1893.9 2880.2,1889.2 2880.8,1885.4 2881.3,1883.4 2881.9,1882.7 2882.5,1882.4 2883.0,1882.1 2883.6,1882.8 2884.1,1882.5 2884.7,1880.9 2885.3,1876.9 2885.8,1869.9 2886.4,1867.3 2887.0,1867.4 2887.5,1864.2 2888.1,1858.6 2888.6,1854.0 2889.2,1853.5 2889.8,1855.0 2890.3,1854.0 2890.9,1851.8 2891.4,1850.4 2892.0,1849.8 2892.6,1850.3 2893.1,1848.4 2893.7,1845.4 2894.2,1842.0 2894.8,1839.0 2895.4,1839.2 2895.9,1842.5 2896.5,1843.5 2897.0,1843.1 2897.6,1838.8 2898.2,1835.9 2898.7,1836.4 2899.3,1837.8 2899.8,1839.2 2900.4,1841.1 2901.0,1843.4 2901.5,1844.6 2902.1,1844.0 2902.7,1841.5 2903.2,1836.4 2903.8,1830.4 2904.3,1827.1 2904.9,1827.0 2905.5,1830.3 2906.0,1836.0 2906.6,1839.9 2907.1,1841.6 2907.7,1841.1 2908.3,1840.6 2908.8,1841.1 2909.4,1839.9 2909.9,1837.2 2910.5,1833.8 2911.1,1828.4 2911.6,1825.3 2912.2,1826.4 2912.7,1829.8 2913.3,1828.3 2913.9,1823.7 2914.4,1821.6 2915.0,1820.3 2915.6,1820.7 2916.1,1819.9 2916.7,1817.0 2917.2,1815.9 2917.8,1816.2 2918.4,1815.3 2918.9,1816.2 2919.5,1818.8 2920.0,1819.1 2920.6,1816.1 2921.2,1812.2 2921.7,1810.5 2922.3,1809.3 2922.8,1809.1 2923.4,1809.5 2924.0,1807.5 2924.5,1805.6 2925.1,1806.8 2925.6,1811.9 2926.2,1814.2 2926.8,1814.5 2927.3,1813.1 2927.9,1811.2 2928.5,1811.7 2929.0,1811.9 2929.6,1810.1 2930.1,1807.2 2930.7,1804.2 2931.3,1801.1 2931.8,1797.8 2932.4,1794.6 2932.9,1792.4 2933.5,1793.3 2934.1,1792.4 2934.6,1789.0 2935.2,1784.8 2935.7,1785.3 2936.3,1790.2 2936.9,1792.9 2937.4,1792.8 2938.0,1788.7 2938.5,1786.9 2939.1,1788.9 2939.7,1789.6 2940.2,1785.0 2940.8,1779.8 2941.3,1778.4 2941.9,1782.0 2942.5,1784.1 2943.0,1781.6 2943.6,1774.6 2944.2,1772.8 2944.7,1773.5 2945.3,1775.4 2945.8,1776.0 2946.4,1777.4 2947.0,1779.5 2947.5,1780.6 2948.1,1780.0 2948.6,1777.4 2949.2,1774.9 2949.8,1772.7 2950.3,1770.1 2950.9,1766.7 2951.4,1763.0 2952.0,1761.0 2952.6,1761.3 2953.1,1760.9 2953.7,1757.9 2954.2,1752.0 2954.8,1749.4 2955.4,1748.6 2955.9,1750.8 2956.5,1748.3 2957.1,1744.1 2957.6,1739.7 2958.2,1736.7 2958.7,1735.3 2959.3,1732.4 2959.9,1728.7 2960.4,1727.2 2961.0,1728.1 2961.5,1731.1 2962.1,1728.7 2962.7,1724.1 2963.2,1718.4 2963.8,1715.5 2964.3,1715.3 2964.9,1715.9 2965.5,1714.6 2966.0,1711.8 2966.6,1709.7 2967.1,1709.5 2967.7,1710.9 2968.3,1713.6 2968.8,1717.5 2969.4,1722.5 2969.9,1725.4 2970.5,1725.5 2971.1,1725.5 2971.6,1726.1 2972.2,1724.3 2972.8,1719.0 2973.3,1714.7 2973.9,1714.4 2974.4,1716.9 2975.0,1719.9 2975.6,1722.3 2976.1,1723.8 2976.7,1725.6 2977.2,1728.5 2977.8,1728.9 2978.4,1725.5 2978.9,1718.7 2979.5,1716.5 2980.0,1715.0 2980.6,1713.9 2981.2,1712.7 2981.7,1712.4 2982.3,1710.9 2982.8,1707.0 2983.4,1701.0 2984.0,1700.3 2984.5,1703.1 2985.1,1708.8 2985.7,1712.4 2986.2,1714.2 2986.8,1714.4 2987.3,1714.4 2987.9,1716.0 2988.5,1719.6 2989.0,1724.3 2989.6,1727.9 2990.1,1730.3 2990.7,1732.3 2991.3,1736.2 2991.8,1743.1 2992.4,1750.8 2992.9,1755.2 2993.5,1756.7 2994.1,1753.8 2994.6,1753.4 2995.2,1758.0 2995.7,1762.9 2996.3,1763.7 2996.9,1764.5 2997.4,1769.1 2998.0,1775.5 2998.6,1782.5 2999.1,1788.2 2999.7,1793.4 3000.2,1797.3 3000.8,1798.7 3001.4,1796.9 3001.9,1797.4 3002.5,1802.4 3003.0,1808.7 3003.6,1811.2 3004.2,1814.0 3004.7,1819.2 3005.3,1825.4 3005.8,1830.9 3006.4,1830.5 3007.0,1827.3 3007.5,1826.1 3008.1,1827.9 3008.6,1830.1 3009.2,1829.4 3009.8,1826.6 3010.3,1823.8 3010.9,1822.9 3011.4,1820.4 3012.0,1815.7 3012.6,1812.1 3013.1,1811.1 3013.7,1808.6 3014.3,1804.7 3014.8,1802.8 3015.4,1801.3 3015.9,1800.3 3016.5,1797.7 3017.1,1793.6 3017.6,1791.4 3018.2,1791.3 3018.7,1791.4 3019.3,1792.2 3019.9,1793.3 3020.4,1794.0 3021.0,1795.2 3021.5,1797.4 3022.1,1797.6 3022.7,1796.1 3023.2,1797.7 3023.8,1799.9 3024.3,1805.4 3024.9,1808.3 3025.5,1807.8 3026.0,1806.4 3026.6,1806.3 3027.2,1808.9 3027.7,1814.6 3028.3,1821.6 3028.8,1826.4 3029.4,1829.0 3030.0,1831.4 3030.5,1833.5 3031.1,1835.1 3031.6,1837.4 3032.2,1839.4 3032.8,1837.7 3033.3,1836.1 3033.9,1838.8 3034.4,1845.8 3035.0,1852.4 3035.6,1854.3 3036.1,1854.5 3036.7,1851.6 3037.2,1850.1 3037.8,1851.7 3038.4,1855.7 3038.9,1857.3 3039.5,1854.9 3040.0,1854.3 3040.6,1857.4 3041.2,1863.0 3041.7,1863.7 3042.3,1861.0 3042.9,1861.9 3043.4,1866.8 3044.0,1870.7 3044.5,1870.8 3045.1,1869.2 3045.7,1869.0 3046.2,1869.3 3046.8,1869.0 3047.3,1869.4 3047.9,1871.3 3048.5,1875.1 3049.0,1879.9 3049.6,1884.6 3050.1,1888.6 3050.7,1889.3 3051.3,1891.1 3051.8,1894.4 3052.4,1898.0 3052.9,1902.1 3053.5,1906.1 3054.1,1908.0 3054.6,1907.0 3055.2,1905.2 3055.8,1905.5 3056.3,1908.6 3056.9,1912.5 3057.4,1913.3 3058.0,1912.1 3058.6,1912.5 3059.1,1914.5 3059.7,1913.5 3060.2,1908.0 3060.8,1904.6 3061.4,1903.0 3061.9,1906.2 3062.5,1904.9 3063.0,1901.9 3063.6,1894.9 3064.2,1891.7 3064.7,1892.3 3065.3,1892.7 3065.8,1889.7 3066.4,1884.0 3067.0,1878.8 3067.5,1875.7 3068.1,1873.9 3068.7,1872.6 3069.2,1872.3 3069.8,1873.6 3070.3,1873.5 3070.9,1869.5 3071.5,1867.0 3072.0,1867.2 3072.6,1870.1 3073.1,1870.9 3073.7,1869.9 3074.3,1871.0 3074.8,1873.7 3075.4,1874.5 3075.9,1871.0 3076.5,1869.1 3077.1,1871.9 3077.6,1879.3 3078.2,1882.3 3078.7,1883.7 3079.3,1885.1 3079.9,1885.3 3080.4,1883.8 3081.0,1883.5 3081.5,1884.7 3082.1,1885.7 3082.7,1885.9 3083.2,1887.6 3083.8,1892.3 3084.4,1895.6 3084.9,1895.8 3085.5,1894.6 3086.0,1897.0 3086.6,1902.8 3087.2,1905.8 3087.7,1906.8 3088.3,1905.5 3088.8,1904.1 3089.4,1905.6 3090.0,1908.4 3090.5,1908.5 3091.1,1905.0 3091.6,1903.6 3092.2,1903.8 3092.8,1905.1 3093.3,1908.1 3093.9,1910.5 3094.4,1911.7 3095.0,1911.5 3095.6,1911.7 3096.1,1913.9 3096.7,1917.2 3097.3,1919.2 3097.8,1919.9 3098.4,1922.8 3098.9,1927.3 3099.5,1929.2 3100.1,1929.4 3100.6,1928.2 3101.2,1928.3 3101.7,1930.7 3102.3,1935.5 3102.9,1941.6 3103.4,1946.4 3104.0,1949.5 3104.5,1949.9 3105.1,1950.1 3105.7,1952.6 3106.2,1956.2 3106.8,1958.0 3107.3,1958.0 3107.9,1958.7 3108.5,1960.9 3109.0,1963.9 3109.6,1964.1 3110.1,1960.6 3110.7,1954.2 3111.3,1951.0 3111.8,1950.0 3112.4,1951.0 3113.0,1950.1 3113.5,1948.3 3114.1,1945.2 3114.6,1940.7 3115.2,1937.5 3115.8,1936.0 3116.3,1935.6 3116.9,1933.8 3117.4,1929.3 3118.0,1921.9 3118.6,1916.9 3119.1,1915.4 3119.7,1914.7 3120.2,1910.8 3120.8,1905.8 3121.4,1904.1 3121.9,1905.6 3122.5,1908.7 3123.0,1907.8 3123.6,1904.9 3124.2,1899.2 3124.7,1896.6 3125.3,1896.9 3125.9,1898.5 3126.4,1899.7 3127.0,1902.7 3127.5,1907.3 3128.1,1909.5 3128.7,1908.3 3129.2,1909.4 3129.8,1913.0 3130.3,1917.4 3130.9,1919.5 3131.5,1919.7 3132.0,1919.3 3132.6,1920.2 3133.1,1924.6 3133.7,1927.1 3134.3,1927.5 3134.8,1926.2 3135.4,1923.9 3135.9,1924.0 3136.5,1926.0 3137.1,1928.7 3137.6,1930.1 3138.2,1930.4 3138.8,1929.3 3139.3,1925.9 3139.9,1924.3 3140.4,1924.3 3141.0,1925.3 3141.6,1928.2 3142.1,1929.5 3142.7,1928.5 3143.2,1929.1 3143.8,1932.3 3144.4,1936.4 3144.9,1937.4 3145.5,1935.6 3146.0,1932.0 3146.6,1929.8 3147.2,1930.9 3147.7,1934.0 3148.3,1934.6 3148.8,1934.2 3149.4,1932.8 3150.0,1931.5 3150.5,1931.8 3151.1,1934.3 3151.6,1939.8 3152.2,1943.7 3152.8,1944.9 3153.3,1944.4 3153.9,1947.2 3154.5,1951.8 3155.0,1954.7 3155.6,1956.3 3156.1,1957.1 3156.7,1955.8 3157.3,1955.3 3157.8,1956.6 3158.4,1958.6 3158.9,1961.5 3159.5,1965.0 3160.1,1966.8 3160.6,1966.9 3161.2,1967.2 3161.7,1968.8 3162.3,1971.8 3162.9,1972.4 3163.4,1968.3 3164.0,1964.8 3164.5,1964.2 3165.1,1966.3 3165.7,1963.5 3166.2,1956.8 3166.8,1951.7 3167.4,1949.7 3167.9,1948.2 3168.5,1946.4 3169.0,1946.8 3169.6,1949.1 3170.2,1950.0 3170.7,1949.7 3171.3,1947.3 3171.8,1943.8 3172.4,1943.5 3173.0,1945.4 3173.5,1947.5 3174.1,1947.2 3174.6,1944.1 3175.2,1939.8 3175.8,1938.3 3176.3,1939.7 3176.9,1942.4 3177.4,1941.9 3178.0,1939.9 3178.6,1938.9 3179.1,1939.9 3179.7,1940.2 3180.2,1938.9 3180.8,1937.9 3181.4,1938.6 3181.9,1940.2 3182.5,1941.8 3183.1,1942.8 3183.6,1943.9 3184.2,1945.7 3184.7,1949.9 3185.3,1954.4 3185.9,1956.0 3186.4,1955.2 3187.0,1952.5 3187.5,1953.4 3188.1,1957.7 3188.7,1963.3 3189.2,1966.1 3189.8,1968.0 3190.3,1969.0 3190.9,1971.0 3191.5,1973.0 3192.0,1973.4 3192.6,1972.9 3193.1,1973.5 3193.7,1974.8 3194.3,1976.7 3194.8,1979.4 3195.4,1982.9 3196.0,1986.2 3196.5,1988.9 3197.1,1991.8 3197.6,1996.1 3198.2,2000.5 3198.8,2002.9 3199.3,2003.7 3199.9,2003.4 3200.4,2004.6 3201.0,2006.7 3201.6,2008.4 3202.1,2010.4 3202.7,2012.7 3203.2,2013.7 3203.8,2011.7 3204.4,2009.6 3204.9,2010.4 3205.5,2014.5 3206.0,2018.1 3206.6,2017.8 3207.2,2016.0 3207.7,2015.3 3208.3,2014.3 3208.9,2012.9 3209.4,2012.9 3210.0,2014.0 3210.5,2015.9 3211.1,2019.6 3211.7,2024.5 3212.2,2026.6 3212.8,2025.7 3213.3,2025.2 3213.9,2027.6 3214.5,2031.1 3215.0,2031.8 3215.6,2030.5 3216.1,2026.4 3216.7,2025.0 3217.3,2027.5 3217.8,2028.3 3218.4,2026.0 3218.9,2020.1 3219.5,2017.6 3220.1,2016.4 3220.6,2015.7 3221.2,2014.4 3221.7,2013.4 3222.3,2014.2 3222.9,2015.2 3223.4,2014.7 3224.0,2012.7 3224.6,2012.5 3225.1,2013.7 3225.7,2015.1 3226.2,2016.0 3226.8,2015.8 3227.4,2014.3 3227.9,2013.3 3228.5,2014.9 3229.0,2017.6 3229.6,2019.0 3230.2,2020.0 3230.7,2018.9 3231.3,2017.4 3231.8,2018.5 3232.4,2020.9 3233.0,2026.6 3233.5,2028.8 3234.1,2026.8 3234.6,2026.8 3235.2,2030.0 3235.8,2033.4 3236.3,2033.4 3236.9,2032.3 3237.5,2032.8 3238.0,2035.1 3238.6,2036.8 3239.1,2036.1 3239.7,2032.2 3240.3,2030.3 3240.8,2031.6 3241.4,2032.4 3241.9,2028.6 3242.5,2024.2 3243.1,2024.6 3243.6,2028.6 3244.2,2029.6 3244.7,2027.3 3245.3,2027.3 3245.9,2030.1 3246.4,2035.7 3247.0,2040.9 3247.5,2044.5 3248.1,2046.9 3248.7,2046.8 3249.2,2046.1 3249.8,2046.9 3250.3,2047.8 3250.9,2047.4 3251.5,2046.4 3252.0,2045.2 3252.6,2044.2 3253.2,2044.5 3253.7,2046.7 3254.3,2051.7 3254.8,2053.7 3255.4,2053.2 3256.0,2049.3 3256.5,2047.9 3257.1,2049.2 3257.6,2049.9 3258.2,2048.0 3258.8,2045.4 3259.3,2043.9 3259.9,2043.4 3260.4,2043.2 3261.0,2043.7 3261.6,2044.3 3262.1,2043.8 3262.7,2041.7 3263.2,2040.2 3263.8,2040.7 3264.4,2043.1 3264.9,2045.6 3265.5,2046.6 3266.1,2046.9 3266.6,2046.2 3267.2,2041.6 3267.7,2039.7 3268.3,2039.2 3268.9,2039.1 3269.4,2039.0 3270.0,2038.6 3270.5,2038.5 3271.1,2038.1 3271.7,2037.3 3272.2,2036.7 3272.8,2036.5 3273.3,2036.6 3273.9,2036.8 3274.5,2037.1 3275.0,2037.5 3275.6,2037.8 3276.1,2036.2 3276.7,2032.8 3277.3,2031.0 3277.8,2029.9 3278.4,2031.1 3279.0,2032.7 3279.5,2032.0 3280.1,2029.9 3280.6,2027.4 3281.2,2027.8 3281.8,2030.1 3282.3,2032.1 3282.9,2032.4 3283.4,2031.9 3284.0,2031.7 3284.6,2032.0 3285.1,2032.6 3285.7,2032.4 3286.2,2031.8 3286.8,2028.3 3287.4,2024.9 3287.9,2025.3 3288.5,2028.0 3289.0,2029.2 3289.6,2027.4 3290.2,2025.9 3290.7,2025.0 3291.3,2023.9 3291.8,2023.0 3292.4,2022.9 3293.0,2022.3 3293.5,2020.8 3294.1,2019.4 3294.7,2018.3 3295.2,2017.0 3295.8,2014.7 3296.3,2011.7 3296.9,2009.5 3297.5,2008.9 3298.0,2010.3 3298.6,2010.9 3299.1,2010.0 3299.7,2006.7 3300.3,2002.5 3300.8,2000.2 3301.4,1998.3 3301.9,1996.3 3302.5,1994.9 3303.1,1995.9 3303.6,2001.0 3304.2,2006.1 3304.7,2008.4 3305.3,2008.8 3305.9,2007.4 3306.4,2006.7 3307.0,2006.0 3307.6,2005.9 3308.1,2007.2 3308.7,2009.6 3309.2,2011.4 3309.8,2012.4 3310.4,2013.2 3310.9,2014.7 3311.5,2016.0 3312.0,2016.5 3312.6,2017.0 3313.2,2017.7 3313.7,2018.4 3314.3,2019.8 3314.8,2022.4 3315.4,2026.5 3316.0,2027.3 3316.5,2025.8 3317.1,2024.8 3317.6,2025.5 3318.2,2024.7 3318.8,2020.6 3319.3,2018.9 3319.9,2020.1 3320.4,2023.9 3321.0,2023.9 3321.6,2021.3 3322.1,2018.1 3322.7,2017.4 3323.3,2018.1 3323.8,2019.7 3324.4,2020.4 3324.9,2020.3 3325.5,2019.4 3326.1,2017.7 3326.6,2015.9 3327.2,2014.8 3327.7,2014.6 3328.3,2015.6 3328.9,2015.4 3329.4,2012.5 3330.0,2009.8 3330.5,2008.7 3331.1,2008.2 3331.7,2009.1 3332.2,2011.3 3332.8,2011.0 3333.3,2008.8 3333.9,2006.9 3334.5,2007.7 3335.0,2008.3 3335.6,2007.4 3336.2,2005.5 3336.7,2002.9 3337.3,2002.3 3337.8,2004.6 3338.4,2007.6 3339.0,2008.2 3339.5,2006.4 3340.1,2004.6 3340.6,2005.4 3341.2,2005.7 3341.8,2002.3 3342.3,2000.0 3342.9,1999.7 3343.4,2002.0 3344.0,2002.5 3344.6,2001.9 3345.1,2000.6 3345.7,1997.5 3346.2,1995.9 3346.8,1996.3 3347.4,1997.6 3347.9,1998.9 3348.5,2000.5 3349.1,2002.3 3349.6,2001.9 3350.2,1999.5 3350.7,1994.0 3351.3,1989.6 3351.9,1987.3 3352.4,1985.6 3353.0,1983.3 3353.5,1981.2 3354.1,1978.6 3354.7,1973.9 3355.2,1970.0 3355.8,1968.4 3356.3,1969.1 3356.9,1968.3 3357.5,1965.3 3358.0,1962.3 3358.6,1959.0 3359.1,1956.0 3359.7,1955.2 3360.3,1956.4 3360.8,1954.4 3361.4,1951.6 3361.9,1946.2 3362.5,1941.4 3363.1,1940.1 3363.6,1940.3 3364.2,1937.6 3364.8,1932.6 3365.3,1929.5 3365.9,1928.5 3366.4,1928.0 3367.0,1926.3 3367.6,1922.3 3368.1,1918.5 3368.7,1917.3 3369.2,1919.1 3369.8,1920.7 3370.4,1918.7 3370.9,1915.5 3371.5,1914.5 3372.0,1915.8 3372.6,1917.7 3373.2,1917.2 3373.7,1915.1 3374.3,1912.6 3374.8,1912.1 3375.4,1912.7 3376.0,1913.0 3376.5,1913.3 3377.1,1913.4 3377.7,1912.1 3378.2,1908.3 3378.8,1907.4 3379.3,1907.9 3379.9,1910.9 3380.5,1913.8 3381.0,1913.4 3381.6,1912.1 3382.1,1913.1 3382.7,1915.3 3383.3,1915.0 3383.8,1911.7 3384.4,1908.1 3384.9,1907.6 3385.5,1909.4 3386.1,1909.4 3386.6,1908.0 3387.2,1905.6 3387.7,1902.9 3388.3,1901.4 3388.9,1901.5 3389.4,1903.2 3390.0,1904.7 3390.5,1905.5 3391.1,1905.2 3391.7,1901.9 3392.2,1897.5 3392.8,1894.1 3393.4,1890.5 3393.9,1886.9 3394.5,1883.5 3395.0,1881.5 3395.6,1881.1 3396.2,1881.2 3396.7,1880.0 3397.3,1878.2 3397.8,1878.0 3398.4,1878.1 3399.0,1876.5 3399.5,1873.4 3400.1,1871.1 3400.6,1869.7 3401.2,1867.2 3401.8,1864.1 3402.3,1862.6 3402.9,1862.5 3403.4,1865.7 3404.0,1867.3 3404.6,1866.9 3405.1,1864.6 3405.7,1862.1 3406.3,1860.6 3406.8,1858.5 3407.4,1857.2 3407.9,1858.0 3408.5,1857.8 3409.1,1854.5 3409.6,1851.2 3410.2,1849.6 3410.7,1848.9 3411.3,1848.4 3411.9,1847.6 3412.4,1846.3 3413.0,1843.5 3413.5,1839.4 3414.1,1838.3 3414.7,1838.6 3415.2,1841.5 3415.8,1842.3 3416.3,1841.7 3416.9,1840.5 3417.5,1837.1 3418.0,1834.7 3418.6,1834.7 3419.2,1835.3 3419.7,1834.8 3420.3,1833.9 3420.8,1832.2 3421.4,1829.9 3422.0,1828.9 3422.5,1830.0 3423.1,1831.1 3423.6,1828.7 3424.2,1825.6 3424.8,1825.1 3425.3,1824.0 3425.9,1820.0 3426.4,1817.8 3427.0,1818.1 3427.6,1820.5 3428.1,1820.6 3428.7,1820.0 3429.2,1819.4 3429.8,1818.2 3430.4,1816.9 3430.9,1817.3 3431.5,1818.5 3432.0,1818.3 3432.6,1817.0 3433.2,1815.0 3433.7,1812.3 3434.3,1809.2 3434.9,1807.2 3435.4,1805.5 3436.0,1803.8 3436.5,1802.1 3437.1,1800.0 3437.7,1798.6 3438.2,1798.6 3438.8,1798.0 3439.3,1796.6 3439.9,1793.9 3440.5,1789.0 3441.0,1786.8 3441.6,1786.1 3442.1,1788.5 3442.7,1788.4 3443.3,1786.6 3443.8,1783.4 3444.4,1780.8 3444.9,1780.3 3445.5,1779.3 3446.1,1777.6 3446.6,1776.1 3447.2,1775.5 3447.8,1775.3 3448.3,1774.3 3448.9,1773.2 3449.4,1773.7 3450.0,1776.3 3450.6,1777.7 3451.1,1777.6 3451.7,1775.3 3452.2,1773.3 3452.8,1773.8 3453.4,1775.7 3453.9,1777.9 3454.5,1779.6 3455.0,1782.7 3455.6,1786.3 3456.2,1788.4 3456.7,1790.0 3457.3,1791.9 3457.8,1792.4 3458.4,1791.5 3459.0,1792.7 3459.5,1795.3 3460.1,1796.0 3460.6,1794.8 3461.2,1794.8 3461.8,1795.7 3462.3,1797.2 3462.9,1801.2 3463.5,1803.8 3464.0,1804.6 3464.6,1804.7 3465.1,1804.0 3465.7,1802.0 3466.3,1799.4 3466.8,1798.5 3467.4,1800.3 3467.9,1802.0 3468.5,1800.8 3469.1,1798.3 3469.6,1798.1 3470.2,1799.2 3470.7,1798.9 3471.3,1797.7 3471.9,1797.3 3472.4,1797.5 3473.0,1797.7 3473.5,1798.1 3474.1,1798.8 3474.7,1798.9 3475.2,1798.4 3475.8,1797.1 3476.4,1794.6 3476.9,1792.4 3477.5,1791.4 3478.0,1792.5 3478.6,1795.3 3479.2,1796.1 3479.7,1796.4 3480.3,1796.1 3480.8,1796.0 3481.4,1797.4 3482.0,1800.6 3482.5,1806.4 3483.1,1809.8 3483.6,1811.2 3484.2,1809.4 3484.8,1809.3 3485.3,1811.8 3485.9,1814.7 3486.4,1814.6 3487.0,1813.9 3487.6,1815.5 3488.1,1818.8 3488.7,1821.1 3489.3,1821.9 3489.8,1823.2 3490.4,1825.7 3490.9,1827.0 3491.5,1826.8 3492.1,1823.5 3492.6,1821.1 3493.2,1821.0 3493.7,1821.7 3494.3,1823.1 3494.9,1826.0 3495.4,1830.3 3496.0,1834.1 3496.5,1836.4 3497.1,1837.8 3497.7,1838.7 3498.2,1840.5 3498.8,1842.7 3499.3,1843.1 3499.9,1841.1 3500.5,1840.6 3501.0,1841.9 3501.6,1844.1 3502.1,1845.2 3502.7,1844.8 3503.3,1843.5 3503.8,1844.5 3504.4,1848.5 3505.0,1850.5 3505.5,1851.2 3506.1,1851.0 3506.6,1853.8 3507.2,1855.9 3507.8,1854.1 3508.3,1854.3 3508.9,1855.7 3509.4,1859.0 3510.0,1863.3 3510.6,1864.2 3511.1,1863.4 3511.7,1863.8 3512.2,1866.0 3512.8,1867.7 3513.4,1868.0 3513.9,1868.5 3514.5,1869.4 3515.0,1868.8 3515.6,1868.6 3516.2,1870.3 3516.7,1875.0 3517.3,1877.1 3517.9,1877.9 3518.4,1878.7 3519.0,1879.7 3519.5,1879.6 3520.1,1880.2 3520.7,1883.0 3521.2,1884.6 3521.8,1883.8 3522.3,1880.7 3522.9,1880.0 3523.5,1879.8 3524.0,1879.9 3524.6,1879.9 3525.1,1880.2 3525.7,1879.4 3526.3,1877.5 3526.8,1877.0 3527.4,1878.3 3527.9,1878.0 3528.5,1876.8 3529.1,1875.4 3529.6,1875.2 3530.2,1875.8 3530.7,1876.2 3531.3,1876.5 3531.9,1877.0 3532.4,1877.1 3533.0,1876.8 3533.6,1876.5 3534.1,1876.0 3534.7,1874.9 3535.2,1874.3 3535.8,1874.8 3536.4,1876.1 3536.9,1876.0 3537.5,1876.4 3538.0,1878.3 3538.6,1884.2 3539.2,1886.7 3539.7,1885.5 3540.3,1885.4 3540.8,1890.0 3541.4,1893.3 3542.0,1894.7 3542.5,1894.4 3543.1,1896.6 3543.6,1902.1 3544.2,1908.3 3544.8,1913.0 3545.3,1916.0 3545.9,1917.8 3546.5,1921.2 3547.0,1925.9 3547.6,1930.8 3548.1,1935.0 3548.7,1938.5 3549.3,1942.5 3549.8,1947.7 3550.4,1952.4 3550.9,1954.5 3551.5,1955.0 3552.1,1954.8" stroke="#ff0000" stroke-width="6.25" stroke-linejoin="round" fill="none"/><path d="M355.50,2212.30v15.18M916.30,2212.30v15.18M1477.10,2212.30v15.18M2037.90,2212.30v15.18M2598.70,2212.30v15.18M3159.50,2212.30v15.18M355.50,1764.30h-15.18M355.50,1922.90h-15.18M355.50,2081.50h-15.18" stroke="#000" stroke-width="3.333" fill="none"/><rect x="355.50" y="1633.50" width="3197.00" height="578.80" fill="none" stroke="#000" stroke-width="3.333"/></g>
<g font-family="'Liberation Sans', sans-serif" fill="#000" style="opacity:0.999;text-rendering:geometricPrecision"><text x="343.25" y="720.10" font-size="44.15" textLength="24.41" lengthAdjust="spacingAndGlyphs">0</text><text x="890.92" y="720.10" font-size="44.15" textLength="50.91" lengthAdjust="spacingAndGlyphs">10</text><text x="1451.37" y="720.10" font-size="44.15" textLength="51.28" lengthAdjust="spacingAndGlyphs">20</text><text x="2012.84" y="720.10" font-size="44.15" textLength="50.58" lengthAdjust="spacingAndGlyphs">30</text><text x="2573.15" y="720.10" font-size="44.15" textLength="51.09" lengthAdjust="spacingAndGlyphs">40</text><text x="3134.31" y="720.10" font-size="44.15" textLength="50.72" lengthAdjust="spacingAndGlyphs">50</text><text x="260.99" y="144.56" font-size="44.15" textLength="64.39" lengthAdjust="spacingAndGlyphs">0.4</text><text x="261.02" y="265.28" font-size="44.15" textLength="63.37" lengthAdjust="spacingAndGlyphs">0.2</text><text x="260.99" y="386.00" font-size="44.15" textLength="64.27" lengthAdjust="spacingAndGlyphs">0.0</text><text x="227.16" y="506.72" font-size="44.15" textLength="97.41" lengthAdjust="spacingAndGlyphs">−0.2</text><text x="227.13" y="627.44" font-size="44.15" textLength="98.34" lengthAdjust="spacingAndGlyphs">−0.4</text><text x="1833.69" y="791.80" font-size="61.81" textLength="238.12" lengthAdjust="spacingAndGlyphs">Time (s)</text><text x="343.25" y="1495.30" font-size="44.15" textLength="24.41" lengthAdjust="spacingAndGlyphs">0</text><text x="890.92" y="1495.30" font-size="44.15" textLength="50.91" lengthAdjust="spacingAndGlyphs">10</text><text x="1451.37" y="1495.30" font-size="44.15" textLength="51.28" lengthAdjust="spacingAndGlyphs">20</text><text x="2012.84" y="1495.30" font-size="44.15" textLength="50.58" lengthAdjust="spacingAndGlyphs">30</text><text x="2573.15" y="1495.30" font-size="44.15" textLength="51.09" lengthAdjust="spacingAndGlyphs">40</text><text x="3134.31" y="1495.30" font-size="44.15" textLength="50.72" lengthAdjust="spacingAndGlyphs">50</text><text x="207.95" y="879.20" font-size="44.15" textLength="117.54" lengthAdjust="spacingAndGlyphs">0.004</text><text x="207.96" y="1020.20" font-size="44.15" textLength="116.56" lengthAdjust="spacingAndGlyphs">0.002</text><text x="207.95" y="1161.20" font-size="44.15" textLength="117.44" lengthAdjust="spacingAndGlyphs">0.000</text><text x="174.17" y="1302.20" font-size="44.15" textLength="150.32" lengthAdjust="spacingAndGlyphs">−0.002</text><text x="174.15" y="1443.20" font-size="44.15" textLength="151.26" lengthAdjust="spacingAndGlyphs">−0.004</text><text x="1833.69" y="1567.00" font-size="61.81" textLength="238.12" lengthAdjust="spacingAndGlyphs">Time (s)</text><text x="343.25" y="2272.10" font-size="44.15" textLength="24.41" lengthAdjust="spacingAndGlyphs">0</text><text x="890.92" y="2272.10" font-size="44.15" textLength="50.91" lengthAdjust="spacingAndGlyphs">10</text><text x="1451.37" y="2272.10" font-size="44.15" textLength="51.28" lengthAdjust="spacingAndGlyphs">20</text><text x="2012.84" y="2272.10" font-size="44.15" textLength="50.58" lengthAdjust="spacingAndGlyphs">30</text><text x="2573.15" y="2272.10" font-size="44.15" textLength="51.09" lengthAdjust="spacingAndGlyphs">40</text><text x="3134.31" y="2272.10" font-size="44.15" textLength="50.72" lengthAdjust="spacingAndGlyphs">50</text><text x="154.93" y="1779.00" font-size="44.15" textLength="169.68" lengthAdjust="spacingAndGlyphs">0.00005</text><text x="154.92" y="1937.60" font-size="44.15" textLength="170.43" lengthAdjust="spacingAndGlyphs">0.00000</text><text x="121.16" y="2096.20" font-size="44.15" textLength="203.63" lengthAdjust="spacingAndGlyphs">−0.00005</text><text x="1833.69" y="2343.80" font-size="61.81" textLength="238.12" lengthAdjust="spacingAndGlyphs">Time (s)</text><text transform="translate(196.10,679.05) rotate(-90)" x="0.24" y="0" font-size="61.81" textLength="614.52" lengthAdjust="spacingAndGlyphs">Acceleration (cm/s/s)</text><text transform="translate(142.00,1365.50) rotate(-90)" x="-0.27" y="0" font-size="61.81" textLength="435.51" lengthAdjust="spacingAndGlyphs">Velocity (cm/s)</text><text transform="translate(88.90,2199.88) rotate(-90)" x="0.26" y="0" font-size="61.81" textLength="552.94" lengthAdjust="spacingAndGlyphs">Displacement (cm)</text></g>
</svg>
</body></html>
